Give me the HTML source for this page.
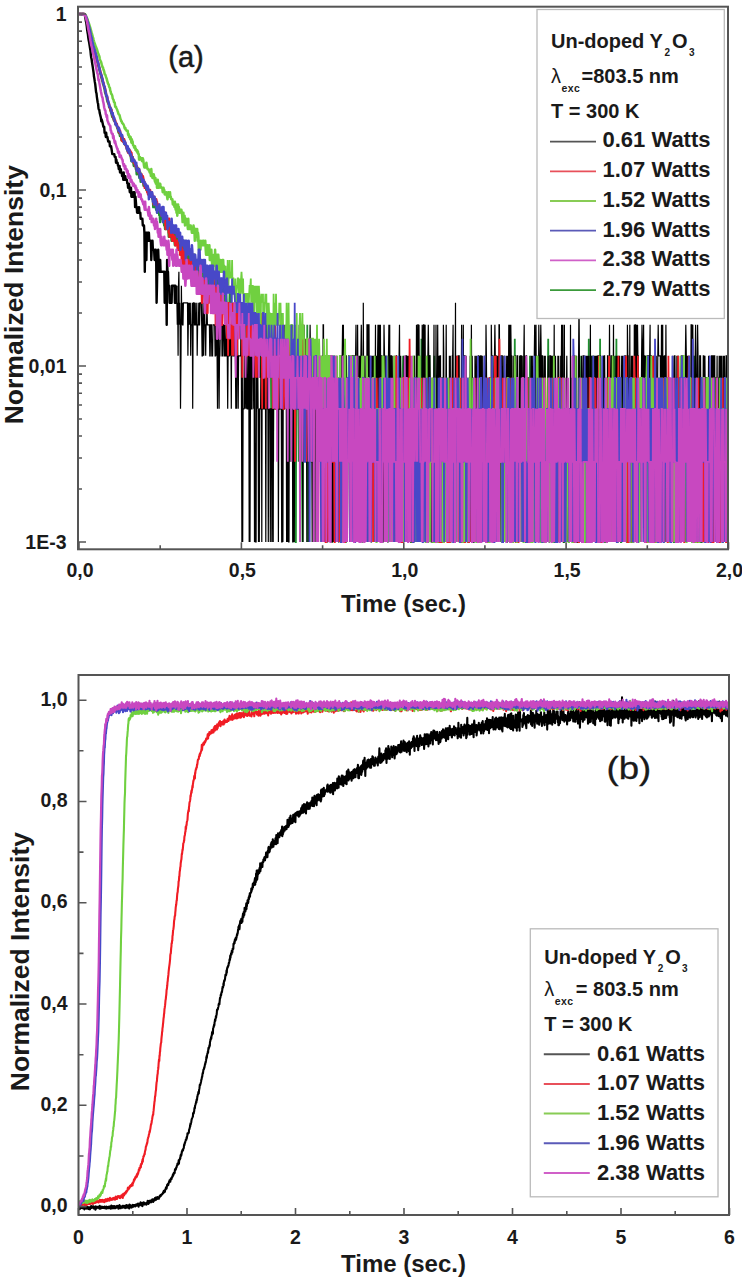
<!DOCTYPE html>
<html><head><meta charset="utf-8"><title>Figure</title>
<style>html,body{margin:0;padding:0;background:#fff;}body{width:742px;height:1280px;overflow:hidden;font-family:"Liberation Sans",sans-serif;}svg{display:block;}</style>
</head><body>
<svg width="742" height="1280" viewBox="0 0 742 1280">
<defs><clipPath id="ca"><rect x="78.0" y="6.7" width="650.0" height="542.6"/></clipPath>
<clipPath id="cb"><rect x="78.5" y="675.0" width="650.5" height="540.0"/></clipPath></defs>
<g clip-path="url(#ca)" fill="none" stroke-width="1.8" stroke-linejoin="miter">
<path stroke="#209030" stroke-width="2.5" stroke-linejoin="round" d="M79 14.4l0.4 -0.4 0.4 0.2 0.4 -0.2 0.4 0 0.4 0.2 0.4 0.2 0.4 -0.4 0.4 0 0.5 0.4 0.4 -0.4 0.4 0 0.4 0.2 0.4 -0.2 0.4 0.7 0.4 0.4 0.4 0.4 0.4 1.4 0.4 0.7 0.4 0.9 0.4 1.4 0.4 1.9 0.4 1.2 0.4 2.3 0.4 1.5 0.5 1.6 0.4 2.4 0.4 1.4 0.4 1.4 0.4 1.7 0.4 2.3 0.4 1.8 0.4 2.5 0.4 1.9 0.4 1.6 0.4 1 0.4 1.4 0.4 2 0.4 1.8 0.4 1.1 0.4 1.4 0.5 1.5 0.4 1.2 0.4 1.9 0.4 1.6 0.4 2 0.4 0.8 0.4 1.3 0.4 2.1 0.4 1.4 0.4 1.3 0.4 1.8 0.4 1.4 0.4 1.4 0.4 1.5 0.4 2.5 0.4 0.5 0.5 2.5 0.4 0.6 0.4 2.6 0.4 0.6 0.4 1.1 0.4 2.3 0.4 1.1 0.4 3 0.4 1.2 0.4 0 0.4 3.2 0.4 0 0.4 3.2 0.4 1.4 0.4 1.4 0.4 0.7 0.5 0.7 0.4 2.9 0.4 0.7 0.4 -0.7 0.4 3 0.4 1.5 0.4 0.8 0.4 1.6 0.4 1.6 0.4 1.7 0.4 -0.9 0.4 1.7 0.4 0.9 0.4 1.7 0.4 -0.9 0.4 1.8 0.5 0.9 0.4 1.8 0.4 0 0.4 0.9 0.4 1 0.4 1.9 0.4 0.9 0.4 1 0.4 2 0.4 1.1 0.4 -1.1 0.4 2.1 0.4 2.1 0.4 -1 0.4 0 0.4 2.1 0.5 3.4 0.4 -2.3 0.4 0 0.4 2.3 0.4 1.1 0.4 -2.3 0.4 1.2 0.4 3.5 0.4 -1.2 0.4 2.4 0.4 0 0.4 0 0.4 1.2 0.4 2.5 0.4 1.3 0.4 1.3 0.4 0 0.5 -1.3 0.4 2.6 0.4 0 0.4 1.4 0.4 1.4 0.4 0 0.4 2.8 0.4 2.9 0.4 -1.5 0.4 1.5 0.4 -4.3 0.4 4.3 0.4 1.5 0.4 3.2 0.4 -3.2 0.4 3.2 0.5 -3.2 0.4 1.6 0.4 4.8 0.4 -1.6 0.4 6.8 0.4 -3.5 0.4 -3.3 0.4 1.6 0.4 1.7 0.4 1.7 0.4 3.6 0.4 1.8 0.4 -3.6 0.4 -1.8 0.4 9.2 0.4 -5.6 0.5 1.8 0.4 0 0.4 3.8 0.4 0 0.4 0 0.4 4.1 0.4 0 0.4 0 0.4 0 0.4 0 0.4 0 0.4 2 0.4 2.2 0.4 0 0.4 -2.2 0.4 2.2 0.5 2.2 0.4 -2.2 0.4 0 0.4 0 0.4 4.5 0.4 0 0.4 0 0.4 2.3 0.4 -2.3 0.4 2.3 0.4 0 0.4 2.5 0.4 -2.5 0.4 10.3 0.4 -5.3 0.4 0 0.5 5.3 0.4 -7.8 0.4 7.8 0.4 0 0.4 2.7 0.4 -5.4 0.4 2.7 0.4 5.6 0.4 -2.9 0.4 0 0.4 -2.7 0.4 5.6 0.4 3 0.4 0 0.4 6.4 0.4 -3.3 0.5 -6.1 0.4 3 0.4 3.1 0.4 0 0.4 -3.1 0.4 3.1 0.4 0 0.4 3.3 0.4 3.4 0.4 -6.7 0.4 10.2 0.4 0 0.4 0 0.4 0 0.4 0 0.4 0 0.4 -3.5 0.5 3.5 0.4 0 0.4 7.7 0.4 0 0.4 -7.7 0.4 7.7 0.4 -7.7 0.4 7.7 0.4 -3.9 0.4 8 0.4 -4.1 0.4 4.1 0.4 -4.1 0.4 -3.9 0.4 8 0.4 -11.8 0.5 11.8 0.4 4.4 0.4 -4.4 0.4 4.4 0.4 -12.4 0.4 8 0.4 -4.1 0.4 4.1 0.4 -8 0.4 8 0.4 4.4 0.4 4.6 0.4 0 0.4 -4.6 0.4 0 0.4 0 0.5 9.6 0.4 -9.6 0.4 4.6 0.4 5 0.4 -5 0.4 15.9 0.4 -15.9 0.4 -9 0.4 19.2 0.4 -5.2 0.4 10.9 0.4 -5.7 0.4 -10.2 0.4 10.2 0.4 -5.2 0.4 5.2 0.5 0 0.4 -5.2 0.4 0 0.4 -5 0.4 5 0.4 10.9 0.4 -15.9 0.4 5 0.4 17 0.4 -11.8 0.4 -5.2 0.4 0 0.4 5.2 0.4 11.8 0.4 -6.1 0.4 12.8 0.5 -12.8 0.4 -10.9 0.4 5.2 0.4 0 0.4 11.8 0.4 0 0.4 6.7 0.4 -12.8 0.4 6.1 0.4 0 0.4 -11.8 0.4 25.8 0.4 -7.3 0.4 -6.7 0.4 0 0.4 0 0.5 14 0.4 -14 0.4 0 0.4 0 0.4 14 0.4 -14 0.4 0 0.4 6.7 0.4 0 0.4 0 0.4 -12.8 0.4 37.1 0.4 -17 0.4 8 0.4 -15.3 0.4 7.3 0.5 0 0.4 -14 0.4 22 0.4 -8 0.4 0 0.4 8 0.4 -15.3 0.4 0 0.4 7.3 0.4 17 0.4 -31 0.4 6.7 0.4 7.3 0.4 0 0.4 0 0.4 -7.3 0.4 7.3 0.5 8 0.4 -8 0.4 0 0.4 8 0.4 9 0.4 -24.3 0.4 7.3 0.4 -7.3 0.4 15.3 0.4 9 0.4 -17 0.4 -7.3 0.4 7.3 0.4 8 0.4 -15.3 0.4 24.3 0.5 10.2 0.4 -10.2 0.4 0 0.4 -9 0.4 -8 0.4 8 0.4 -8 0.4 17 0.4 -17 0.4 27.2 0.4 -27.2 0.4 27.2 0.4 -19.2"/>
<path stroke="#209030" d="M225.2 293.8l0.4 9 0.4 -9 0.4 0 0.5 9 0.4 0 0.4 0 0.4 22 0.4 -11.8 0.4 11.8 0.4 -22 0.4 -17 0.4 17 0.4 10.2 0.4 0 0.4 -19.2 0.4 19.2 0.4 11.8 0.4 0 0.4 0 0.5 0 0.4 -22 0.4 10.2 0.4 25.7 0.4 -13.9 0.4 0 0.4 0 0.4 13.9 0.4 -44.9 0.4 19.2 0.4 0 0.4 -10.2 0.4 22 0.4 -11.8 0.4 0 0.4 0 0.5 -19.2 0.4 19.2 0.4 11.8 0.4 -11.8 0.4 -10.2 0.4 10.2 0.4 11.8 0.4 13.9 0.4 0 0.4 0 0.4 -25.7 0.4 0 0.4 42.8 0.4 -31 0.4 13.9 0.4 -25.7 0.5 0 0.4 25.7 0.4 0 0.4 0 0.4 -13.9 0.4 31 0.4 0 0.4 -17.1 0.4 -25.7 0.4 -10.2 0.4 22 0.4 31 0.4 -31 0.4 31 0.4 -31 0.4 31 0.4 -17.1 0.5 0 0.4 -13.9 0.4 13.9 0.4 -25.7 0.4 25.7 0.4 39.1 0.4 -53 0.4 13.9 0.4 17.1 0.4 -42.8 0.4 42.8 0.4 -17.1 0.4 17.1 0.4 -31 0.4 31 0.4 -17.1 0.5 39.1 0.4 -53 0.4 53 0.4 -53 0.4 0 0.4 0 0.4 -11.8 0.4 64.8 0.4 -39.1 0.4 0 0.4 0 0.4 -13.9 0.4 31 0.4 22 0.4 -22 0.4 -31 0.5 53 0.4 -22 0.4 22 0.4 -39.1 0.4 70.1 0.4 -53 0.4 0 0.4 0 0.4 -42.8 0.4 11.8 0.4 53 0.4 -53 0.4 84 0.4 0 0.4 0 0.4 -53 0.5 0 0.4 106 0.4 -106 0.4 22 0.4 -22 0.4 22 0.4 -22 0.4 0 0.4 53 0.4 -70.1 0.4 17.1 0.4 0 0.4 -17.1 0.4 70.1 0.4 -31 0.4 31 0.5 0 0.4 -53 0.4 0 0.4 -17.1 0.4 0 0.4 39.1 0.4 31 0.4 -95.8 0.4 25.7 0.4 39.1 0.4 31 0.4 -31 0.4 0 0.4 -22 0.4 0 0.4 22 0.5 0 0.4 0 0.4 31 0.4 -31 0.4 0 0.4 0 0.4 84 0.4 -53 0.4 0 0.4 53 0.4 -53 0.4 53 0.4 -53 0.4 0 0.4 0 0.4 0 0.5 -53 0.4 22 0.4 0 0.4 0 0.4 31 0.4 0 0.4 -31 0.4 31 0.4 133.2 0.4 0 0.4 -164.2 0.4 31 0.4 0 0.4 0 0.4 0 0.4 0 0.4 53 0.5 -53 0.4 -31 0.4 0 0.4 164.2 0.4 -80.2 0.4 0 0.4 -53 0.4 -31 0.4 0 0.4 164.2 0.4 -133.2 0.4 -31 0.4 31 0.4 -53 0.4 106 0.4 -84 0.5 -39.1 0.4 123.1 0.4 -53 0.4 -31 0.4 -53 0.4 217.2 0.4 -164.2 0.4 31 0.4 0 0.4 53 0.4 0 0.4 -53 0.4 53 0.4 -106 0.4 106 0.4 -53 0.5 53 0.4 0 0.4 -53 0.4 53 0.4 -53 0.4 -53 0.4 22 0.4 31 0.4 -31 0.4 84 0.4 -53 0.4 133.2 0.4 -80.2 0.4 0 0.4 -84 0.4 31 0.5 0 0.4 0 0.4 0 0.4 0 0.4 -31 0.4 31 0.4 53 0.4 0 0.4 -84 0.4 0 0.4 31 0.4 133.2 0.4 -164.2 0.4 31 0.4 0 0.4 0 0.5 53 0.4 -106 0.4 0 0.4 106 0.4 0 0.4 -53 0.4 -31 0.4 164.2 0.4 -164.2 0.4 -22 0.4 106 0.4 -53 0.4 -31 0.4 31 0.4 133.2 0.4 0 0.5 0 0.4 0 0.4 -133.2 0.4 53 0.4 -53 0.4 0 0.4 -53 0.4 53 0.4 133.2 0.4 -164.2 0.4 84 0.4 -84 0.4 84 0.4 -53 0.4 53 0.4 -53 0.5 -31 0.4 84 0.4 -53 0.4 0 0.4 53 0.4 80.2 0.4 -133.2 0.4 133.2 0.4 0 0.4 -80.2 0.4 -53 0.4 0 0.4 0 0.4 0 0.4 53 0.4 -84 0.4 84 0.5 -84 0.4 164.2 0.4 0 0.4 -80.2 0.4 0 0.4 80.2 0.4 -133.2 0.4 -31 0.4 31 0.4 53 0.4 -84 0.4 84 0.4 -53 0.4 53 0.4 0 0.4 0 0.5 0 0.4 -84 0.4 0 0.4 0 0.4 31 0.4 0 0.4 0 0.4 -31 0.4 84 0.4 0 0.4 0 0.4 80.2 0.4 -80.2 0.4 0 0.4 80.2 0.4 -80.2 0.5 -53 0.4 53 0.4 -53 0.4 -31 0.4 84 0.4 80.2 0.4 -80.2 0.4 -53 0.4 133.2 0.4 -133.2 0.4 53 0.4 0 0.4 80.2 0.4 -80.2 0.4 -53 0.4 0 0.5 0 0.4 53 0.4 -84 0.4 0 0.4 84 0.4 80.2 0.4 -80.2 0.4 -106 0.4 106 0.4 80.2 0.4 -164.2 0.4 84 0.4 -53 0.4 0 0.4 133.2 0.4 -133.2 0.5 -31 0.4 84 0.4 -53 0.4 53 0.4 -84 0.4 0 0.4 164.2 0.4 -80.2 0.4 -53 0.4 53 0.4 80.2 0.4 -80.2 0.4 0 0.4 0 0.4 -53 0.4 0 0.5 0 0.4 0 0.4 -31 0.4 164.2 0.4 -80.2 0.4 -53 0.4 0 0.4 133.2 0.4 -164.2 0.4 164.2 0.4 -133.2 0.4 0 0.4 -31 0.4 84 0.4 0 0.4 -53 0.4 0 0.5 0 0.4 53 0.4 0 0.4 80.2 0.4 -164.2 0.4 164.2 0.4 -133.2 0.4 0 0.4 0 0.4 0 0.4 -31 0.4 84 0.4 -53 0.4 133.2 0.4 -80.2 0.4 80.2 0.5 -80.2 0.4 -84 0.4 84 0.4 -84 0.4 84 0.4 -53 0.4 53 0.4 80.2 0.4 -80.2 0.4 0 0.4 -53 0.4 53 0.4 0 0.4 -53 0.4 0 0.4 53 0.5 -53 0.4 133.2 0.4 -80.2 0.4 0 0.4 -84 0.4 84 0.4 80.2 0.4 -133.2 0.4 -31 0.4 84 0.4 0 0.4 0 0.4 0 0.4 -84 0.4 -22 0.4 53 0.5 53 0.4 -84 0.4 84 0.4 0 0.4 0 0.4 0 0.4 -53 0.4 53 0.4 -53 0.4 53 0.4 -53 0.4 53 0.4 0 0.4 -53 0.4 53 0.4 0 0.5 -84 0.4 164.2 0.4 0 0.4 -133.2 0.4 53 0.4 -84 0.4 84 0.4 80.2 0.4 -186.2 0.4 53 0.4 53 0.4 0 0.4 -53 0.4 53 0.4 -53 0.4 -31 0.5 164.2 0.4 -80.2 0.4 -53 0.4 -31 0.4 31 0.4 53 0.4 -84 0.4 84 0.4 0 0.4 -53 0.4 133.2 0.4 -203.3 0.4 39.1 0.4 31 0.4 53 0.4 80.2 0.5 -133.2 0.4 0 0.4 53 0.4 0 0.4 -53 0.4 53 0.4 80.2 0.4 -133.2 0.4 0 0.4 0 0.4 53 0.4 80.2 0.4 0 0.4 -133.2 0.4 -53 0.4 0 0.4 53 0.5 133.2 0.4 -80.2 0.4 -53 0.4 0 0.4 53 0.4 -84 0.4 164.2 0.4 0 0.4 0 0.4 0 0.4 -186.2 0.4 106 0.4 80.2 0.4 -133.2 0.4 0 0.4 53 0.5 -53 0.4 0 0.4 0 0.4 53 0.4 -53 0.4 0 0.4 0 0.4 0 0.4 0 0.4 53 0.4 0 0.4 -53 0.4 53 0.4 -84 0.4 0 0.4 164.2 0.5 -80.2 0.4 80.2 0.4 -80.2 0.4 0 0.4 0 0.4 -53 0.4 0 0.4 0 0.4 133.2 0.4 -80.2 0.4 -84 0.4 164.2 0.4 -164.2 0.4 84 0.4 -84 0.4 164.2 0.5 -80.2 0.4 -53 0.4 53 0.4 -53 0.4 133.2 0.4 -80.2 0.4 0 0.4 -53 0.4 0 0.4 53 0.4 0 0.4 0 0.4 0 0.4 80.2 0.4 -80.2 0.4 0 0.5 0 0.4 0 0.4 -84 0.4 84 0.4 -53 0.4 -31 0.4 31 0.4 53 0.4 -53 0.4 133.2 0.4 0 0.4 -80.2 0.4 0 0.4 0 0.4 -84 0.4 0 0.5 84 0.4 -53 0.4 133.2 0.4 -133.2 0.4 133.2 0.4 -164.2 0.4 84 0.4 -53 0.4 133.2 0.4 -164.2 0.4 31 0.4 -31 0.4 84 0.4 80.2 0.4 0 0.4 0 0.4 -164.2 0.5 84 0.4 80.2 0.4 -133.2 0.4 0 0.4 0 0.4 53 0.4 80.2 0.4 0 0.4 0 0.4 -164.2 0.4 31 0.4 53 0.4 -53 0.4 0 0.4 0 0.4 0 0.5 0 0.4 53 0.4 80.2 0.4 0 0.4 -164.2 0.4 31 0.4 133.2 0.4 -133.2 0.4 133.2 0.4 -80.2 0.4 80.2 0.4 -133.2 0.4 53 0.4 -53 0.4 -31 0.4 0 0.5 0 0.4 31 0.4 0 0.4 53 0.4 -53 0.4 53 0.4 80.2 0.4 -164.2 0.4 31 0.4 133.2 0.4 0 0.4 -80.2 0.4 80.2 0.4 -164.2 0.4 31 0.4 0 0.5 0 0.4 -31 0.4 84 0.4 -53 0.4 0 0.4 0 0.4 0 0.4 -31 0.4 31 0.4 53 0.4 0 0.4 80.2 0.4 -133.2 0.4 -31 0.4 84 0.4 80.2 0.5 -80.2 0.4 0 0.4 0 0.4 0 0.4 0 0.4 80.2 0.4 -164.2 0.4 84 0.4 -53 0.4 0 0.4 53 0.4 -53 0.4 53 0.4 0 0.4 0 0.4 -53 0.5 133.2 0.4 0 0.4 0 0.4 -80.2 0.4 -84 0.4 84 0.4 0 0.4 0 0.4 -84 0.4 164.2 0.4 -133.2 0.4 133.2 0.4 0 0.4 -164.2 0.4 0 0.4 31 0.5 53 0.4 -53 0.4 53 0.4 -84 0.4 0 0.4 31 0.4 133.2 0.4 -133.2 0.4 53 0.4 0 0.4 0 0.4 0 0.4 -53 0.4 0 0.4 0 0.4 -70.1 0.4 123.1 0.5 -84 0.4 84 0.4 0 0.4 80.2 0.4 -164.2 0.4 31 0.4 0 0.4 53 0.4 -53 0.4 53 0.4 -53 0.4 -53 0.4 106 0.4 0 0.4 80.2 0.4 -133.2 0.5 53 0.4 0 0.4 80.2 0.4 -80.2 0.4 80.2 0.4 -186.2 0.4 106 0.4 0 0.4 0 0.4 80.2 0.4 0 0.4 -80.2 0.4 0 0.4 80.2 0.4 -164.2 0.4 31 0.5 -31 0.4 0 0.4 84 0.4 -106 0.4 53 0.4 133.2 0.4 0 0.4 -80.2 0.4 -53 0.4 53 0.4 -84 0.4 84 0.4 -53 0.4 0 0.4 133.2 0.4 -133.2 0.5 0 0.4 -31 0.4 0 0.4 31 0.4 53 0.4 -53 0.4 -31 0.4 84 0.4 -53 0.4 0 0.4 -31 0.4 84 0.4 -53 0.4 0 0.4 53 0.4 0 0.5 0 0.4 80.2 0.4 -80.2 0.4 -53 0.4 0 0.4 0 0.4 53 0.4 -84 0.4 84 0.4 -53 0.4 0 0.4 53 0.4 0 0.4 -53 0.4 53 0.4 -53 0.5 -70.1 0.4 70.1 0.4 0 0.4 0 0.4 53 0.4 0 0.4 -53 0.4 133.2 0.4 -80.2 0.4 0 0.4 -53 0.4 133.2 0.4 -164.2 0.4 84 0.4 -53 0.4 133.2 0.5 0 0.4 -80.2 0.4 0 0.4 -53 0.4 133.2 0.4 0 0.4 -133.2 0.4 0 0.4 0 0.4 53 0.4 -53 0.4 53 0.4 -84 0.4 0 0.4 0 0.4 164.2 0.4 -133.2 0.5 53 0.4 -53 0.4 0 0.4 -31 0.4 84 0.4 0 0.4 80.2 0.4 0 0.4 -133.2 0.4 133.2 0.4 -133.2 0.4 53 0.4 0 0.4 -53 0.4 0 0.4 133.2 0.5 -80.2 0.4 0 0.4 -53 0.4 53 0.4 0 0.4 0 0.4 -53 0.4 0 0.4 53 0.4 -84 0.4 31 0.4 133.2 0.4 0 0.4 -80.2 0.4 80.2 0.4 -133.2 0.5 0 0.4 -31 0.4 31 0.4 133.2 0.4 -80.2 0.4 -53 0.4 133.2 0.4 0 0.4 -133.2 0.4 53 0.4 80.2 0.4 -80.2 0.4 0 0.4 -106 0.4 106 0.4 80.2 0.5 -133.2 0.4 0 0.4 0 0.4 -31 0.4 84 0.4 80.2 0.4 -80.2 0.4 0 0.4 -53 0.4 0 0.4 53 0.4 -53 0.4 0 0.4 53 0.4 -53 0.4 0 0.5 0 0.4 53 0.4 -53 0.4 -70.1 0.4 70.1 0.4 133.2 0.4 -80.2 0.4 0 0.4 -53 0.4 53 0.4 -106 0.4 53 0.4 -31 0.4 84 0.4 0 0.4 -106 0.5 186.2 0.4 -133.2 0.4 133.2 0.4 -164.2 0.4 164.2 0.4 -80.2 0.4 0 0.4 80.2 0.4 -186.2 0.4 106 0.4 -84 0.4 84 0.4 80.2 0.4 -133.2 0.4 0 0.4 -70.1 0.4 203.3 0.5 0 0.4 -80.2 0.4 -53 0.4 0 0.4 53 0.4 0 0.4 -53 0.4 -31 0.4 84 0.4 0 0.4 80.2 0.4 0 0.4 -133.2 0.4 53 0.4 0 0.4 -84 0.5 84 0.4 80.2 0.4 -133.2 0.4 0 0.4 133.2 0.4 -133.2 0.4 -31 0.4 84 0.4 80.2 0.4 -80.2 0.4 -84 0.4 84 0.4 0 0.4 0 0.4 -53 0.4 0 0.5 53 0.4 -84 0.4 -22 0.4 106 0.4 -53 0.4 0 0.4 -70.1 0.4 203.3 0.4 -80.2 0.4 0 0.4 80.2 0.4 -80.2 0.4 -53 0.4 133.2 0.4 -80.2 0.4 -84 0.5 84 0.4 80.2 0.4 0 0.4 -80.2 0.4 80.2 0.4 -133.2 0.4 -31 0.4 31 0.4 133.2 0.4 -133.2 0.4 53 0.4 80.2 0.4 -80.2 0.4 -53 0.4 53 0.4 -53 0.5 -53 0.4 53 0.4 0 0.4 53 0.4 -84 0.4 31 0.4 0 0.4 133.2 0.4 -133.2 0.4 133.2 0.4 -80.2 0.4 80.2 0.4 0 0.4 -164.2 0.4 164.2 0.4 -80.2 0.5 0 0.4 -53 0.4 0 0.4 133.2 0.4 -80.2 0.4 0 0.4 -53 0.4 0 0.4 53 0.4 0 0.4 80.2 0.4 -133.2 0.4 -31 0.4 31 0.4 53 0.4 80.2 0.5 -80.2 0.4 80.2 0.4 -164.2 0.4 84 0.4 0 0.4 -106 0.4 53 0.4 -31 0.4 31 0.4 -31 0.4 84 0.4 0 0.4 -53 0.4 0 0.4 -31 0.4 31 0.4 53 0.5 0 0.4 -53 0.4 53 0.4 0 0.4 -53 0.4 0 0.4 0 0.4 133.2 0.4 0 0.4 -133.2 0.4 53 0.4 0 0.4 -53 0.4 0 0.4 53 0.4 -53 0.5 133.2 0.4 -80.2 0.4 80.2 0.4 0 0.4 -133.2 0.4 133.2 0.4 -80.2 0.4 -53 0.4 0 0.4 133.2 0.4 -133.2 0.4 133.2 0.4 0 0.4 -164.2 0.4 84 0.4 -84 0.5 164.2 0.4 0 0.4 0 0.4 -164.2 0.4 31 0.4 0 0.4 53 0.4 0 0.4 0 0.4 -106 0.4 106 0.4 -84 0.4 84 0.4 -84 0.4 164.2 0.4 -80.2 0.5 -53 0.4 53 0.4 0 0.4 0 0.4 0 0.4 -84 0.4 0 0.4 164.2 0.4 -164.2 0.4 84 0.4 0 0.4 0 0.4 -53 0.4 0 0.4 53 0.4 0 0.5 80.2 0.4 -164.2 0.4 164.2 0.4 0 0.4 -80.2 0.4 0 0.4 -53 0.4 53 0.4 0 0.4 0 0.4 -84 0.4 31 0.4 133.2 0.4 -164.2 0.4 31 0.4 -31 0.5 84 0.4 0 0.4 0 0.4 80.2 0.4 -80.2 0.4 -84 0.4 31 0.4 133.2 0.4 -164.2 0.4 31 0.4 0 0.4 53 0.4 -53 0.4 53 0.4 0 0.4 80.2 0.4 -133.2 0.5 0 0.4 0 0.4 0 0.4 53 0.4 0 0.4 80.2 0.4 -133.2 0.4 0 0.4 53 0.4 80.2 0.4 -164.2 0.4 84 0.4 0 0.4 0 0.4 0 0.4 0 0.5 80.2 0.4 -80.2 0.4 -106 0.4 22 0.4 -22 0.4 106 0.4 80.2 0.4 0 0.4 0 0.4 -164.2 0.4 0 0.4 84 0.4 -53 0.4 0 0.4 53 0.4 -53 0.5 133.2 0.4 -80.2 0.4 0 0.4 80.2 0.4 0 0.4 -133.2 0.4 0 0.4 133.2 0.4 -133.2 0.4 0 0.4 0 0.4 53 0.4 -53 0.4 133.2 0.4 -80.2 0.4 80.2 0.5 -80.2 0.4 -84 0.4 0 0.4 84 0.4 0 0.4 -53 0.4 0 0.4 -31 0.4 31 0.4 133.2 0.4 -80.2 0.4 0 0.4 80.2 0.4 -80.2 0.4 0 0.4 0 0.5 -84 0.4 31 0.4 0 0.4 0 0.4 -31 0.4 164.2 0.4 -164.2 0.4 84 0.4 -84 0.4 0 0.4 31 0.4 53 0.4 -53 0.4 0 0.4 133.2 0.4 -80.2 0.5 0 0.4 -84 0.4 0 0.4 84 0.4 0 0.4 80.2 0.4 -133.2 0.4 0 0.4 -31 0.4 164.2 0.4 -133.2 0.4 53 0.4 0 0.4 0 0.4 0 0.4 -53 0.5 53 0.4 -84 0.4 84 0.4 80.2 0.4 0 0.4 -133.2 0.4 133.2 0.4 -80.2 0.4 -53"/>
<path stroke="#000000" stroke-width="2.4" stroke-linejoin="round" d="M79 14.4l0.4 -0.4 0.4 0 0.4 0 0.4 0 0.4 0 0.4 0 0.4 0 0.4 0 0.5 0 0.4 0 0.4 0.4 0.4 -0.4 0.4 0.4 0.4 0.9 0.4 0.9 0.4 2.3 0.4 2.8 0.4 1.5 0.4 3 0.4 3.6 0.4 2.8 0.4 2.2 0.4 3.5 0.4 2.4 0.5 2.5 0.4 2.6 0.4 2.7 0.4 2.1 0.4 4.3 0.4 3 0.4 1.6 0.4 3.2 0.4 2.5 0.4 2.6 0.4 2.7 0.4 2.8 0.4 3.9 0.4 2 0.4 3.1 0.4 2.1 0.5 4.5 0.4 3.6 0.4 1.2 0.4 3.8 0.4 2.6 0.4 2.8 0.4 1.4 0.4 4.3 0.4 1.6 0.4 0 0.4 3.1 0.4 1.6 0.4 1.6 0.4 1.7 0.4 3.5 0.4 -1.8 0.5 1.8 0.4 1.8 0.4 1.8 0.4 1.9 0.4 0 0.4 0 0.4 6 0.4 0 0.4 0 0.4 4.2 0.4 -4.2 0.4 4.2 0.4 0 0.4 0 0.4 2.2 0.4 2.3 0.5 0 0.4 0 0.4 0 0.4 4.8 0.4 0 0.4 0 0.4 0 0.4 2.5 0.4 2.6 0.4 2.7 0.4 0 0.4 0 0.4 0 0.4 0 0.4 0 0.4 2.8 0.5 0 0.4 0 0.4 5.8 0.4 -3 0.4 3 0.4 0 0.4 0 0.4 3.2 0.4 0 0.4 3.2 0.4 -3.2 0.4 0 0.4 6.6 0.4 0 0.4 -3.4 0.4 3.4 0.5 0 0.4 3.6 0.4 0 0.4 0 0.4 3.7 0.4 -7.3 0.4 7.3 0.4 -3.7 0.4 3.7 0.4 -3.7 0.4 3.7 0.4 0 0.4 0 0.4 0 0.4 3.9 0.4 0 0.4 4.1 0.5 -4.1 0.4 0 0.4 4.1 0.4 4.4 0.4 -4.4 0.4 4.4 0.4 -4.4 0.4 9 0.4 -4.6 0.4 4.6 0.4 0 0.4 0 0.4 -4.6 0.4 4.6 0.4 0 0.4 -4.6 0.5 14.9 0.4 -10.3 0.4 5 0.4 5.3 0.4 0 0.4 5.6 0.4 0 0.4 0 0.4 0 0.4 -5.6 0.4 0 0.4 5.6 0.4 0 0.4 0 0.4 6.1 0.4 0 0.5 0 0.4 0 0.4 0 0.4 6.7 0.4 0 0.4 0 0.4 0 0.4 7.3 0.4 39 0.4 -39 0.4 0 0.4 0 0.4 27.2 0.4 -27.2 0.4 0 0.4 8 0.5 -8 0.4 8 0.4 -8 0.4 8 0.4 0 0.4 0 0.4 0 0.4 0 0.4 19.2 0.4 -10.2 0.4 0 0.4 -9 0.4 9 0.4 0 0.4 0 0.4 0 0.5 10.2 0.4 0 0.4 -10.2 0.4 0 0.4 10.2 0.4 42.8 0.4 -17 0.4 -25.8 0.4 11.8 0.4 -22 0.4 10.2 0.4 0 0.4 11.8 0.4 0 0.4 -11.8 0.4 11.8 0.5 0 0.4 0 0.4 0 0.4 0 0.4 0 0.4 0 0.4 0 0.4 0 0.4 0 0.4 31 0.4 -17 0.4 0 0.4 -14 0.4 14 0.4 39 0.4 -64.8 0.4 11.8 0.5 0 0.4 14 0.4 0 0.4 0 0.4 17 0.4 0 0.4 0 0.4 0 0.4 0 0.4 0 0.4 -17 0.4 0 0.4 0 0.4 0 0.4 0 0.4 0 0.5 0 0.4 17 0.4 -17 0.4 17 0.4 0 0.4 -17"/>
<path stroke="#000000" stroke-width="1.2" d="M176.5 285.8l0.4 17 0.4 22 0.4 -22 0.4 53 0.4 -70 0.4 -14 0.4 53 0.4 -22 0.4 22 0.4 84 0.5 -53 0.4 -70 0.4 39 0.4 -22 0.4 22 0.4 0 0.4 -22 0.4 0 0.4 0 0.4 0 0.4 0 0.4 0 0.4 0 0.4 0 0.4 0 0.4 0 0.5 0 0.4 53 0.4 -31 0.4 -22 0.4 22 0.4 -22 0.4 22 0.4 -22 0.4 53 0.4 -31 0.4 0 0.4 0 0.4 -22 0.4 106 0.4 -84 0.4 -22 0.5 0 0.4 22 0.4 0 0.4 -22 0.4 22 0.4 0 0.4 0 0.4 -22 0.4 53 0.4 -31 0.4 0 0.4 0 0.4 -22 0.4 22 0.4 0 0.4 -22 0.5 0 0.4 0 0.4 0 0.4 22 0.4 31 0.4 0 0.4 -53 0.4 22 0.4 31 0.4 -31 0.4 -22 0.4 22 0.4 0 0.4 31 0.4 -31 0.4 0 0.5 -22 0.4 22 0.4 0 0.4 0 0.4 0 0.4 0 0.4 0 0.4 31 0.4 0 0.4 -31 0.4 0 0.4 0 0.4 31 0.4 0 0.4 0 0.4 -31 0.4 0 0.5 0 0.4 0 0.4 0 0.4 31 0.4 0 0.4 -31 0.4 31 0.4 -31 0.4 31 0.4 53 0.4 -53 0.4 -31 0.4 0 0.4 84 0.4 -53 0.4 0 0.5 -31 0.4 0 0.4 -22 0.4 0 0.4 53 0.4 0 0.4 -31 0.4 0 0.4 0 0.4 31 0.4 0 0.4 -31 0.4 31 0.4 0 0.4 0 0.4 -31 0.5 31 0.4 0 0.4 53 0.4 -53 0.4 -31 0.4 31 0.4 0 0.4 -31 0.4 31 0.4 -31 0.4 0 0.4 84 0.4 -84 0.4 -22 0.4 22 0.4 31 0.5 0 0.4 0 0.4 0 0.4 -31 0.4 31 0.4 0 0.4 53 0.4 -53 0.4 53 0.4 -84 0.4 0 0.4 31 0.4 53 0.4 -53 0.4 0 0.4 0 0.5 0 0.4 0 0.4 0 0.4 -53 0.4 106 0.4 133.2 0.4 -186.2 0.4 186.2 0.4 -133.2 0.4 0 0.4 0 0.4 -53 0.4 0 0.4 53 0.4 -53 0.4 0 0.5 53 0.4 -53 0.4 53 0.4 0 0.4 0 0.4 -84 0.4 31 0.4 186.2 0.4 -186.2 0.4 186.2 0.4 -133.2 0.4 -53 0.4 0 0.4 53 0.4 0 0.4 -84 0.4 31 0.5 0 0.4 53 0.4 -53 0.4 186.2 0.4 -186.2 0.4 186.2 0.4 0 0.4 0 0.4 -186.2 0.4 0 0.4 53 0.4 -53 0.4 53 0.4 133.2 0.4 -133.2 0.4 133.2 0.5 -133.2 0.4 0 0.4 0 0.4 -53 0.4 0 0.4 186.2 0.4 -186.2 0.4 53 0.4 0 0.4 -84 0.4 84 0.4 0 0.4 0 0.4 -53 0.4 0 0.4 186.2 0.5 -186.2 0.4 -31 0.4 0 0.4 84 0.4 0 0.4 133.2 0.4 -133.2 0.4 0 0.4 0 0.4 0 0.4 133.2 0.4 -133.2 0.4 0 0.4 0 0.4 133.2 0.4 -133.2 0.5 0 0.4 133.2 0.4 -186.2 0.4 53 0.4 0 0.4 -53 0.4 53 0.4 0 0.4 -53 0.4 0 0.4 0 0.4 53 0.4 -53 0.4 0 0.4 186.2 0.4 -133.2 0.5 0 0.4 0 0.4 -84 0.4 31 0.4 53 0.4 0 0.4 133.2 0.4 0 0.4 -186.2 0.4 186.2 0.4 -186.2 0.4 53 0.4 0 0.4 0 0.4 -84 0.4 84 0.5 -53 0.4 0 0.4 186.2 0.4 -217.2 0.4 217.2 0.4 -133.2 0.4 -53 0.4 186.2 0.4 0 0.4 -186.2 0.4 53 0.4 -53 0.4 0 0.4 53 0.4 -84 0.4 84 0.5 -84 0.4 217.2 0.4 0 0.4 -133.2 0.4 0 0.4 133.2 0.4 -133.2 0.4 -53 0.4 53 0.4 -53 0.4 0 0.4 53 0.4 0 0.4 0 0.4 0 0.4 0 0.4 0 0.5 -84 0.4 31 0.4 53 0.4 0 0.4 0 0.4 -84 0.4 84 0.4 -84 0.4 84 0.4 133.2 0.4 -217.2 0.4 84 0.4 -84 0.4 31 0.4 53 0.4 -53 0.5 53 0.4 -53 0.4 53 0.4 133.2 0.4 -186.2 0.4 53 0.4 0 0.4 -53 0.4 186.2 0.4 -186.2 0.4 0 0.4 -31 0.4 31 0.4 0 0.4 53 0.4 0 0.5 133.2 0.4 -186.2 0.4 53 0.4 0 0.4 0 0.4 -53 0.4 53 0.4 133.2 0.4 -186.2 0.4 53 0.4 0 0.4 0 0.4 133.2 0.4 -133.2 0.4 0 0.4 133.2 0.5 -133.2 0.4 -53 0.4 0 0.4 53 0.4 0 0.4 0 0.4 0 0.4 133.2 0.4 -186.2 0.4 53 0.4 133.2 0.4 -217.2 0.4 0 0.4 217.2 0.4 -133.2 0.4 133.2 0.5 -186.2 0.4 186.2 0.4 -186.2 0.4 0 0.4 0 0.4 186.2 0.4 0 0.4 -133.2 0.4 -53 0.4 53 0.4 -53 0.4 0 0.4 186.2 0.4 -133.2 0.4 0 0.4 0 0.5 133.2 0.4 -186.2 0.4 53 0.4 133.2 0.4 -186.2 0.4 53 0.4 133.2 0.4 -186.2 0.4 53 0.4 0 0.4 0 0.4 0 0.4 133.2 0.4 -186.2 0.4 53 0.4 0 0.5 0 0.4 133.2 0.4 0 0.4 -133.2 0.4 -53 0.4 53 0.4 0 0.4 0 0.4 0 0.4 -53 0.4 0 0.4 -31 0.4 84 0.4 -84 0.4 84 0.4 0 0.4 133.2 0.5 -133.2 0.4 0 0.4 -53 0.4 0 0.4 53 0.4 133.2 0.4 -133.2 0.4 0 0.4 0 0.4 -53 0.4 0 0.4 53 0.4 0 0.4 133.2 0.4 -133.2 0.4 -53 0.5 186.2 0.4 -186.2 0.4 0 0.4 0 0.4 0 0.4 53 0.4 -53 0.4 0 0.4 0 0.4 53 0.4 -53 0.4 -31 0.4 84 0.4 -53 0.4 53 0.4 -84 0.5 84 0.4 0 0.4 133.2 0.4 -186.2 0.4 186.2 0.4 -186.2 0.4 53 0.4 -53 0.4 -31 0.4 31 0.4 186.2 0.4 0 0.4 0 0.4 -239.2 0.4 106 0.4 0 0.5 0 0.4 -53 0.4 53 0.4 0 0.4 0 0.4 133.2 0.4 -217.2 0.4 0 0.4 84 0.4 0 0.4 -84 0.4 0 0.4 84 0.4 -53 0.4 53 0.4 -53 0.5 186.2 0.4 0 0.4 -186.2 0.4 53 0.4 -53 0.4 53 0.4 -53 0.4 53 0.4 0 0.4 -53 0.4 53 0.4 -84 0.4 217.2 0.4 -133.2 0.4 -53 0.4 53 0.5 -53 0.4 -31 0.4 31 0.4 53 0.4 -84 0.4 31 0.4 186.2 0.4 -217.2 0.4 84 0.4 -53 0.4 0 0.4 53 0.4 -53 0.4 186.2 0.4 0 0.4 -133.2 0.4 -84 0.5 31 0.4 0 0.4 53 0.4 -53 0.4 186.2 0.4 -133.2 0.4 -53 0.4 53 0.4 133.2 0.4 0 0.4 -186.2 0.4 -31 0.4 84 0.4 -84 0.4 217.2 0.4 -186.2 0.5 0 0.4 0 0.4 186.2 0.4 -186.2 0.4 53 0.4 0 0.4 0 0.4 0 0.4 -53 0.4 53 0.4 133.2 0.4 -133.2 0.4 0 0.4 -53 0.4 0 0.4 186.2 0.5 -133.2 0.4 0 0.4 0 0.4 133.2 0.4 -186.2 0.4 -31 0.4 84 0.4 0 0.4 -53 0.4 53 0.4 0 0.4 0 0.4 0 0.4 0 0.4 0 0.4 133.2 0.5 -186.2 0.4 53 0.4 0 0.4 -53 0.4 53 0.4 -53 0.4 0 0.4 53 0.4 133.2 0.4 -186.2 0.4 53 0.4 -53 0.4 186.2 0.4 -133.2 0.4 0 0.4 -53 0.5 53 0.4 0 0.4 133.2 0.4 -133.2 0.4 0 0.4 133.2 0.4 -133.2 0.4 0 0.4 133.2 0.4 0 0.4 -186.2 0.4 186.2 0.4 -133.2 0.4 133.2 0.4 -133.2 0.4 -84 0.5 31 0.4 53 0.4 -84 0.4 0 0.4 31 0.4 -31 0.4 84 0.4 -53 0.4 53 0.4 0 0.4 0 0.4 0 0.4 0 0.4 -84 0.4 31 0.4 53 0.5 -84 0.4 0 0.4 217.2 0.4 -133.2 0.4 -84 0.4 84 0.4 0 0.4 0 0.4 133.2 0.4 -186.2 0.4 186.2 0.4 -186.2 0.4 -31 0.4 31 0.4 53 0.4 -53 0.4 0 0.5 53 0.4 0 0.4 133.2 0.4 0 0.4 -133.2 0.4 133.2 0.4 -133.2 0.4 0 0.4 0 0.4 -84 0.4 217.2 0.4 -133.2 0.4 0 0.4 133.2 0.4 -217.2 0.4 84 0.5 0 0.4 0 0.4 -84 0.4 84 0.4 0 0.4 -53 0.4 53 0.4 133.2 0.4 -186.2 0.4 0 0.4 186.2 0.4 0 0.4 -133.2 0.4 133.2 0.4 0 0.4 0 0.5 -217.2 0.4 31 0.4 186.2 0.4 -133.2 0.4 0 0.4 0 0.4 0 0.4 -84 0.4 84 0.4 133.2 0.4 -133.2 0.4 0 0.4 0 0.4 0 0.4 133.2 0.4 -186.2 0.5 53 0.4 -53 0.4 186.2 0.4 0 0.4 -133.2 0.4 0 0.4 -53 0.4 0 0.4 -31 0.4 217.2 0.4 0 0.4 -133.2 0.4 0 0.4 0 0.4 -106 0.4 239.2 0.5 -186.2 0.4 53 0.4 0 0.4 -53 0.4 53 0.4 -53 0.4 0 0.4 0 0.4 186.2 0.4 -133.2 0.4 133.2 0.4 0 0.4 -133.2 0.4 -84 0.4 84 0.4 0 0.5 0 0.4 -84 0.4 84 0.4 -53 0.4 0 0.4 0 0.4 186.2 0.4 0 0.4 -186.2 0.4 186.2 0.4 -133.2 0.4 133.2 0.4 -133.2 0.4 0 0.4 133.2 0.4 -133.2 0.4 133.2 0.5 -133.2 0.4 -53 0.4 53 0.4 0 0.4 -84 0.4 84 0.4 -53 0.4 53 0.4 0 0.4 0 0.4 133.2 0.4 0 0.4 0 0.4 -186.2 0.4 53 0.4 133.2 0.5 -186.2 0.4 53 0.4 0 0.4 133.2 0.4 0 0.4 -186.2 0.4 0 0.4 53 0.4 -53 0.4 53 0.4 0 0.4 -53 0.4 0 0.4 53 0.4 133.2 0.4 -186.2 0.5 186.2 0.4 -133.2 0.4 133.2 0.4 -133.2 0.4 -53 0.4 53 0.4 0 0.4 0 0.4 -84 0.4 31 0.4 53 0.4 0 0.4 0 0.4 0 0.4 0 0.4 0 0.5 133.2 0.4 0 0.4 0 0.4 -133.2 0.4 133.2 0.4 -217.2 0.4 31 0.4 0 0.4 0 0.4 186.2 0.4 0 0.4 -133.2 0.4 -53 0.4 0 0.4 -31 0.4 31 0.5 0 0.4 0 0.4 53 0.4 -53 0.4 53 0.4 0 0.4 -53 0.4 186.2 0.4 -217.2 0.4 0 0.4 84 0.4 -53 0.4 53 0.4 133.2 0.4 -186.2 0.4 0 0.5 0 0.4 53 0.4 0 0.4 0 0.4 -53 0.4 53 0.4 -53 0.4 53 0.4 0 0.4 133.2 0.4 -133.2 0.4 -53 0.4 53 0.4 0 0.4 -53 0.4 53 0.5 -84 0.4 84 0.4 0 0.4 -84 0.4 217.2 0.4 -217.2 0.4 31 0.4 0 0.4 186.2 0.4 -133.2 0.4 133.2 0.4 -186.2 0.4 53 0.4 0 0.4 0 0.4 0 0.4 -53 0.5 0 0.4 53 0.4 133.2 0.4 0 0.4 -186.2 0.4 0 0.4 186.2 0.4 0 0.4 -133.2 0.4 0 0.4 -53 0.4 53 0.4 -53 0.4 0 0.4 0 0.4 53 0.5 -53 0.4 53 0.4 133.2 0.4 -133.2 0.4 -53 0.4 -31 0.4 84 0.4 133.2 0.4 -186.2 0.4 53 0.4 -53 0.4 0 0.4 53 0.4 0 0.4 0 0.4 0 0.5 133.2 0.4 -133.2 0.4 0 0.4 0 0.4 0 0.4 0 0.4 -53 0.4 53 0.4 0 0.4 -53 0.4 53 0.4 133.2 0.4 -133.2 0.4 0 0.4 -53 0.4 -31 0.5 84 0.4 0 0.4 -84 0.4 84 0.4 0 0.4 -53 0.4 53 0.4 0 0.4 0 0.4 -84 0.4 31 0.4 53 0.4 0 0.4 -53 0.4 -31 0.4 31 0.5 53 0.4 -53 0.4 0 0.4 53 0.4 0 0.4 0 0.4 -53 0.4 186.2 0.4 0 0.4 -186.2 0.4 186.2 0.4 0 0.4 -133.2 0.4 0 0.4 0 0.4 0 0.5 -53 0.4 53 0.4 133.2 0.4 0 0.4 -186.2 0.4 0 0.4 0 0.4 53 0.4 133.2 0.4 -186.2 0.4 53 0.4 133.2 0.4 -186.2 0.4 186.2 0.4 -133.2 0.4 -84 0.5 217.2 0.4 -133.2 0.4 -53 0.4 53 0.4 133.2 0.4 -133.2 0.4 0 0.4 133.2 0.4 -186.2 0.4 53 0.4 -53 0.4 53 0.4 0 0.4 0 0.4 133.2 0.4 -186.2 0.4 53 0.5 -84 0.4 217.2 0.4 -133.2 0.4 -84 0.4 217.2 0.4 0 0.4 -133.2 0.4 -84 0.4 217.2 0.4 -133.2 0.4 0 0.4 0 0.4 0 0.4 -53 0.4 53 0.4 133.2 0.5 -133.2 0.4 0 0.4 133.2 0.4 0 0.4 -133.2 0.4 133.2 0.4 -217.2 0.4 217.2 0.4 -133.2 0.4 0 0.4 0 0.4 -53 0.4 53 0.4 133.2 0.4 -186.2 0.4 0 0.5 186.2 0.4 0 0.4 -186.2 0.4 53 0.4 133.2 0.4 -186.2 0.4 186.2 0.4 0 0.4 0 0.4 0 0.4 -186.2 0.4 -53 0.4 53 0.4 53 0.4 0 0.4 0 0.5 0 0.4 -53 0.4 53 0.4 0 0.4 0 0.4 -53 0.4 0 0.4 0 0.4 53 0.4 0 0.4 -53 0.4 53 0.4 0 0.4 -53 0.4 53 0.4 -53 0.5 186.2 0.4 -186.2 0.4 53 0.4 -53 0.4 186.2 0.4 -133.2 0.4 0 0.4 -84 0.4 217.2 0.4 -186.2 0.4 186.2 0.4 0 0.4 -133.2 0.4 -53 0.4 53 0.4 -53 0.5 53 0.4 0 0.4 -53 0.4 53 0.4 -53 0.4 186.2 0.4 -133.2 0.4 -53 0.4 53 0.4 133.2 0.4 -186.2 0.4 0 0.4 53 0.4 0 0.4 0 0.4 -53 0.4 0 0.5 53 0.4 0 0.4 0 0.4 0 0.4 0 0.4 -53 0.4 186.2 0.4 -133.2 0.4 -53 0.4 0 0.4 53 0.4 0 0.4 0 0.4 133.2 0.4 0 0.4 0 0.5 -186.2 0.4 0 0.4 53 0.4 0 0.4 0 0.4 -84 0.4 84 0.4 0 0.4 0 0.4 -53 0.4 0 0.4 53 0.4 0 0.4 -53 0.4 53 0.4 -84 0.5 217.2 0.4 -133.2 0.4 0 0.4 133.2 0.4 -133.2 0.4 -53 0.4 53 0.4 -53 0.4 53 0.4 133.2 0.4 -186.2 0.4 53 0.4 0 0.4 0 0.4 -53 0.4 53 0.5 0 0.4 133.2 0.4 -133.2 0.4 -53 0.4 186.2 0.4 -186.2 0.4 53 0.4 133.2 0.4 -133.2 0.4 -53 0.4 53 0.4 -53 0.4 0 0.4 53 0.4 -53 0.4 186.2 0.5 0 0.4 -217.2 0.4 31 0.4 0 0.4 186.2 0.4 -133.2 0.4 133.2 0.4 -217.2 0.4 217.2 0.4 0 0.4 -133.2 0.4 -53 0.4 53 0.4 0 0.4 -53 0.4 53 0.5 133.2 0.4 0 0.4 -217.2 0.4 84 0.4 -84 0.4 0 0.4 31 0.4 53 0.4 -84 0.4 84 0.4 -84 0.4 31 0.4 0 0.4 53 0.4 0 0.4 0 0.5 0 0.4 0 0.4 133.2 0.4 -133.2 0.4 -53 0.4 -31 0.4 31 0.4 53 0.4 -53 0.4 -31 0.4 84 0.4 -53 0.4 0 0.4 53 0.4 0 0.4 -53 0.4 53 0.5 133.2 0.4 -186.2 0.4 0 0.4 0 0.4 0 0.4 53 0.4 0 0.4 -53 0.4 -31 0.4 217.2 0.4 -186.2 0.4 0 0.4 53 0.4 0 0.4 0 0.4 133.2 0.5 -186.2 0.4 186.2 0.4 -133.2 0.4 133.2 0.4 -186.2 0.4 0 0.4 186.2 0.4 -186.2 0.4 53 0.4 0 0.4 0 0.4 -53 0.4 -31 0.4 31 0.4 0 0.4 0 0.5 0 0.4 0 0.4 186.2 0.4 -133.2 0.4 -84 0.4 217.2 0.4 -133.2 0.4 -84 0.4 217.2 0.4 -133.2 0.4 -53 0.4 53 0.4 -53 0.4 0 0.4 53 0.4 -84 0.5 84 0.4 0 0.4 0 0.4 0 0.4 133.2 0.4 -133.2 0.4 133.2 0.4 -133.2 0.4 133.2 0.4 -133.2 0.4 0 0.4 0 0.4 0 0.4 0 0.4 133.2 0.4 -133.2 0.5 -53 0.4 53 0.4 0 0.4 0 0.4 -53 0.4 0 0.4 53 0.4 133.2 0.4 -133.2 0.4 133.2 0.4 -186.2 0.4 53 0.4 -53 0.4 53 0.4 -53 0.4 53 0.5 133.2 0.4 -133.2 0.4 0 0.4 0 0.4 -53 0.4 186.2 0.4 -186.2 0.4 0 0.4 0 0.4 186.2 0.4 -133.2 0.4 0 0.4 0 0.4 133.2 0.4 -133.2 0.4 -53 0.4 -31 0.5 31 0.4 186.2 0.4 -186.2 0.4 186.2 0.4 -133.2 0.4 -53 0.4 53 0.4 -53 0.4 53 0.4 133.2 0.4 -133.2 0.4 0 0.4 -84 0.4 0 0.4 0 0.4 217.2 0.5 -217.2 0.4 84 0.4 -53 0.4 53 0.4 0 0.4 0 0.4 -53 0.4 -31 0.4 31 0.4 53 0.4 0 0.4 0 0.4 -84 0.4 31 0.4 53 0.4 133.2 0.5 0 0.4 -186.2 0.4 0 0.4 0 0.4 53 0.4 0 0.4 133.2 0.4 0 0.4 0 0.4 -133.2 0.4 -53 0.4 0 0.4 186.2 0.4 0 0.4 -186.2 0.4 53 0.5 133.2 0.4 -133.2 0.4 0 0.4 0 0.4 0 0.4 0 0.4 0 0.4 -53 0.4 53 0.4 -53 0.4 186.2 0.4 -133.2 0.4 0 0.4 0 0.4 -53 0.4 0 0.5 186.2 0.4 -186.2 0.4 0 0.4 0 0.4 53 0.4 -53 0.4 0 0.4 186.2 0.4 -133.2 0.4 0 0.4 0 0.4 0 0.4 -53 0.4 186.2 0.4 0 0.4 0 0.5 -133.2 0.4 -53 0.4 186.2 0.4 -186.2 0.4 53 0.4 -53 0.4 186.2 0.4 -133.2 0.4 -53 0.4 53 0.4 133.2 0.4 0 0.4 -186.2 0.4 53 0.4 -53 0.4 53 0.5 0 0.4 0 0.4 -53 0.4 0 0.4 186.2 0.4 0 0.4 0 0.4 -186.2 0.4 -31"/>
<path stroke="#f01c24" stroke-width="2.5" stroke-linejoin="round" d="M79 14l0.4 0 0.4 0 0.4 0 0.4 0 0.4 0 0.4 0.2 0.4 -0.2 0.4 0 0.5 0.2 0.4 0 0.4 -0.2 0.4 0.4 0.4 -0.4 0.4 0.4 0.4 0.7 0.4 0.4 0.4 1.2 0.4 0.9 0.4 0.7 0.4 1.8 0.4 1.7 0.4 0.7 0.4 2 0.4 1.5 0.5 1.1 0.4 2.3 0.4 1.4 0.4 2.5 0.4 1.7 0.4 1.7 0.4 1.2 0.4 2.4 0.4 2.2 0.4 0.7 0.4 1.9 0.4 1.3 0.4 1 0.4 1.1 0.4 2.4 0.4 0.7 0.5 2.5 0.4 1.2 0.4 1.5 0.4 2.7 0.4 0.8 0.4 1.6 0.4 0.8 0.4 2.1 0.4 1.3 0.4 1.8 0.4 0.8 0.4 1.9 0.4 1.8 0.4 1.4 0.4 1 0.4 2.5 0.5 1 0.4 1.5 0.4 1.6 0.4 1 0.4 2.2 0.4 2.2 0.4 0 0.4 1.7 0.4 1.8 0.4 1.8 0.4 3.1 0.4 0.6 0.4 0.7 0.4 1.3 0.4 2.6 0.4 1.4 0.5 2.1 0.4 0 0.4 3.6 0.4 0 0.4 0 0.4 3 0.4 -0.7 0.4 0 0.4 2.3 0.4 2.4 0.4 0.8 0.4 1.7 0.4 0 0.4 2.5 0.4 0 0.4 1.8 0.5 -0.9 0.4 3.6 0.4 -0.9 0.4 1.8 0.4 -0.9 0.4 2.8 0.4 1 0.4 -1 0.4 2.9 0.4 2 0.4 -1 0.4 2.1 0.4 -2.1 0.4 3.1 0.4 0 0.4 2.1 0.5 4.5 0.4 -4.5 0.4 2.2 0.4 3.4 0.4 -1.1 0.4 0 0.4 -1.2 0.4 2.3 0.4 1.2 0.4 0 0.4 2.4 0.4 1.2 0.4 0 0.4 2.5 0.4 -1.3 0.4 0 0.4 5.2 0.5 -2.6 0.4 1.3 0.4 0 0.4 -1.3 0.4 5.4 0.4 -4.1 0.4 2.7 0.4 -1.4 0.4 4.2 0.4 0 0.4 1.4 0.4 0 0.4 2.9 0.4 1.5 0.4 0 0.4 -1.5 0.5 4.7 0.4 0 0.4 0 0.4 0 0.4 0 0.4 4.9 0.4 0 0.4 0 0.4 1.7 0.4 -3.4 0.4 0 0.4 3.4 0.4 0 0.4 5.4 0.4 0 0.4 -1.8 0.5 -1.8 0.4 5.5 0.4 -1.9 0.4 -1.8 0.4 1.8 0.4 5.8 0.4 -2 0.4 0 0.4 6.1 0.4 -2 0.4 0 0.4 2 0.4 -2 0.4 2 0.4 4.4 0.4 0 0.5 2.3 0.4 0 0.4 -4.5 0.4 2.2 0.4 0 0.4 -2.2 0.4 6.8 0.4 0 0.4 -2.3 0.4 -2.3 0.4 2.3 0.4 2.3 0.4 0 0.4 5 0.4 2.6 0.4 -7.6 0.5 5 0.4 -2.5 0.4 5.1 0.4 0 0.4 -5.1 0.4 2.5 0.4 0 0.4 5.3 0.4 -2.7 0.4 0 0.4 0 0.4 2.7 0.4 0 0.4 2.7 0.4 0 0.4 0 0.5 0 0.4 5.9 0.4 -3 0.4 3 0.4 -3 0.4 3 0.4 0 0.4 0 0.4 3.1 0.4 3.3 0.4 -9.4 0.4 12.8 0.4 3.5 0.4 -10.2 0.4 0 0.4 3.3 0.4 3.4 0.5 3.5 0.4 -10.2 0.4 14 0.4 -14 0.4 17.9 0.4 -3.9 0.4 0 0.4 0 0.4 -3.8 0.4 7.7 0.4 0 0.4 4.1 0.4 -11.8 0.4 7.7 0.4 4.1 0.4 -4.1 0.5 0 0.4 0 0.4 8.5 0.4 -4.4 0.4 0 0.4 0 0.4 4.4 0.4 -4.4 0.4 9 0.4 -4.6 0.4 4.6 0.4 0 0.4 0 0.4 -4.6 0.4 9.6 0.4 -9.6 0.5 9.6 0.4 -9.6 0.4 14.8 0.4 11.8 0.4 -11.8 0.4 -10.2 0.4 5 0.4 0 0.4 5.2 0.4 -5.2 0.4 10.9 0.4 -15.9 0.4 0 0.4 10.2 0.4 5.7 0.4 0 0.5 -5.7 0.4 0 0.4 11.8 0.4 -11.8 0.4 0 0.4 0 0.4 5.7 0.4 0 0.4 0 0.4 6.1 0.4 0 0.4 -11.8 0.4 18.5 0.4 -6.7 0.4 -6.1 0.4 -10.9 0.5 17 0.4 -6.1 0.4 0 0.4 0 0.4 -5.7 0.4 25.8 0.4 -20.1 0.4 12.8 0.4 -6.7 0.4 6.7 0.4 7.3 0.4 8 0.4 -15.3 0.4 0 0.4 15.3 0.4 -15.3 0.5 7.3 0.4 0 0.4 -7.3 0.4 0 0.4 24.3 0.4 -17 0.4 -7.3 0.4 15.3 0.4 -8 0.4 0 0.4 -7.3 0.4 15.3 0.4 9 0.4 -9 0.4 0 0.4 -8 0.5 0 0.4 27.2 0.4 -27.2 0.4 17 0.4 -17 0.4 0 0.4 0 0.4 8 0.4 -8 0.4 17 0.4 0 0.4 -24.3 0.4 0 0.4 7.3 0.4 0 0.4 27.2 0.4 -34.5 0.5 24.3 0.4 -9 0.4 0 0.4 9 0.4 -17 0.4 39 0.4 -39 0.4 8 0.4 19.2 0.4 -19.2 0.4 0 0.4 0 0.4 0 0.4 9 0.4 -9 0.4 0 0.5 0 0.4 9 0.4 22 0.4 -22 0.4 22 0.4 -11.8 0.4 0 0.4 -10.2 0.4 10.2 0.4 -10.2 0.4 0 0.4 10.2 0.4 0"/>
<path stroke="#f01c24" d="M225.2 313l0.4 -10.2 0.4 0 0.4 22 0.5 13.9 0.4 -35.9 0.4 10.2 0.4 42.8 0.4 -53 0.4 0 0.4 35.9 0.4 0 0.4 -13.9 0.4 13.9 0.4 -13.9 0.4 0 0.4 -22 0.4 53 0.4 -42.8 0.4 -10.2 0.5 53 0.4 -42.8 0.4 11.8 0.4 0 0.4 -11.8 0.4 -10.2 0.4 10.2 0.4 -10.2 0.4 35.9 0.4 17.1 0.4 -17.1 0.4 -13.9 0.4 -11.8 0.4 0 0.4 25.7 0.4 -25.7 0.5 11.8 0.4 0 0.4 0 0.4 0 0.4 0 0.4 0 0.4 53 0.4 -39.1 0.4 -13.9 0.4 -11.8 0.4 0 0.4 0 0.4 0 0.4 11.8 0.4 -11.8 0.4 0 0.5 11.8 0.4 31 0.4 0 0.4 -31 0.4 31 0.4 -17.1 0.4 -13.9 0.4 31 0.4 -31 0.4 13.9 0.4 17.1 0.4 -31 0.4 0 0.4 13.9 0.4 -13.9 0.4 31 0.4 -17.1 0.5 0 0.4 17.1 0.4 -17.1 0.4 -25.7 0.4 42.8 0.4 0 0.4 22 0.4 -22 0.4 0 0.4 22 0.4 -39.1 0.4 0 0.4 17.1 0.4 -17.1 0.4 -13.9 0.4 13.9 0.5 0 0.4 0 0.4 17.1 0.4 -31 0.4 -11.8 0.4 42.8 0.4 53 0.4 -53 0.4 22 0.4 -39.1 0.4 -13.9 0.4 13.9 0.4 -13.9 0.4 13.9 0.4 17.1 0.4 53 0.5 -70.1 0.4 17.1 0.4 0 0.4 0 0.4 -31 0.4 13.9 0.4 17.1 0.4 22 0.4 -22 0.4 0 0.4 -17.1 0.4 0 0.4 0 0.4 39.1 0.4 -39.1 0.4 -25.7 0.5 95.8 0.4 -31 0.4 -22 0.4 -17.1 0.4 17.1 0.4 0 0.4 -31 0.4 53 0.4 31 0.4 0 0.4 -70.1 0.4 0 0.4 39.1 0.4 31 0.4 -31 0.4 -22 0.5 -17.1 0.4 39.1 0.4 0 0.4 0 0.4 0 0.4 -22 0.4 0 0.4 0 0.4 0 0.4 0 0.4 53 0.4 0 0.4 -53 0.4 0 0.4 -17.1 0.4 39.1 0.5 31 0.4 -31 0.4 0 0.4 -22 0.4 22 0.4 -22 0.4 0 0.4 0 0.4 0 0.4 53 0.4 -70.1 0.4 0 0.4 17.1 0.4 -17.1 0.4 17.1 0.4 22 0.5 -22 0.4 22 0.4 0 0.4 -39.1 0.4 70.1 0.4 -53 0.4 22 0.4 84 0.4 -106 0.4 22 0.4 0 0.4 0 0.4 -22 0.4 0 0.4 22 0.4 0 0.4 -22 0.5 22 0.4 -22 0.4 106 0.4 -84 0.4 0 0.4 -22 0.4 53 0.4 -31 0.4 -22 0.4 -31 0.4 53 0.4 -22 0.4 53 0.4 -70.1 0.4 39.1 0.4 0 0.5 0 0.4 84 0.4 -53 0.4 0 0.4 0 0.4 -53 0.4 53 0.4 -70.1 0.4 39.1 0.4 31 0.4 -31 0.4 0 0.4 0 0.4 0 0.4 31 0.4 0 0.5 0 0.4 -53 0.4 53 0.4 0 0.4 53 0.4 -53 0.4 -31 0.4 31 0.4 -53 0.4 22 0.4 31 0.4 0 0.4 -31 0.4 0 0.4 31 0.4 133.2 0.5 -186.2 0.4 53 0.4 0 0.4 0 0.4 -53 0.4 53 0.4 0 0.4 133.2 0.4 -133.2 0.4 0 0.4 -31 0.4 0 0.4 31 0.4 -31 0.4 31 0.4 0 0.5 0 0.4 133.2 0.4 0 0.4 -186.2 0.4 186.2 0.4 -80.2 0.4 -84 0.4 84 0.4 -84 0.4 164.2 0.4 -133.2 0.4 -31 0.4 -22 0.4 0 0.4 106 0.4 -84 0.5 31 0.4 53 0.4 0 0.4 -84 0.4 31 0.4 53 0.4 0 0.4 80.2 0.4 0 0.4 -133.2 0.4 0 0.4 -31 0.4 164.2 0.4 -80.2 0.4 -53 0.4 0 0.5 0 0.4 133.2 0.4 -80.2 0.4 80.2 0.4 -164.2 0.4 31 0.4 53 0.4 -84 0.4 84 0.4 -53 0.4 0 0.4 53 0.4 -84 0.4 164.2 0.4 -80.2 0.4 0 0.4 80.2 0.5 0 0.4 -133.2 0.4 0 0.4 133.2 0.4 -133.2 0.4 0 0.4 0 0.4 53 0.4 0 0.4 -53 0.4 53 0.4 0 0.4 80.2 0.4 -133.2 0.4 -31 0.4 164.2 0.5 -80.2 0.4 -53 0.4 -31 0.4 31 0.4 53 0.4 -53 0.4 -53 0.4 53 0.4 0 0.4 -31 0.4 164.2 0.4 -133.2 0.4 -31 0.4 0 0.4 31 0.4 53 0.5 0 0.4 80.2 0.4 -80.2 0.4 80.2 0.4 -133.2 0.4 53 0.4 0 0.4 0 0.4 -53 0.4 133.2 0.4 -133.2 0.4 0 0.4 0 0.4 53 0.4 0 0.4 -53 0.5 0 0.4 53 0.4 0 0.4 0 0.4 0 0.4 0 0.4 0 0.4 0 0.4 -84 0.4 84 0.4 0 0.4 0 0.4 -53 0.4 -31 0.4 84 0.4 -53 0.5 53 0.4 -53 0.4 53 0.4 0 0.4 0 0.4 80.2 0.4 -164.2 0.4 0 0.4 84 0.4 -53 0.4 0 0.4 -31 0.4 84 0.4 -53 0.4 -31 0.4 31 0.5 0 0.4 0 0.4 53 0.4 -53 0.4 53 0.4 -84 0.4 31 0.4 53 0.4 80.2 0.4 -164.2 0.4 0 0.4 31 0.4 -31 0.4 0 0.4 31 0.4 53 0.4 -53 0.5 -31 0.4 84 0.4 80.2 0.4 -133.2 0.4 0 0.4 0 0.4 0 0.4 133.2 0.4 -80.2 0.4 0 0.4 -53 0.4 0 0.4 0 0.4 0 0.4 53 0.4 0 0.5 0 0.4 80.2 0.4 -80.2 0.4 -53 0.4 0 0.4 53 0.4 -84 0.4 164.2 0.4 -133.2 0.4 0 0.4 53 0.4 -53 0.4 53 0.4 -106 0.4 106 0.4 0 0.5 -53 0.4 133.2 0.4 -80.2 0.4 80.2 0.4 -164.2 0.4 84 0.4 0 0.4 80.2 0.4 -164.2 0.4 164.2 0.4 0 0.4 -80.2 0.4 80.2 0.4 0 0.4 -80.2 0.4 -84 0.5 0 0.4 164.2 0.4 -80.2 0.4 -53 0.4 -31 0.4 84 0.4 0 0.4 0 0.4 -53 0.4 53 0.4 -84 0.4 84 0.4 -84 0.4 31 0.4 -70.1 0.4 39.1 0.5 164.2 0.4 -133.2 0.4 133.2 0.4 -164.2 0.4 84 0.4 80.2 0.4 0 0.4 -80.2 0.4 -84 0.4 31 0.4 0 0.4 53 0.4 0 0.4 80.2 0.4 -80.2 0.4 0 0.5 0 0.4 0 0.4 0 0.4 0 0.4 -53 0.4 53 0.4 0 0.4 80.2 0.4 -80.2 0.4 0 0.4 80.2 0.4 -164.2 0.4 31 0.4 0 0.4 0 0.4 133.2 0.5 -80.2 0.4 0 0.4 -53 0.4 0 0.4 0 0.4 133.2 0.4 -80.2 0.4 -53 0.4 53 0.4 -53 0.4 133.2 0.4 -80.2 0.4 0 0.4 80.2 0.4 -133.2 0.4 -31 0.4 31 0.5 53 0.4 0 0.4 0 0.4 -53 0.4 0 0.4 -31 0.4 84 0.4 -53 0.4 53 0.4 0 0.4 0 0.4 80.2 0.4 0 0.4 -133.2 0.4 0 0.4 133.2 0.5 0 0.4 -80.2 0.4 80.2 0.4 -133.2 0.4 53 0.4 80.2 0.4 0 0.4 -133.2 0.4 -31 0.4 31 0.4 133.2 0.4 0 0.4 -80.2 0.4 0 0.4 0 0.4 -84 0.5 164.2 0.4 0 0.4 -80.2 0.4 0 0.4 0 0.4 -53 0.4 53 0.4 -53 0.4 53 0.4 -53 0.4 133.2 0.4 0 0.4 -80.2 0.4 -53 0.4 53 0.4 80.2 0.5 0 0.4 -164.2 0.4 164.2 0.4 -133.2 0.4 53 0.4 -84 0.4 31 0.4 53 0.4 -53 0.4 -31 0.4 84 0.4 80.2 0.4 0 0.4 -80.2 0.4 80.2 0.4 -80.2 0.5 -53 0.4 0 0.4 -53 0.4 106 0.4 80.2 0.4 -80.2 0.4 -53 0.4 133.2 0.4 -133.2 0.4 -31 0.4 31 0.4 -31 0.4 164.2 0.4 -133.2 0.4 133.2 0.4 0 0.5 0 0.4 -133.2 0.4 0 0.4 -31 0.4 164.2 0.4 0 0.4 -133.2 0.4 53 0.4 80.2 0.4 -133.2 0.4 0 0.4 133.2 0.4 -80.2 0.4 -53 0.4 133.2 0.4 0 0.4 -133.2 0.5 -31 0.4 164.2 0.4 -133.2 0.4 0 0.4 0 0.4 53 0.4 80.2 0.4 -133.2 0.4 53 0.4 80.2 0.4 -133.2 0.4 133.2 0.4 -80.2 0.4 -84 0.4 31 0.4 133.2 0.5 -80.2 0.4 80.2 0.4 -133.2 0.4 133.2 0.4 -133.2 0.4 53 0.4 0 0.4 -53 0.4 -31 0.4 164.2 0.4 -80.2 0.4 0 0.4 0 0.4 0 0.4 -53 0.4 53 0.5 0 0.4 80.2 0.4 -133.2 0.4 -31 0.4 0 0.4 31 0.4 -31 0.4 164.2 0.4 -133.2 0.4 0 0.4 53 0.4 -84 0.4 84 0.4 0 0.4 80.2 0.4 0 0.5 -80.2 0.4 -84 0.4 0 0.4 84 0.4 -53 0.4 -31 0.4 164.2 0.4 -80.2 0.4 80.2 0.4 -164.2 0.4 84 0.4 0 0.4 0 0.4 80.2 0.4 -186.2 0.4 22 0.5 -22 0.4 186.2 0.4 -133.2 0.4 53 0.4 80.2 0.4 -133.2 0.4 -31 0.4 0 0.4 84 0.4 -123.1 0.4 39.1 0.4 84 0.4 0 0.4 0 0.4 0 0.4 0 0.5 0 0.4 -84 0.4 84 0.4 -53 0.4 53 0.4 0 0.4 -84 0.4 31 0.4 0 0.4 53 0.4 -84 0.4 31 0.4 -31 0.4 164.2 0.4 -164.2 0.4 31 0.5 53 0.4 0 0.4 80.2 0.4 -80.2 0.4 -53 0.4 53 0.4 -84 0.4 164.2 0.4 -80.2 0.4 80.2 0.4 -80.2 0.4 -53 0.4 53 0.4 -84 0.4 84 0.4 0 0.4 0 0.5 80.2 0.4 0 0.4 -80.2 0.4 -53 0.4 133.2 0.4 0 0.4 0 0.4 0 0.4 -80.2 0.4 0 0.4 -53 0.4 53 0.4 -53 0.4 133.2 0.4 -80.2 0.4 -53 0.5 53 0.4 -53 0.4 53 0.4 0 0.4 -53 0.4 53 0.4 0 0.4 -53 0.4 133.2 0.4 -133.2 0.4 -31 0.4 0 0.4 84 0.4 -84 0.4 164.2 0.4 0 0.5 -80.2 0.4 80.2 0.4 0 0.4 0 0.4 -80.2 0.4 0 0.4 80.2 0.4 -80.2 0.4 0 0.4 0 0.4 -53 0.4 0 0.4 53 0.4 0 0.4 0 0.4 80.2 0.5 -133.2 0.4 53 0.4 -53 0.4 0 0.4 53 0.4 -53 0.4 53 0.4 0 0.4 -53 0.4 0 0.4 133.2 0.4 -133.2 0.4 0 0.4 53 0.4 0 0.4 -53 0.5 133.2 0.4 -164.2 0.4 164.2 0.4 0 0.4 0 0.4 -133.2 0.4 53 0.4 -53 0.4 133.2 0.4 -164.2 0.4 31 0.4 133.2 0.4 -80.2 0.4 80.2 0.4 -80.2 0.4 -53 0.5 53 0.4 80.2 0.4 -80.2 0.4 -53 0.4 53 0.4 -53 0.4 133.2 0.4 -133.2 0.4 53 0.4 80.2 0.4 -164.2 0.4 84 0.4 -53 0.4 53 0.4 -53 0.4 0 0.5 53 0.4 0 0.4 -53 0.4 53 0.4 80.2 0.4 -133.2 0.4 53 0.4 -53 0.4 133.2 0.4 -164.2 0.4 31 0.4 -31 0.4 0 0.4 31 0.4 53 0.4 80.2 0.4 -164.2 0.5 31 0.4 0 0.4 -31 0.4 84 0.4 80.2 0.4 -133.2 0.4 53 0.4 80.2 0.4 -133.2 0.4 53 0.4 -53 0.4 133.2 0.4 -80.2 0.4 0 0.4 0 0.4 0 0.5 -53 0.4 133.2 0.4 -133.2 0.4 0 0.4 53 0.4 0 0.4 80.2 0.4 -133.2 0.4 0 0.4 53 0.4 -53 0.4 0 0.4 0 0.4 133.2 0.4 0 0.4 -80.2 0.5 -106 0.4 53 0.4 53 0.4 0 0.4 0 0.4 -53 0.4 53 0.4 0 0.4 80.2 0.4 -80.2 0.4 80.2 0.4 0 0.4 -80.2 0.4 -84 0.4 31 0.4 0 0.5 53 0.4 -53 0.4 53 0.4 0 0.4 0 0.4 80.2 0.4 -80.2 0.4 80.2 0.4 -133.2 0.4 53 0.4 80.2 0.4 0 0.4 0 0.4 -164.2 0.4 164.2 0.4 -80.2 0.5 0 0.4 0 0.4 0 0.4 -53 0.4 53 0.4 -84 0.4 0 0.4 84 0.4 -84 0.4 84 0.4 0 0.4 80.2 0.4 -80.2 0.4 -53 0.4 0 0.4 -31 0.5 0 0.4 31 0.4 53 0.4 -84 0.4 84 0.4 80.2 0.4 -80.2 0.4 -53 0.4 0 0.4 0 0.4 0 0.4 133.2 0.4 -186.2 0.4 53 0.4 53 0.4 80.2 0.4 -133.2 0.5 133.2 0.4 0 0.4 -133.2 0.4 0 0.4 53 0.4 80.2 0.4 -133.2 0.4 53 0.4 -53 0.4 0 0.4 133.2 0.4 -133.2 0.4 133.2 0.4 -133.2 0.4 53 0.4 0 0.5 -84 0.4 84 0.4 0 0.4 -53 0.4 -53 0.4 186.2 0.4 -133.2 0.4 53 0.4 -53 0.4 53 0.4 0 0.4 -53 0.4 53 0.4 80.2 0.4 -80.2 0.4 -84 0.5 31 0.4 133.2 0.4 -80.2 0.4 80.2 0.4 -133.2 0.4 133.2 0.4 -80.2 0.4 -53 0.4 0 0.4 53 0.4 -53 0.4 -53 0.4 106 0.4 0 0.4 80.2 0.4 -80.2 0.5 -53 0.4 53 0.4 -53 0.4 133.2 0.4 -80.2 0.4 0 0.4 80.2 0.4 -133.2 0.4 53 0.4 0 0.4 -53 0.4 0 0.4 133.2 0.4 -133.2 0.4 -53 0.4 53 0.5 0 0.4 133.2 0.4 0 0.4 0 0.4 -133.2 0.4 0 0.4 133.2 0.4 -133.2 0.4 133.2 0.4 0 0.4 -80.2 0.4 0 0.4 0 0.4 -53 0.4 -31 0.4 84 0.5 0 0.4 0 0.4 -106 0.4 22 0.4 0 0.4 31 0.4 0 0.4 -31 0.4 84 0.4 80.2 0.4 0 0.4 -186.2 0.4 186.2 0.4 -80.2 0.4 0 0.4 -53 0.5 133.2 0.4 -80.2 0.4 -53 0.4 133.2 0.4 -80.2 0.4 -84 0.4 31 0.4 53 0.4 -53 0.4 53 0.4 0 0.4 0 0.4 -53 0.4 133.2 0.4 0 0.4 -133.2 0.4 -31 0.5 84 0.4 80.2 0.4 0 0.4 -133.2 0.4 53 0.4 -53 0.4 0 0.4 133.2 0.4 0 0.4 -80.2 0.4 0 0.4 80.2 0.4 0 0.4 -80.2 0.4 -84 0.4 -22 0.5 106 0.4 0 0.4 -53 0.4 53 0.4 80.2 0.4 0 0.4 -80.2 0.4 0 0.4 0 0.4 80.2 0.4 -80.2 0.4 0 0.4 80.2 0.4 0 0.4 -133.2 0.4 0 0.5 133.2 0.4 -133.2 0.4 -31 0.4 31 0.4 0 0.4 53 0.4 -53 0.4 53 0.4 -84 0.4 84 0.4 80.2 0.4 -133.2 0.4 0 0.4 0 0.4 133.2 0.4 -133.2 0.5 133.2 0.4 -164.2 0.4 31 0.4 133.2 0.4 0 0.4 -186.2 0.4 53 0.4 133.2 0.4 -133.2 0.4 53 0.4 0 0.4 -53 0.4 0 0.4 133.2 0.4 -133.2 0.4 53 0.5 80.2 0.4 -133.2 0.4 0 0.4 133.2 0.4 -164.2 0.4 31 0.4 -31 0.4 164.2 0.4 -80.2 0.4 0 0.4 0 0.4 0 0.4 80.2 0.4 -186.2 0.4 53 0.4 -31 0.5 0 0.4 84 0.4 -84 0.4 164.2 0.4 -80.2 0.4 0 0.4 0 0.4 80.2 0.4 -133.2 0.4 -31 0.4 31 0.4 0 0.4 133.2 0.4 0 0.4 -133.2 0.4 53 0.4 -53 0.5 53 0.4 -53 0.4 133.2 0.4 -133.2 0.4 -31 0.4 31 0.4 -53 0.4 106 0.4 -53 0.4 133.2 0.4 -133.2 0.4 0 0.4 53 0.4 -84 0.4 164.2 0.4 -80.2 0.5 -53 0.4 133.2 0.4 0 0.4 -133.2 0.4 53 0.4 80.2 0.4 -80.2 0.4 0 0.4 80.2 0.4 -133.2 0.4 133.2 0.4 0 0.4 -80.2 0.4 0 0.4 -84 0.4 164.2 0.5 -80.2 0.4 -53 0.4 0 0.4 53 0.4 80.2 0.4 -133.2 0.4 53 0.4 80.2 0.4 -80.2 0.4 0 0.4 -53 0.4 133.2 0.4 -80.2 0.4 -84 0.4 164.2 0.4 -80.2 0.5 -53 0.4 133.2 0.4 -80.2 0.4 80.2 0.4 -80.2 0.4 80.2 0.4 0 0.4 -80.2 0.4 0 0.4 -53 0.4 53 0.4 0 0.4 0 0.4 -53 0.4 -31 0.4 164.2 0.5 0 0.4 -164.2 0.4 164.2 0.4 0 0.4 -80.2 0.4 -84 0.4 31 0.4 53 0.4 -53 0.4 53 0.4 -53 0.4 53 0.4 -84 0.4 31 0.4 53 0.4 80.2 0.5 -133.2 0.4 0 0.4 133.2 0.4 0 0.4 -80.2 0.4 0 0.4 0 0.4 0 0.4 0 0.4 0 0.4 -84 0.4 84 0.4 80.2 0.4 -133.2 0.4 133.2 0.4 -133.2 0.5 53 0.4 -53 0.4 133.2 0.4 0 0.4 -133.2 0.4 53 0.4 -84 0.4 31 0.4 53"/>
<path stroke="#70d040" stroke-width="2.5" stroke-linejoin="round" d="M79 14l0.4 0.2 0.4 0 0.4 -0.2 0.4 0 0.4 0.4 0.4 -0.4 0.4 0 0.4 0 0.5 0.4 0.4 -0.4 0.4 0.2 0.4 0 0.4 -0.2 0.4 0.2 0.4 0.2 0.4 0.5 0.4 0.6 0.4 1.2 0.4 0.9 0.4 0.7 0.4 0.9 0.4 1.4 0.4 1 0.4 1.4 0.5 1.3 0.4 1.2 0.4 1.3 0.4 1.3 0.4 1.6 0.4 1.4 0.4 1.9 0.4 0.8 0.4 1.5 0.4 2 0.4 0.6 0.4 1.8 0.4 1.6 0.4 1.2 0.4 1 0.4 1.3 0.5 1.6 0.4 0.7 0.4 1 0.4 1 0.4 1.4 0.4 1.5 0.4 1.4 0.4 0.7 0.4 1.2 0.4 0.7 0.4 2.3 0.4 1.6 0.4 0.8 0.4 0.8 0.4 1.2 0.4 1.7 0.5 1.7 0.4 1.3 0.4 0 0.4 2.2 0.4 0.5 0.4 1.4 0.4 2.3 0.4 1 0.4 0 0.4 1.5 0.4 1.5 0.4 0.5 0.4 2 0.4 1.1 0.4 1.6 0.4 1 0.5 0.6 0.4 2.2 0.4 0.6 0.4 0.6 0.4 2.9 0.4 0.6 0.4 2.4 0.4 0 0.4 0.7 0.4 1.2 0.4 2.6 0.4 0.7 0.4 0.6 0.4 2.1 0.4 0.7 0.4 0 0.5 4.3 0.4 0 0.4 0 0.4 1.4 0.4 0.8 0.4 0.8 0.4 1.5 0.4 0.8 0.4 1.6 0.4 0.8 0.4 0 0.4 0.8 0.4 1.7 0.4 1.7 0.4 0.8 0.4 1.8 0.5 0 0.4 1.8 0.4 0 0.4 0.9 0.4 0 0.4 0.9 0.4 1 0.4 1.9 0.4 0.9 0.4 -0.9 0.4 1.9 0.4 0 0.4 1 0.4 0 0.4 0 0.4 0 0.4 4.2 0.5 -1.1 0.4 3.2 0.4 -1.1 0.4 1.1 0.4 2.2 0.4 -2.2 0.4 2.2 0.4 3.5 0.4 -3.5 0.4 2.3 0.4 0 0.4 3.6 0.4 0 0.4 1.2 0.4 1.2 0.4 -1.2 0.5 0 0.4 3.8 0.4 -1.3 0.4 1.3 0.4 1.3 0.4 -1.3 0.4 2.6 0.4 -1.3 0.4 2.7 0.4 0 0.4 5.6 0.4 -2.8 0.4 0 0.4 1.4 0.4 0 0.4 1.4 0.5 -1.4 0.4 2.9 0.4 0 0.4 -2.9 0.4 1.4 0.4 3 0.4 3.2 0.4 1.6 0.4 -3.2 0.4 0 0.4 1.6 0.4 1.6 0.4 -4.8 0.4 3.2 0.4 1.6 0.4 1.6 0.5 0 0.4 0 0.4 1.7 0.4 0 0.4 1.7 0.4 -1.7 0.4 1.7 0.4 3.6 0.4 -7 0.4 5.2 0.4 1.8 0.4 1.8 0.4 -1.8 0.4 1.8 0.4 -3.6 0.4 1.8 0.5 3.7 0.4 1.9 0.4 -3.8 0.4 5.8 0.4 -3.9 0.4 0 0.4 8 0.4 -6.1 0.4 -1.9 0.4 6 0.4 2 0.4 0 0.4 -4.1 0.4 0 0.4 0 0.4 2.1 0.5 2 0.4 0 0.4 0 0.4 0 0.4 4.4 0.4 -4.4 0.4 0 0.4 2.2 0.4 0 0.4 4.5 0.4 -2.3 0.4 2.3 0.4 0 0.4 -2.3 0.4 2.3 0.4 2.3 0.4 2.5 0.5 -4.8 0.4 -2.3 0.4 4.6 0.4 0 0.4 -2.3 0.4 -2.3 0.4 4.6 0.4 0 0.4 2.5 0.4 0 0.4 0 0.4 0 0.4 5.1 0.4 -2.6 0.4 0 0.4 2.6 0.5 2.7 0.4 -5.3 0.4 5.3 0.4 2.7 0.4 -5.4 0.4 8.3 0.4 -8.3 0.4 11.3 0.4 -5.9 0.4 -5.4 0.4 5.4 0.4 -2.7 0.4 5.6 0.4 0 0.4 0 0.4 -2.9 0.5 0 0.4 0 0.4 2.9 0.4 3 0.4 6.4 0.4 -3.3 0.4 -6.1 0.4 9.4 0.4 -6.4 0.4 0 0.4 9.8 0.4 -6.7 0.4 3.3 0.4 -3.3 0.4 3.3 0.4 0 0.5 3.4 0.4 3.5 0.4 -10.2 0.4 10.2 0.4 -3.5 0.4 0 0.4 0 0.4 3.5 0.4 -3.5 0.4 3.5 0.4 0 0.4 3.8 0.4 -3.8 0.4 3.8 0.4 -3.8 0.4 -3.5 0.5 3.5 0.4 0 0.4 11.8 0.4 -11.8 0.4 3.8 0.4 -3.8 0.4 7.7 0.4 0 0.4 -7.7 0.4 11.8 0.4 -8 0.4 3.9 0.4 13.1 0.4 -9 0.4 0 0.4 4.4 0.5 4.6 0.4 -9 0.4 4.4 0.4 0 0.4 0 0.4 0 0.4 -4.4 0.4 0 0.4 0 0.4 4.4 0.4 0 0.4 0 0.4 -4.4 0.4 9 0.4 5 0.4 -9.6 0.5 0 0.4 9.6 0.4 -9.6 0.4 9.6 0.4 -5 0.4 0 0.4 -4.6 0.4 14.8 0.4 -10.2 0.4 0 0.4 5 0.4 -5 0.4 10.2 0.4 5.7 0.4 0 0.4 -5.7 0.4 5.7 0.5 -10.9 0.4 5.2 0.4 5.7 0.4 -15.9 0.4 10.2 0.4 11.8 0.4 0 0.4 -11.8 0.4 -5.2 0.4 10.9 0.4 -5.7 0.4 -5.2 0.4 5.2 0.4 5.7 0.4 6.1 0.4 0 0.5 -11.8 0.4 5.7 0.4 6.1 0.4 0 0.4 0 0.4 -11.8 0.4 11.8 0.4 -11.8 0.4 11.8 0.4 -6.1 0.4 12.8 0.4 -6.7 0.4 0"/>
<path stroke="#70d040" d="M225.2 271.8l0.4 -6.1 0.4 12.8 0.4 -6.7 0.5 14 0.4 0 0.4 -25.8 0.4 18.5 0.4 7.3 0.4 -14 0.4 6.7 0.4 -18.5 0.4 18.5 0.4 -6.7 0.4 6.7 0.4 -6.7 0.4 6.7 0.4 -18.5 0.4 25.8 0.4 -7.3 0.5 0 0.4 15.3 0.4 -8 0.4 8 0.4 9 0.4 -24.3 0.4 34.5 0.4 -19.2 0.4 0 0.4 -8 0.4 0 0.4 -7.3 0.4 0 0.4 7.3 0.4 8 0.4 -15.3 0.5 15.3 0.4 0 0.4 -8 0.4 -7.3 0.4 -6.7 0.4 6.7 0.4 15.3 0.4 -8 0.4 -7.3 0.4 24.3 0.4 -9 0.4 0 0.4 0 0.4 0 0.4 0 0.4 9 0.5 -9 0.4 9 0.4 -9 0.4 0 0.4 9 0.4 10.2 0.4 -10.2 0.4 -9 0.4 -8 0.4 0 0.4 0 0.4 -7.3 0.4 24.3 0.4 -17 0.4 17 0.4 -17 0.4 0 0.5 27.2 0.4 -19.2 0.4 -8 0.4 27.2 0.4 -19.2 0.4 0 0.4 -8 0.4 17 0.4 -17 0.4 27.2 0.4 0 0.4 -27.2 0.4 8 0.4 19.2 0.4 -27.2 0.4 8 0.5 9 0.4 0 0.4 35.9 0.4 -35.9 0.4 -9 0.4 9 0.4 -9 0.4 9 0.4 -9 0.4 62 0.4 -53 0.4 10.2 0.4 -10.2 0.4 0 0.4 -9 0.4 9 0.5 -9 0.4 31 0.4 -11.8 0.4 25.7 0.4 -35.9 0.4 35.9 0.4 -35.9 0.4 10.2 0.4 0 0.4 11.8 0.4 -11.8 0.4 11.8 0.4 13.9 0.4 -25.7 0.4 11.8 0.4 -11.8 0.5 11.8 0.4 13.9 0.4 -44.9 0.4 19.2 0.4 -10.2 0.4 22 0.4 0 0.4 0 0.4 -31 0.4 19.2 0.4 11.8 0.4 0 0.4 0 0.4 -11.8 0.4 11.8 0.4 0 0.5 -22 0.4 10.2 0.4 0 0.4 -10.2 0.4 22 0.4 13.9 0.4 17.1 0.4 -31 0.4 0 0.4 -11.8 0.4 42.8 0.4 0 0.4 -17.1 0.4 0 0.4 17.1 0.4 -17.1 0.5 -13.9 0.4 13.9 0.4 -35.9 0.4 22 0.4 13.9 0.4 0 0.4 17.1 0.4 -53 0.4 35.9 0.4 0 0.4 -13.9 0.4 13.9 0.4 17.1 0.4 -17.1 0.4 -13.9 0.4 0 0.5 31 0.4 22 0.4 -39.1 0.4 0 0.4 17.1 0.4 -31 0.4 13.9 0.4 17.1 0.4 -31 0.4 31 0.4 0 0.4 -42.8 0.4 42.8 0.4 -17.1 0.4 17.1 0.4 0 0.4 22 0.5 0 0.4 -53 0.4 -11.8 0.4 25.7 0.4 0 0.4 17.1 0.4 0 0.4 -31 0.4 -11.8 0.4 25.7 0.4 0 0.4 -13.9 0.4 13.9 0.4 39.1 0.4 0 0.4 -22 0.5 0 0.4 53 0.4 0 0.4 -70.1 0.4 0 0.4 0 0.4 17.1 0.4 22 0.4 -22 0.4 0 0.4 22 0.4 -39.1 0.4 39.1 0.4 84 0.4 -123.1 0.4 0 0.5 17.1 0.4 -17.1 0.4 0 0.4 123.1 0.4 -106 0.4 53 0.4 -70.1 0.4 17.1 0.4 -17.1 0.4 39.1 0.4 0 0.4 -22 0.4 -31 0.4 31 0.4 53 0.4 -53 0.5 22 0.4 -39.1 0.4 17.1 0.4 22 0.4 -22 0.4 22 0.4 -22 0.4 53 0.4 -31 0.4 -22 0.4 53 0.4 0 0.4 -31 0.4 -39.1 0.4 17.1 0.4 22 0.5 -22 0.4 0 0.4 22 0.4 31 0.4 -70.1 0.4 39.1 0.4 -22 0.4 53 0.4 -31 0.4 31 0.4 -53 0.4 0 0.4 0 0.4 0 0.4 22 0.4 -22 0.5 0 0.4 53 0.4 -53 0.4 22 0.4 -22 0.4 22 0.4 0 0.4 -22 0.4 22 0.4 -22 0.4 106 0.4 -106 0.4 53 0.4 -53 0.4 106 0.4 -53 0.5 -31 0.4 0 0.4 31 0.4 0 0.4 -53 0.4 0 0.4 53 0.4 53 0.4 -53 0.4 -31 0.4 84 0.4 -53 0.4 -31 0.4 31 0.4 0 0.4 -53 0.4 0 0.5 -17.1 0.4 39.1 0.4 31 0.4 0 0.4 53 0.4 80.2 0.4 -133.2 0.4 0 0.4 -31 0.4 -22 0.4 106 0.4 0 0.4 -84 0.4 -22 0.4 0 0.4 53 0.5 -31 0.4 -22 0.4 53 0.4 53 0.4 -106 0.4 53 0.4 53 0.4 -106 0.4 53 0.4 0 0.4 -31 0.4 -22 0.4 22 0.4 0 0.4 0 0.4 0 0.5 0 0.4 164.2 0.4 -164.2 0.4 84 0.4 -53 0.4 0 0.4 0 0.4 -31 0.4 31 0.4 -31 0.4 -22 0.4 106 0.4 -84 0.4 -22 0.4 53 0.4 0 0.5 0 0.4 -31 0.4 84 0.4 -53 0.4 0 0.4 0 0.4 -53 0.4 53 0.4 -31 0.4 0 0.4 31 0.4 0 0.4 53 0.4 0 0.4 -84 0.4 31 0.5 0 0.4 -31 0.4 31 0.4 0 0.4 0 0.4 -31 0.4 0 0.4 31 0.4 53 0.4 -106 0.4 106 0.4 -53 0.4 53 0.4 80.2 0.4 0 0.4 -133.2 0.5 0 0.4 0 0.4 53 0.4 80.2 0.4 -133.2 0.4 0 0.4 133.2 0.4 -80.2 0.4 0 0.4 0 0.4 -84 0.4 164.2 0.4 -186.2 0.4 22 0.4 84 0.4 -106 0.4 22 0.5 0 0.4 31 0.4 53 0.4 80.2 0.4 -133.2 0.4 0 0.4 53 0.4 -106 0.4 53 0.4 133.2 0.4 -133.2 0.4 0 0.4 133.2 0.4 -133.2 0.4 53 0.4 80.2 0.5 -133.2 0.4 0 0.4 133.2 0.4 -133.2 0.4 53 0.4 0 0.4 80.2 0.4 -80.2 0.4 -106 0.4 53 0.4 53 0.4 -53 0.4 53 0.4 -53 0.4 53 0.4 -53 0.5 133.2 0.4 -133.2 0.4 0 0.4 53 0.4 -53 0.4 0 0.4 53 0.4 80.2 0.4 -164.2 0.4 31 0.4 53 0.4 -84 0.4 84 0.4 0 0.4 0 0.4 80.2 0.5 -80.2 0.4 0 0.4 -84 0.4 84 0.4 -84 0.4 84 0.4 0 0.4 -53 0.4 53 0.4 -53 0.4 53 0.4 0 0.4 -53 0.4 53 0.4 -53 0.4 -31 0.5 31 0.4 -31 0.4 84 0.4 -84 0.4 84 0.4 80.2 0.4 -80.2 0.4 -106 0.4 186.2 0.4 -164.2 0.4 164.2 0.4 -164.2 0.4 31 0.4 53 0.4 80.2 0.4 -133.2 0.5 0 0.4 0 0.4 -31 0.4 84 0.4 -106 0.4 53 0.4 53 0.4 -106 0.4 53 0.4 0 0.4 0 0.4 53 0.4 80.2 0.4 -80.2 0.4 80.2 0.4 -80.2 0.5 -84 0.4 164.2 0.4 -133.2 0.4 53 0.4 -53 0.4 133.2 0.4 0 0.4 -80.2 0.4 -106 0.4 186.2 0.4 0 0.4 0 0.4 -133.2 0.4 0 0.4 53 0.4 -53 0.4 133.2 0.5 -133.2 0.4 53 0.4 0 0.4 -53 0.4 -31 0.4 84 0.4 -53 0.4 133.2 0.4 0 0.4 -164.2 0.4 164.2 0.4 0 0.4 -164.2 0.4 164.2 0.4 -80.2 0.4 -53 0.5 53 0.4 80.2 0.4 0 0.4 -133.2 0.4 133.2 0.4 -133.2 0.4 53 0.4 0 0.4 -84 0.4 84 0.4 80.2 0.4 -80.2 0.4 -53 0.4 53 0.4 80.2 0.4 -133.2 0.5 133.2 0.4 0 0.4 -133.2 0.4 -31 0.4 84 0.4 80.2 0.4 -164.2 0.4 164.2 0.4 -80.2 0.4 0 0.4 -53 0.4 0 0.4 133.2 0.4 -164.2 0.4 31 0.4 53 0.5 0 0.4 0 0.4 80.2 0.4 -80.2 0.4 0 0.4 -53 0.4 53 0.4 0 0.4 -53 0.4 0 0.4 0 0.4 53 0.4 0 0.4 -84 0.4 84 0.4 80.2 0.5 -133.2 0.4 133.2 0.4 -80.2 0.4 -53 0.4 53 0.4 0 0.4 -53 0.4 -31 0.4 164.2 0.4 0 0.4 -80.2 0.4 80.2 0.4 -133.2 0.4 0 0.4 53 0.4 80.2 0.5 0 0.4 -80.2 0.4 80.2 0.4 -133.2 0.4 133.2 0.4 -80.2 0.4 0 0.4 -53 0.4 0 0.4 0 0.4 0 0.4 0 0.4 133.2 0.4 -133.2 0.4 53 0.4 -84 0.4 31 0.5 -31 0.4 84 0.4 -123.1 0.4 70.1 0.4 0 0.4 53 0.4 -53 0.4 133.2 0.4 -164.2 0.4 31 0.4 53 0.4 -84 0.4 31 0.4 0 0.4 53 0.4 -53 0.5 133.2 0.4 0 0.4 -133.2 0.4 53 0.4 80.2 0.4 -80.2 0.4 80.2 0.4 -164.2 0.4 164.2 0.4 0 0.4 -164.2 0.4 164.2 0.4 0 0.4 -80.2 0.4 0 0.4 -53 0.5 53 0.4 80.2 0.4 -80.2 0.4 0 0.4 -84 0.4 31 0.4 133.2 0.4 -80.2 0.4 0 0.4 0 0.4 -53 0.4 0 0.4 133.2 0.4 -133.2 0.4 0 0.4 133.2 0.5 0 0.4 -133.2 0.4 0 0.4 0 0.4 -31 0.4 84 0.4 80.2 0.4 -133.2 0.4 53 0.4 -53 0.4 0 0.4 53 0.4 -53 0.4 53 0.4 -53 0.4 133.2 0.5 -164.2 0.4 84 0.4 0 0.4 0 0.4 0 0.4 0 0.4 80.2 0.4 -164.2 0.4 31 0.4 53 0.4 0 0.4 -53 0.4 0 0.4 0 0.4 0 0.4 133.2 0.5 -133.2 0.4 53 0.4 0 0.4 80.2 0.4 -80.2 0.4 80.2 0.4 -133.2 0.4 133.2 0.4 -133.2 0.4 133.2 0.4 -133.2 0.4 53 0.4 80.2 0.4 -164.2 0.4 0 0.4 164.2 0.5 -80.2 0.4 -84 0.4 84 0.4 0 0.4 80.2 0.4 0 0.4 -133.2 0.4 0 0.4 53 0.4 80.2 0.4 0 0.4 0 0.4 -133.2 0.4 53 0.4 -53 0.4 -53 0.4 22 0.5 84 0.4 0 0.4 80.2 0.4 0 0.4 -164.2 0.4 84 0.4 80.2 0.4 -133.2 0.4 133.2 0.4 -80.2 0.4 0 0.4 80.2 0.4 -80.2 0.4 -53 0.4 53 0.4 -53 0.5 133.2 0.4 -80.2 0.4 -84 0.4 164.2 0.4 0 0.4 -80.2 0.4 0 0.4 0 0.4 -53 0.4 0 0.4 53 0.4 0 0.4 0 0.4 -53 0.4 133.2 0.4 -80.2 0.5 80.2 0.4 -80.2 0.4 0 0.4 0 0.4 80.2 0.4 0 0.4 -133.2 0.4 53 0.4 -53 0.4 133.2 0.4 0 0.4 -133.2 0.4 133.2 0.4 -133.2 0.4 133.2 0.4 -80.2 0.5 0 0.4 0 0.4 0 0.4 80.2 0.4 -186.2 0.4 106 0.4 -106 0.4 53 0.4 53 0.4 80.2 0.4 -164.2 0.4 31 0.4 -31 0.4 164.2 0.4 0 0.4 -80.2 0.5 -53 0.4 0 0.4 -31 0.4 164.2 0.4 0 0.4 -133.2 0.4 133.2 0.4 -80.2 0.4 -84 0.4 84 0.4 -53 0.4 53 0.4 0 0.4 -53 0.4 0 0.4 53 0.5 -84 0.4 31 0.4 133.2 0.4 -164.2 0.4 84 0.4 0 0.4 80.2 0.4 -133.2 0.4 53 0.4 80.2 0.4 0 0.4 -133.2 0.4 53 0.4 0 0.4 -106 0.4 53 0.5 0 0.4 53 0.4 0 0.4 80.2 0.4 -133.2 0.4 0 0.4 133.2 0.4 -80.2 0.4 -84 0.4 31 0.4 53 0.4 0 0.4 0 0.4 -53 0.4 0 0.4 53 0.4 -53 0.5 133.2 0.4 -80.2 0.4 -53 0.4 -31 0.4 84 0.4 -53 0.4 133.2 0.4 -133.2 0.4 -31 0.4 84 0.4 -53 0.4 0 0.4 133.2 0.4 -80.2 0.4 0 0.4 -53 0.5 0 0.4 133.2 0.4 0 0.4 -133.2 0.4 53 0.4 0 0.4 -53 0.4 53 0.4 -53 0.4 53 0.4 0 0.4 80.2 0.4 0 0.4 -80.2 0.4 80.2 0.4 -133.2 0.5 0 0.4 0 0.4 -31 0.4 -22 0.4 186.2 0.4 -80.2 0.4 -53 0.4 53 0.4 0 0.4 -53 0.4 0 0.4 133.2 0.4 -164.2 0.4 164.2 0.4 -133.2 0.4 0 0.5 133.2 0.4 -164.2 0.4 31 0.4 0 0.4 0 0.4 53 0.4 -53 0.4 0 0.4 133.2 0.4 0 0.4 -133.2 0.4 133.2 0.4 -133.2 0.4 53 0.4 -53 0.4 133.2 0.5 -80.2 0.4 0 0.4 -53 0.4 0 0.4 53 0.4 -53 0.4 0 0.4 53 0.4 -84 0.4 84 0.4 0 0.4 -53 0.4 133.2 0.4 -133.2 0.4 53 0.4 0 0.5 0 0.4 -53 0.4 53 0.4 0 0.4 -53 0.4 53 0.4 0 0.4 0 0.4 0 0.4 80.2 0.4 0 0.4 -80.2 0.4 80.2 0.4 0 0.4 -186.2 0.4 106 0.4 -53 0.5 0 0.4 0 0.4 53 0.4 -53 0.4 53 0.4 -53 0.4 133.2 0.4 -133.2 0.4 53 0.4 0 0.4 -53 0.4 53 0.4 0 0.4 -84 0.4 164.2 0.4 0 0.5 -80.2 0.4 80.2 0.4 -80.2 0.4 -84 0.4 0 0.4 164.2 0.4 -133.2 0.4 133.2 0.4 -133.2 0.4 -31 0.4 84 0.4 -84 0.4 31 0.4 -53 0.4 106 0.4 80.2 0.5 -164.2 0.4 31 0.4 0 0.4 133.2 0.4 -80.2 0.4 0 0.4 -84 0.4 31 0.4 53 0.4 80.2 0.4 0 0.4 -80.2 0.4 0 0.4 -53 0.4 -31 0.4 84 0.5 -84 0.4 164.2 0.4 -80.2 0.4 -53 0.4 53 0.4 -53 0.4 0 0.4 53 0.4 -53 0.4 -31 0.4 164.2 0.4 -164.2 0.4 84 0.4 80.2 0.4 -133.2 0.4 0 0.5 53 0.4 -53 0.4 0 0.4 53 0.4 -53 0.4 0 0.4 0 0.4 53 0.4 80.2 0.4 0 0.4 -80.2 0.4 -84 0.4 31 0.4 -31 0.4 31 0.4 0 0.5 53 0.4 -84 0.4 164.2 0.4 -133.2 0.4 53 0.4 0 0.4 -53 0.4 0 0.4 0 0.4 53 0.4 80.2 0.4 0 0.4 0 0.4 0 0.4 -133.2 0.4 -31 0.5 164.2 0.4 -164.2 0.4 0 0.4 0 0.4 0 0.4 84 0.4 0 0.4 -53 0.4 -31 0.4 31 0.4 0 0.4 0 0.4 53 0.4 -53 0.4 133.2 0.4 -164.2 0.4 0 0.5 -22 0.4 186.2 0.4 -80.2 0.4 80.2 0.4 0 0.4 0 0.4 -133.2 0.4 53 0.4 0 0.4 80.2 0.4 -133.2 0.4 -53 0.4 53 0.4 0 0.4 133.2 0.4 -164.2 0.5 84 0.4 -53 0.4 0 0.4 53 0.4 -53 0.4 53 0.4 0 0.4 80.2 0.4 0 0.4 -133.2 0.4 -31 0.4 84 0.4 0 0.4 0 0.4 -53 0.4 -31 0.5 31 0.4 53 0.4 -84 0.4 31 0.4 133.2 0.4 -80.2 0.4 -84 0.4 31 0.4 53 0.4 -53 0.4 133.2 0.4 0 0.4 -80.2 0.4 -53 0.4 -31 0.4 84 0.5 -53 0.4 -31 0.4 84 0.4 0 0.4 -53 0.4 0 0.4 0 0.4 0 0.4 133.2 0.4 0 0.4 -80.2 0.4 80.2 0.4 -164.2 0.4 84 0.4 0 0.4 -53 0.5 0 0.4 0 0.4 53 0.4 80.2 0.4 -80.2 0.4 0 0.4 80.2 0.4 -80.2 0.4 -53 0.4 133.2 0.4 -80.2 0.4 0 0.4 -53 0.4 133.2 0.4 -133.2 0.4 0 0.5 53 0.4 80.2 0.4 -80.2 0.4 -106 0.4 53 0.4 53 0.4 -53 0.4 133.2 0.4 -164.2 0.4 84 0.4 -106 0.4 0 0.4 53 0.4 0 0.4 53 0.4 -53 0.4 0 0.5 133.2 0.4 0 0.4 -133.2 0.4 53 0.4 -53 0.4 0 0.4 0 0.4 53 0.4 -53 0.4 -31 0.4 0 0.4 84 0.4 -53 0.4 53 0.4 80.2 0.4 0 0.5 -80.2 0.4 -53 0.4 0 0.4 53 0.4 -53 0.4 53 0.4 0 0.4 -53 0.4 133.2 0.4 0 0.4 -164.2 0.4 84 0.4 -53 0.4 53 0.4 0 0.4 80.2 0.5 0 0.4 -133.2 0.4 133.2 0.4 -80.2 0.4 -53 0.4 53 0.4 0 0.4 -84 0.4 31 0.4 0 0.4 53 0.4 -84 0.4 0 0.4 84 0.4 -53 0.4 53 0.5 0 0.4 80.2 0.4 -164.2 0.4 31 0.4 133.2 0.4 -164.2 0.4 0 0.4 84 0.4 0 0.4 -53 0.4 0 0.4 53 0.4 -53 0.4 133.2 0.4 -164.2 0.4 164.2 0.5 -80.2 0.4 -53 0.4 0 0.4 53 0.4 0 0.4 -84 0.4 84 0.4 80.2 0.4 -80.2 0.4 -53 0.4 0 0.4 0 0.4 0 0.4 53 0.4 -53 0.4 0 0.5 133.2 0.4 -80.2 0.4 0 0.4 -84 0.4 84 0.4 0 0.4 0 0.4 -53 0.4 0 0.4 133.2 0.4 0 0.4 -133.2 0.4 133.2 0.4 -133.2 0.4 0 0.4 0 0.5 133.2 0.4 -133.2 0.4 0 0.4 0 0.4 -31 0.4 164.2 0.4 -80.2 0.4 0 0.4 0"/>
<path stroke="#4848c8" stroke-width="2.5" stroke-linejoin="round" d="M79 14l0.4 0 0.4 0 0.4 0 0.4 0 0.4 0.2 0.4 -0.2 0.4 0.2 0.4 0 0.5 -0.2 0.4 0 0.4 0 0.4 0 0.4 0.2 0.4 0.5 0.4 0 0.4 0.8 0.4 0.9 0.4 1.2 0.4 0.9 0.4 1.6 0.4 1.5 0.4 0.9 0.4 1.5 0.4 2 0.5 1.1 0.4 2.3 0.4 1.4 0.4 1.9 0.4 2 0.4 1.7 0.4 1.2 0.4 2.1 0.4 2.5 0.4 1 0.4 2.6 0.4 1 0.4 1 0.4 2 0.4 0.4 0.4 2.1 0.5 1.1 0.4 1.9 0.4 1.1 0.4 1.1 0.4 2.8 0.4 1.2 0.4 1.2 0.4 1.3 0.4 1.7 0.4 2.2 0.4 1.7 0.4 1.9 0.4 1.4 0.4 0.9 0.4 1.5 0.4 0.5 0.5 2.5 0.4 1 0.4 3.1 0.4 0.6 0.4 1.6 0.4 1.7 0.4 0.5 0.4 2.3 0.4 1.8 0.4 1.8 0.4 2.5 0.4 1.3 0.4 -0.7 0.4 2.6 0.4 2 0.4 0.7 0.5 2.1 0.4 1.4 0.4 2.2 0.4 0 0.4 1.4 0.4 0 0.4 0.8 0.4 3.9 0.4 -0.8 0.4 2.4 0.4 -1.6 0.4 3.2 0.4 0 0.4 2.6 0.4 -0.9 0.4 3.5 0.5 0.9 0.4 2.7 0.4 -1.8 0.4 1.8 0.4 0 0.4 1.9 0.4 0 0.4 1 0.4 2.9 0.4 -2.9 0.4 0.9 0.4 3 0.4 0 0.4 1.1 0.4 1 0.4 2.1 0.5 0 0.4 -1 0.4 3.2 0.4 1.1 0.4 1.2 0.4 0 0.4 3.5 0.4 -2.4 0.4 0 0.4 1.2 0.4 1.2 0.4 1.2 0.4 1.2 0.4 2.5 0.4 1.3 0.4 -3.8 0.4 2.5 0.5 3.9 0.4 -3.9 0.4 3.9 0.4 -1.3 0.4 2.7 0.4 1.4 0.4 -1.4 0.4 2.8 0.4 4.3 0.4 -4.3 0.4 1.4 0.4 1.4 0.4 1.5 0.4 -1.5 0.4 0 0.4 1.5 0.5 1.5 0.4 1.6 0.4 1.6 0.4 -3.2 0.4 8.1 0.4 -1.7 0.4 0 0.4 0 0.4 1.7 0.4 1.7 0.4 -3.4 0.4 1.7 0.4 7.1 0.4 -1.8 0.4 1.8 0.4 -3.6 0.5 3.6 0.4 3.8 0.4 -1.9 0.4 1.9 0.4 -1.9 0.4 0 0.4 3.9 0.4 -2 0.4 2 0.4 2.1 0.4 -2.1 0.4 4.1 0.4 -2 0.4 2 0.4 2.2 0.4 -4.2 0.5 2 0.4 2.2 0.4 9.3 0.4 -9.3 0.4 4.5 0.4 -2.3 0.4 2.3 0.4 0 0.4 2.3 0.4 -4.6 0.4 0 0.4 2.3 0.4 7.3 0.4 -2.5 0.4 0 0.4 5.1 0.5 -7.6 0.4 7.6 0.4 -5.1 0.4 5.1 0.4 -2.6 0.4 5.3 0.4 5.6 0.4 -5.6 0.4 2.7 0.4 0 0.4 -2.7 0.4 0 0.4 -2.7 0.4 5.4 0.4 2.9 0.4 -2.9 0.5 2.9 0.4 3 0.4 -3 0.4 -5.6 0.4 5.6 0.4 9.4 0.4 -15 0.4 11.7 0.4 -3.1 0.4 3.1 0.4 -6.1 0.4 3 0.4 -3 0.4 6.1 0.4 0 0.4 -3.1 0.4 13.3 0.5 -3.5 0.4 0 0.4 -3.4 0.4 3.4 0.4 0 0.4 -3.4 0.4 0 0.4 3.4 0.4 7.3 0.4 -14 0.4 6.7 0.4 3.5 0.4 0 0.4 -3.5 0.4 7.3 0.4 -7.3 0.5 3.5 0.4 3.8 0.4 -7.3 0.4 7.3 0.4 -7.3 0.4 7.3 0.4 3.9 0.4 -7.7 0.4 7.7 0.4 -3.9 0.4 -3.8 0.4 7.7 0.4 4.1 0.4 -8 0.4 0 0.4 17 0.5 -13.1 0.4 0 0.4 8.5 0.4 -8.5 0.4 8.5 0.4 0 0.4 0 0.4 -4.4 0.4 4.4 0.4 4.6 0.4 -4.6 0.4 -4.4 0.4 19.2 0.4 -19.2 0.4 0 0.4 14 0.5 -5 0.4 -4.6 0.4 4.6 0.4 -9 0.4 9 0.4 5 0.4 0 0.4 -5 0.4 10.2 0.4 -5.2 0.4 0 0.4 -9.6 0.4 4.6 0.4 10.2 0.4 -5.2 0.4 17 0.5 -17 0.4 0 0.4 0 0.4 0 0.4 5.2 0.4 5.7 0.4 -5.7 0.4 0 0.4 11.8 0.4 -11.8 0.4 5.7 0.4 -5.7 0.4 -10.2 0.4 0 0.4 0 0.4 15.9 0.5 0 0.4 -5.7 0.4 11.8 0.4 -11.8 0.4 11.8 0.4 -6.1 0.4 6.1 0.4 -11.8 0.4 0 0.4 5.7 0.4 12.8 0.4 -18.5 0.4 11.8 0.4 6.7 0.4 -12.8 0.4 0 0.5 20.1 0.4 -20.1 0.4 6.1 0.4 0 0.4 0 0.4 6.7 0.4 0 0.4 -12.8 0.4 28.1 0.4 -28.1 0.4 20.1 0.4 -20.1 0.4 20.1 0.4 -20.1 0.4 28.1 0.4 -28.1 0.4 12.8 0.5 0 0.4 0 0.4 -6.7 0.4 6.7 0.4 -6.7 0.4 6.7 0.4 7.3 0.4 -20.1 0.4 12.8 0.4 0 0.4 0 0.4 0 0.4 -6.7 0.4 6.7 0.4 7.3 0.4 0 0.5 0 0.4 8 0.4 -15.3 0.4 15.3 0.4 -15.3 0.4 7.3 0.4 -7.3 0.4 7.3 0.4 0 0.4 -14 0.4 22 0.4 0 0.4 -8"/>
<path stroke="#4848c8" d="M225.2 285.8l0.4 -7.3 0.4 24.3 0.4 -9 0.5 -15.3 0.4 0 0.4 7.3 0.4 8 0.4 -8 0.4 8 0.4 -8 0.4 8 0.4 -8 0.4 8 0.4 -8 0.4 8 0.4 9 0.4 -24.3 0.4 15.3 0.4 0 0.5 0 0.4 -8 0.4 8 0.4 0 0.4 9 0.4 0 0.4 0 0.4 0 0.4 10.2 0.4 -10.2 0.4 10.2 0.4 -19.2 0.4 0 0.4 19.2 0.4 -19.2 0.4 19.2 0.5 -10.2 0.4 -9 0.4 31 0.4 13.9 0.4 -35.9 0.4 0 0.4 0 0.4 10.2 0.4 0 0.4 25.7 0.4 -44.9 0.4 44.9 0.4 -35.9 0.4 10.2 0.4 -10.2 0.4 22 0.5 0 0.4 -22 0.4 22 0.4 -11.8 0.4 11.8 0.4 -11.8 0.4 -10.2 0.4 10.2 0.4 -10.2 0.4 22 0.4 0 0.4 0 0.4 -22 0.4 22 0.4 -11.8 0.4 -10.2 0.4 10.2 0.5 0 0.4 25.7 0.4 -25.7 0.4 11.8 0.4 -11.8 0.4 0 0.4 42.8 0.4 -42.8 0.4 11.8 0.4 -11.8 0.4 11.8 0.4 0 0.4 31 0.4 -17.1 0.4 -25.7 0.4 25.7 0.5 -13.9 0.4 0 0.4 31 0.4 -17.1 0.4 0 0.4 -13.9 0.4 13.9 0.4 0 0.4 -25.7 0.4 0 0.4 11.8 0.4 31 0.4 -31 0.4 13.9 0.4 -25.7 0.4 25.7 0.5 0 0.4 0 0.4 17.1 0.4 -17.1 0.4 17.1 0.4 -17.1 0.4 -13.9 0.4 13.9 0.4 17.1 0.4 -17.1 0.4 17.1 0.4 22 0.4 -39.1 0.4 -13.9 0.4 13.9 0.4 17.1 0.5 0 0.4 -17.1 0.4 0 0.4 0 0.4 -13.9 0.4 13.9 0.4 0 0.4 17.1 0.4 -17.1 0.4 17.1 0.4 -17.1 0.4 0 0.4 -25.7 0.4 64.8 0.4 -39.1 0.4 17.1 0.5 -17.1 0.4 17.1 0.4 -31 0.4 31 0.4 22 0.4 -22 0.4 0 0.4 53 0.4 -84 0.4 53 0.4 -53 0.4 13.9 0.4 0 0.4 17.1 0.4 22 0.4 0 0.5 -39.1 0.4 39.1 0.4 -22 0.4 22 0.4 0 0.4 -39.1 0.4 39.1 0.4 0 0.4 0 0.4 -22 0.4 22 0.4 31 0.4 -31 0.4 0 0.4 -53 0.4 31 0.5 22 0.4 -22 0.4 22 0.4 -39.1 0.4 39.1 0.4 31 0.4 -106 0.4 106 0.4 -31 0.4 31 0.4 -53 0.4 53 0.4 0 0.4 -53 0.4 -17.1 0.4 39.1 0.4 31 0.5 -53 0.4 53 0.4 -31 0.4 0 0.4 31 0.4 -53 0.4 22 0.4 0 0.4 31 0.4 -53 0.4 53 0.4 -31 0.4 31 0.4 53 0.4 0 0.4 0 0.5 -53 0.4 -53 0.4 0 0.4 53 0.4 0 0.4 -53 0.4 22 0.4 0 0.4 31 0.4 0 0.4 133.2 0.4 -133.2 0.4 -70.1 0.4 17.1 0.4 53 0.4 -31 0.5 0 0.4 31 0.4 53 0.4 -53 0.4 0 0.4 -53 0.4 22 0.4 31 0.4 0 0.4 -53 0.4 0 0.4 53 0.4 0 0.4 -31 0.4 0 0.4 0 0.5 0 0.4 84 0.4 -53 0.4 0 0.4 -31 0.4 84 0.4 80.2 0.4 -133.2 0.4 0 0.4 0 0.4 0 0.4 53 0.4 -53 0.4 53 0.4 0 0.4 -84 0.5 31 0.4 -31 0.4 31 0.4 53 0.4 0 0.4 0 0.4 -53 0.4 0 0.4 0 0.4 0 0.4 53 0.4 -84 0.4 31 0.4 -31 0.4 84 0.4 -53 0.5 53 0.4 -84 0.4 31 0.4 -53 0.4 53 0.4 53 0.4 -84 0.4 -22 0.4 53 0.4 53 0.4 -53 0.4 133.2 0.4 -80.2 0.4 80.2 0.4 -80.2 0.4 80.2 0.5 -133.2 0.4 0 0.4 -31 0.4 31 0.4 53 0.4 -84 0.4 84 0.4 80.2 0.4 0 0.4 -80.2 0.4 -53 0.4 -31 0.4 84 0.4 -84 0.4 31 0.4 0 0.4 53 0.5 0 0.4 80.2 0.4 -133.2 0.4 53 0.4 -53 0.4 -31 0.4 84 0.4 -84 0.4 0 0.4 84 0.4 -106 0.4 106 0.4 80.2 0.4 -133.2 0.4 -31 0.4 31 0.5 133.2 0.4 -80.2 0.4 -84 0.4 84 0.4 0 0.4 80.2 0.4 -186.2 0.4 22 0.4 164.2 0.4 0 0.4 -133.2 0.4 0 0.4 0 0.4 0 0.4 53 0.4 -53 0.5 0 0.4 -31 0.4 31 0.4 53 0.4 0 0.4 0 0.4 -53 0.4 53 0.4 0 0.4 0 0.4 0 0.4 0 0.4 -84 0.4 0 0.4 84 0.4 -53 0.5 53 0.4 0 0.4 -53 0.4 133.2 0.4 -133.2 0.4 53 0.4 80.2 0.4 -133.2 0.4 0 0.4 0 0.4 0 0.4 133.2 0.4 -133.2 0.4 -31 0.4 164.2 0.4 -186.2 0.5 186.2 0.4 -133.2 0.4 53 0.4 -53 0.4 53 0.4 0 0.4 -53 0.4 53 0.4 -53 0.4 -31 0.4 84 0.4 80.2 0.4 -80.2 0.4 0 0.4 80.2 0.4 -133.2 0.5 53 0.4 80.2 0.4 -80.2 0.4 80.2 0.4 -80.2 0.4 -84 0.4 164.2 0.4 -164.2 0.4 84 0.4 0 0.4 0 0.4 80.2 0.4 -133.2 0.4 53 0.4 0 0.4 0 0.4 -84 0.5 84 0.4 0 0.4 -84 0.4 164.2 0.4 -133.2 0.4 -53 0.4 106 0.4 80.2 0.4 -133.2 0.4 53 0.4 -84 0.4 31 0.4 0 0.4 133.2 0.4 -164.2 0.4 31 0.5 0 0.4 0 0.4 0 0.4 0 0.4 53 0.4 80.2 0.4 -80.2 0.4 0 0.4 -53 0.4 0 0.4 133.2 0.4 -80.2 0.4 0 0.4 -53 0.4 0 0.4 0 0.5 53 0.4 0 0.4 -106 0.4 186.2 0.4 -164.2 0.4 31 0.4 0 0.4 53 0.4 0 0.4 -53 0.4 53 0.4 0 0.4 0 0.4 -53 0.4 53 0.4 0 0.5 -53 0.4 0 0.4 133.2 0.4 -80.2 0.4 -84 0.4 31 0.4 -31 0.4 164.2 0.4 -133.2 0.4 133.2 0.4 -133.2 0.4 53 0.4 0 0.4 -53 0.4 133.2 0.4 -80.2 0.5 0 0.4 -53 0.4 -31 0.4 84 0.4 80.2 0.4 -80.2 0.4 80.2 0.4 0 0.4 -133.2 0.4 53 0.4 -84 0.4 164.2 0.4 -164.2 0.4 0 0.4 84 0.4 -53 0.5 133.2 0.4 -133.2 0.4 53 0.4 80.2 0.4 -164.2 0.4 164.2 0.4 -133.2 0.4 53 0.4 -53 0.4 133.2 0.4 -133.2 0.4 53 0.4 0 0.4 -53 0.4 133.2 0.4 0 0.5 -133.2 0.4 0 0.4 53 0.4 0 0.4 80.2 0.4 -80.2 0.4 -53 0.4 53 0.4 -84 0.4 84 0.4 -53 0.4 53 0.4 0 0.4 -53 0.4 0 0.4 -31 0.4 0 0.5 84 0.4 -53 0.4 0 0.4 0 0.4 0 0.4 0 0.4 0 0.4 0 0.4 133.2 0.4 -133.2 0.4 -31 0.4 164.2 0.4 -133.2 0.4 53 0.4 0 0.4 -53 0.5 133.2 0.4 -133.2 0.4 53 0.4 80.2 0.4 -164.2 0.4 84 0.4 80.2 0.4 -80.2 0.4 -84 0.4 164.2 0.4 -164.2 0.4 84 0.4 -53 0.4 53 0.4 -84 0.4 84 0.5 -84 0.4 84 0.4 80.2 0.4 -133.2 0.4 0 0.4 0 0.4 0 0.4 53 0.4 -84 0.4 31 0.4 133.2 0.4 -80.2 0.4 0 0.4 0 0.4 -53 0.4 53 0.5 0 0.4 -53 0.4 0 0.4 -31 0.4 164.2 0.4 -80.2 0.4 0 0.4 0 0.4 80.2 0.4 0 0.4 -133.2 0.4 -31 0.4 164.2 0.4 -133.2 0.4 133.2 0.4 -133.2 0.5 -31 0.4 31 0.4 53 0.4 0 0.4 0 0.4 -84 0.4 31 0.4 0 0.4 0 0.4 133.2 0.4 0 0.4 -80.2 0.4 0 0.4 -53 0.4 53 0.4 -123.1 0.5 123.1 0.4 0 0.4 -84 0.4 84 0.4 -106 0.4 22 0.4 31 0.4 0 0.4 133.2 0.4 -164.2 0.4 31 0.4 0 0.4 -31 0.4 31 0.4 133.2 0.4 -80.2 0.4 80.2 0.5 -133.2 0.4 53 0.4 -53 0.4 53 0.4 0 0.4 80.2 0.4 -133.2 0.4 133.2 0.4 -133.2 0.4 53 0.4 -53 0.4 -31 0.4 31 0.4 0 0.4 0 0.4 53 0.5 0 0.4 -53 0.4 133.2 0.4 -80.2 0.4 -106 0.4 53 0.4 0 0.4 0 0.4 53 0.4 0 0.4 0 0.4 -84 0.4 0 0.4 84 0.4 0 0.4 -53 0.5 133.2 0.4 -133.2 0.4 -31 0.4 0 0.4 -22 0.4 106 0.4 -53 0.4 0 0.4 0 0.4 -31 0.4 31 0.4 133.2 0.4 -80.2 0.4 80.2 0.4 -133.2 0.4 -31 0.5 31 0.4 53 0.4 80.2 0.4 -80.2 0.4 0 0.4 0 0.4 0 0.4 -106 0.4 106 0.4 0 0.4 80.2 0.4 -133.2 0.4 133.2 0.4 0 0.4 -80.2 0.4 -53 0.5 133.2 0.4 -80.2 0.4 80.2 0.4 -164.2 0.4 164.2 0.4 -80.2 0.4 80.2 0.4 -80.2 0.4 -53 0.4 53 0.4 0 0.4 -84 0.4 -22 0.4 53 0.4 53 0.4 -53 0.5 133.2 0.4 0 0.4 0 0.4 -133.2 0.4 53 0.4 0 0.4 -106 0.4 106 0.4 -53 0.4 0 0.4 53 0.4 -53 0.4 133.2 0.4 -133.2 0.4 0 0.4 -31 0.5 84 0.4 -84 0.4 31 0.4 53 0.4 80.2 0.4 -133.2 0.4 53 0.4 -84 0.4 31 0.4 133.2 0.4 -80.2 0.4 -53 0.4 -31 0.4 164.2 0.4 -133.2 0.4 133.2 0.4 -80.2 0.5 80.2 0.4 -133.2 0.4 0 0.4 -31 0.4 0 0.4 84 0.4 80.2 0.4 -80.2 0.4 0 0.4 -53 0.4 53 0.4 0 0.4 -53 0.4 0 0.4 53 0.4 -53 0.5 133.2 0.4 -80.2 0.4 -53 0.4 53 0.4 80.2 0.4 -133.2 0.4 53 0.4 -84 0.4 84 0.4 0 0.4 80.2 0.4 0 0.4 0 0.4 -80.2 0.4 80.2 0.4 -133.2 0.5 0 0.4 0 0.4 53 0.4 80.2 0.4 -133.2 0.4 53 0.4 0 0.4 0 0.4 -84 0.4 164.2 0.4 -164.2 0.4 31 0.4 -31 0.4 31 0.4 -53 0.4 53 0.5 133.2 0.4 0 0.4 -80.2 0.4 -53 0.4 0 0.4 0 0.4 -31 0.4 164.2 0.4 -80.2 0.4 0 0.4 -53 0.4 133.2 0.4 -164.2 0.4 84 0.4 -84 0.4 84 0.5 0 0.4 80.2 0.4 0 0.4 -80.2 0.4 0 0.4 -53 0.4 0 0.4 53 0.4 0 0.4 80.2 0.4 -80.2 0.4 0 0.4 0 0.4 -53 0.4 0 0.4 133.2 0.5 -80.2 0.4 0 0.4 0 0.4 -84 0.4 84 0.4 0 0.4 -53 0.4 0 0.4 -31 0.4 164.2 0.4 -80.2 0.4 0 0.4 0 0.4 80.2 0.4 -133.2 0.4 -31 0.5 31 0.4 53 0.4 80.2 0.4 0 0.4 -80.2 0.4 80.2 0.4 0 0.4 0 0.4 -133.2 0.4 0 0.4 53 0.4 -53 0.4 53 0.4 -84 0.4 84 0.4 0 0.4 80.2 0.5 -80.2 0.4 0 0.4 0 0.4 -84 0.4 31 0.4 0 0.4 0 0.4 133.2 0.4 -80.2 0.4 -53 0.4 133.2 0.4 -80.2 0.4 0 0.4 -53 0.4 53 0.4 -53 0.5 0 0.4 53 0.4 0 0.4 80.2 0.4 -80.2 0.4 -53 0.4 0 0.4 0 0.4 53 0.4 -53 0.4 0 0.4 53 0.4 80.2 0.4 -203.3 0.4 17.1 0.4 186.2 0.5 -164.2 0.4 84 0.4 -84 0.4 164.2 0.4 -80.2 0.4 0 0.4 -53 0.4 0 0.4 53 0.4 80.2 0.4 -80.2 0.4 80.2 0.4 -164.2 0.4 84 0.4 80.2 0.4 -80.2 0.5 80.2 0.4 -133.2 0.4 133.2 0.4 -133.2 0.4 133.2 0.4 -164.2 0.4 84 0.4 -53 0.4 53 0.4 -106 0.4 106 0.4 -53 0.4 53 0.4 -84 0.4 164.2 0.4 0 0.5 -133.2 0.4 133.2 0.4 0 0.4 -133.2 0.4 53 0.4 80.2 0.4 -80.2 0.4 0 0.4 80.2 0.4 -133.2 0.4 0 0.4 -31 0.4 84 0.4 80.2 0.4 -186.2 0.4 53 0.5 0 0.4 133.2 0.4 -80.2 0.4 -53 0.4 133.2 0.4 0 0.4 -133.2 0.4 133.2 0.4 -133.2 0.4 53 0.4 80.2 0.4 -80.2 0.4 0 0.4 0 0.4 -53 0.4 133.2 0.4 -80.2 0.5 -53 0.4 53 0.4 0 0.4 -106 0.4 106 0.4 0 0.4 -53 0.4 53 0.4 -53 0.4 53 0.4 -84 0.4 164.2 0.4 -80.2 0.4 -53 0.4 53 0.4 -53 0.5 0 0.4 0 0.4 133.2 0.4 -133.2 0.4 53 0.4 -53 0.4 133.2 0.4 -133.2 0.4 0 0.4 0 0.4 0 0.4 0 0.4 53 0.4 -53 0.4 53 0.4 0 0.5 -53 0.4 0 0.4 -31 0.4 0 0.4 84 0.4 80.2 0.4 -133.2 0.4 133.2 0.4 0 0.4 0 0.4 -164.2 0.4 0 0.4 164.2 0.4 -80.2 0.4 -53 0.4 -31 0.5 0 0.4 164.2 0.4 -133.2 0.4 133.2 0.4 -80.2 0.4 0 0.4 0 0.4 80.2 0.4 -80.2 0.4 -106 0.4 106 0.4 0 0.4 -53 0.4 0 0.4 53 0.4 -84 0.5 0 0.4 31 0.4 0 0.4 53 0.4 -53 0.4 0 0.4 -31 0.4 164.2 0.4 -133.2 0.4 53 0.4 -84 0.4 0 0.4 84 0.4 0 0.4 0 0.4 80.2 0.5 -80.2 0.4 -53 0.4 53 0.4 80.2 0.4 -80.2 0.4 80.2 0.4 -80.2 0.4 -53 0.4 0 0.4 -31 0.4 164.2 0.4 0 0.4 -80.2 0.4 0 0.4 -53 0.4 0 0.5 53 0.4 0 0.4 -53 0.4 53 0.4 80.2 0.4 -133.2 0.4 53 0.4 0 0.4 -84 0.4 84 0.4 80.2 0.4 -133.2 0.4 -31 0.4 164.2 0.4 -133.2 0.4 133.2 0.4 -133.2 0.5 53 0.4 0 0.4 -53 0.4 -53 0.4 186.2 0.4 -80.2 0.4 80.2 0.4 -164.2 0.4 84 0.4 80.2 0.4 -133.2 0.4 0 0.4 53 0.4 -53 0.4 0 0.4 0 0.5 133.2 0.4 -133.2 0.4 0 0.4 133.2 0.4 -203.3 0.4 39.1 0.4 31 0.4 53 0.4 0 0.4 0 0.4 -53 0.4 133.2 0.4 0 0.4 -164.2 0.4 164.2 0.4 -164.2 0.5 84 0.4 80.2 0.4 0 0.4 -164.2 0.4 31 0.4 133.2 0.4 -164.2 0.4 31 0.4 53 0.4 80.2 0.4 0 0.4 -80.2 0.4 -53 0.4 -31 0.4 0 0.4 31 0.5 133.2 0.4 -80.2 0.4 -53 0.4 53 0.4 0 0.4 0 0.4 0 0.4 -53 0.4 0 0.4 133.2 0.4 -80.2 0.4 80.2 0.4 0 0.4 -133.2 0.4 53 0.4 -106 0.5 53 0.4 0 0.4 53 0.4 0 0.4 -53 0.4 53 0.4 -84 0.4 31 0.4 0 0.4 0 0.4 133.2 0.4 -164.2 0.4 84 0.4 0 0.4 -53 0.4 53 0.5 0 0.4 80.2 0.4 -164.2 0.4 0 0.4 164.2 0.4 -164.2 0.4 -22 0.4 22 0.4 0 0.4 84 0.4 80.2 0.4 -80.2 0.4 -53 0.4 -31 0.4 0 0.4 84 0.4 -53 0.5 53 0.4 80.2 0.4 -80.2 0.4 -84 0.4 31 0.4 0 0.4 0 0.4 -53 0.4 53 0.4 53 0.4 80.2 0.4 -80.2 0.4 -53 0.4 53 0.4 -53 0.4 53 0.5 -123.1 0.4 123.1 0.4 -84 0.4 84 0.4 -53 0.4 0 0.4 0 0.4 133.2 0.4 -164.2 0.4 31 0.4 133.2 0.4 -80.2 0.4 -53 0.4 53 0.4 -53 0.4 133.2 0.5 -133.2 0.4 0 0.4 53 0.4 -53 0.4 0 0.4 -31 0.4 0 0.4 31 0.4 0 0.4 53 0.4 0 0.4 0 0.4 0 0.4 -53 0.4 53 0.4 80.2 0.5 0 0.4 -80.2 0.4 -53 0.4 53 0.4 80.2 0.4 -80.2 0.4 -53 0.4 133.2 0.4 -80.2 0.4 80.2 0.4 -186.2 0.4 186.2 0.4 0 0.4 -133.2 0.4 53 0.4 -53 0.5 133.2 0.4 -80.2 0.4 0 0.4 -53 0.4 -31 0.4 84 0.4 80.2 0.4 -133.2 0.4 133.2 0.4 -133.2 0.4 0 0.4 53 0.4 80.2 0.4 0 0.4 -80.2 0.4 0 0.5 80.2 0.4 -80.2 0.4 0 0.4 0 0.4 -53 0.4 0 0.4 -31 0.4 164.2 0.4 -133.2 0.4 133.2 0.4 0 0.4 -133.2 0.4 53 0.4 0 0.4 80.2 0.4 -164.2 0.5 0 0.4 84 0.4 -53 0.4 53 0.4 80.2 0.4 -133.2 0.4 53 0.4 80.2 0.4 -133.2"/>
<path stroke="#c848c0" stroke-width="2.5" stroke-linejoin="round" d="M79 14l0.4 0.2 0.4 -0.2 0.4 0 0.4 0 0.4 0 0.4 0 0.4 0 0.4 0.2 0.5 -0.2 0.4 0 0.4 0.7 0.4 -0.7 0.4 0.4 0.4 0.3 0.4 0.4 0.4 1.3 0.4 1.4 0.4 1.2 0.4 1.6 0.4 1.9 0.4 2 0.4 2.1 0.4 2.6 0.4 1.9 0.5 2.2 0.4 2 0.4 2.3 0.4 2.7 0.4 2.2 0.4 2.6 0.4 1.3 0.4 1.4 0.4 2 0.4 2.2 0.4 1.8 0.4 1.8 0.4 2.3 0.4 1.6 0.4 2 0.4 1.2 0.5 2.6 0.4 2.1 0.4 2.2 0.4 1.4 0.4 2.4 0.4 0.4 0.4 3 0.4 3.5 0.4 -0.5 0.4 2.6 0.4 2.2 0.4 2.2 0.4 2.3 0.4 2.4 0.4 1.8 0.4 1.9 0.5 1.9 0.4 0.7 0.4 3.3 0.4 1.4 0.4 2.1 0.4 2.9 0.4 1.5 0.4 1.5 0.4 0 0.4 4 0.4 0 0.4 2.5 0.4 -1.7 0.4 5.1 0.4 0.9 0.4 0.9 0.5 1.8 0.4 0 0.4 0.9 0.4 1 0.4 0 0.4 4.8 0.4 0 0.4 2.1 0.4 1 0.4 0 0.4 0 0.4 4.3 0.4 -2.2 0.4 3.3 0.4 1.2 0.4 2.3 0.5 -1.2 0.4 2.4 0.4 1.2 0.4 1.2 0.4 1.2 0.4 1.3 0.4 0 0.4 3.9 0.4 -1.3 0.4 0 0.4 1.3 0.4 4.2 0.4 -1.4 0.4 0 0.4 0 0.4 1.4 0.5 1.4 0.4 1.4 0.4 0 0.4 3 0.4 1.6 0.4 1.6 0.4 -1.6 0.4 1.6 0.4 3.2 0.4 -3.2 0.4 3.2 0.4 0 0.4 0 0.4 3.4 0.4 0 0.4 -1.7 0.4 5.3 0.5 1.8 0.4 -3.6 0.4 1.8 0.4 1.8 0.4 -1.8 0.4 5.6 0.4 -1.9 0.4 0 0.4 1.9 0.4 0 0.4 2 0.4 2.1 0.4 0 0.4 -2.1 0.4 2.1 0.4 0 0.5 2 0.4 -2 0.4 4.2 0.4 -2.2 0.4 2.2 0.4 2.2 0.4 -2.2 0.4 2.2 0.4 0 0.4 4.6 0.4 -4.6 0.4 4.6 0.4 0 0.4 0 0.4 -2.3 0.4 4.8 0.5 0 0.4 0 0.4 2.5 0.4 0 0.4 2.6 0.4 0 0.4 -2.6 0.4 5.3 0.4 2.7 0.4 -8 0.4 8 0.4 0 0.4 0 0.4 0 0.4 0 0.4 0 0.5 2.9 0.4 3 0.4 -8.6 0.4 5.6 0.4 0 0.4 6.1 0.4 0 0.4 0 0.4 -3.1 0.4 6.4 0.4 -3.3 0.4 3.3 0.4 0 0.4 -3.3 0.4 3.3 0.4 3.4 0.5 -3.4 0.4 6.9 0.4 -6.9 0.4 3.4 0.4 -6.7 0.4 6.7 0.4 -3.4 0.4 3.4 0.4 7.3 0.4 -3.8 0.4 7.7 0.4 0 0.4 -3.9 0.4 -3.8 0.4 0 0.4 11.8 0.5 4.4 0.4 -8.5 0.4 8.5 0.4 -4.4 0.4 0 0.4 4.4 0.4 0 0.4 -4.4 0.4 -4.1 0.4 8.5 0.4 -4.4 0.4 0 0.4 0 0.4 4.4 0.4 4.6 0.4 -4.6 0.4 9.6 0.5 -5 0.4 -9 0.4 4.4 0.4 20.5 0.4 -15.9 0.4 0 0.4 5 0.4 -5 0.4 0 0.4 5 0.4 0 0.4 5.2 0.4 -10.2 0.4 15.9 0.4 -10.9 0.4 5.2 0.5 -5.2 0.4 5.2 0.4 0 0.4 5.7 0.4 0 0.4 -15.9 0.4 15.9 0.4 -10.9 0.4 5.2 0.4 0 0.4 0 0.4 5.7 0.4 -5.7 0.4 5.7 0.4 0 0.4 -5.7 0.5 5.7 0.4 0 0.4 6.1 0.4 -6.1 0.4 0 0.4 0 0.4 12.8 0.4 -6.7 0.4 6.7 0.4 -12.8 0.4 12.8 0.4 7.3 0.4 -7.3 0.4 0 0.4 -18.5 0.4 18.5 0.5 -6.7 0.4 6.7 0.4 -6.7 0.4 -6.1 0.4 6.1 0.4 -6.1 0.4 6.1 0.4 6.7 0.4 -6.7 0.4 6.7 0.4 7.3 0.4 -20.1 0.4 20.1 0.4 0 0.4 0 0.4 -14 0.5 14 0.4 -7.3 0.4 7.3 0.4 -14 0.4 6.7 0.4 7.3 0.4 -14 0.4 22 0.4 -22 0.4 6.7 0.4 15.3 0.4 -8 0.4 -7.3 0.4 15.3 0.4 0 0.4 -15.3 0.5 -12.8 0.4 6.1 0.4 14 0.4 0 0.4 8 0.4 -15.3 0.4 15.3 0.4 -8 0.4 0 0.4 0 0.4 0 0.4 27.2 0.4 -19.2 0.4 -8 0.4 -7.3 0.4 7.3 0.5 0 0.4 17 0.4 -9 0.4 0 0.4 -8 0.4 8 0.4 0 0.4 -8 0.4 8 0.4 -8 0.4 27.2 0.4 -19.2 0.4 0 0.4 -8 0.4 8 0.4 19.2 0.4 0 0.5 -27.2 0.4 8 0.4 9 0.4 10.2 0.4 -19.2 0.4 9 0.4 0 0.4 10.2 0.4 25.7 0.4 -35.9 0.4 -17 0.4 17 0.4 10.2 0.4 -19.2 0.4 19.2 0.4 25.7 0.5 -25.7 0.4 -10.2 0.4 10.2 0.4 0 0.4 0 0.4 0 0.4 -19.2 0.4 19.2 0.4 -10.2 0.4 0 0.4 10.2 0.4 -10.2 0.4 22"/>
<path stroke="#c848c0" d="M225.2 324.8l0.4 -11.8 0.4 0 0.4 -10.2 0.5 0 0.4 22 0.4 0 0.4 13.9 0.4 -13.9 0.4 0 0.4 0 0.4 13.9 0.4 -35.9 0.4 10.2 0.4 -10.2 0.4 10.2 0.4 0 0.4 11.8 0.4 -11.8 0.4 0 0.5 11.8 0.4 0 0.4 -22 0.4 0 0.4 22 0.4 31 0.4 22 0.4 -53 0.4 0 0.4 0 0.4 0 0.4 0 0.4 13.9 0.4 0 0.4 -25.7 0.4 -10.2 0.5 22 0.4 0 0.4 0 0.4 0 0.4 13.9 0.4 0 0.4 -25.7 0.4 25.7 0.4 -13.9 0.4 31 0.4 -31 0.4 0 0.4 13.9 0.4 0 0.4 39.1 0.4 -22 0.5 -17.1 0.4 0 0.4 0 0.4 17.1 0.4 -17.1 0.4 0 0.4 -25.7 0.4 25.7 0.4 0 0.4 0 0.4 17.1 0.4 0 0.4 -17.1 0.4 17.1 0.4 0 0.4 -17.1 0.4 -13.9 0.5 53 0.4 -22 0.4 -17.1 0.4 0 0.4 -13.9 0.4 0 0.4 31 0.4 -17.1 0.4 -13.9 0.4 0 0.4 31 0.4 0 0.4 0 0.4 -17.1 0.4 39.1 0.4 -39.1 0.5 17.1 0.4 -17.1 0.4 0 0.4 0 0.4 0 0.4 17.1 0.4 0 0.4 -17.1 0.4 17.1 0.4 22 0.4 0 0.4 -53 0.4 53 0.4 -39.1 0.4 17.1 0.4 0 0.5 0 0.4 0 0.4 -17.1 0.4 17.1 0.4 22 0.4 -22 0.4 53 0.4 -53 0.4 -17.1 0.4 17.1 0.4 -17.1 0.4 0 0.4 39.1 0.4 -39.1 0.4 39.1 0.4 -22 0.5 22 0.4 -22 0.4 53 0.4 -31 0.4 31 0.4 -70.1 0.4 39.1 0.4 0 0.4 31 0.4 -31 0.4 -22 0.4 106 0.4 -106 0.4 22 0.4 -39.1 0.4 17.1 0.5 0 0.4 0 0.4 0 0.4 53 0.4 -70.1 0.4 17.1 0.4 53 0.4 -53 0.4 22 0.4 -39.1 0.4 39.1 0.4 0 0.4 -22 0.4 22 0.4 -39.1 0.4 17.1 0.5 53 0.4 -31 0.4 0 0.4 -39.1 0.4 70.1 0.4 53 0.4 -123.1 0.4 39.1 0.4 -22 0.4 22 0.4 0 0.4 -22 0.4 22 0.4 31 0.4 53 0.4 -84 0.5 -22 0.4 0 0.4 53 0.4 -53 0.4 53 0.4 0 0.4 -31 0.4 0 0.4 31 0.4 -31 0.4 0 0.4 0 0.4 0 0.4 -22 0.4 22 0.4 31 0.4 -31 0.5 0 0.4 31 0.4 133.2 0.4 -164.2 0.4 0 0.4 -22 0.4 53 0.4 -31 0.4 84 0.4 -84 0.4 0 0.4 31 0.4 -31 0.4 -22 0.4 0 0.4 53 0.5 -31 0.4 -22 0.4 53 0.4 0 0.4 0 0.4 -31 0.4 31 0.4 53 0.4 -84 0.4 -39.1 0.4 39.1 0.4 -22 0.4 22 0.4 31 0.4 53 0.4 -84 0.5 31 0.4 -31 0.4 0 0.4 0 0.4 164.2 0.4 -164.2 0.4 0 0.4 0 0.4 -22 0.4 53 0.4 -31 0.4 164.2 0.4 -164.2 0.4 0 0.4 84 0.4 80.2 0.5 -80.2 0.4 -53 0.4 -53 0.4 106 0.4 -84 0.4 0 0.4 0 0.4 84 0.4 -84 0.4 84 0.4 80.2 0.4 -133.2 0.4 53 0.4 80.2 0.4 -164.2 0.4 0 0.5 0 0.4 84 0.4 0 0.4 80.2 0.4 -133.2 0.4 0 0.4 0 0.4 -31 0.4 84 0.4 -53 0.4 133.2 0.4 -164.2 0.4 0 0.4 164.2 0.4 0 0.4 -186.2 0.5 0 0.4 22 0.4 0 0.4 84 0.4 -53 0.4 -31 0.4 31 0.4 53 0.4 -53 0.4 53 0.4 -106 0.4 106 0.4 0 0.4 80.2 0.4 -164.2 0.4 31 0.5 0 0.4 0 0.4 0 0.4 0 0.4 53 0.4 -53 0.4 53 0.4 -53 0.4 0 0.4 0 0.4 53 0.4 -106 0.4 53 0.4 133.2 0.4 0 0.4 -133.2 0.4 0 0.5 0 0.4 133.2 0.4 -133.2 0.4 0 0.4 -31 0.4 164.2 0.4 -80.2 0.4 0 0.4 0 0.4 0 0.4 -53 0.4 53 0.4 -53 0.4 133.2 0.4 -80.2 0.4 -106 0.5 186.2 0.4 -164.2 0.4 0 0.4 84 0.4 -53 0.4 0 0.4 133.2 0.4 0 0.4 -80.2 0.4 80.2 0.4 -133.2 0.4 133.2 0.4 -164.2 0.4 -22 0.4 106 0.4 80.2 0.5 -133.2 0.4 53 0.4 0 0.4 80.2 0.4 0 0.4 -133.2 0.4 133.2 0.4 0 0.4 -133.2 0.4 0 0.4 53 0.4 80.2 0.4 -164.2 0.4 84 0.4 -53 0.4 133.2 0.5 0 0.4 -80.2 0.4 -84 0.4 164.2 0.4 -80.2 0.4 0 0.4 -84 0.4 84 0.4 -53 0.4 0 0.4 0 0.4 -31 0.4 164.2 0.4 -133.2 0.4 0 0.4 133.2 0.5 -80.2 0.4 -53 0.4 53 0.4 0 0.4 -84 0.4 31 0.4 53 0.4 -53 0.4 53 0.4 0 0.4 -53 0.4 133.2 0.4 -80.2 0.4 0 0.4 0 0.4 0 0.5 0 0.4 0 0.4 80.2 0.4 -80.2 0.4 80.2 0.4 -133.2 0.4 0 0.4 133.2 0.4 0 0.4 0 0.4 0 0.4 0 0.4 -133.2 0.4 53 0.4 -53 0.4 0 0.4 0 0.5 133.2 0.4 -164.2 0.4 84 0.4 80.2 0.4 -80.2 0.4 0 0.4 -53 0.4 133.2 0.4 -80.2 0.4 0 0.4 -53 0.4 53 0.4 -53 0.4 0 0.4 133.2 0.4 -133.2 0.5 53 0.4 -84 0.4 31 0.4 133.2 0.4 -164.2 0.4 84 0.4 0 0.4 0 0.4 -53 0.4 53 0.4 0 0.4 0 0.4 0 0.4 80.2 0.4 -80.2 0.4 80.2 0.5 -164.2 0.4 31 0.4 0 0.4 133.2 0.4 0 0.4 0 0.4 0 0.4 -133.2 0.4 53 0.4 0 0.4 80.2 0.4 -164.2 0.4 164.2 0.4 -80.2 0.4 0 0.4 0 0.5 0 0.4 -53 0.4 -53 0.4 53 0.4 0 0.4 133.2 0.4 -164.2 0.4 0 0.4 84 0.4 -53 0.4 133.2 0.4 0 0.4 -133.2 0.4 133.2 0.4 -133.2 0.4 0 0.5 133.2 0.4 -80.2 0.4 -84 0.4 -22 0.4 106 0.4 -84 0.4 164.2 0.4 -80.2 0.4 -53 0.4 0 0.4 53 0.4 -53 0.4 0 0.4 -31 0.4 31 0.4 53 0.5 -53 0.4 53 0.4 -53 0.4 -31 0.4 31 0.4 -31 0.4 31 0.4 0 0.4 53 0.4 0 0.4 0 0.4 0 0.4 80.2 0.4 -133.2 0.4 133.2 0.4 -80.2 0.5 0 0.4 -84 0.4 31 0.4 -31 0.4 84 0.4 -53 0.4 0 0.4 53 0.4 -53 0.4 133.2 0.4 0 0.4 -80.2 0.4 80.2 0.4 -133.2 0.4 53 0.4 0 0.4 -53 0.5 0 0.4 0 0.4 0 0.4 0 0.4 0 0.4 133.2 0.4 -80.2 0.4 0 0.4 0 0.4 0 0.4 -53 0.4 53 0.4 0 0.4 -53 0.4 133.2 0.4 0 0.5 -133.2 0.4 133.2 0.4 -133.2 0.4 133.2 0.4 -133.2 0.4 0 0.4 0 0.4 0 0.4 0 0.4 133.2 0.4 -164.2 0.4 84 0.4 -53 0.4 53 0.4 -53 0.4 0 0.5 53 0.4 -53 0.4 53 0.4 0 0.4 -84 0.4 31 0.4 53 0.4 0 0.4 -53 0.4 133.2 0.4 -80.2 0.4 80.2 0.4 -80.2 0.4 0 0.4 -53 0.4 53 0.5 -53 0.4 133.2 0.4 -164.2 0.4 31 0.4 0 0.4 133.2 0.4 -133.2 0.4 53 0.4 0 0.4 0 0.4 -53 0.4 0 0.4 133.2 0.4 0 0.4 -164.2 0.4 31 0.5 0 0.4 0 0.4 0 0.4 133.2 0.4 -80.2 0.4 -53 0.4 53 0.4 -53 0.4 0 0.4 53 0.4 0 0.4 0 0.4 -53 0.4 133.2 0.4 -133.2 0.4 133.2 0.5 -164.2 0.4 84 0.4 -53 0.4 53 0.4 -53 0.4 53 0.4 -84 0.4 -22 0.4 106 0.4 0 0.4 -53 0.4 53 0.4 0 0.4 -53 0.4 0 0.4 133.2 0.4 -133.2 0.5 0 0.4 53 0.4 -53 0.4 53 0.4 0 0.4 80.2 0.4 0 0.4 -80.2 0.4 -53 0.4 133.2 0.4 -80.2 0.4 -84 0.4 31 0.4 133.2 0.4 -133.2 0.4 53 0.5 -53 0.4 53 0.4 80.2 0.4 -164.2 0.4 164.2 0.4 0 0.4 -133.2 0.4 53 0.4 -53 0.4 133.2 0.4 -133.2 0.4 133.2 0.4 0 0.4 0 0.4 -133.2 0.4 53 0.5 -53 0.4 0 0.4 53 0.4 80.2 0.4 -80.2 0.4 -53 0.4 133.2 0.4 -80.2 0.4 80.2 0.4 0 0.4 -80.2 0.4 -53 0.4 53 0.4 0 0.4 0 0.4 -53 0.5 0 0.4 0 0.4 133.2 0.4 -133.2 0.4 53 0.4 80.2 0.4 -133.2 0.4 133.2 0.4 0 0.4 -133.2 0.4 0 0.4 133.2 0.4 -133.2 0.4 53 0.4 0 0.4 80.2 0.5 -80.2 0.4 -53 0.4 -31 0.4 31 0.4 133.2 0.4 -133.2 0.4 -31 0.4 84 0.4 80.2 0.4 -133.2 0.4 53 0.4 0 0.4 0 0.4 0 0.4 0 0.4 -53 0.5 0 0.4 53 0.4 -53 0.4 53 0.4 0 0.4 -84 0.4 31 0.4 0 0.4 0 0.4 53 0.4 80.2 0.4 0 0.4 -80.2 0.4 -53 0.4 0 0.4 0 0.5 53 0.4 80.2 0.4 -80.2 0.4 80.2 0.4 0 0.4 -133.2 0.4 133.2 0.4 0 0.4 -133.2 0.4 0 0.4 53 0.4 80.2 0.4 -133.2 0.4 53 0.4 -53 0.4 0 0.4 53 0.5 -53 0.4 0 0.4 53 0.4 80.2 0.4 -164.2 0.4 0 0.4 84 0.4 0 0.4 -53 0.4 0 0.4 133.2 0.4 -133.2 0.4 53 0.4 0 0.4 0 0.4 -84 0.5 84 0.4 -84 0.4 0 0.4 84 0.4 -53 0.4 0 0.4 53 0.4 80.2 0.4 -80.2 0.4 -53 0.4 -53 0.4 22 0.4 31 0.4 0 0.4 0 0.4 53 0.5 0 0.4 80.2 0.4 0 0.4 -80.2 0.4 -84 0.4 164.2 0.4 -133.2 0.4 53 0.4 80.2 0.4 -80.2 0.4 80.2 0.4 -133.2 0.4 0 0.4 53 0.4 0 0.4 0 0.5 0 0.4 -53 0.4 133.2 0.4 -80.2 0.4 80.2 0.4 -133.2 0.4 53 0.4 -53 0.4 133.2 0.4 0 0.4 -133.2 0.4 0 0.4 0 0.4 53 0.4 -53 0.4 0 0.5 53 0.4 80.2 0.4 -133.2 0.4 53 0.4 0 0.4 80.2 0.4 -164.2 0.4 84 0.4 0 0.4 80.2 0.4 0 0.4 -80.2 0.4 80.2 0.4 -133.2 0.4 53 0.4 -53 0.5 53 0.4 80.2 0.4 -164.2 0.4 84 0.4 0 0.4 -53 0.4 0 0.4 53 0.4 80.2 0.4 0 0.4 -133.2 0.4 53 0.4 -53 0.4 133.2 0.4 -80.2 0.4 80.2 0.5 -80.2 0.4 -84 0.4 84 0.4 0 0.4 0 0.4 0 0.4 -84 0.4 84 0.4 -53 0.4 53 0.4 -53 0.4 0 0.4 133.2 0.4 0 0.4 -80.2 0.4 -53 0.4 53 0.5 0 0.4 -53 0.4 53 0.4 80.2 0.4 -164.2 0.4 84 0.4 0 0.4 0 0.4 -53 0.4 53 0.4 -84 0.4 31 0.4 0 0.4 53 0.4 0 0.4 0 0.5 -84 0.4 84 0.4 0 0.4 0 0.4 80.2 0.4 -133.2 0.4 133.2 0.4 -133.2 0.4 133.2 0.4 -80.2 0.4 0 0.4 -106 0.4 106 0.4 -53 0.4 0 0.4 133.2 0.5 -133.2 0.4 53 0.4 80.2 0.4 0 0.4 -80.2 0.4 0 0.4 80.2 0.4 -80.2 0.4 0 0.4 -53 0.4 133.2 0.4 -80.2 0.4 0 0.4 -53 0.4 0 0.4 -31 0.5 164.2 0.4 -80.2 0.4 80.2 0.4 0 0.4 0 0.4 0 0.4 -80.2 0.4 0 0.4 0 0.4 0 0.4 0 0.4 0 0.4 0 0.4 0 0.4 0 0.4 80.2 0.5 0 0.4 -80.2 0.4 80.2 0.4 -133.2 0.4 133.2 0.4 0 0.4 -80.2 0.4 0 0.4 -84 0.4 164.2 0.4 0 0.4 -80.2 0.4 -53 0.4 53 0.4 80.2 0.4 -80.2 0.5 0 0.4 0 0.4 80.2 0.4 -133.2 0.4 53 0.4 -53 0.4 53 0.4 0 0.4 0 0.4 -84 0.4 164.2 0.4 0 0.4 0 0.4 0 0.4 0 0.4 -164.2 0.4 31 0.5 0 0.4 53 0.4 80.2 0.4 -80.2 0.4 80.2 0.4 0 0.4 -133.2 0.4 53 0.4 -53 0.4 133.2 0.4 -80.2 0.4 80.2 0.4 -164.2 0.4 84 0.4 80.2 0.4 0 0.5 -133.2 0.4 133.2 0.4 -80.2 0.4 0 0.4 80.2 0.4 -133.2 0.4 -31 0.4 164.2 0.4 -80.2 0.4 -53 0.4 0 0.4 0 0.4 133.2 0.4 -80.2 0.4 80.2 0.4 -80.2 0.5 -53 0.4 0 0.4 133.2 0.4 -80.2 0.4 80.2 0.4 -133.2 0.4 53 0.4 0 0.4 -53 0.4 53 0.4 80.2 0.4 -80.2 0.4 0 0.4 80.2 0.4 -80.2 0.4 0 0.5 80.2 0.4 -133.2 0.4 0 0.4 0 0.4 53 0.4 0 0.4 -53 0.4 0 0.4 0 0.4 133.2 0.4 -133.2 0.4 0 0.4 133.2 0.4 -80.2 0.4 0 0.4 0 0.5 -53 0.4 53 0.4 -53 0.4 53 0.4 -53 0.4 53 0.4 80.2 0.4 -133.2 0.4 53 0.4 -53 0.4 53 0.4 0 0.4 -53 0.4 53 0.4 0 0.4 -53 0.5 53 0.4 0 0.4 -53 0.4 133.2 0.4 -133.2 0.4 53 0.4 0 0.4 0 0.4 80.2 0.4 0 0.4 -80.2 0.4 0 0.4 -84 0.4 31 0.4 53 0.4 0 0.5 -53 0.4 53 0.4 0 0.4 0 0.4 80.2 0.4 -133.2 0.4 0 0.4 53 0.4 0 0.4 -84 0.4 31 0.4 0 0.4 133.2 0.4 0 0.4 0 0.4 -133.2 0.4 53 0.5 -53 0.4 53 0.4 -53 0.4 53 0.4 -53 0.4 53 0.4 0 0.4 80.2 0.4 0 0.4 0 0.4 -80.2 0.4 0 0.4 80.2 0.4 0 0.4 0 0.4 -133.2 0.5 133.2 0.4 0 0.4 -133.2 0.4 53 0.4 -53 0.4 0 0.4 53 0.4 80.2 0.4 -80.2 0.4 -84 0.4 164.2 0.4 -133.2 0.4 53 0.4 80.2 0.4 -133.2 0.4 53 0.5 80.2 0.4 0 0.4 0 0.4 -80.2 0.4 -53 0.4 0 0.4 53 0.4 -53 0.4 53 0.4 80.2 0.4 -80.2 0.4 0 0.4 -53 0.4 53 0.4 -53 0.4 53 0.5 0 0.4 0 0.4 80.2 0.4 -133.2 0.4 53 0.4 80.2 0.4 -80.2 0.4 -84 0.4 0 0.4 31 0.4 53 0.4 -84 0.4 84 0.4 80.2 0.4 -80.2 0.4 80.2 0.5 -80.2 0.4 -84 0.4 31 0.4 53 0.4 -53 0.4 53 0.4 0 0.4 80.2 0.4 0 0.4 -80.2 0.4 80.2 0.4 0 0.4 -80.2 0.4 80.2 0.4 0 0.4 -133.2 0.5 0 0.4 0 0.4 53 0.4 80.2 0.4 0 0.4 -164.2 0.4 164.2 0.4 -80.2 0.4 0 0.4 80.2 0.4 -133.2 0.4 133.2 0.4 -80.2 0.4 -84 0.4 31 0.4 53 0.4 0 0.5 -53 0.4 -31 0.4 31 0.4 133.2 0.4 -80.2 0.4 -53 0.4 133.2 0.4 -80.2 0.4 80.2 0.4 -80.2 0.4 -53 0.4 0 0.4 133.2 0.4 -133.2 0.4 133.2 0.4 -133.2 0.5 0 0.4 133.2 0.4 0 0.4 -133.2 0.4 0 0.4 53 0.4 80.2 0.4 -133.2 0.4 133.2 0.4 -133.2 0.4 -31 0.4 84 0.4 -53 0.4 133.2 0.4 -80.2 0.4 0 0.5 -53 0.4 53 0.4 80.2 0.4 -133.2 0.4 133.2 0.4 -133.2 0.4 133.2 0.4 -133.2 0.4 0 0.4 53 0.4 -53 0.4 53 0.4 -84 0.4 31 0.4 0 0.4 133.2 0.5 -133.2 0.4 53 0.4 0 0.4 80.2 0.4 0 0.4 -80.2 0.4 0 0.4 0 0.4 0 0.4 0 0.4 -53 0.4 53 0.4 80.2 0.4 -133.2 0.4 0 0.4 133.2 0.5 -133.2 0.4 0 0.4 -31 0.4 31 0.4 0 0.4 53 0.4 80.2 0.4 -80.2 0.4 0 0.4 0 0.4 -53 0.4 133.2 0.4 -164.2 0.4 164.2 0.4 0 0.4 -133.2 0.5 53 0.4 80.2 0.4 -133.2 0.4 53 0.4 0 0.4 0 0.4 0 0.4 80.2 0.4 -133.2 0.4 53 0.4 0 0.4 80.2 0.4 -133.2 0.4 53 0.4 0 0.4 0 0.5 0 0.4 80.2 0.4 -133.2 0.4 53 0.4 0 0.4 0 0.4 80.2 0.4 -133.2 0.4 133.2"/>
</g>
<path d="M78.0 14.0h8M78.0 190.0h8M78.0 366.0h8M78.0 542.0h8M78.0 137.0h4M78.0 106.0h4M78.0 84.0h4M78.0 67.0h4M78.0 53.0h4M78.0 41.3h4M78.0 31.1h4M78.0 22.1h4M78.0 313.0h4M78.0 282.0h4M78.0 260.0h4M78.0 243.0h4M78.0 229.0h4M78.0 217.3h4M78.0 207.1h4M78.0 198.1h4M78.0 489.0h4M78.0 458.0h4M78.0 436.0h4M78.0 419.0h4M78.0 405.0h4M78.0 393.3h4M78.0 383.1h4M78.0 374.1h4M79.0 549.3v-7M160.2 549.3v-4M241.4 549.3v-7M322.6 549.3v-4M403.8 549.3v-7M484.9 549.3v-4M566.1 549.3v-7M647.3 549.3v-4M728.5 549.3v-7" stroke="#555" stroke-width="1.6" fill="none"/>
<rect x="78.0" y="6.7" width="650.0" height="542.6" fill="none" stroke="#555" stroke-width="2"/>
<g font-family='"Liberation Sans", sans-serif' fill="#1a1a1a">
<text x="66.5" y="21.0" font-size="19.5" font-weight="bold" text-anchor="end">1</text>
<text x="66.5" y="197.0" font-size="19.5" font-weight="bold" text-anchor="end">0,1</text>
<text x="66.5" y="373.0" font-size="19.5" font-weight="bold" text-anchor="end">0,01</text>
<text x="66.5" y="549.0" font-size="19.5" font-weight="bold" text-anchor="end">1E-3</text>
<text x="80.0" y="577.0" font-size="19.5" font-weight="bold" text-anchor="middle">0,0</text>
<text x="242.4" y="577.0" font-size="19.5" font-weight="bold" text-anchor="middle">0,5</text>
<text x="404.8" y="577.0" font-size="19.5" font-weight="bold" text-anchor="middle">1,0</text>
<text x="567.1" y="577.0" font-size="19.5" font-weight="bold" text-anchor="middle">1,5</text>
<text x="729.5" y="577.0" font-size="19.5" font-weight="bold" text-anchor="middle">2,0</text>
<text x="403.5" y="612.3" font-size="24.0" font-weight="bold" text-anchor="middle">Time (sec.)</text>
<text transform="translate(23.4,294.7) rotate(-90)" font-size="26.5" font-weight="bold" text-anchor="middle">Normalized Intensity</text>
<text x="186" y="66.6" font-size="29" text-anchor="middle" stroke="#1a1a1a" stroke-width="0.5">(a)</text>
</g>
<rect x="537.0" y="9.5" width="187.3" height="309.0" fill="#fff" stroke="#bbb" stroke-width="1.3"/>
<g font-family='"Liberation Sans", sans-serif' fill="#1a1a1a" font-weight="bold">
<text x="551" y="47.7" font-size="20">Un-doped Y<tspan font-size="10" dx="1.7" dy="8">2</tspan><tspan dx="2" dy="-8">O</tspan><tspan font-size="10" dx="1.2" dy="8">3</tspan></text>
<text x="551" y="82.7" font-size="20"><tspan font-weight="normal">&#955;</tspan><tspan font-size="10.5" dx="0.5" dy="9" letter-spacing="0.4">exc</tspan><tspan dx="1.3" dy="-9">=803.5 nm</tspan></text>
<text x="551" y="118.3" font-size="20">T = 300 K</text>
<path d="M550 141.6h46" stroke="#555" stroke-width="1.8"/>
<text x="602.5" y="147.4" font-size="22">0.61 Watts</text>
<path d="M550 171.3h46" stroke="#e8505a" stroke-width="1.8"/>
<text x="602.5" y="177.1" font-size="22">1.07 Watts</text>
<path d="M550 201.0h46" stroke="#88cc55" stroke-width="1.8"/>
<text x="602.5" y="206.8" font-size="22">1.52 Watts</text>
<path d="M550 230.7h46" stroke="#5a5ab8" stroke-width="1.8"/>
<text x="602.5" y="236.5" font-size="22">1.96 Watts</text>
<path d="M550 260.4h46" stroke="#d060c8" stroke-width="1.8"/>
<text x="602.5" y="266.2" font-size="22">2.38 Watts</text>
<path d="M550 290.1h46" stroke="#3a9a3a" stroke-width="1.8"/>
<text x="602.5" y="295.9" font-size="22">2.79 Watts</text>
</g>
<g clip-path="url(#cb)" fill="none" stroke-width="2.1" stroke-linejoin="round">
<path stroke="#000000" d="M78.5 1207.4l0.2 0.9 0.2 0.5 0.3 0 0.2 -1.5 0.2 1.8 0.2 -0.1 0.2 -0.8 0.2 -0.9 0.3 1 0.2 -1.4 0.2 1 0.2 0 0.2 -1.3 0.2 0.8 0.3 0.6 0.2 0.1 0.2 -1 0.2 -0.4 0.2 1.2 0.2 -0.1 0.3 -0.9 0.2 1.3 0.2 -0.8 0.2 0.1 0.2 0.3 0.2 0.6 0.3 1 0.2 -1.6 0.2 0.8 0.2 -1.1 0.2 0.6 0.2 -0.1 0.3 -1.3 0.2 0.5 0.2 1.2 0.2 -1.3 0.2 0.9 0.2 0.6 0.3 -1 0.2 0.1 0.2 -0.7 0.2 0 0.2 -0.1 0.3 1.3 0.2 -0.5 0.2 1.3 0.2 -1.5 0.2 0.3 0.2 1.4 0.3 -2 0.2 0.2 0.2 1.4 0.2 0.5 0.2 -1.4 0.2 -0.4 0.3 0.3 0.2 -1.1 0.2 -0.7 0.2 1.6 0.2 0.2 0.2 0.2 0.3 -1.8 0.2 1.4 0.2 -0.4 0.2 -0.2 0.2 -0.1 0.2 0.4 0.3 -1 0.2 0.9 0.2 0.3 0.2 0.9 0.2 -0.5 0.2 -0.2 0.3 -0.9 0.2 1.2 0.2 -0.6 0.2 0.3 0.2 1.9 0.2 -2.2 0.3 -1 0.2 2.3 0.2 -1.9 0.2 1.7 0.2 -0.6 0.3 -0.2 0.2 -0.8 0.2 0.7 0.2 -0.1 0.2 -0.6 0.2 -0.1 0.3 0.8 0.2 -0.4 0.2 -0.7 0.2 0.7 0.2 1.1 0.2 -0.8 0.3 1.1 0.2 -2.7 0.2 1.5 0.2 1.3 0.2 -0.9 0.2 -0.6 0.3 -0.2 0.2 0.6 0.2 0.2 0.2 0.4 0.2 -1.4 0.2 -0.2 0.3 0.6 0.2 0.1 0.2 0.1 0.2 0.5 0.2 -0.2 0.2 -0.7 0.3 0.3 0.2 -0.2 0.2 0.9 0.2 -1.1 0.2 1.3 0.2 -1.7 0.3 1.1 0.2 -0.4 0.2 0.7 0.2 -0.4 0.2 0.5 0.3 -0.7 0.2 1.4 0.2 -2.1 0.2 0.7 0.2 -0.4 0.2 0.6 0.3 -0.5 0.2 0.9 0.2 0.1 0.2 -0.3 0.2 0.8 0.2 -1.7 0.3 0.8 0.2 -0.1 0.2 0.5 0.2 -1.1 0.2 -0.4 0.2 1.1 0.3 -1.1 0.2 0.6 0.2 0.1 0.2 1.4 0.2 -0.6 0.2 -1.6 0.3 0.1 0.2 -0.9 0.2 2.1 0.2 -1 0.2 1.7 0.2 -0.5 0.3 0.1 0.2 -0.2 0.2 -0.8 0.2 -0.9 0.2 0.9 0.2 1.1 0.3 -1.9 0.2 0.7 0.2 1.4 0.2 -2.2 0.2 1 0.3 -0.6 0.2 1.1 0.2 -0.1 0.2 -0.7 0.2 1.5 0.2 -1.3 0.3 -0.6 0.2 0.3 0.2 0.4 0.2 0.3 0.2 0 0.2 -1.5 0.3 0.9 0.2 0.1 0.2 0.8 0.2 -1 0.2 -0.3 0.2 2.3 0.3 -3 0.2 0.7 0.2 0.7 0.2 1.2 0.2 -3.2 0.2 1.3 0.3 0.9 0.2 0.7 0.2 -1.9 0.2 2.2 0.2 -1.4 0.2 0.3 0.3 0.6 0.2 -0.3 0.2 -0.1 0.2 -1.2 0.2 0.4 0.2 -0.6 0.3 1.6 0.2 -1.7 0.2 0.7 0.2 -0.7 0.2 1.2 0.3 -0.6 0.2 1 0.2 -1.6 0.2 0.8 0.2 0.5 0.2 -0.3 0.3 -0.2 0.2 1.5 0.2 -1.5 0.2 0.9 0.2 -0.7 0.2 -0.3 0.3 -1.6 0.2 1.4 0.2 1.4 0.2 -1.5 0.2 1.3 0.2 -0.1 0.3 -0.2 0.2 -1.3 0.2 -0.6 0.2 0.8 0.2 1.5 0.2 -1.2 0.3 -0.5 0.2 2.5 0.2 -1.6 0.2 -2.3 0.2 3 0.2 -0.3 0.3 0.1 0.2 -2 0.2 0.3 0.2 0.1 0.2 -0.4 0.2 1.3 0.3 0.9 0.2 -1.9 0.2 1.6 0.2 -1.8 0.2 0.1 0.3 0.2 0.2 -0.9 0.2 0.6 0.2 1.2 0.2 -0.4 0.2 -1.2 0.3 1 0.2 -1.1 0.2 0.7 0.2 -0.5 0.2 0.9 0.2 -0.7 0.3 1.1 0.2 -0.8 0.2 -1 0.2 0.9 0.2 0.2 0.2 -1.4 0.3 0 0.2 1.4 0.2 -1.1 0.2 -0.2 0.2 1 0.2 -0.2 0.3 -0.4 0.2 -1.4 0.2 1.2 0.2 -0.1 0.2 2 0.2 -2.3 0.3 -0.5 0.2 1.5 0.2 -1.5 0.2 0.3 0.2 -0.4 0.2 0.6 0.3 -0.1 0.2 -1.9 0.2 0.5 0.2 2 0.2 0.5 0.3 -1.5 0.2 -0.1 0.2 0.2 0.2 0.1 0.2 -1.2 0.2 3.3 0.3 -1.6 0.2 -1.2 0.2 0 0.2 0 0.2 0.9 0.2 -1.9 0.3 0.5 0.2 0 0.2 0.3 0.2 1.4 0.2 -0.7 0.2 0.5 0.3 -1 0.2 1 0.2 -1.1 0.2 0.4 0.2 -0.5 0.2 1.6 0.3 -0.9 0.2 -1 0.2 -0.5 0.2 1.5 0.2 -1.6 0.2 -1.5 0.3 2 0.2 0.4 0.2 0.8 0.2 -0.3 0.2 -0.9 0.2 -0.3 0.3 -0.7 0.2 -1 0.2 1.9 0.2 -1 0.2 -1 0.3 0.6 0.2 0.2 0.2 -0.1 0.2 1 0.2 0 0.2 -1.8 0.3 -0.5 0.2 0.1 0.2 -0.1 0.2 -0.6 0.2 0 0.2 1.3 0.3 -0.6 0.2 1.8 0.2 -2.6 0.2 0.6 0.2 -0.1 0.2 -0.8 0.3 1.6 0.2 -1.2 0.2 0.7 0.2 -2 0.2 2 0.2 -0.6 0.3 -0.9 0.2 -1.1 0.2 1.2 0.2 0.9 0.2 -0.6 0.2 -0.9 0.3 -0.3 0.2 1.2 0.2 -1.9 0.2 1.4 0.2 -0.1 0.2 -0.7 0.3 0.6 0.2 -0.1 0.2 -0.9 0.2 1.5 0.2 -1.7 0.3 0.5 0.2 -1.3 0.2 0.8 0.2 -1.6 0.2 0.2 0.2 -0.3 0.3 0.1 0.2 0.6 0.2 -1.1 0.2 -0.4 0.2 0.2 0.2 -0.4 0.3 -0.2 0.2 0.2 0.2 0 0.2 -0.7 0.2 -0.2 0.2 -0.6 0.3 -0.7 0.2 0.8 0.2 -0.2 0.2 -2.1 0.2 1.1 0.2 -0.4 0.3 0.3 0.2 -1.3 0.2 1.5 0.2 -1.5 0.2 -0.8 0.2 -0.1 0.3 -1.1 0.2 -1.1 0.2 0.2 0.2 0.1 0.2 1.1 0.2 -1.6 0.3 -1.9 0.2 -0.6 0.2 0.3 0.2 -0.6 0.2 -0.4 0.3 1.3 0.2 -1.1 0.2 -0.3 0.2 -1.3 0.2 -0.7 0.2 0.4 0.3 -1.8 0.2 1.1 0.2 -0.1 0.2 -0.3 0.2 0.7 0.2 -2.5 0.3 0.6 0.2 -1.3 0.2 -0.3 0.2 -0.5 0.2 1.2 0.2 -1.3 0.3 -0.5 0.2 -0.9 0.2 0.6 0.2 -0.4 0.2 -2.1 0.2 1.4 0.3 -1.7 0.2 0.6 0.2 -1.9 0.2 0.5 0.2 -0.6 0.2 0 0.3 0.3 0.2 -3.3 0.2 0.8 0.2 -1.6 0.2 0.1 0.2 0.7 0.3 -0.8 0.2 -1.4 0.2 -0.1 0.2 0 0.2 -1.3 0.3 -0.9 0.2 -0.8 0.2 -0.9 0.2 0.6 0.2 -0.2 0.2 -0.6 0.3 1.1 0.2 -3.5 0.2 -0.9 0.2 3.5 0.2 -3.5 0.2 -0.1 0.3 -0.8 0.2 0.5 0.2 -1.8 0.2 0.8 0.2 -2.6 0.2 -0.9 0.3 -0.8 0.2 1.6 0.2 -1 0.2 -1.1 0.2 -2.1 0.2 0.5 0.3 -2 0.2 0.4 0.2 -1 0.2 0.9 0.2 -0.5 0.2 -1.3 0.3 -0.3 0.2 -0.5 0.2 -2.2 0.2 -1.4 0.2 1.1 0.2 -1.2 0.3 -1.7 0.2 0.3 0.2 -1.2 0.2 -0.6 0.2 -1 0.3 -0.6 0.2 -0.1 0.2 0.4 0.2 -2.3 0.2 1 0.2 -1.6 0.3 -1 0.2 -2.6 0.2 1 0.2 -0.5 0.2 -0.1 0.2 -0.9 0.3 0.3 0.2 -0.2 0.2 -2.4 0.2 -1 0.2 -0.2 0.2 -1 0.3 -0.7 0.2 -2.4 0.2 1.1 0.2 -2.8 0.2 1.2 0.2 -1.2 0.3 -0.9 0.2 -1.3 0.2 -1.5 0.2 -0.5 0.2 -0.9 0.2 -0.3 0.3 -0.6 0.2 -0.7 0.2 -0.1 0.2 -3.5 0.2 0.9 0.2 -0.4 0.3 -0.5 0.2 -1.6 0.2 -0.3 0.2 -2.5 0.2 -1.1 0.3 0.6 0.2 -2.5 0.2 -0.6 0.2 -0.5 0.2 -0.9 0.2 -0.5 0.3 -1.9 0.2 1.2 0.2 -2.9 0.2 -0.3 0.2 0.8 0.2 -2.4 0.3 -1.4 0.2 -1.3 0.2 -0.5 0.2 -0.1 0.2 -1.8 0.2 -0.9 0.3 1.8 0.2 -2.6 0.2 -1.5 0.2 -0.7 0.2 -1.6 0.2 -2.4 0.3 0.7 0.2 -0.5 0.2 -1.3 0.2 -0.2 0.2 -1.2 0.2 -0.8 0.3 -2 0.2 0 0.2 -1.5 0.2 -1.1 0.2 0.2 0.2 -2.2 0.3 -1.8 0.2 0.6 0.2 -1.4 0.2 -1.6 0.2 -1.1 0.3 -0.1 0.2 -0.5 0.2 -1.5 0.2 0.4 0.2 -1.2 0.2 -1.1 0.3 -1.8 0.2 0.4 0.2 -2.1 0.2 0.7 0.2 -1.5 0.2 -1 0.3 -2.2 0.2 -2 0.2 2 0.2 -2.5 0.2 -0.6 0.2 -1.4 0.3 -0.1 0.2 -2.2 0.2 1.6 0.2 -3.5 0.2 -1.4 0.2 1.1 0.3 -1.8 0.2 0.2 0.2 -1.7 0.2 -0.9 0.2 1.2 0.2 -4.1 0.3 -0.8 0.2 -1.9 0.2 0.7 0.2 -1.1 0.2 -1.8 0.2 1.7 0.3 -3 0.2 -0.1 0.2 -3 0.2 0.9 0.2 -2 0.3 0.4 0.2 1.7 0.2 -5.2 0.2 -0.6 0.2 -0.9 0.2 0.3 0.3 -2.4 0.2 1.1 0.2 -1.1 0.2 -2.6 0.2 -0.7 0.2 -2 0.3 1.5 0.2 -2.1 0.2 -1 0.2 -1.5 0.2 1.2 0.2 -2.1 0.3 -0.5 0.2 -1.8 0.2 -3.4 0.2 1.2 0.2 -1.8 0.2 0 0.3 0 0.2 -1.6 0.2 -0.6 0.2 -0.8 0.2 -2 0.2 -0.7 0.3 0.5 0.2 0.4 0.2 -2.6 0.2 -1.9 0.2 -2 0.2 0.3 0.3 -1.3 0.2 -1.5 0.2 -1.1 0.2 1.1 0.2 -1.5 0.3 -1.9 0.2 0.4 0.2 -0.6 0.2 -1.6 0.2 -1.2 0.2 -2.1 0.3 0.8 0.2 -0.6 0.2 -1.4 0.2 -2.3 0.2 2 0.2 -3.3 0.3 -1.7 0.2 0.7 0.2 -0.7 0.2 -0.2 0.2 -1.2 0.2 -1.8 0.3 -2.5 0.2 -0.1 0.2 0.2 0.2 0.4 0.2 -1.2 0.2 -3.5 0.3 2.1 0.2 -3.8 0.2 0.2 0.2 -1.9 0.2 -0.1 0.2 0.3 0.3 -1.5 0.2 -0.3 0.2 0.2 0.2 -2.1 0.2 -1 0.2 0.5 0.3 -1.9 0.2 -2 0.2 0.1 0.2 0.6 0.2 -4.1 0.3 2 0.2 -3.1 0.2 0.2 0.2 -1.7 0.2 0.3 0.2 1 0.3 -3.8 0.2 1.7 0.2 0.2 0.2 -0.7 0.2 -3.2 0.2 0.5 0.3 -0.8 0.2 0.6 0.2 -5.3 0.2 0.8 0.2 -1.2 0.2 0.4 0.3 -2.1 0.2 1.6 0.2 -3.3 0.2 1.2 0.2 -0.2 0.2 -2.4 0.3 -0.3 0.2 -0.6 0.2 2 0.2 -1.6 0.2 -0.2 0.2 -1.4 0.3 -2 0.2 0.9 0.2 -2.1 0.2 0.8 0.2 -1.7 0.2 -2 0.3 -1.6 0.2 -1.8 0.2 1.8 0.2 -0.9 0.2 -2.4 0.3 3.9 0.2 -1.5 0.2 -3.7 0.2 -0.8 0.2 -2 0.2 -0.5 0.3 -0.5 0.2 0.5 0.2 0.5 0.2 -2.4 0.2 4 0.2 -3.2 0.3 1.4 0.2 -2.7 0.2 3.4 0.2 -5.7 0.2 0.1 0.2 -2.5 0.3 3.6 0.2 -2.6 0.2 -2.6 0.2 3.5 0.2 -3.1 0.2 2.5 0.3 -7.2 0.2 4 0.2 -2.3 0.2 -1.1 0.2 2.9 0.2 -2.7 0.3 1.1 0.2 -4.2 0.2 -2.2 0.2 5.6 0.2 -4.4 0.2 1.7 0.3 -3.7 0.2 -1 0.2 -1.3 0.2 -0.2 0.2 3.3 0.3 -1.2 0.2 -2.8 0.2 -1.9 0.2 1.9 0.2 -1.3 0.2 -2.2 0.3 -0.1 0.2 -2.3 0.2 3.2 0.2 -3.5 0.2 0.1 0.2 -0.6 0.3 -0.2 0.2 0.1 0.2 -4 0.2 2.9 0.2 -2.5 0.2 -0.1 0.3 0.8 0.2 -2.3 0.2 -0.7 0.2 -2.9 0.2 3.8 0.2 -3.2 0.3 -0.4 0.2 -1.4 0.2 2.5 0.2 -2.4 0.2 2.3 0.2 -3.5 0.3 -2 0.2 -1.3 0.2 6.5 0.2 -4 0.2 -2 0.2 3.6 0.3 -8.7 0.2 3.6 0.2 3.3 0.2 -9.8 0.2 4.6 0.3 4.1 0.2 -2.5 0.2 -0.9 0.2 -1.8 0.2 -3.9 0.2 4 0.3 -0.8 0.2 -1.6 0.2 -1.6 0.2 0 0.2 2.7 0.2 -4.9 0.3 3 0.2 -0.6 0.2 -7.1 0.2 8 0.2 -3.9 0.2 1.5 0.3 -4.1 0.2 0.1 0.2 2.3 0.2 -1.5 0.2 -0.3 0.2 -2.7 0.3 4.2 0.2 -4.8 0.2 -0.3 0.2 0.1 0.2 0.4 0.2 -2.8 0.3 -0.2 0.2 0.2 0.2 -0.1 0.2 -1.8 0.2 -0.4 0.2 3.3 0.3 -0.2 0.2 -2.1 0.2 0.2 0.2 -0.7 0.2 -1.3 0.3 -3.8 0.2 2.3 0.2 -0.6 0.2 -1.8 0.2 2.7 0.2 -1.1 0.3 3 0.2 -2.6 0.2 -3.6 0.2 1.8 0.2 -0.5 0.2 -4.6 0.3 -0.7 0.2 3 0.2 1.9 0.2 0.5 0.2 -3.1 0.2 2.1 0.3 -2.7 0.2 0.7 0.2 -1.2 0.2 0.2 0.2 -3.9 0.2 2.7 0.3 -4.4 0.2 4.3 0.2 -4.9 0.2 5.4 0.2 -3.1 0.2 1 0.3 1.3 0.2 -7.4 0.2 4 0.2 2.2 0.2 1.1 0.2 -5.2 0.3 -0.5 0.2 0.9 0.2 1.5 0.2 -0.7 0.2 1.5 0.3 -1.9 0.2 -0.7 0.2 -2.7 0.2 -0.6 0.2 4.1 0.2 1.8 0.3 -9.1 0.2 3.7 0.2 1.7 0.2 -2.6 0.2 2.2 0.2 -1.1 0.3 4.4 0.2 -5 0.2 -5 0.2 1.6 0.2 2.2 0.2 -1.1 0.3 -1.7 0.2 -1.1 0.2 4.1 0.2 -1.6 0.2 -1.3 0.2 -1.9 0.3 2.6 0.2 -2.2 0.2 -1.1 0.2 1.5 0.2 -1.4 0.2 -1.9 0.3 5.5 0.2 -3.6 0.2 -0.6 0.2 -4.7 0.2 9.5 0.2 -3 0.3 1.4 0.2 -1.3 0.2 -3.5 0.2 2.9 0.2 -2.4 0.3 -0.5 0.2 0.3 0.2 -2.9 0.2 0.9 0.2 2.6 0.2 -1.2 0.3 -2 0.2 1.8 0.2 -2.8 0.2 1 0.2 0.9 0.2 -0.7 0.3 1.6 0.2 -3.6 0.2 1.9 0.2 0.1 0.2 -1.3 0.2 -6.4 0.3 2.3 0.2 4.2 0.2 0.7 0.2 -4.5 0.2 4 0.2 -5.7 0.3 4.4 0.2 -4.7 0.2 -2.7 0.2 5.7 0.2 -2.7 0.2 -0.5 0.3 -4.3 0.2 -0.5 0.2 8 0.2 -5.6 0.2 0.3 0.2 1.7 0.3 -0.8 0.2 3.8 0.2 -0.7 0.2 -2.3 0.2 2.9 0.3 -4.5 0.2 0.2 0.2 -3.7 0.2 6.5 0.2 -6.5 0.2 2.2 0.3 0 0.2 0.5 0.2 -0.3 0.2 1.6 0.2 0.4 0.2 -5.8 0.3 8.8 0.2 -8.6 0.2 1.3 0.2 0.2 0.2 -2.4 0.2 2.5 0.3 -0.9 0.2 -1.2 0.2 1.8 0.2 -3.1 0.2 0 0.2 2.4 0.3 -1.6 0.2 3.3 0.2 -3.3 0.2 0.2 0.2 3.9 0.2 -3.9 0.3 -1.6 0.2 3.7 0.2 0.7 0.2 -3.5 0.2 1.2 0.2 0.9 0.3 -2.9 0.2 2.4 0.2 -3 0.2 -2.7 0.2 1.8 0.3 0.2 0.2 2.9 0.2 -6.3 0.2 3.9 0.2 -5.4 0.2 5.8 0.3 -1.7 0.2 3.3 0.2 -4.4 0.2 4.3 0.2 -4 0.2 -4.5 0.3 2.4 0.2 5.2 0.2 -6.1 0.2 5.5 0.2 -2.6 0.2 0.5 0.3 -0.6 0.2 -1.1 0.2 6.2 0.2 -9.4 0.2 2.9 0.2 2.4 0.3 -3.8 0.2 -3.3 0.2 6.5 0.2 -4.7 0.2 1.8 0.2 -0.6 0.3 1.5 0.2 -1.8 0.2 -1.7 0.2 5.7 0.2 -2.2 0.2 -0.9 0.3 0 0.2 2.9 0.2 -3.2 0.2 1.5 0.2 -4.4 0.3 0.9 0.2 -0.7 0.2 -0.7 0.2 2.2 0.2 1.2 0.2 -4.8 0.3 2.9 0.2 0.4 0.2 -6.4 0.2 8.3 0.2 -6.5 0.2 -1.6 0.3 4.5 0.2 0.6 0.2 -2.9 0.2 3.1 0.2 3.1 0.2 -8.8 0.3 -1.5 0.2 7.9 0.2 -5.8 0.2 1.2 0.2 0.5 0.2 -2.3 0.3 3 0.2 -0.5 0.2 -1.4 0.2 -0.7 0.2 7.5 0.2 -10.3 0.3 1.5 0.2 -1.6 0.2 3.4 0.2 2.2 0.2 -4.6 0.2 -0.1 0.3 -1.5 0.2 0.7 0.2 4.2 0.2 0.5 0.2 -2.7 0.3 -1.9 0.2 1.2 0.2 1.1 0.2 -2.1 0.2 5.5 0.2 -5.1 0.3 5.8 0.2 -11.2 0.2 9.8 0.2 -10.6 0.2 2.5 0.2 -0.7 0.3 0.5 0.2 3.3 0.2 -1.5 0.2 -4.6 0.2 7.5 0.2 -2.6 0.3 -3.5 0.2 4.5 0.2 -7.1 0.2 8.2 0.2 -1.4 0.2 -2.6 0.3 2.3 0.2 -1.6 0.2 -0.9 0.2 0.3 0.2 -1.6 0.2 -0.3 0.3 -0.1 0.2 0.2 0.2 0.2 0.2 -0.9 0.2 -0.3 0.2 -1.4 0.3 -2.7 0.2 6.5 0.2 -7.2 0.2 2.5 0.2 -0.6 0.3 4.3 0.2 -2.5 0.2 -0.4 0.2 1.6 0.2 -3 0.2 5.4 0.3 -1.1 0.2 -5.1 0.2 1.1 0.2 5.9 0.2 -6.2 0.2 0.7 0.3 -2.2 0.2 2.6 0.2 -0.3 0.2 2.9 0.2 -2.8 0.2 0.8 0.3 -2.9 0.2 7.4 0.2 -6 0.2 -3.5 0.2 11.2 0.2 -10.2 0.3 0.6 0.2 0.7 0.2 -0.8 0.2 3 0.2 -4.8 0.2 1.7 0.3 6 0.2 -7.5 0.2 5.3 0.2 -0.6 0.2 -4.2 0.2 2.2 0.3 -1.9 0.2 -0.4 0.2 1 0.2 -1.7 0.2 5.7 0.3 -9.9 0.2 2.4 0.2 4.4 0.2 -1.5 0.2 -5.2 0.2 7 0.3 2.1 0.2 -11.4 0.2 2.1 0.2 2.7 0.2 -4.1 0.2 3.5 0.3 -0.9 0.2 0.2 0.2 -0.6 0.2 5 0.2 -3.2 0.2 -1.1 0.3 4.2 0.2 0.5 0.2 -3.8 0.2 -5.2 0.2 5.1 0.2 -3.8 0.3 -0.7 0.2 -0.4 0.2 2 0.2 7.1 0.2 1.1 0.2 -3.3 0.3 -2.7 0.2 -0.6 0.2 1 0.2 -0.6 0.2 -3 0.2 5.4 0.3 -5.7 0.2 0 0.2 7 0.2 -6 0.2 0.4 0.3 -1.8 0.2 0 0.2 8.1 0.2 -12.8 0.2 5.4 0.2 -2.8 0.3 0.1 0.2 5.7 0.2 -3 0.2 0.3 0.2 -7.5 0.2 10.8 0.3 -9.1 0.2 1.9 0.2 2.9 0.2 2.8 0.2 -2.8 0.2 -2.8 0.3 4.9 0.2 -3.7 0.2 -1.4 0.2 -0.4 0.2 3.1 0.2 -3.2 0.3 -0.4 0.2 8.5 0.2 -2.8 0.2 0.6 0.2 -2.2 0.2 -4.8 0.3 0.6 0.2 0.3 0.2 2.7 0.2 -4.9 0.2 8 0.2 -0.7 0.3 -6.7 0.2 2.9 0.2 -4.3 0.2 0.5 0.2 -0.5 0.3 5.4 0.2 -0.8 0.2 3.3 0.2 -5.4 0.2 0 0.2 1.6 0.3 -1.1 0.2 -1.6 0.2 -2.4 0.2 4.6 0.2 0 0.2 -1.7 0.3 -2.3 0.2 -4.3 0.2 2.8 0.2 10.6 0.2 -2.3 0.2 -3.1 0.3 5.6 0.2 -10.6 0.2 5.1 0.2 1.1 0.2 -3.6 0.2 -1.8 0.3 2.1 0.2 -1.2 0.2 -3.2 0.2 6.2 0.2 -3.4 0.2 5.9 0.3 -2.3 0.2 -7.3 0.2 5.6 0.2 0.7 0.2 -6 0.2 4 0.3 -4.6 0.2 -3.4 0.2 -1.1 0.2 7.8 0.2 -2 0.3 2.9 0.2 -7.6 0.2 3.6 0.2 -7.4 0.2 10.5 0.2 -1.5 0.3 9.1 0.2 -7.1 0.2 -0.4 0.2 -3.7 0.2 -1.8 0.2 5.7 0.3 -2.3 0.2 -2.5 0.2 2.1 0.2 -2.6 0.2 -3.1 0.2 7.1 0.3 -3.2 0.2 -2.9 0.2 3.4 0.2 -5 0.2 6 0.2 -4.8 0.3 2.7 0.2 -1.3 0.2 4 0.2 -5.8 0.2 7.2 0.2 -7.4 0.3 3.3 0.2 -1 0.2 -3.5 0.2 8.7 0.2 -7.2 0.2 1.2 0.3 2.7 0.2 -4.5 0.2 2.7 0.2 -6.4 0.2 7.7 0.3 -7 0.2 0.5 0.2 3.3 0.2 3.3 0.2 -2.3 0.2 4.1 0.3 -2.1 0.2 -0.4 0.2 -3.3 0.2 5.7 0.2 -6.2 0.2 2.8 0.3 -4.7 0.2 1 0.2 3.9 0.2 -2.9 0.2 -0.1 0.2 2.4 0.3 -1 0.2 -0.5 0.2 2.8 0.2 0.6 0.2 -4.9 0.2 6.5 0.3 -7.6 0.2 -1.2 0.2 4 0.2 -3 0.2 3.9 0.2 -4.8 0.3 -8.3 0.2 8.6 0.2 1.7 0.2 -0.2 0.2 4.5 0.2 -2.4 0.3 -1.5 0.2 1 0.2 -2.5 0.2 -4 0.2 8.8 0.3 -2.6 0.2 -2.7 0.2 4.3 0.2 -1 0.2 -4.8 0.2 -0.4 0.3 0.8 0.2 4.3 0.2 -5.2 0.2 -1.1 0.2 4.2 0.2 -1.8 0.3 1 0.2 -0.2 0.2 0.8 0.2 -3.2 0.2 3.9 0.2 -8.5 0.3 3.5 0.2 2.9 0.2 -8.4 0.2 6.8 0.2 8 0.2 -11.4 0.3 1.2 0.2 2.4 0.2 -0.5 0.2 2.2 0.2 1.8 0.2 -0.4 0.3 -12.2 0.2 10.5 0.2 -2.7 0.2 -5.7 0.2 8.3 0.2 -2.2 0.3 1.2 0.2 3.4 0.2 -6.9 0.2 -0.4 0.2 2.7 0.3 -0.1 0.2 -3 0.2 -0.3 0.2 -4.4 0.2 4.1 0.2 -0.4 0.3 4.8 0.2 2.3 0.2 -9 0.2 7 0.2 -5.2 0.2 1.9 0.3 2.9 0.2 -3.7 0.2 -5.1 0.2 1.1 0.2 6.1 0.2 -0.7 0.3 5.9 0.2 -2.9 0.2 -2.3 0.2 -2 0.2 -1.6 0.2 2.9 0.3 -5.8 0.2 7.1 0.2 -5.5 0.2 5.7 0.2 -2.3 0.2 -2 0.3 -2.1 0.2 5 0.2 -1.2 0.2 -0.6 0.2 -1.8 0.2 -4.1 0.3 2.4 0.2 3.4 0.2 -0.2 0.2 -5.4 0.2 -0.4 0.3 1 0.2 3.4 0.2 3 0.2 -0.6 0.2 -3.1 0.2 3.9 0.3 -3.1 0.2 -8 0.2 6 0.2 -1.7 0.2 6.1 0.2 -8.2 0.3 5.9 0.2 -1.6 0.2 -0.5 0.2 0.3 0.2 2 0.2 -4 0.3 -5.1 0.2 8.1 0.2 -4.1 0.2 6.5 0.2 -4.9 0.2 3.1 0.3 -7.1 0.2 6.3 0.2 -3.8 0.2 1.8 0.2 4.3 0.2 -4.3 0.3 0.1 0.2 -2.9 0.2 3.3 0.2 5.4 0.2 -2.7 0.2 -1.8 0.3 -4.2 0.2 3.6 0.2 -4.5 0.2 4 0.2 -2.3 0.2 -2.2 0.3 2.8 0.2 6.2 0.2 -9.8 0.2 4.6 0.2 -3.6 0.3 12.3 0.2 -9.6 0.2 0.1 0.2 1.3 0.2 -1.2 0.2 3 0.3 -0.4 0.2 -4.9 0.2 2.4 0.2 -3.4 0.2 1.1 0.2 3.7 0.3 -2.6 0.2 1.1 0.2 -3 0.2 -4 0.2 5.5 0.2 1.8 0.3 -9.3 0.2 8.4 0.2 1.5 0.2 -1.3 0.2 6.1 0.2 -12.9 0.3 1.4 0.2 0 0.2 1.8 0.2 2.5 0.2 1.1 0.2 0.8 0.3 -5.4 0.2 -0.7 0.2 0.4 0.2 6.3 0.2 -10.4 0.2 9.3 0.3 -2.8 0.2 0.1 0.2 1.5 0.2 6.1 0.2 -3.6 0.3 -2.4 0.2 -5.6 0.2 4.9 0.2 -2.7 0.2 5.4 0.2 -3 0.3 -5.6 0.2 -2.3 0.2 5.1 0.2 -0.8 0.2 1.4 0.2 0.9 0.3 -0.9 0.2 -3.2 0.2 5.8 0.2 1.5 0.2 -6.1 0.2 4.1 0.3 -3.5 0.2 5 0.2 -4.6 0.2 2.3 0.2 0.3 0.2 -4.4 0.3 4.6 0.2 6.2 0.2 -4.2 0.2 -3.6 0.2 -6.7 0.2 7.1 0.3 2.8 0.2 -2.3 0.2 -5.8 0.2 2.4 0.2 -0.6 0.2 -0.3 0.3 -3.5 0.2 9.9 0.2 -9.4 0.2 2.5 0.2 5.4 0.3 -6 0.2 -2.4 0.2 5.6 0.2 -4.5 0.2 11.1 0.2 -2.3 0.3 -7.2 0.2 1.4 0.2 -2.1 0.2 0.5 0.2 -1.4 0.2 8.2 0.3 -0.1 0.2 -9.3 0.2 2.7 0.2 1 0.2 0.7 0.2 -6.5 0.3 8.2 0.2 -4 0.2 -3.8 0.2 7.1 0.2 0 0.2 -1 0.3 5.9 0.2 -11.2 0.2 0.4 0.2 -3.1 0.2 6.5 0.2 -1.7 0.3 -1 0.2 -3.6 0.2 4.6 0.2 -0.6 0.2 4.1 0.2 -3.7 0.3 1.2 0.2 -3.9 0.2 1.1 0.2 6.6 0.2 -0.2 0.3 -5.2 0.2 2.7 0.2 -2.6 0.2 -3 0.2 8.5 0.2 -6 0.3 4.9 0.2 -3.4 0.2 0.3 0.2 3.4 0.2 4.4 0.2 -6.9 0.3 2.9 0.2 -5 0.2 0.3 0.2 -3.1 0.2 1.4 0.2 8.8 0.3 -0.7 0.2 -3.1 0.2 -2.8 0.2 -1.3 0.2 3.2 0.2 -3.7 0.3 4.5 0.2 -7.3 0.2 5.4 0.2 0.2 0.2 -0.2 0.2 -1.8 0.3 -5.3 0.2 4.5 0.2 -2.8 0.2 6 0.2 -5.1 0.2 -0.4 0.3 -1 0.2 7 0.2 -0.3 0.2 -3.4 0.2 -2 0.3 5.1 0.2 -3.8 0.2 -5 0.2 12.7 0.2 -2.6 0.2 -3.8 0.3 -2.5 0.2 1.7 0.2 -2 0.2 -3.3 0.2 6.7 0.2 1.3 0.3 -8.1 0.2 11 0.2 -9.2 0.2 -1.7 0.2 3.6 0.2 3 0.3 -2.6 0.2 2.5 0.2 -9.2 0.2 4.9 0.2 1.9 0.2 -1.3 0.3 -0.4 0.2 -2 0.2 2.6 0.2 3.9 0.2 -1.8 0.2 2.8 0.3 1.1 0.2 -6 0.2 2.9 0.2 -1.4 0.2 -3 0.2 -1.1 0.3 2.9 0.2 2.3 0.2 -4.4 0.2 5.3 0.2 -8.5 0.3 7.1 0.2 -5.8 0.2 7.8 0.2 -6.7 0.2 1.3 0.2 2.1 0.3 -4.4 0.2 1.8 0.2 1.5 0.2 0.7 0.2 -2.2 0.2 1.2 0.3 3.4 0.2 -0.4 0.2 -2 0.2 3.7 0.2 2.8 0.2 -10.2 0.3 5.1 0.2 -10.4 0.2 7.5 0.2 -2.2 0.2 0 0.2 2.6 0.3 1.5 0.2 4.4 0.2 -1.8 0.2 0.9 0.2 0.3 0.2 0.3 0.3 -6.4 0.2 7.9 0.2 -13 0.2 8.8 0.2 -4.6 0.2 0.4 0.3 -0.5 0.2 1.8 0.2 0.4 0.2 -1.2 0.2 -2.8 0.3 0.6 0.2 1.8 0.2 6 0.2 -2.2 0.2 -3.5 0.2 -4.1 0.3 -1.1 0.2 7.5 0.2 -3.4 0.2 3.2 0.2 1.4 0.2 -3.8 0.3 -1.9 0.2 1.2 0.2 9.4 0.2 -12.8 0.2 11.9 0.2 -11.6 0.3 -1.4 0.2 -6.4 0.2 16.9 0.2 -3.5 0.2 -2.4 0.2 -1.3 0.3 3.3 0.2 -5.9 0.2 5.7 0.2 -1.7 0.2 0.1 0.2 -2.9 0.3 0.9 0.2 7.6 0.2 -8.9 0.2 6.7 0.2 -0.3 0.2 -0.8 0.3 -1.9 0.2 -3.2 0.2 0 0.2 7.7 0.2 -5.3 0.3 -4.3 0.2 0.5 0.2 2.7 0.2 3.3 0.2 -4.9 0.2 3.1 0.3 4.1 0.2 4.1 0.2 -11.1 0.2 -2.7 0.2 -2.9 0.2 2.3 0.3 3.2 0.2 2.1 0.2 -1.2 0.2 -1.8 0.2 6.8 0.2 -4.9 0.3 1.9 0.2 -4 0.2 0.2 0.2 10.3 0.2 -2.1 0.2 -5.8 0.3 -2.1 0.2 5.1 0.2 -3.6 0.2 0.4 0.2 1.9 0.2 0.3 0.3 -3.6 0.2 -3.1 0.2 6.5 0.2 -4.3 0.2 1.2 0.2 2.8 0.3 0 0.2 1.4 0.2 -4.1 0.2 -1.7 0.2 3.3 0.3 5.5 0.2 -6.9 0.2 0.7 0.2 1 0.2 -5.7 0.2 7.2 0.3 -1.9 0.2 -1.8 0.2 -5 0.2 9.5 0.2 -4.8 0.2 7.6 0.3 -4.4 0.2 -1.5 0.2 3.8 0.2 -7 0.2 1.1 0.2 3.8 0.3 -3.4 0.2 3.1 0.2 -1.7 0.2 -0.2 0.2 -6 0.2 8.4 0.3 -5.5 0.2 -2.2 0.2 3.9 0.2 -2.1 0.2 -5.3 0.2 11.6 0.3 0.1 0.2 -6.5 0.2 2 0.2 -5.6 0.2 7.7 0.2 -2.4 0.3 -2.2 0.2 10.3 0.2 -13.3 0.2 5 0.2 3.6 0.3 -1.1 0.2 -0.5 0.2 -6.9 0.2 8.2 0.2 -8.2 0.2 7.1 0.3 -3.9 0.2 3 0.2 -1.3 0.2 -3.8 0.2 3.9 0.2 1.9 0.3 -6 0.2 -3.9 0.2 8.3 0.2 0.2 0.2 1 0.2 3 0.3 -2.3 0.2 -4.2 0.2 3.7 0.2 -3.5 0.2 0.4 0.2 -1.7 0.3 -3.3 0.2 5.9 0.2 4.9 0.2 -6.1 0.2 -1.3 0.2 -4.5 0.3 6.4 0.2 2.7 0.2 0.9 0.2 -5.7 0.2 3.1 0.2 -4.7 0.3 -1.3 0.2 4.9 0.2 -2.1 0.2 1.9 0.2 -2.1 0.3 7.4 0.2 -1.9 0.2 -9.4 0.2 11.7 0.2 -1.8 0.2 -6 0.3 5.7 0.2 -2 0.2 1.7 0.2 -9 0.2 6 0.2 -6.6 0.3 5.2 0.2 6.9 0.2 -6.6 0.2 7.4 0.2 -10.6 0.2 11.9 0.3 -12.3 0.2 1.9 0.2 -3.6 0.2 3.9 0.2 0.6 0.2 2.4 0.3 0.9 0.2 0.4 0.2 -1.6 0.2 -0.4 0.2 -9.8 0.2 7.3 0.3 5 0.2 -8.6 0.2 4.7 0.2 3 0.2 -3.1 0.2 3 0.3 -4.6 0.2 3.2 0.2 -5.3 0.2 8.7 0.2 -5.6 0.3 5.8 0.2 -12 0.2 11.4 0.2 -12 0.2 8.5 0.2 -5 0.3 7.1 0.2 -2 0.2 -6.6 0.2 10.4 0.2 -7.3 0.2 8.3 0.3 -14.2 0.2 3.9 0.2 11.1 0.2 -5.7 0.2 -5.5 0.2 -4.6 0.3 8.9 0.2 6.9 0.2 -12 0.2 7.8 0.2 -3 0.2 1.8 0.3 3.6 0.2 3.3 0.2 -14.7 0.2 5.5 0.2 0.4 0.2 2.4 0.3 -3.7 0.2 5.6 0.2 0.3 0.2 0.9 0.2 0.2 0.2 -6.7 0.3 7 0.2 -13.2 0.2 7.7 0.2 1.4 0.2 -0.9 0.3 -7 0.2 15 0.2 -9.1 0.2 -6.8 0.2 2.6 0.2 2.9 0.3 2.8 0.2 -10.7 0.2 10.8 0.2 -9.2 0.2 11.1 0.2 2.4 0.3 -6.2 0.2 1.8 0.2 7.7 0.2 -9.3 0.2 -9.8 0.2 10.2 0.3 -2.4 0.2 1.8 0.2 0 0.2 -1.1 0.2 0.3 0.2 0.6 0.3 -1.4 0.2 -0.3 0.2 1 0.2 6.5 0.2 -2.5 0.2 1.2 0.3 -3.6 0.2 -7 0.2 4.8 0.2 2.8 0.2 -9.6 0.2 4.6 0.3 5.8 0.2 -4.5 0.2 -2.2 0.2 0.2 0.2 6.1 0.3 -3.3 0.2 3.4 0.2 2.7 0.2 -7.3 0.2 9.7 0.2 -7.1 0.3 -4.7 0.2 1.6 0.2 2.5 0.2 -1.7 0.2 0.8 0.2 -4.6 0.3 3.1 0.2 -0.9 0.2 5.5 0.2 -2.1 0.2 1.4 0.2 -6.1 0.3 0.6 0.2 2.8 0.2 -2.9 0.2 2.9 0.2 1 0.2 -2.9 0.3 1 0.2 -7.9 0.2 13.9 0.2 -8.8 0.2 7.3 0.2 -6.7 0.3 6.9 0.2 2.8 0.2 -12.8 0.2 6.8 0.2 -7.1 0.2 9.2 0.3 0.3 0.2 -8 0.2 7.2 0.2 -2.6 0.2 3.6 0.3 -2.5 0.2 7.6 0.2 -7 0.2 -1 0.2 -4.2 0.2 -0.2 0.3 4.2 0.2 -0.8 0.2 0.5 0.2 -8.5 0.2 11 0.2 -6 0.3 2.7 0.2 5.4 0.2 -7.2 0.2 -2.4 0.2 3.3 0.2 5.7 0.3 -6.8 0.2 -0.2 0.2 4.1 0.2 -5.2 0.2 9.8 0.2 -1.5 0.3 -3.4 0.2 -1.4 0.2 -3.5 0.2 -0.3 0.2 6.7 0.2 -7 0.3 -2.1 0.2 2.8 0.2 3.7 0.2 0.5 0.2 2.2 0.2 4.4 0.3 -4.6 0.2 2.6 0.2 -6.4 0.2 0.3 0.2 -1 0.3 0.2 0.2 -0.7 0.2 3.9 0.2 -0.6 0.2 -3.1 0.2 -4 0.3 12.6 0.2 -2.6 0.2 -3.3 0.2 3 0.2 -1.8 0.2 -2.2 0.3 3.1 0.2 -6.2 0.2 0.4 0.2 -0.2 0.2 1 0.2 -1.2 0.3 14.5 0.2 -14.7 0.2 6.8 0.2 -12.1 0.2 11.1 0.2 -4.1 0.3 7.1 0.2 -1.3 0.2 -5.4 0.2 -0.7 0.2 -4.5 0.2 2.6 0.3 -1.6 0.2 -2.8 0.2 13.6 0.2 -11.7 0.2 8.8 0.2 -4.4 0.3 1.6 0.2 -3.9 0.2 0.2 0.2 1 0.2 4 0.3 5.5 0.2 -7.6 0.2 0.4 0.2 -0.3 0.2 -2.1 0.2 -5.4 0.3 3.2 0.2 2.6 0.2 3.8 0.2 2.8 0.2 -10.8 0.2 3.2 0.3 2.5 0.2 6.2 0.2 -4.7 0.2 -3.9 0.2 0.8 0.2 3.4 0.3 -2.5 0.2 1.7 0.2 0.6 0.2 -7 0.2 2.5 0.2 1.6 0.3 3 0.2 -7.1 0.2 10.6 0.2 -6.3 0.2 5.3 0.2 4 0.3 -6.4 0.2 6.3 0.2 -6.9 0.2 4.4 0.2 -5.5 0.2 2 0.3 4.1 0.2 -4.3 0.2 1.3 0.2 -8.9 0.2 0.3 0.3 2.4 0.2 -0.4 0.2 -6.1 0.2 8.4 0.2 0.3 0.2 -5.6 0.3 3.8 0.2 5.9 0.2 -9.8 0.2 5.4 0.2 -4.9 0.2 -0.5 0.3 7.6 0.2 -1.7 0.2 -2.1 0.2 7.3 0.2 -1.2 0.2 -4.4 0.3 0.6 0.2 3.6 0.2 -3.3 0.2 -1.9 0.2 4.3 0.2 0.4 0.3 -2.5 0.2 3.6 0.2 -0.8 0.2 -1.8 0.2 6.2 0.2 -5.4 0.3 -3.2 0.2 4.9 0.2 -8.6 0.2 3.2 0.2 -4 0.2 5.5 0.3 -2.8 0.2 2.8 0.2 3.9 0.2 -6.6 0.2 5.2 0.3 -5.1 0.2 6.1 0.2 -4 0.2 1.2 0.2 -6.1 0.2 6.1 0.3 -5.6 0.2 2.3 0.2 -4 0.2 7.6 0.2 -5.4 0.2 0.1 0.3 0.9 0.2 1.6 0.2 -4.6 0.2 11 0.2 -8.4 0.2 5.2 0.3 -4.3 0.2 -1.4 0.2 2 0.2 2.5 0.2 2.6 0.2 2.1 0.3 -3 0.2 -4.6 0.2 7.7 0.2 -16.1 0.2 10.5 0.2 2.8 0.3 -7.2 0.2 -0.3 0.2 2.7 0.2 4.6 0.2 -3.3 0.2 -4.3 0.3 1.5 0.2 10.9 0.2 -11 0.2 -3.7 0.2 9.6 0.3 4.7 0.2 -4.4 0.2 -3.5 0.2 1.2 0.2 0 0.2 11.3 0.3 -9.3 0.2 0.1 0.2 -2.5 0.2 -4.8 0.2 7.6 0.2 -7.5 0.3 -1 0.2 1.4 0.2 6.1 0.2 -7.4 0.2 6.9 0.2 -0.7 0.3 5.1 0.2 -2.2 0.2 -0.3 0.2 -9 0.2 4 0.2 0.2 0.3 2.6 0.2 0.2 0.2 2.3 0.2 -2.5 0.2 -6.9 0.2 6.3 0.3 -9 0.2 5.8 0.2 3.7 0.2 -6.6 0.2 5.2 0.2 -4.1 0.3 6 0.2 -7.8 0.2 4.1 0.2 0.7 0.2 -2.9 0.3 5.8 0.2 6.3 0.2 -5 0.2 -7 0.2 -2.5 0.2 11.5 0.3 -7.5 0.2 -0.2 0.2 7.7 0.2 1.5 0.2 -13.9 0.2 5.3 0.3 3 0.2 -3.5 0.2 8.7 0.2 -8 0.2 1.9 0.2 0.9 0.3 -5.7 0.2 4.4 0.2 -0.1 0.2 2 0.2 1.3 0.2 -2.7 0.3 -6.3 0.2 13.8 0.2 -3.6 0.2 -1.8 0.2 -5 0.2 5.3 0.3 -5.1 0.2 10.9 0.2 -4.3 0.2 -7 0.2 12.4 0.2 -10.7 0.3 -4.2 0.2 2.5 0.2 -0.3 0.2 6.5 0.2 -1.1 0.3 -6.5 0.2 2.8 0.2 -5.8 0.2 5.3 0.2 1 0.2 0.6 0.3 -5.9 0.2 1.8 0.2 6 0.2 -4.3 0.2 5.8 0.2 -7.2 0.3 4.6 0.2 -6.8 0.2 -0.3 0.2 2.7 0.2 9.6 0.2 -4.1 0.3 -3.5 0.2 0.1 0.2 -0.4 0.2 -2.7 0.2 6.9 0.2 2.2 0.3 0.6 0.2 -10 0.2 0.9 0.2 5.5 0.2 -1.7 0.2 -5.5 0.3 6.6 0.2 -4.2 0.2 -0.4 0.2 2.2 0.2 -2.3 0.2 -1.3 0.3 6.2 0.2 5.2 0.2 -6.2 0.2 5.5 0.2 0.9 0.3 -9.8 0.2 6.9 0.2 -2.2 0.2 -2.5 0.2 4.3 0.2 -6.2 0.3 -5.3 0.2 11.2 0.2 -3.3 0.2 10.4 0.2 -6.9 0.2 -10.6 0.3 7.3 0.2 1.5 0.2 -3.8 0.2 3.1 0.2 -7.2 0.2 6.5 0.3 2.1 0.2 -1.5 0.2 9.5 0.2 -12.5 0.2 -0.4 0.2 9.8 0.3 3.5 0.2 -8.6 0.2 -3.3 0.2 -5.4 0.2 9.8 0.2 -0.3 0.3 -3.1 0.2 -5.5 0.2 9.1 0.2 -2.2 0.2 1.4 0.2 -6.8 0.3 -2.4 0.2 -2.5 0.2 1.8 0.2 3 0.2 6 0.3 -4.4 0.2 -3.2 0.2 1.8 0.2 6.9 0.2 -2.5 0.2 0.6 0.3 -5.7 0.2 2.8 0.2 2.8 0.2 -4.5 0.2 1.1 0.2 4.3 0.3 -7.1 0.2 4.1 0.2 0.9 0.2 3.4 0.2 -4.5 0.2 -1.6 0.3 11.3 0.2 -6.2 0.2 -1.6 0.2 -3.4 0.2 7.3 0.2 -13.3 0.3 9.2 0.2 2.6 0.2 -3 0.2 -4.2 0.2 3.6 0.2 2.9 0.3 -4 0.2 -0.3 0.2 0.7 0.2 4.5 0.2 -5.3 0.2 -15.2 0.3 17.3 0.2 -1.7 0.2 9.5 0.2 -8.7 0.2 -1.2 0.3 3.1 0.2 -1.1 0.2 3.5 0.2 -7.5 0.2 3.2 0.2 5 0.3 -3.5 0.2 -2.6 0.2 0.3 0.2 -9.4 0.2 10.7 0.2 -0.9 0.3 4 0.2 -5.9 0.2 5.8 0.2 -5.5 0.2 4.8 0.2 0.7 0.3 -0.2 0.2 -11.6 0.2 13 0.2 -9 0.2 3.9 0.2 5.4 0.3 -4 0.2 1.9 0.2 -4.6 0.2 -3.3 0.2 -3.5 0.2 10.4 0.3 0.1 0.2 0.4 0.2 -2.8 0.2 3.2 0.2 -10.5 0.2 7.6 0.3 0.6 0.2 11.5 0.2 -13.2 0.2 4.9 0.2 -14 0.3 7.2 0.2 4.1 0.2 -3.7 0.2 -5.8 0.2 6.4 0.2 -1.7 0.3 10.8 0.2 -4.4 0.2 2 0.2 -6.9 0.2 7.9 0.2 1 0.3 -5.3 0.2 -1 0.2 -3.1 0.2 -4.3 0.2 1.4 0.2 4.6 0.3 -0.3 0.2 8.6 0.2 -12.6 0.2 8.3 0.2 -1.7 0.2 -1.5 0.3 3.9 0.2 -3 0.2 -5 0.2 -1.8 0.2 -2.3 0.2 4.3 0.3 5.8 0.2 -4.1 0.2 6.2 0.2 5.8 0.2 -12.1 0.2 4.1 0.3 0 0.2 2.5 0.2 -12.3 0.2 7.5 0.2 -5 0.3 4.8 0.2 -0.6 0.2 0.2 0.2 -5.4 0.2 14.1 0.2 -6.7 0.3 1.6 0.2 -4.5 0.2 4.1 0.2 -2.4 0.2 2.6 0.2 1.3 0.3 -5.5 0.2 -2.5 0.2 3 0.2 7 0.2 -2.4 0.2 -6.5 0.3 4.8 0.2 -5 0.2 3.1 0.2 -5.9 0.2 10.2 0.2 -5 0.3 -2.7 0.2 1.5 0.2 7.5 0.2 -2 0.2 -1.6 0.2 3 0.3 -2.8 0.2 0.2 0.2 -0.6 0.2 0 0.2 1.7 0.2 -6.6 0.3 -1 0.2 4.8 0.2 -6 0.2 0.2 0.2 6.6 0.3 -8.9 0.2 1.1 0.2 2.4 0.2 5.2 0.2 -3 0.2 3.6 0.3 -5.4 0.2 4.4 0.2 3.6 0.2 0 0.2 -2.4 0.2 1.6 0.3 -6 0.2 -1.1 0.2 2.5 0.2 2.2 0.2 -0.5 0.2 1.2 0.3 1.3 0.2 -5.5 0.2 4.4 0.2 -4.7 0.2 6.5 0.2 0.9 0.3 -6.4 0.2 -10.1 0.2 11.2 0.2 3.6 0.2 -9.5 0.2 5.9 0.3 1.6 0.2 3.5 0.2 -8 0.2 5 0.2 1.6 0.2 -2.2 0.3 -5.9 0.2 1.2 0.2 8.1 0.2 3.6 0.2 -14.8 0.3 6.1 0.2 -8.2 0.2 6.9 0.2 -0.5 0.2 2.2 0.2 -0.2 0.3 -0.9 0.2 0.8 0.2 -6.5 0.2 7.5 0.2 0.6 0.2 -6.3 0.3 8.7 0.2 -2.6 0.2 -1.4 0.2 6.5 0.2 -8 0.2 2.2 0.3 -3.9 0.2 2.4 0.2 6.3 0.2 0.8 0.2 -2.6 0.2 -2.2 0.3 -0.4 0.2 0.3 0.2 -3.4 0.2 7.5 0.2 -2.7 0.2 -8.7 0.3 6.4 0.2 -0.3 0.2 -3.1 0.2 8.3 0.2 -6.8 0.2 1.9 0.3 2.6 0.2 -4 0.2 -5.2 0.2 4.8 0.2 1.9 0.3 -7.3 0.2 4.2 0.2 -5.9 0.2 2.8 0.2 4.7 0.2 3.2 0.3 -1.3 0.2 -5.9 0.2 9.9 0.2 -15.3 0.2 20.5 0.2 -12.3 0.3 -2.7 0.2 8.3 0.2 5.6 0.2 -6.8 0.2 -0.4 0.2 -5.5 0.3 3.9 0.2 -1.1 0.2 1.5 0.2 -6.8 0.2 8.1 0.2 -1.2 0.3 -1.8 0.2 -10.8 0.2 25 0.2 -3.8 0.2 -6.7 0.2 1.4 0.3 -3.6 0.2 -3.6 0.2 0.4 0.2 3.7 0.2 2 0.2 -2.2 0.3 2.3 0.2 -11.6 0.2 3.2 0.2 5.6 0.2 -3.5 0.3 5 0.2 -2 0.2 -0.8 0.2 5.5 0.2 -5 0.2 2.8 0.3 -4.8 0.2 6.5 0.2 -1.9 0.2 -4.9 0.2 -4 0.2 4 0.3 0.9 0.2 7.4 0.2 -3.6 0.2 -3.1 0.2 0.9 0.2 -0.6 0.3 -4.5 0.2 -1 0.2 8 0.2 1.2 0.2 3.4 0.2 -7.2 0.3 -2.3 0.2 -2.8 0.2 8.4 0.2 -1.1 0.2 1.6 0.2 -12.9 0.3 2.2 0.2 8.9 0.2 -2.9 0.2 4.3 0.2 -1.6 0.2 -10.9 0.3 10.4 0.2 -0.3 0.2 -0.9 0.2 5.8 0.2 1 0.3 1.9 0.2 -13 0.2 7.6 0.2 -0.7 0.2 -6.4 0.2 8.5 0.3 -2.7 0.2 1.4 0.2 -5 0.2 2.7 0.2 6.3 0.2 -11.6 0.3 -1.3 0.2 4.2 0.2 2.6 0.2 -0.8 0.2 4.5 0.2 -3.5 0.3 -5.9 0.2 3.3 0.2 7 0.2 0 0.2 -4.6 0.2 -6.5 0.3 3.4 0.2 1.9 0.2 -3.7 0.2 6.8 0.2 -4.7 0.2 2.9 0.3 3.5 0.2 -7.2 0.2 7.8 0.2 -5.3 0.2 -4.5 0.2 9.7 0.3 -10.8 0.2 -0.5 0.2 2.5 0.2 4.4 0.2 0 0.3 -0.1 0.2 -1.1 0.2 4 0.2 -5.3 0.2 -4.9 0.2 12.1 0.3 -12.8 0.2 11.5 0.2 -0.9 0.2 -1.8 0.2 -1.6 0.2 -1.1 0.3 -6.1 0.2 4.5 0.2 -2.8 0.2 7.1 0.2 -4 0.2 9.5 0.3 -2.5 0.2 -15 0.2 10.5 0.2 -3.1 0.2 -1 0.2 0.8 0.3 8.7 0.2 -6.5 0.2 -8.9 0.2 5.2 0.2 6.1 0.2 -1.8 0.3 2.2 0.2 -2.9 0.2 0.4 0.2 0.4 0.2 3.1 0.2 4.4 0.3 -9.5 0.2 1.1 0.2 -1.4 0.2 -2.5 0.2 5.7 0.3 -6.1 0.2 5.7 0.2 -4.9 0.2 1.4 0.2 6.1 0.2 -7.6 0.3 2.1 0.2 1.6 0.2 0.9 0.2 -0.7 0.2 3.4 0.2 2.1 0.3 -5.1 0.2 -3.6 0.2 4.1 0.2 -3.8 0.2 9.5 0.2 -13.4 0.3 6 0.2 2.1 0.2 -1.3 0.2 -1.3 0.2 1.2 0.2 -1.3 0.3 7 0.2 -7.9 0.2 3.2 0.2 4 0.2 -8.2 0.2 3.4 0.3 -6.5 0.2 9.1 0.2 -8.2 0.2 3.2 0.2 5.6 0.2 -7 0.3 1.5 0.2 -1.8 0.2 6.4 0.2 7.9 0.2 -8.4 0.3 -2.3 0.2 -3.4 0.2 -1.1 0.2 -0.4 0.2 2.8 0.2 1.8 0.3 2.5 0.2 -3.9 0.2 3.9 0.2 -2.9 0.2 2.5 0.2 -4.5 0.3 4.6 0.2 1.1 0.2 -0.4 0.2 -4.6 0.2 4.5 0.2 -7.4 0.3 9.5 0.2 -5.4 0.2 2.5 0.2 3.6 0.2 -4.6 0.2 -2.1 0.3 -0.8 0.2 3.8 0.2 3.3 0.2 -1.5 0.2 -0.7 0.2 -10 0.3 12.9 0.2 -4.7 0.2 -9.8 0.2 14 0.2 -11.6 0.2 0.9 0.3 2.5 0.2 1.3 0.2 9.4 0.2 -6.8 0.2 0.5 0.3 -6.1 0.2 0.3 0.2 9.8 0.2 5.3 0.2 -6.9 0.2 -11.5 0.3 7.7 0.2 0.3 0.2 -2.8 0.2 4.1 0.2 -2.6 0.2 4.9 0.3 -0.2 0.2 -5.5 0.2 1.3 0.2 -2.1 0.2 2.7 0.2 -3.8 0.3 2.3 0.2 0.3 0.2 -3.1 0.2 4.1 0.2 5.3 0.2 -1.3 0.3 -2.6 0.2 -5.4 0.2 6.8 0.2 -1.2 0.2 -6.5 0.2 -0.9 0.3 12 0.2 -1 0.2 -4.1 0.2 -1.2 0.2 2.8 0.2 3.8 0.3 -15.2 0.2 7.5 0.2 -4.6"/>
<path stroke="#f01c24" d="M78.5 1203.9l0.2 0.1 0.2 1.8 0.3 -1.6 0.2 0.1 0.2 0 0.2 0.6 0.2 0.4 0.2 -1 0.3 -0.5 0.2 -0.3 0.2 0.6 0.2 1.5 0.2 -1.1 0.2 0 0.3 0.2 0.2 0.3 0.2 -1.4 0.2 1 0.2 -0.6 0.2 -0.4 0.3 1 0.2 -0.4 0.2 0.2 0.2 -1.4 0.2 1.4 0.2 0.6 0.3 -1.9 0.2 2.6 0.2 -3.1 0.2 0.7 0.2 0 0.2 0 0.3 0.2 0.2 -0.3 0.2 2.3 0.2 -1.7 0.2 0.6 0.2 0.6 0.3 -0.6 0.2 -0.7 0.2 -0.5 0.2 0.8 0.2 0.1 0.3 -1.9 0.2 0.6 0.2 1.1 0.2 0 0.2 -0.8 0.2 -0.6 0.3 1.1 0.2 -0.4 0.2 -0.8 0.2 1.8 0.2 -1.3 0.2 0.3 0.3 0.5 0.2 -0.9 0.2 -0.5 0.2 0.8 0.2 0.1 0.2 -1.4 0.3 0.8 0.2 0.8 0.2 -1 0.2 -0.3 0.2 0.6 0.2 1.3 0.3 -1 0.2 0.3 0.2 -2.1 0.2 1.8 0.2 -2 0.2 1.3 0.3 -0.1 0.2 -0.2 0.2 -1.1 0.2 2.1 0.2 -0.6 0.2 -0.1 0.3 -0.5 0.2 0.6 0.2 -0.5 0.2 -0.7 0.2 1 0.3 -1.4 0.2 1 0.2 0.1 0.2 -0.7 0.2 0.7 0.2 -0.6 0.3 0.8 0.2 0.4 0.2 -1.2 0.2 -0.4 0.2 0.6 0.2 -0.8 0.3 1 0.2 -2 0.2 1.8 0.2 -0.7 0.2 0.4 0.2 0.1 0.3 0.5 0.2 -1.8 0.2 1.2 0.2 0.3 0.2 -1.4 0.2 0 0.3 1.3 0.2 -1.1 0.2 -0.4 0.2 0.7 0.2 1.1 0.2 -1 0.3 0.5 0.2 0.3 0.2 -1.1 0.2 -0.4 0.2 2.2 0.2 -1.4 0.3 0.3 0.2 -1 0.2 0.7 0.2 0.6 0.2 -2.2 0.3 1.2 0.2 -1.2 0.2 0.8 0.2 0.8 0.2 0.4 0.2 0 0.3 -0.9 0.2 -0.4 0.2 -1 0.2 1.9 0.2 -1 0.2 -0.5 0.3 -0.5 0.2 0.2 0.2 0.3 0.2 -0.1 0.2 1.4 0.2 -1.1 0.3 1 0.2 -2.6 0.2 0.8 0.2 0.8 0.2 0.1 0.2 -0.1 0.3 -0.7 0.2 0.7 0.2 -0.2 0.2 0.5 0.2 -1.1 0.2 -0.2 0.3 1.3 0.2 -1.3 0.2 0.5 0.2 -0.8 0.2 -0.2 0.2 1.1 0.3 -0.9 0.2 -0.4 0.2 1.7 0.2 -1 0.2 0.8 0.3 -1.3 0.2 1.6 0.2 -2 0.2 0.9 0.2 -0.8 0.2 -1.1 0.3 1.5 0.2 0.6 0.2 0.1 0.2 -1.5 0.2 1.5 0.2 0.1 0.3 -1.5 0.2 -0.8 0.2 0.7 0.2 -1.3 0.2 0.4 0.2 0.3 0.3 0.2 0.2 0 0.2 -0.2 0.2 -0.5 0.2 0.6 0.2 1.2 0.3 0.1 0.2 -0.6 0.2 -0.9 0.2 1.1 0.2 -1.1 0.2 -0.5 0.3 -0.7 0.2 1.5 0.2 -0.1 0.2 0.1 0.2 -0.1 0.2 -0.8 0.3 -1.6 0.2 3.5 0.2 -2.7 0.2 -0.3 0.2 -1.1 0.3 -0.1 0.2 0.5 0.2 1.3 0.2 -0.9 0.2 -0.5 0.2 0 0.3 -1.4 0.2 0.7 0.2 0.3 0.2 -1.1 0.2 -1 0.2 0.8 0.3 0.1 0.2 -0.4 0.2 -1 0.2 -0.4 0.2 0.4 0.2 -0.2 0.3 -1.4 0.2 -1.4 0.2 -0.6 0.2 0 0.2 2 0.2 -0.9 0.3 -0.1 0.2 0 0.2 -0.2 0.2 -0.7 0.2 -0.7 0.2 -0.9 0.3 -0.3 0.2 0.9 0.2 -0.3 0.2 -1.2 0.2 -0.1 0.2 0.5 0.3 -0.7 0.2 1.1 0.2 -1.9 0.2 0.8 0.2 -1.5 0.3 2.1 0.2 -2.5 0.2 0.6 0.2 -0.9 0.2 -0.8 0.2 0.2 0.3 -2.1 0.2 0.1 0.2 0.7 0.2 -2 0.2 1 0.2 -0.6 0.3 -1.6 0.2 -0.5 0.2 1 0.2 -1 0.2 0.3 0.2 -1.3 0.3 0.5 0.2 -1.5 0.2 1.6 0.2 -2 0.2 -1.1 0.2 0.3 0.3 0.9 0.2 -1.9 0.2 0.5 0.2 -1 0.2 -1 0.2 -1.8 0.3 0.9 0.2 0.2 0.2 -2.8 0.2 1 0.2 -0.3 0.2 -0.9 0.3 -0.6 0.2 -1.8 0.2 2.1 0.2 -1.6 0.2 -1.9 0.3 -0.1 0.2 -0.4 0.2 0.7 0.2 -2.8 0.2 0.4 0.2 -2.1 0.3 2.1 0.2 -2.8 0.2 -0.9 0.2 -1.5 0.2 0.4 0.2 -0.2 0.3 -1.5 0.2 -0.3 0.2 -1.2 0.2 0.8 0.2 -2.4 0.2 -0.9 0.3 -0.9 0.2 -0.7 0.2 -2.3 0.2 -1 0.2 -0.2 0.2 -0.1 0.3 -1.9 0.2 0 0.2 -0.5 0.2 -0.9 0.2 -1.3 0.2 -2.2 0.3 -0.8 0.2 -0.9 0.2 -0.4 0.2 -0.3 0.2 -1.7 0.2 -0.8 0.3 -0.5 0.2 -2.3 0.2 0.9 0.2 -1.1 0.2 -1.2 0.3 -1.4 0.2 -1.4 0.2 -1.6 0.2 -1.1 0.2 0 0.2 -0.9 0.3 -1.6 0.2 -1.8 0.2 -0.7 0.2 -1.4 0.2 -1.4 0.2 -0.9 0.3 -1.2 0.2 0.1 0.2 -2.8 0.2 -1.2 0.2 -2.2 0.2 -2.2 0.3 -2.7 0.2 -2.1 0.2 -0.5 0.2 -3 0.2 -1.9 0.2 0 0.3 -3.6 0.2 -1.7 0.2 -0.6 0.2 -3.4 0.2 -2.4 0.2 -2.1 0.3 -1 0.2 -3 0.2 -2.2 0.2 -1.7 0.2 -0.5 0.2 -3.7 0.3 -1 0.2 -2 0.2 -3.4 0.2 -2.2 0.2 -2.1 0.3 1.4 0.2 -5.4 0.2 0.7 0.2 -4 0.2 -0.6 0.2 -3.2 0.3 -2.6 0.2 -1.9 0.2 -1 0.2 -0.2 0.2 -3.6 0.2 -2 0.3 -2.5 0.2 -2.7 0.2 -0.6 0.2 -3.3 0.2 -0.7 0.2 -2.2 0.3 -2.8 0.2 -2.3 0.2 -2.1 0.2 -0.9 0.2 -2.9 0.2 -0.7 0.3 -4.5 0.2 -0.9 0.2 -1.5 0.2 -1.3 0.2 -2.2 0.2 -2.6 0.3 -1.3 0.2 -2.6 0.2 -1.2 0.2 -2.2 0.2 -3.4 0.2 -0.4 0.3 -2.5 0.2 -1.6 0.2 -3.2 0.2 -0.7 0.2 -2.6 0.3 -2.3 0.2 -1.7 0.2 -2.7 0.2 -1.8 0.2 -1.9 0.2 -1.4 0.3 -2.3 0.2 -1.5 0.2 -2 0.2 -1.8 0.2 -4 0.2 -1.5 0.3 -0.4 0.2 -2.8 0.2 -2.7 0.2 -1.1 0.2 -3.5 0.2 0.4 0.3 -3.1 0.2 0 0.2 -4.8 0.2 -0.3 0.2 -2.7 0.2 -2.6 0.3 -1 0.2 -1.7 0.2 -1.7 0.2 -3.7 0.2 -2.1 0.2 -0.1 0.3 -3.6 0.2 -0.2 0.2 -0.4 0.2 -3.4 0.2 -1.7 0.2 -2.9 0.3 -2 0.2 -0.9 0.2 -1.9 0.2 -2.4 0.2 0.1 0.3 -4.6 0.2 -2.3 0.2 -1.1 0.2 -0.6 0.2 -3.1 0.2 -1.3 0.3 -2.1 0.2 -4.1 0.2 -0.2 0.2 -1.6 0.2 -3.2 0.2 0 0.3 -4.9 0.2 -0.6 0.2 -1.8 0.2 -2 0.2 -0.1 0.2 -3.8 0.3 -1.7 0.2 -1.3 0.2 -0.9 0.2 -2.4 0.2 -3.1 0.2 0.5 0.3 -2.7 0.2 -2 0.2 0.6 0.2 -2.3 0.2 -2.2 0.2 -2.5 0.3 -0.5 0.2 -0.4 0.2 -2 0.2 0.3 0.2 -3.7 0.2 -0.8 0.3 -1.2 0.2 -1.7 0.2 -1.5 0.2 -0.2 0.2 -4.6 0.3 1.9 0.2 -2.7 0.2 -1.3 0.2 0.3 0.2 -2.9 0.2 -0.7 0.3 -1 0.2 -1 0.2 -3.4 0.2 -2.6 0.2 -1.2 0.2 -0.6 0.3 -2 0.2 1.4 0.2 -4.2 0.2 -0.5 0.2 -2.8 0.2 -1.5 0.3 -0.6 0.2 -1.1 0.2 -1.3 0.2 -3.6 0.2 1.1 0.2 -2.1 0.3 -1.9 0.2 -1.8 0.2 2 0.2 -2.9 0.2 0.3 0.2 -2.1 0.3 -2.4 0.2 1.7 0.2 -3.4 0.2 -0.7 0.2 -2.3 0.2 -0.1 0.3 -1.3 0.2 -0.5 0.2 -2.7 0.2 -0.6 0.2 -0.5 0.3 3.2 0.2 -5.6 0.2 0.5 0.2 -2.5 0.2 -0.6 0.2 -1.3 0.3 0.2 0.2 -1.6 0.2 -0.5 0.2 0.7 0.2 -3.3 0.2 0.5 0.3 -1.9 0.2 -2 0.2 -1.3 0.2 0.1 0.2 -0.6 0.2 -0.5 0.3 0.2 0.2 -2.4 0.2 -0.6 0.2 0.4 0.2 -2 0.2 1.4 0.3 -2.6 0.2 0.6 0.2 -0.4 0.2 -0.7 0.2 -1.1 0.2 0 0.3 -2 0.2 -0.7 0.2 -4.2 0.2 5.3 0.2 -2.2 0.2 -2.1 0.3 -1.5 0.2 1.3 0.2 -1.7 0.2 1.1 0.2 -2 0.3 1.2 0.2 0.5 0.2 -2.4 0.2 0.1 0.2 -0.8 0.2 0.2 0.3 0.9 0.2 -1.8 0.2 -0.2 0.2 0.5 0.2 -0.9 0.2 -1.3 0.3 -0.5 0.2 0.9 0.2 -0.1 0.2 -0.8 0.2 -0.2 0.2 -1 0.3 -2.8 0.2 2.3 0.2 1.8 0.2 -4.8 0.2 1.8 0.2 0.2 0.3 -1.5 0.2 1 0.2 -3.1 0.2 2 0.2 -0.2 0.2 0.2 0.3 -1.3 0.2 0.6 0.2 0 0.2 -0.6 0.2 0.7 0.2 -2.4 0.3 -0.9 0.2 2.8 0.2 -1 0.2 -1.4 0.2 2.1 0.3 -0.9 0.2 -1.9 0.2 0.4 0.2 -0.5 0.2 2.7 0.2 -4.2 0.3 1.1 0.2 0.1 0.2 -2.8 0.2 1 0.2 3.1 0.2 -4.8 0.3 3.2 0.2 -0.8 0.2 1.2 0.2 -3.9 0.2 1.9 0.2 -1 0.3 -0.8 0.2 1.1 0.2 2.6 0.2 -5.1 0.2 2.4 0.2 1.4 0.3 -1.7 0.2 -0.2 0.2 -0.1 0.2 -0.6 0.2 -0.9 0.2 -2.1 0.3 1.1 0.2 0.9 0.2 -3.1 0.2 2.8 0.2 -3.3 0.2 3 0.3 2.2 0.2 -4.4 0.2 2 0.2 0 0.2 -0.4 0.3 -0.4 0.2 -0.9 0.2 0.8 0.2 1.6 0.2 -2.5 0.2 -0.3 0.3 1 0.2 -1.1 0.2 -0.5 0.2 3.2 0.2 0.2 0.2 -1.8 0.3 -2.5 0.2 3.3 0.2 -3.9 0.2 2.3 0.2 -1.6 0.2 1.3 0.3 0 0.2 -0.5 0.2 0.6 0.2 0.2 0.2 -0.5 0.2 -0.6 0.3 -0.1 0.2 1.3 0.2 -1.4 0.2 -0.4 0.2 -1.4 0.2 0 0.3 0.5 0.2 -0.2 0.2 1.9 0.2 -1.1 0.2 -1.9 0.2 0.5 0.3 -1.7 0.2 -1 0.2 0.3 0.2 3.4 0.2 -0.1 0.3 -0.5 0.2 -2.4 0.2 1.3 0.2 0.8 0.2 1.1 0.2 -1.6 0.3 0.2 0.2 -2.3 0.2 -1.8 0.2 5.4 0.2 0.2 0.2 -3.5 0.3 0.1 0.2 1.8 0.2 -1.4 0.2 -0.2 0.2 2 0.2 -2.6 0.3 1.7 0.2 -1.2 0.2 -1.6 0.2 3.2 0.2 -2.7 0.2 0 0.3 -1.2 0.2 3.4 0.2 -1.8 0.2 2.6 0.2 -2.2 0.2 -2 0.3 -0.9 0.2 1.7 0.2 2.4 0.2 0.8 0.2 -3 0.2 1.5 0.3 -1.6 0.2 0.5 0.2 -0.1 0.2 -2.3 0.2 4.3 0.3 -1.8 0.2 -1.5 0.2 -1.2 0.2 3.8 0.2 0.2 0.2 -1.1 0.3 1.8 0.2 -0.9 0.2 -3.8 0.2 3.2 0.2 0.7 0.2 -1.4 0.3 -0.9 0.2 1.4 0.2 -1.3 0.2 -1.3 0.2 0.2 0.2 1.4 0.3 -2.2 0.2 -0.6 0.2 1.4 0.2 3.6 0.2 -4.2 0.2 1.8 0.3 -1.9 0.2 2.2 0.2 0.1 0.2 -0.1 0.2 -0.3 0.2 -3.2 0.3 3.2 0.2 -0.1 0.2 -1 0.2 1.9 0.2 -0.9 0.2 0.6 0.3 -2.8 0.2 3.4 0.2 -2 0.2 -0.5 0.2 -1.5 0.3 0.6 0.2 0.7 0.2 1.8 0.2 -4.9 0.2 1.4 0.2 1.3 0.3 2.8 0.2 -1.4 0.2 0.9 0.2 0.1 0.2 -0.5 0.2 1 0.3 -0.3 0.2 -1.1 0.2 -0.3 0.2 2.4 0.2 -2.5 0.2 -2.7 0.3 2.6 0.2 0.5 0.2 0 0.2 -4.1 0.2 2 0.2 -0.1 0.3 0.4 0.2 0.7 0.2 -2.8 0.2 3.1 0.2 2.8 0.2 -3.9 0.3 -0.6 0.2 0.9 0.2 -0.5 0.2 0.1 0.2 0.2 0.2 -2.6 0.3 0.8 0.2 1.3 0.2 0.6 0.2 0.8 0.2 1.1 0.3 0.1 0.2 -0.1 0.2 -1.4 0.2 0.1 0.2 -1.4 0.2 0.7 0.3 3.1 0.2 -0.4 0.2 -1.5 0.2 -4.7 0.2 4.3 0.2 -1.5 0.3 0.4 0.2 1.1 0.2 -1.8 0.2 4.1 0.2 -1.5 0.2 0.8 0.3 -2.9 0.2 -2.5 0.2 3.7 0.2 1 0.2 0 0.2 -1.7 0.3 0.3 0.2 -0.8 0.2 1.4 0.2 0.1 0.2 -2.7 0.2 -0.2 0.3 0.8 0.2 2.3 0.2 -3.2 0.2 -2.8 0.2 6 0.2 -2.6 0.3 1.4 0.2 -0.9 0.2 0.2 0.2 -0.5 0.2 1.8 0.3 -1.2 0.2 1.1 0.2 -1.3 0.2 0.3 0.2 1.2 0.2 -0.9 0.3 0.6 0.2 -1.2 0.2 0.1 0.2 -0.1 0.2 3.7 0.2 -3 0.3 0.7 0.2 -0.2 0.2 -2.2 0.2 0.3 0.2 0.9 0.2 -2 0.3 0.2 0.2 1.4 0.2 -1 0.2 -1.2 0.2 4.1 0.2 0.3 0.3 -0.4 0.2 -0.9 0.2 -0.5 0.2 -1.9 0.2 2.8 0.2 -3.1 0.3 0.1 0.2 0 0.2 1.9 0.2 1.2 0.2 -3 0.2 1.1 0.3 1 0.2 -1.6 0.2 0.7 0.2 1.6 0.2 -1.8 0.3 0.5 0.2 0.5 0.2 -0.9 0.2 1.8 0.2 -1.3 0.2 0.9 0.3 -1.9 0.2 0.9 0.2 0.5 0.2 -1.6 0.2 2.1 0.2 0.3 0.3 -2.7 0.2 2.9 0.2 -3.4 0.2 0.6 0.2 1.9 0.2 0.4 0.3 -3.9 0.2 2.8 0.2 0.6 0.2 0.3 0.2 0.6 0.2 -4.6 0.3 2.2 0.2 0.7 0.2 0.9 0.2 -0.2 0.2 -1.9 0.2 4.5 0.3 -2.2 0.2 0.2 0.2 0.9 0.2 -3.3 0.2 2 0.2 -2.6 0.3 0 0.2 3.1 0.2 -3 0.2 1.1 0.2 0.7 0.3 -2.1 0.2 1.4 0.2 0.1 0.2 2.3 0.2 -3.4 0.2 1.7 0.3 -2.2 0.2 2.1 0.2 -1.7 0.2 1.2 0.2 -0.8 0.2 4 0.3 -3 0.2 0.3 0.2 0 0.2 1.3 0.2 1.1 0.2 -3.6 0.3 1 0.2 -0.3 0.2 -1.2 0.2 2.3 0.2 -2.9 0.2 1 0.3 0.6 0.2 0.2 0.2 -2.5 0.2 1.9 0.2 -0.3 0.2 2.4 0.3 -2 0.2 2.1 0.2 -0.5 0.2 -1.6 0.2 1 0.2 2.3 0.3 -1.2 0.2 -0.6 0.2 -1.7 0.2 1.6 0.2 -2.3 0.3 1.3 0.2 1.6 0.2 -3.8 0.2 2.5 0.2 0.5 0.2 0.3 0.3 -0.9 0.2 0.5 0.2 -1 0.2 -0.7 0.2 0.9 0.2 1.2 0.3 -2.5 0.2 1.8 0.2 -1 0.2 3.8 0.2 -4.8 0.2 2.5 0.3 -2.1 0.2 2.9 0.2 -1.4 0.2 -2.3 0.2 0.2 0.2 1.3 0.3 -0.6 0.2 4 0.2 -2 0.2 -0.7 0.2 2.6 0.2 -2.1 0.3 -1.1 0.2 -1 0.2 1.6 0.2 -2.1 0.2 -2 0.2 3.9 0.3 -1.1 0.2 0 0.2 -1.1 0.2 5.1 0.2 -3.6 0.3 1.3 0.2 1.1 0.2 -0.1 0.2 -1.2 0.2 -1.2 0.2 1.5 0.3 1.3 0.2 -1.8 0.2 -2.3 0.2 3.3 0.2 -2.3 0.2 -0.9 0.3 1.9 0.2 0.9 0.2 0.3 0.2 -3.2 0.2 0.9 0.2 1 0.3 -0.4 0.2 1.3 0.2 -0.7 0.2 -2.6 0.2 1.4 0.2 0.1 0.3 -0.2 0.2 1.7 0.2 -1.2 0.2 2.1 0.2 1.8 0.2 -3.3 0.3 0.6 0.2 0.2 0.2 1.1 0.2 -1.5 0.2 -0.1 0.2 0.9 0.3 -0.2 0.2 0.7 0.2 -0.9 0.2 -1.9 0.2 2.5 0.3 -2.6 0.2 3 0.2 -0.9 0.2 -5.2 0.2 6.3 0.2 -3.5 0.3 2.6 0.2 -1.7 0.2 -0.3 0.2 -0.6 0.2 1.4 0.2 0.8 0.3 -4.4 0.2 2.5 0.2 0 0.2 2.1 0.2 0.4 0.2 -2.4 0.3 -1.3 0.2 2.9 0.2 0.8 0.2 -2.9 0.2 2.1 0.2 -1.5 0.3 2.2 0.2 -1.5 0.2 1.1 0.2 -0.6 0.2 0.6 0.2 -1.6 0.3 0.9 0.2 -0.9 0.2 1.1 0.2 -2.3 0.2 2.6 0.2 -0.6 0.3 -2 0.2 1.4 0.2 1.2 0.2 -0.3 0.2 0.4 0.3 -2.7 0.2 1.5 0.2 0 0.2 2.2 0.2 -3.5 0.2 0 0.3 -0.5 0.2 3.3 0.2 -3.3 0.2 2.6 0.2 -1.4 0.2 0.3 0.3 -1 0.2 3.2 0.2 -2.1 0.2 -1 0.2 -1.6 0.2 2.9 0.3 -0.9 0.2 -1.4 0.2 2.5 0.2 -0.1 0.2 -0.4 0.2 -2 0.3 2.4 0.2 -0.8 0.2 0.9 0.2 -0.8 0.2 -2.3 0.2 1.5 0.3 0.2 0.2 1.3 0.2 0.4 0.2 -2.3 0.2 -0.4 0.2 2.8 0.3 -0.7 0.2 0.2 0.2 -0.1 0.2 -1.7 0.2 2.8 0.3 -3.2 0.2 -0.6 0.2 4.1 0.2 -2.1 0.2 0.5 0.2 1.1 0.3 -4.2 0.2 0.6 0.2 2.9 0.2 -0.1 0.2 -1 0.2 -1.6 0.3 0.3 0.2 1.2 0.2 1.9 0.2 0.8 0.2 -2.3 0.2 -1 0.3 -0.4 0.2 -0.9 0.2 2.2 0.2 0.1 0.2 -1.8 0.2 1.8 0.3 -1.4 0.2 4.6 0.2 -5.2 0.2 1.4 0.2 -0.1 0.2 -0.8 0.3 1.2 0.2 2.2 0.2 -1.5 0.2 -3.1 0.2 2.7 0.2 -0.2 0.3 0.7 0.2 -0.5 0.2 0.6 0.2 0.7 0.2 -1.5 0.3 0.9 0.2 0.7 0.2 -3.3 0.2 1.9 0.2 -0.8 0.2 -1.8 0.3 -0.2 0.2 3.2 0.2 -1.3 0.2 0.6 0.2 1 0.2 -1.4 0.3 1.1 0.2 0.3 0.2 -1.1 0.2 -0.4 0.2 -0.5 0.2 1.1 0.3 -1.6 0.2 2 0.2 0 0.2 -1.7 0.2 2.3 0.2 -2 0.3 -0.3 0.2 1.8 0.2 0.1 0.2 -1 0.2 -0.6 0.2 1.4 0.3 -0.1 0.2 1.6 0.2 -2.6 0.2 -0.7 0.2 -0.2 0.2 1.4 0.3 -0.9 0.2 -1.4 0.2 1 0.2 0.9 0.2 0.1 0.3 -0.6 0.2 0.2 0.2 0.8 0.2 -1.7 0.2 1.4 0.2 -1.1 0.3 1.6 0.2 -2.3 0.2 1.4 0.2 1 0.2 0.2 0.2 -3.4 0.3 1.7 0.2 -0.7 0.2 2 0.2 -0.3 0.2 0.3 0.2 -1.2 0.3 0.9 0.2 -0.8 0.2 1.9 0.2 -4.5 0.2 4.6 0.2 -7.8 0.3 5.7 0.2 -1.4 0.2 1.9 0.2 -1.6 0.2 1 0.2 2.1 0.3 -0.2 0.2 0.3 0.2 -2.9 0.2 1.5 0.2 -0.2 0.2 -0.3 0.3 0.4 0.2 -0.1 0.2 1 0.2 0.4 0.2 -2.1 0.3 0.2 0.2 0.4 0.2 -0.9 0.2 0.2 0.2 0.1 0.2 -1.3 0.3 4.8 0.2 -3.5 0.2 3.7 0.2 -4.3 0.2 0.1 0.2 1.2 0.3 -0.1 0.2 -1.1 0.2 1.6 0.2 -0.4 0.2 -1.3 0.2 4.4 0.3 -3.8 0.2 -0.1 0.2 -0.5 0.2 0.4 0.2 2.9 0.2 -4 0.3 3.2 0.2 2.2 0.2 -3.9 0.2 0.2 0.2 -0.4 0.2 -0.4 0.3 -1.3 0.2 0.8 0.2 3.3 0.2 -2.6 0.2 0 0.2 0.8 0.3 -0.3 0.2 0.3 0.2 -1.3 0.2 2.3 0.2 2.1 0.3 -3.1 0.2 1 0.2 -0.8 0.2 -1.4 0.2 2.6 0.2 -1.7 0.3 1.7 0.2 -0.2 0.2 -0.5 0.2 0.3 0.2 -1.9 0.2 2.2 0.3 -1.4 0.2 0.1 0.2 0.2 0.2 -1.5 0.2 -0.6 0.2 0.7 0.3 -0.9 0.2 1.7 0.2 -1.6 0.2 0.4 0.2 1.1 0.2 -1.6 0.3 2.9 0.2 0.2 0.2 0.3 0.2 -2.2 0.2 2.3 0.2 -3 0.3 3 0.2 -1.3 0.2 -0.5 0.2 -0.7 0.2 1.7 0.2 -1.9 0.3 -0.3 0.2 1.2 0.2 2.5 0.2 -4 0.2 2 0.3 0.4 0.2 -1.2 0.2 3.1 0.2 -4.1 0.2 2.9 0.2 -2.3 0.3 0.5 0.2 1.2 0.2 -1.6 0.2 0 0.2 0.7 0.2 -0.4 0.3 -0.2 0.2 1.3 0.2 0.4 0.2 -1.2 0.2 2.2 0.2 -0.8 0.3 -2.4 0.2 -0.1 0.2 1.2 0.2 -1.1 0.2 1.1 0.2 0.8 0.3 -1.9 0.2 0.8 0.2 0 0.2 0.2 0.2 -3.4 0.2 2.4 0.3 -0.5 0.2 1.5 0.2 -1 0.2 1.7 0.2 -0.5 0.2 -0.2 0.3 -0.2 0.2 -2.5 0.2 3.4 0.2 -2.3 0.2 0.9 0.3 0.2 0.2 -2.7 0.2 3.1 0.2 2.1 0.2 -3.9 0.2 0.6 0.3 3.1 0.2 -3 0.2 2.2 0.2 -1.2 0.2 -2 0.2 3.2 0.3 -1.1 0.2 -2.1 0.2 1.9 0.2 0.5 0.2 -1.8 0.2 -0.2 0.3 -0.1 0.2 -1.8 0.2 5.6 0.2 -0.1 0.2 -1.5 0.2 1.5 0.3 -1 0.2 0.6 0.2 -2.8 0.2 -0.5 0.2 2.3 0.2 -4 0.3 0.7 0.2 3.5 0.2 -0.6 0.2 -0.2 0.2 -1.1 0.2 -0.1 0.3 0.8 0.2 -0.3 0.2 0.1 0.2 -0.6 0.2 1.8 0.3 -1.1 0.2 1.4 0.2 -1.3 0.2 0.5 0.2 -0.6 0.2 2.7 0.3 -0.6 0.2 -4.4 0.2 2 0.2 1.5 0.2 -1.8 0.2 -2.3 0.3 1.3 0.2 3.1 0.2 -0.4 0.2 1.6 0.2 -1.2 0.2 -2.8 0.3 -0.8 0.2 2 0.2 2.2 0.2 1.3 0.2 -3.6 0.2 0.3 0.3 0.1 0.2 -0.1 0.2 -2.8 0.2 3.1 0.2 -0.8 0.2 -0.5 0.3 -1.3 0.2 2.4 0.2 0.1 0.2 -1.2 0.2 0.9 0.2 1.5 0.3 -1.4 0.2 0.1 0.2 1 0.2 0.9 0.2 -0.9 0.3 -0.4 0.2 -1.9 0.2 -0.5 0.2 5.4 0.2 -4 0.2 0.4 0.3 -0.3 0.2 -0.8 0.2 2.1 0.2 2.6 0.2 -4.3 0.2 0.7 0.3 -1.1 0.2 0.3 0.2 1 0.2 -1.3 0.2 1.3 0.2 -1 0.3 1.7 0.2 -1.5 0.2 0 0.2 1.3 0.2 -1 0.2 -2.3 0.3 3 0.2 1.1 0.2 -3.8 0.2 -0.8 0.2 2.5 0.2 -0.3 0.3 -0.4 0.2 1.5 0.2 -1.7 0.2 1.6 0.2 2.9 0.2 -2.7 0.3 -1 0.2 -2.2 0.2 2.8 0.2 0.8 0.2 -1 0.2 0.2 0.3 0.7 0.2 -2.6 0.2 1.1 0.2 1.8 0.2 -1.3 0.3 -1.1 0.2 3.3 0.2 0.2 0.2 -1.9 0.2 0.4 0.2 0.7 0.3 -0.7 0.2 1.2 0.2 -4.6 0.2 2.3 0.2 -0.5 0.2 1.7 0.3 -1.6 0.2 4.5 0.2 -2.7 0.2 -1.6 0.2 1.5 0.2 -0.9 0.3 3 0.2 -2.6 0.2 -0.9 0.2 -0.4 0.2 1 0.2 0.8 0.3 -2.8 0.2 3.2 0.2 -0.5 0.2 -0.6 0.2 -0.5 0.2 -0.5 0.3 1.9 0.2 -2 0.2 0.1 0.2 2.6 0.2 -2.6 0.2 2 0.3 -3.2 0.2 -0.5 0.2 4.3 0.2 1.1 0.2 -1.7 0.3 -0.8 0.2 -0.3 0.2 0.4 0.2 -2.5 0.2 1.5 0.2 -0.4 0.3 3.5 0.2 -3.3 0.2 1.2 0.2 -0.7 0.2 0.2 0.2 -1.8 0.3 3.6 0.2 -2.7 0.2 3.6 0.2 -3.4 0.2 0.6 0.2 -2.1 0.3 2.2 0.2 -0.7 0.2 1.7 0.2 -1.4 0.2 0.2 0.2 0.3 0.3 0.2 0.2 -0.7 0.2 1.7 0.2 -1.4 0.2 -1.6 0.2 0.4 0.3 0.5 0.2 3.1 0.2 -0.7 0.2 0.4 0.2 -1.3 0.2 -0.5 0.3 -1.2 0.2 1.6 0.2 0.1 0.2 -2.2 0.2 1.9 0.3 2 0.2 -2.9 0.2 1.8 0.2 -1.5 0.2 -1.4 0.2 0.7 0.3 1.7 0.2 -0.6 0.2 0.9 0.2 -2.8 0.2 0.5 0.2 0.9 0.3 -0.8 0.2 -0.6 0.2 2.2 0.2 -1.5 0.2 -1.3 0.2 2.5 0.3 -2.1 0.2 1 0.2 2.1 0.2 -1.2 0.2 1.7 0.2 -2.8 0.3 2.2 0.2 -1.1 0.2 0.1 0.2 -2.9 0.2 1.7 0.2 0.7 0.3 -2.2 0.2 3.4 0.2 -2.1 0.2 0.5 0.2 0.2 0.2 -0.9 0.3 2.3 0.2 -3.4 0.2 1.6 0.2 -0.1 0.2 0.2 0.3 0.3 0.2 -3.8 0.2 4.1 0.2 1.2 0.2 -0.6 0.2 3.4 0.3 -4.7 0.2 1.4 0.2 -0.5 0.2 0.8 0.2 -1.9 0.2 -2 0.3 4.1 0.2 -2.6 0.2 0.4 0.2 0 0.2 0.7 0.2 -1 0.3 -0.5 0.2 2.3 0.2 3.1 0.2 -4.3 0.2 1.4 0.2 -2.7 0.3 2.7 0.2 -1.1 0.2 3.8 0.2 -3.9 0.2 0.2 0.2 -1.7 0.3 1.4 0.2 -0.2 0.2 0.2 0.2 3.2 0.2 -4 0.2 1 0.3 0 0.2 -0.4 0.2 1.4 0.2 -0.4 0.2 -0.4 0.3 -0.5 0.2 -1.2 0.2 1.4 0.2 -0.4 0.2 1.9 0.2 -3.8 0.3 0.8 0.2 0.7 0.2 2.9 0.2 -2.6 0.2 2.6 0.2 -1.2 0.3 0.4 0.2 0.7 0.2 -2 0.2 -2.1 0.2 3.4 0.2 -2.3 0.3 1.4 0.2 0.4 0.2 -0.8 0.2 -0.3 0.2 1.7 0.2 0.8 0.3 -0.9 0.2 3.3 0.2 0.2 0.2 -3.2 0.2 -1.4 0.2 0.7 0.3 0.3 0.2 0.4 0.2 0.1 0.2 -1 0.2 -0.1 0.2 0.3 0.3 -0.6 0.2 -0.9 0.2 2.9 0.2 0.5 0.2 -4.2 0.3 3.5 0.2 -0.6 0.2 -1.6 0.2 1 0.2 -2 0.2 1.6 0.3 -1.1 0.2 0.7 0.2 -0.4 0.2 1.4 0.2 0.2 0.2 -1.2 0.3 1.8 0.2 -3.3 0.2 1.9 0.2 0.4 0.2 -2.8 0.2 3.1 0.3 0.2 0.2 -1.8 0.2 1.1 0.2 -0.3 0.2 -0.3 0.2 -0.7 0.3 1.5 0.2 -2.3 0.2 2.8 0.2 -1.3 0.2 0.8 0.2 -2.5 0.3 3.1 0.2 -4.7 0.2 4.7 0.2 -1.8 0.2 0.2 0.2 -0.5 0.3 0.2 0.2 2.6 0.2 0.1 0.2 -1.8 0.2 -0.4 0.3 1.6 0.2 -1.8 0.2 -1.6 0.2 1.8 0.2 -0.7 0.2 1.9 0.3 -4.3 0.2 3.3 0.2 -0.2 0.2 -0.1 0.2 0.7 0.2 -0.5 0.3 -0.3 0.2 1.9 0.2 -2.6 0.2 0.3 0.2 1.3 0.2 1.2 0.3 -1.2 0.2 0.9 0.2 -4.1 0.2 0.9 0.2 1.5 0.2 0.6 0.3 -1.8 0.2 0.5 0.2 -1.7 0.2 5.3 0.2 -3.5 0.2 2.8 0.3 -4.9 0.2 5.7 0.2 -1.2 0.2 -0.2 0.2 -0.8 0.2 -0.1 0.3 -1.9 0.2 1.7 0.2 -0.4 0.2 -0.3 0.2 2.6 0.3 -3.9 0.2 3.5 0.2 -2.6 0.2 -0.1 0.2 2.5 0.2 -3.1 0.3 0.7 0.2 0.2 0.2 0.3 0.2 -0.1 0.2 -0.5 0.2 -0.7 0.3 4.6 0.2 -5.7 0.2 2.3 0.2 -0.3 0.2 1.4 0.2 -0.1 0.3 -1.4 0.2 2 0.2 0.6 0.2 -2.8 0.2 0.6 0.2 1 0.3 -3.2 0.2 2.2 0.2 -0.3 0.2 0.7 0.2 -0.2 0.2 1.2 0.3 -3.1 0.2 4.2 0.2 -1.3 0.2 1.8 0.2 -2.2 0.2 -0.7 0.3 0.2 0.2 -0.9 0.2 1.8 0.2 -1.5 0.2 1.7 0.3 0.2 0.2 -1.1 0.2 -1.4 0.2 4.1 0.2 -1.6 0.2 0 0.3 -1.8 0.2 1.2 0.2 -1 0.2 -1.4 0.2 1.3 0.2 0.4 0.3 1.2 0.2 0.9 0.2 -1.5 0.2 -2.8 0.2 3.8 0.2 -1.4 0.3 1.3 0.2 -2 0.2 -0.9 0.2 3.3 0.2 -1.8 0.2 0.3 0.3 0.4 0.2 0.8 0.2 -2 0.2 0 0.2 -1.7 0.2 3.2 0.3 -1.1 0.2 1.2 0.2 -0.3 0.2 -3.7 0.2 1.2 0.2 2.1 0.3 -0.1 0.2 -0.5 0.2 -2 0.2 0.6 0.2 1.6 0.3 1.7 0.2 -1.2 0.2 -2.9 0.2 3.6 0.2 -0.8 0.2 2.3 0.3 -3.4 0.2 0.5 0.2 -2.3 0.2 5.3 0.2 -1.3 0.2 0 0.3 -2.6 0.2 1.1 0.2 1.9 0.2 -2.7 0.2 5.1 0.2 -6.1 0.3 0.5 0.2 3.6 0.2 -1 0.2 1 0.2 -2.5 0.2 -0.4 0.3 1.9 0.2 -3.5 0.2 2.7 0.2 -1.4 0.2 0.2 0.2 0.2 0.3 -0.1 0.2 0.9 0.2 0.8 0.2 0.5 0.2 -1.1 0.2 -1.5 0.3 -1.4 0.2 2 0.2 0.7 0.2 0 0.2 -0.3 0.3 1.8 0.2 -0.3 0.2 -2 0.2 -0.9 0.2 -0.6 0.2 1.1 0.3 1.7 0.2 -2.5 0.2 1.1 0.2 0.9 0.2 -3 0.2 2.7 0.3 -1.9 0.2 2.2 0.2 -0.4 0.2 -0.1 0.2 0 0.2 0.1 0.3 -0.4 0.2 -1.5 0.2 1.7 0.2 1.3 0.2 1.9 0.2 -4.1 0.3 -1.4 0.2 4.1 0.2 -2.1 0.2 -2.2 0.2 3.5 0.2 -0.2 0.3 -2 0.2 2.3 0.2 0.8 0.2 -1.4 0.2 4.3 0.2 -3 0.3 -2.6 0.2 1.6 0.2 0 0.2 -0.4 0.2 0.5 0.3 0.5 0.2 -0.7 0.2 1.6 0.2 -2.4 0.2 0.6 0.2 -1 0.3 1.5 0.2 -3.1 0.2 2.5 0.2 0.6 0.2 -2.2 0.2 2.9 0.3 -3.5 0.2 -1 0.2 4.7 0.2 0.4 0.2 -2.5 0.2 -0.6 0.3 0.1 0.2 2.5 0.2 0.4 0.2 1.2 0.2 -3.6 0.2 1.7 0.3 2 0.2 -3.6 0.2 -0.6 0.2 0.6 0.2 1.3 0.2 -1.9 0.3 4.6 0.2 -3.8 0.2 -0.6 0.2 1.2 0.2 0.9 0.2 -0.4 0.3 -2.9 0.2 3.2 0.2 2.2 0.2 -3.5 0.2 2.4 0.3 -1.9 0.2 0.7 0.2 -0.9 0.2 1.7 0.2 -2.7 0.2 0 0.3 0.5 0.2 -0.1 0.2 0 0.2 1.1 0.2 -0.5 0.2 -1 0.3 1.4 0.2 1.2 0.2 1.9 0.2 -4.2 0.2 -1.3 0.2 1.6 0.3 0.4 0.2 1 0.2 -0.8 0.2 -1.5 0.2 -1.7 0.2 1.9 0.3 0.6 0.2 -1.8 0.2 0.1 0.2 5.4 0.2 -2.5 0.2 1.9 0.3 0.6 0.2 -3.6 0.2 0.5 0.2 0.1 0.2 -1.4 0.2 1 0.3 -0.4 0.2 -0.2 0.2 1.8 0.2 -4.4 0.2 1.8 0.3 1.5 0.2 -0.8 0.2 1.6 0.2 -1.4 0.2 -0.1 0.2 1.6 0.3 0.2 0.2 -5.4 0.2 5.3 0.2 -3.1 0.2 3 0.2 -0.3 0.3 -1.8 0.2 3 0.2 -4.7 0.2 1.6 0.2 1.1 0.2 -2.8 0.3 3.7 0.2 -3 0.2 1.9 0.2 -0.8 0.2 1.2 0.2 0.7 0.3 -0.4 0.2 -2 0.2 1.5 0.2 0.5 0.2 0.4 0.2 1.9 0.3 -4.7 0.2 1.6 0.2 2.3 0.2 -1.6 0.2 -0.7 0.2 1.2 0.3 -0.6 0.2 -0.1 0.2 -0.8 0.2 0.6 0.2 -1.2 0.3 -0.2 0.2 1 0.2 0 0.2 0.7 0.2 -1.7 0.2 -1.2 0.3 1.9 0.2 -0.3 0.2 -0.8 0.2 2.7 0.2 -0.9 0.2 -1.5 0.3 1 0.2 -1.4 0.2 1.6 0.2 -2.5 0.2 1.5 0.2 1.7 0.3 1.1 0.2 -3.3 0.2 2.2 0.2 0 0.2 0.7 0.2 0.9 0.3 -3.6 0.2 2.2 0.2 -0.7 0.2 1.3 0.2 0 0.2 -1.3 0.3 0.4 0.2 -2 0.2 0.5 0.2 0.3 0.2 -1.7 0.2 2 0.3 1.5 0.2 -2.4 0.2 -1.2 0.2 2.9 0.2 -2.5 0.3 1.2 0.2 1 0.2 2.2 0.2 -1.4 0.2 0.2 0.2 -2.5 0.3 2.6 0.2 -2.5 0.2 -0.3 0.2 1.9 0.2 0.3 0.2 0.6 0.3 -1.3 0.2 0.5 0.2 -0.2 0.2 0.4 0.2 -0.5 0.2 -2.5 0.3 2.5 0.2 0.9 0.2 0.2 0.2 -1.8 0.2 1.2 0.2 -0.8 0.3 0.2 0.2 1 0.2 1.8 0.2 -2.6 0.2 2.9 0.2 -4.2 0.3 3 0.2 -1 0.2 -0.5 0.2 1.1 0.2 -2.8 0.2 2.5 0.3 -1.2 0.2 -0.4 0.2 -1.6 0.2 0.8 0.2 -0.8 0.3 0.9 0.2 3.9 0.2 -3.4 0.2 1.2 0.2 -0.8 0.2 0.1 0.3 -1.5 0.2 4.2 0.2 -3.1 0.2 0.9 0.2 1.6 0.2 -1.5 0.3 -0.8 0.2 0.5 0.2 -0.1 0.2 0.9 0.2 -1.3 0.2 0.6 0.3 1.4 0.2 -4.1 0.2 4.5 0.2 -3.7 0.2 2.7 0.2 0.2 0.3 -2 0.2 2.1 0.2 0.6 0.2 -0.8 0.2 -2.5 0.2 3.6 0.3 -4.6 0.2 1 0.2 0 0.2 0.7 0.2 1.9 0.2 -0.6 0.3 -1.3 0.2 -0.5 0.2 0.1 0.2 1.1 0.2 0.6 0.3 -4.3 0.2 5.3 0.2 -1.7 0.2 1.7 0.2 -3.4 0.2 2.4 0.3 -1.6 0.2 -1.3 0.2 6 0.2 -2.2 0.2 1.6 0.2 -1 0.3 0 0.2 -0.7 0.2 -3.2 0.2 2 0.2 -0.8 0.2 -1.6 0.3 2 0.2 0.5 0.2 -2 0.2 1.3 0.2 1.9 0.2 1.7 0.3 -2.1 0.2 -1.1 0.2 1.2 0.2 -2 0.2 -1.7 0.2 1.2 0.3 5 0.2 -3.1 0.2 0.9 0.2 -2.8 0.2 0.5 0.2 0.8 0.3 0.1 0.2 0.5 0.2 1.1 0.2 -1.7 0.2 1.3 0.3 -0.8 0.2 -2.2 0.2 2 0.2 -1.5 0.2 0.7 0.2 1.6 0.3 -2.2 0.2 1.5 0.2 -1.2 0.2 0.8 0.2 -1.8 0.2 0.8 0.3 1 0.2 0.9 0.2 -4.1 0.2 3.3 0.2 -0.5 0.2 0.1 0.3 0.6 0.2 1.4 0.2 -1.2 0.2 0.7 0.2 -2.8 0.2 -1.8 0.3 4.2 0.2 -1.1 0.2 -1 0.2 2.5 0.2 -0.4 0.2 0.1 0.3 -3.2 0.2 1.3 0.2 2.1 0.2 -1.3 0.2 0 0.2 0 0.3 2.8 0.2 -2.6 0.2 -0.4 0.2 -0.5 0.2 0.6 0.3 1 0.2 -0.3 0.2 -1.7 0.2 -3 0.2 5.3 0.2 -2.7 0.3 -0.1 0.2 1.9 0.2 4.3 0.2 -5.3 0.2 1.5 0.2 0.2 0.3 -1.6 0.2 2 0.2 0.2 0.2 -2.9 0.2 -0.1 0.2 -0.1 0.3 0.8 0.2 0.6 0.2 -0.8 0.2 -0.8 0.2 -0.7 0.2 1.4 0.3 -0.4 0.2 1.8 0.2 -2.2 0.2 -1.1 0.2 0.1 0.2 2.5 0.3 2.8 0.2 -1.4 0.2 -1.7 0.2 2.1 0.2 -0.6 0.2 -3.7 0.3 4.8 0.2 0 0.2 -2.1 0.2 0.1 0.2 -3.3 0.3 2.6 0.2 -0.2 0.2 0.3 0.2 2.6 0.2 0.6 0.2 -0.5 0.3 -1.9 0.2 2.2 0.2 -3.6 0.2 1.2 0.2 -0.8 0.2 -0.1 0.3 0.8 0.2 2.6 0.2 -1.2 0.2 -1.5 0.2 2.5 0.2 -1.8 0.3 1.4 0.2 -2.6 0.2 0.2 0.2 0.5 0.2 -0.6 0.2 -0.7 0.3 1.4 0.2 -0.4 0.2 -0.9 0.2 0.9 0.2 0.3 0.2 0.3 0.3 0.4 0.2 0.4 0.2 -1.8 0.2 0.5 0.2 0.9 0.2 -2.1 0.3 -0.3 0.2 1.6 0.2 1.4 0.2 -1.8 0.2 0.5 0.3 -0.8 0.2 0.8 0.2 -1.4 0.2 3 0.2 -1.5 0.2 0.4 0.3 -1 0.2 1.5 0.2 0.1 0.2 0.9 0.2 -2 0.2 -2.5 0.3 0.1 0.2 3.1 0.2 -0.6 0.2 -0.6 0.2 2.9 0.2 -3.3 0.3 -1 0.2 2.2 0.2 2.4 0.2 -0.5 0.2 -2.9 0.2 1.3 0.3 -0.4 0.2 -1 0.2 0.8 0.2 0.6 0.2 0 0.2 2.1 0.3 -4.4 0.2 -0.1 0.2 2.5 0.2 -1.2 0.2 1.8 0.2 -2.2 0.3 1 0.2 0.6 0.2 0.2 0.2 -2.4 0.2 1.5 0.3 -0.7 0.2 1.9 0.2 -5 0.2 3.3 0.2 2.3 0.2 -3.7 0.3 3.5 0.2 -3.3 0.2 0.2 0.2 -1.2 0.2 3.1 0.2 1.8 0.3 -3 0.2 -0.4 0.2 0.7 0.2 0.3 0.2 -2.3 0.2 0.9 0.3 2.8 0.2 -1.8 0.2 2.3 0.2 -1.4 0.2 2.2 0.2 -1.2 0.3 0.3 0.2 1 0.2 -2.5 0.2 -0.4 0.2 1.1 0.2 1.4 0.3 -4.4 0.2 2.4 0.2 0.5 0.2 0.1 0.2 -2.2 0.2 3 0.3 -1.6 0.2 2 0.2 -3.4 0.2 2.7 0.2 0.2 0.3 -2.2 0.2 0.2 0.2 -0.7 0.2 0.4 0.2 -1.9 0.2 4 0.3 -1.9 0.2 -0.4 0.2 0.5 0.2 -1.5 0.2 0.6 0.2 0.8 0.3 -1.2 0.2 2.6 0.2 -1.1 0.2 1.2 0.2 -2.7 0.2 2.9 0.3 0.1 0.2 -1.7 0.2 0.4 0.2 1.8 0.2 -1.7 0.2 -1.7 0.3 1.7 0.2 1.9 0.2 -1.5 0.2 1.3 0.2 -0.3 0.2 -2.5 0.3 0.5 0.2 -1.2 0.2 3.1 0.2 -0.9 0.2 1.3 0.2 -2.9 0.3 2.6 0.2 0.1 0.2 0.3 0.2 -2.5 0.2 0.3 0.3 0.3 0.2 -1.6 0.2 1.6 0.2 1.2 0.2 -4.1 0.2 3.9 0.3 -0.1 0.2 -2.6 0.2 1.7 0.2 -0.3 0.2 2.6 0.2 -1.2 0.3 0.3 0.2 -1.9 0.2 1 0.2 -1.1 0.2 1.8 0.2 -0.7 0.3 -0.9 0.2 2.2 0.2 -0.3 0.2 -3 0.2 2.4 0.2 -4 0.3 2.1 0.2 0.1 0.2 1.2 0.2 -0.8 0.2 0.4 0.2 2.2 0.3 -1.3 0.2 -0.2 0.2 -1.7 0.2 1.5 0.2 3.3 0.2 -3.9 0.3 0.7 0.2 -1.2 0.2 0.5 0.2 2.2 0.2 0.3 0.3 -1.2 0.2 0.4 0.2 -1.2 0.2 0.7 0.2 -0.6 0.2 -1 0.3 1.2 0.2 0.3 0.2 -1.5 0.2 -0.6 0.2 0.5 0.2 3.1 0.3 -2.5 0.2 0.6 0.2 -1.8 0.2 5 0.2 -3.5 0.2 -0.1 0.3 -0.6 0.2 1.2 0.2 0 0.2 -0.7 0.2 2.3 0.2 -2.3 0.3 2.4 0.2 -1 0.2 -2.5 0.2 0.7 0.2 -0.1 0.2 -1 0.3 1 0.2 0.1 0.2 1.6 0.2 -0.1 0.2 -3 0.2 3.1 0.3 -2.5 0.2 0.8 0.2 -1.7 0.2 3.3 0.2 -2.6 0.3 2.4 0.2 -0.3 0.2 -3.1 0.2 0.2 0.2 2.1 0.2 -1.8 0.3 1.3 0.2 0.9 0.2 -1.6 0.2 3.2 0.2 0 0.2 2.2 0.3 -4.3 0.2 1.5 0.2 -0.5 0.2 -0.7 0.2 0.1 0.2 -0.9 0.3 0.9 0.2 -1.8 0.2 4.3 0.2 -3.9 0.2 -0.1 0.2 2 0.3 -2.7 0.2 2.5 0.2 -3.6 0.2 1.2 0.2 1.4 0.2 0.5 0.3 -0.7 0.2 0.4 0.2 0.4 0.2 -0.5 0.2 -1.4 0.2 2.2 0.3 0.9 0.2 -4.2 0.2 2.7 0.2 -0.6 0.2 1.1 0.3 0.7 0.2 -2.3 0.2 -0.4 0.2 2.4 0.2 0.4 0.2 -1.2 0.3 -0.3 0.2 1.1 0.2 -2 0.2 1 0.2 1.7 0.2 -1.1 0.3 -0.3 0.2 -0.1 0.2 0.9 0.2 -1.7 0.2 2.4 0.2 -2.1 0.3 0.9 0.2 1.2 0.2 -0.3 0.2 1.2 0.2 0 0.2 0 0.3 -2.6 0.2 0.6 0.2 1.5 0.2 -0.7 0.2 0.6 0.2 -2.8 0.3 2.5 0.2 -1.4 0.2 -0.4 0.2 -0.3 0.2 -0.7 0.2 1.9 0.3 2 0.2 -3.1 0.2 -0.1 0.2 3.4 0.2 -2.4 0.3 -0.6 0.2 1 0.2 -0.5 0.2 1.9 0.2 -0.6 0.2 0.3 0.3 -3.9 0.2 2.2 0.2 0.6 0.2 0.7 0.2 -1.4 0.2 -0.1 0.3 0.6 0.2 1.3 0.2 -0.3 0.2 0.7 0.2 0.4 0.2 -3 0.3 1.4 0.2 -1.6 0.2 0.9 0.2 0.2 0.2 0.1 0.2 -0.5 0.3 -2.7 0.2 1.9 0.2 1.8 0.2 -2.7 0.2 2.3 0.2 1.3 0.3 0.9 0.2 -0.2 0.2 -3.5 0.2 -0.1 0.2 2.5 0.2 -1.2 0.3 1.7 0.2 -1.8 0.2 -1.5 0.2 0.8 0.2 1.1 0.3 0.7 0.2 -1.5 0.2 -0.4 0.2 1.2 0.2 -0.4 0.2 -1.4 0.3 1 0.2 2 0.2 -3.5 0.2 1.9 0.2 2.5 0.2 -4.3 0.3 -0.5 0.2 1.6 0.2 1.3 0.2 0.8 0.2 -0.9 0.2 2.2 0.3 -3.7 0.2 0 0.2 2.3 0.2 -4 0.2 1.2 0.2 -0.9 0.3 1.4 0.2 -1.1 0.2 1.3 0.2 2.1 0.2 -1.7 0.2 2 0.3 -0.5 0.2 -1.2 0.2 1.5 0.2 0.4 0.2 -2.9 0.2 1.2 0.3 -0.1 0.2 -0.5 0.2 2.3 0.2 -2.2 0.2 1.5 0.3 -1.9 0.2 0.2 0.2 0.3 0.2 -2.1 0.2 2 0.2 -0.5 0.3 0.5 0.2 -0.3 0.2 -1.3 0.2 -1.2 0.2 2.6 0.2 0.7 0.3 0 0.2 -0.1 0.2 -2.1 0.2 2.7 0.2 1.1 0.2 1.9 0.3 -3.4 0.2 -0.4 0.2 0.5 0.2 -0.2 0.2 -0.3 0.2 1.1 0.3 -1 0.2 1.4 0.2 -1 0.2 -3.8 0.2 2.6 0.2 0.5 0.3 0.4 0.2 -0.2 0.2 -1.9 0.2 3.1 0.2 -1.2 0.2 0.4 0.3 -2 0.2 0.8 0.2 1.8 0.2 1.7 0.2 -3.7 0.3 -0.8 0.2 2.7 0.2 -2.9 0.2 4.1 0.2 -0.1 0.2 0.6 0.3 -3.4 0.2 1.5 0.2 -1.6 0.2 5 0.2 -4.9 0.2 0.8 0.3 -2.2 0.2 1.5 0.2 2.8 0.2 -4.4 0.2 2.2 0.2 -1.6 0.3 3.1 0.2 -1.9 0.2 -0.8 0.2 -0.2 0.2 0.4 0.2 2.9 0.3 -1.3 0.2 1 0.2 -1.9 0.2 3 0.2 -4.9 0.2 3.5 0.3 -2.2 0.2 2.5 0.2 -4.7 0.2 0.6 0.2 5.1 0.2 0 0.3 -3 0.2 2.9 0.2 -2.1 0.2 -1.7 0.2 2.9 0.3 -0.7 0.2 -0.1 0.2 -0.8 0.2 -1.2 0.2 0.4 0.2 2.9 0.3 -0.3 0.2 -2 0.2 -1.5 0.2 2.6 0.2 0.5 0.2 -0.8 0.3 -0.1 0.2 -0.6 0.2 0.5 0.2 -0.6 0.2 1.3 0.2 -2.3 0.3 0.2 0.2 0.6 0.2 0.4 0.2 1 0.2 0.8 0.2 -2.1 0.3 0.7 0.2 0.1 0.2 -2.5 0.2 2.5 0.2 -2.4 0.2 -0.9 0.3 1.1 0.2 2.1 0.2 -1 0.2 1 0.2 -0.7 0.2 -0.1 0.3 2.3 0.2 -1.7 0.2 -0.6 0.2 -0.5 0.2 0.5 0.3 0.3 0.2 0.5 0.2 -2.1 0.2 2.5 0.2 0 0.2 -0.8 0.3 0.3 0.2 1.6 0.2 -2.9 0.2 -0.6 0.2 1.3 0.2 0.3 0.3 -0.3 0.2 -1 0.2 2.7 0.2 -1.6 0.2 -1.5 0.2 2.9 0.3 -2.2 0.2 3.8 0.2 -4.2 0.2 -1.1 0.2 1.3 0.2 0.4 0.3 2.1 0.2 0 0.2 0.1 0.2 -2.2 0.2 1 0.2 -1.8 0.3 1.9 0.2 -1.4 0.2 0.5 0.2 0.6 0.2 0.7 0.2 -1.8 0.3 4.5 0.2 -6.9 0.2 4.2 0.2 -1.4 0.2 -2.2 0.3 4.8 0.2 -0.6 0.2 -2.8 0.2 3.3 0.2 -1.6 0.2 0.1 0.3 -0.7 0.2 0.7 0.2 -1.3 0.2 2.1 0.2 -1 0.2 1.9 0.3 -2.8 0.2 3.4 0.2 -3.2 0.2 1.5 0.2 -3 0.2 1.7 0.3 -0.2 0.2 1.5 0.2 -1.4 0.2 -0.8 0.2 0.5 0.2 -1.8 0.3 2.6 0.2 -2.9 0.2 4.9 0.2 -1.3 0.2 -0.5 0.2 0.1 0.3 -1.1 0.2 1.3 0.2 1.3 0.2 -1.2 0.2 1.2 0.2 -1.7 0.3 -0.4 0.2 5.6 0.2 -6.5 0.2 2.5 0.2 -1 0.3 -0.5 0.2 0.4 0.2 -1.5 0.2 -0.5 0.2 5.9 0.2 -7.5 0.3 3.9 0.2 -0.7 0.2 0.6 0.2 1 0.2 -1 0.2 -0.3 0.3 -0.2 0.2 -1.2 0.2 0.6 0.2 1.8 0.2 -3 0.2 1 0.3 1.9 0.2 -1.7 0.2 -0.5 0.2 1.5 0.2 -0.2 0.2 3.5 0.3 -0.8 0.2 -2.1 0.2 -0.3 0.2 -1.5 0.2 3.2 0.2 -0.8 0.3 -1 0.2 1.4 0.2 0.1 0.2 -3.2 0.2 1.5 0.2 -2 0.3 3.6 0.2 -2.8 0.2 0"/>
<path stroke="#70d040" d="M78.5 1200.6l0.2 1.3 0.2 -0.8 0.3 0.2 0.2 0.7 0.2 1 0.2 -0.4 0.2 0 0.2 -0.3 0.3 -0.8 0.2 -0.2 0.2 1.5 0.2 -1.1 0.2 -0.1 0.2 -0.2 0.3 1.4 0.2 0.1 0.2 -1.5 0.2 0.7 0.2 -0.1 0.2 -1.2 0.3 1.6 0.2 0.6 0.2 -0.6 0.2 -1.7 0.2 1.3 0.2 -0.7 0.3 0 0.2 -1.1 0.2 2 0.2 -0.8 0.2 0 0.2 0.4 0.3 -0.4 0.2 1.4 0.2 -1.6 0.2 1.3 0.2 -1.8 0.2 0.8 0.3 1.2 0.2 -0.9 0.2 -1 0.2 1.2 0.2 0.9 0.3 -1.4 0.2 -0.2 0.2 0 0.2 -0.3 0.2 -0.8 0.2 0.2 0.3 -0.2 0.2 1 0.2 -1.5 0.2 2.4 0.2 -0.1 0.2 -0.3 0.3 -0.7 0.2 -0.3 0.2 0.8 0.2 -0.8 0.2 -0.7 0.2 0.3 0.3 0 0.2 -0.6 0.2 -0.3 0.2 1.6 0.2 -0.6 0.2 1 0.3 -0.6 0.2 -0.1 0.2 -0.3 0.2 0.8 0.2 -1.2 0.2 -0.2 0.3 0.8 0.2 -0.6 0.2 -1 0.2 -0.1 0.2 1.1 0.2 -0.4 0.3 -0.3 0.2 -0.7 0.2 -0.4 0.2 0.9 0.2 -0.2 0.3 -0.6 0.2 0.5 0.2 -0.9 0.2 1.2 0.2 -0.7 0.2 -2 0.3 1 0.2 0.7 0.2 -1.8 0.2 0.5 0.2 -0.1 0.2 -0.4 0.3 -1.7 0.2 1.6 0.2 0.1 0.2 -1.4 0.2 -0.4 0.2 0.8 0.3 -0.7 0.2 -1.9 0.2 0.2 0.2 -0.9 0.2 0.9 0.2 -0.7 0.3 0.4 0.2 0.3 0.2 -2.8 0.2 1 0.2 -1.3 0.2 0 0.3 -1.1 0.2 -0.2 0.2 -2.4 0.2 0.7 0.2 -0.2 0.2 -1.1 0.3 1.1 0.2 -3.2 0.2 0.1 0.2 -2.5 0.2 0.6 0.3 -3 0.2 1.7 0.2 -2.5 0.2 -2.6 0.2 -0.9 0.2 -0.4 0.3 -2.3 0.2 0.1 0.2 -2.7 0.2 -1.8 0.2 -1.5 0.2 0.6 0.3 -3.3 0.2 -1.4 0.2 -0.7 0.2 -1.5 0.2 -1.7 0.2 -0.9 0.3 -1.6 0.2 -2.3 0.2 -1.8 0.2 -0.9 0.2 -0.3 0.2 -3.3 0.3 0.3 0.2 -4 0.2 -1.1 0.2 -0.3 0.2 -2.9 0.2 -1.5 0.3 -0.6 0.2 -0.8 0.2 -3.6 0.2 -1 0.2 -1.2 0.2 -2.8 0.3 -0.7 0.2 -3.3 0.2 -2.5 0.2 -0.4 0.2 -2.4 0.3 -3.5 0.2 -2.2 0.2 -1.3 0.2 -5.3 0.2 -1.9 0.2 -4.5 0.3 -1.5 0.2 -4.8 0.2 -3.9 0.2 -4.3 0.2 -3.3 0.2 -4.1 0.3 -6.5 0.2 -5.2 0.2 -4.1 0.2 -5.1 0.2 -4.1 0.2 -5 0.3 -7.6 0.2 -6.8 0.2 -7.8 0.2 -7.6 0.2 -8.6 0.2 -8.7 0.3 -12.7 0.2 -10.7 0.2 -9.2 0.2 -9.3 0.2 -7.8 0.2 -11.2 0.3 -9.5 0.2 -10.2 0.2 -8 0.2 -9.2 0.2 -5.7 0.2 -8.9 0.3 -8.7 0.2 -10.6 0.2 -7.6 0.2 -7.4 0.2 -8.3 0.3 -9.7 0.2 -5.6 0.2 -10 0.2 -7.5 0.2 -9.1 0.2 -4.9 0.3 -5 0.2 -11.1 0.2 -5.8 0.2 -6.6 0.2 -5.8 0.2 -7.1 0.3 -3.9 0.2 -4.7 0.2 -3.3 0.2 -5.5 0.2 -2.5 0.2 -0.2 0.3 -4.6 0.2 -1.8 0.2 -3.5 0.2 -2.6 0.2 -0.8 0.2 -3.8 0.3 -1.4 0.2 2.1 0.2 -2.2 0.2 1.1 0.2 0.3 0.2 -0.6 0.3 -0.7 0.2 -0.5 0.2 -2.5 0.2 -0.1 0.2 1.2 0.2 0.2 0.3 -2 0.2 -0.7 0.2 -1.4 0.2 1.4 0.2 -0.5 0.3 2.7 0.2 -1.9 0.2 -1.3 0.2 1.5 0.2 0 0.2 -4.5 0.3 1.7 0.2 1.3 0.2 -1.5 0.2 0.9 0.2 1.3 0.2 -0.8 0.3 0 0.2 -1.7 0.2 1.6 0.2 -0.3 0.2 1.6 0.2 -0.1 0.3 -1.5 0.2 -0.1 0.2 -1.1 0.2 0 0.2 0.4 0.2 1.7 0.3 -2.2 0.2 2.8 0.2 -2.5 0.2 -0.6 0.2 -1.3 0.2 2.7 0.3 -0.9 0.2 0.1 0.2 2.2 0.2 -3.5 0.2 1.9 0.2 -1.7 0.3 2.7 0.2 -2.5 0.2 -0.3 0.2 0.9 0.2 -3.1 0.3 2.7 0.2 -0.9 0.2 4.1 0.2 -4.1 0.2 3.5 0.2 -0.7 0.3 -0.4 0.2 -0.6 0.2 -3.2 0.2 2.9 0.2 -0.5 0.2 1 0.3 -0.7 0.2 2.4 0.2 -3 0.2 0 0.2 2.6 0.2 0.8 0.3 -1.9 0.2 -1.2 0.2 1.6 0.2 1.1 0.2 -3.2 0.2 3 0.3 -3.5 0.2 -0.6 0.2 4.5 0.2 -3.7 0.2 -0.1 0.2 0 0.3 -1.2 0.2 -0.4 0.2 1.9 0.2 0 0.2 0.4 0.2 0.3 0.3 -2.1 0.2 0.4 0.2 1 0.2 -2.2 0.2 0.2 0.3 0.3 0.2 1.6 0.2 -0.3 0.2 -2.3 0.2 0.8 0.2 0.9 0.3 1.8 0.2 -0.4 0.2 -0.6 0.2 0.2 0.2 -1.6 0.2 0.4 0.3 3.8 0.2 -3 0.2 -0.5 0.2 2.4 0.2 0.6 0.2 -2 0.3 0.1 0.2 -2.3 0.2 2 0.2 -1.4 0.2 -0.6 0.2 0.2 0.3 2.6 0.2 -0.9 0.2 0.8 0.2 0.7 0.2 -2.8 0.2 3.4 0.3 -0.2 0.2 -0.1 0.2 -1.6 0.2 0.2 0.2 -0.9 0.2 -0.1 0.3 5.4 0.2 -3 0.2 -1.4 0.2 -1 0.2 -0.2 0.3 2.9 0.2 -1.1 0.2 1.7 0.2 -3.4 0.2 1.1 0.2 -0.8 0.3 0.8 0.2 1.2 0.2 1.1 0.2 -4.9 0.2 4.9 0.2 -0.5 0.3 -3.7 0.2 3.3 0.2 -2.3 0.2 -1.3 0.2 0.1 0.2 0.8 0.3 0.6 0.2 -1.3 0.2 1.2 0.2 -0.4 0.2 1.2 0.2 0.2 0.3 1.4 0.2 -4.1 0.2 1.8 0.2 -2.4 0.2 5.1 0.2 -0.1 0.3 -1.7 0.2 0.8 0.2 -1 0.2 0.6 0.2 -0.2 0.2 -0.8 0.3 -2.2 0.2 1.3 0.2 2.2 0.2 -1.2 0.2 0.2 0.3 -2.7 0.2 5.4 0.2 -1.9 0.2 -1.7 0.2 1.5 0.2 -2.5 0.3 2.6 0.2 -1 0.2 -1.4 0.2 -1.3 0.2 0.7 0.2 2.4 0.3 -2.2 0.2 2.9 0.2 -0.8 0.2 -2.1 0.2 3.6 0.2 -3.8 0.3 3.4 0.2 -2.7 0.2 0.9 0.2 -0.6 0.2 0.3 0.2 2.5 0.3 -2 0.2 -1.1 0.2 1.4 0.2 -1.5 0.2 3.1 0.2 -0.9 0.3 -3 0.2 1.7 0.2 0.1 0.2 -0.3 0.2 -1.4 0.2 2.8 0.3 -2.2 0.2 1.2 0.2 0.1 0.2 1.3 0.2 -3.5 0.3 1.5 0.2 1.3 0.2 -0.4 0.2 0.7 0.2 -2.4 0.2 3.4 0.3 -1.2 0.2 -0.6 0.2 -0.4 0.2 1.4 0.2 0.1 0.2 -2.5 0.3 -1.2 0.2 3.6 0.2 -0.7 0.2 0.1 0.2 0.5 0.2 -2.2 0.3 4.5 0.2 -1.3 0.2 -1.5 0.2 -0.9 0.2 -0.2 0.2 -0.4 0.3 0 0.2 1.2 0.2 -0.1 0.2 -0.9 0.2 -1 0.2 0.1 0.3 1.9 0.2 0.2 0.2 -2.6 0.2 0.9 0.2 -1.1 0.2 2.1 0.3 0.4 0.2 -1.2 0.2 3 0.2 -3.4 0.2 1.9 0.3 0.1 0.2 -0.8 0.2 1.7 0.2 -0.9 0.2 -2.9 0.2 3.8 0.3 -1.9 0.2 1.6 0.2 -3.1 0.2 -1 0.2 5.5 0.2 -3.4 0.3 0.1 0.2 -0.8 0.2 -0.3 0.2 0.8 0.2 -0.4 0.2 2 0.3 -3.6 0.2 1.7 0.2 2.4 0.2 -1.1 0.2 -0.2 0.2 1.5 0.3 -0.7 0.2 0.3 0.2 -2.6 0.2 -1.2 0.2 2.1 0.2 -1.7 0.3 3.6 0.2 -1.7 0.2 0.7 0.2 -1.6 0.2 2.1 0.2 -0.8 0.3 0 0.2 0.4 0.2 1 0.2 -2.6 0.2 2.4 0.3 -1.6 0.2 2.2 0.2 0.2 0.2 -0.6 0.2 -0.2 0.2 -2.7 0.3 2.5 0.2 -0.4 0.2 0.1 0.2 -1.4 0.2 -0.8 0.2 2.2 0.3 -0.5 0.2 -2.1 0.2 -0.2 0.2 1.7 0.2 0.3 0.2 3.2 0.3 -2.5 0.2 -2.6 0.2 2.4 0.2 2.1 0.2 -2.4 0.2 0.5 0.3 -1.8 0.2 1 0.2 -0.4 0.2 -2 0.2 2.8 0.2 0.6 0.3 -1.2 0.2 -0.4 0.2 2.1 0.2 -2.5 0.2 3.2 0.2 -1 0.3 -2.1 0.2 -1.2 0.2 2.3 0.2 -1.6 0.2 1.5 0.3 1.1 0.2 -0.8 0.2 -1.5 0.2 0.1 0.2 -1.4 0.2 1.6 0.3 -1.3 0.2 -0.2 0.2 3.6 0.2 0.1 0.2 -1.3 0.2 -1.9 0.3 -0.3 0.2 2.8 0.2 -0.4 0.2 0.9 0.2 -0.6 0.2 -4.3 0.3 3.5 0.2 1.6 0.2 -0.4 0.2 1.2 0.2 -3.7 0.2 1.3 0.3 -3.3 0.2 0.7 0.2 3.9 0.2 0.5 0.2 0 0.2 -3.3 0.3 -2.7 0.2 4.5 0.2 0.3 0.2 -0.4 0.2 0.9 0.2 1.3 0.3 -1.6 0.2 1 0.2 -1.8 0.2 0.4 0.2 0.1 0.3 -1.2 0.2 2.6 0.2 -3.5 0.2 0.4 0.2 -0.2 0.2 2.3 0.3 -1 0.2 -1.7 0.2 1.2 0.2 2.7 0.2 -2.8 0.2 1.2 0.3 -0.2 0.2 -0.2 0.2 1.9 0.2 -1 0.2 0.5 0.2 -0.4 0.3 -1.8 0.2 -0.7 0.2 0.6 0.2 -0.4 0.2 1.2 0.2 0.3 0.3 0.8 0.2 -2.4 0.2 1.2 0.2 -0.6 0.2 0.2 0.2 -2.1 0.3 3.6 0.2 -0.7 0.2 1.1 0.2 -0.7 0.2 -1.8 0.2 1.2 0.3 3 0.2 -1.9 0.2 -1.6 0.2 0.2 0.2 0.7 0.3 -1.5 0.2 1.1 0.2 -0.3 0.2 -1 0.2 0.2 0.2 3.2 0.3 -1.9 0.2 -2.3 0.2 1.5 0.2 -1.3 0.2 2.2 0.2 -1.6 0.3 1.1 0.2 0.2 0.2 -0.6 0.2 -1.2 0.2 2.4 0.2 -0.8 0.3 0.7 0.2 -0.4 0.2 -0.3 0.2 0.2 0.2 -0.4 0.2 -1.6 0.3 2.9 0.2 1.8 0.2 -5.3 0.2 -0.4 0.2 4.4 0.2 -1.1 0.3 -1.9 0.2 1.5 0.2 0.5 0.2 0.6 0.2 1.1 0.2 -4.2 0.3 1.9 0.2 2.3 0.2 -3.2 0.2 -0.6 0.2 1.1 0.3 -0.3 0.2 2.5 0.2 -2.7 0.2 1.1 0.2 0.3 0.2 0.5 0.3 -1.5 0.2 -3.6 0.2 4.2 0.2 -0.4 0.2 0.2 0.2 0 0.3 -2.5 0.2 1.1 0.2 -1.7 0.2 0.5 0.2 4.7 0.2 -3.9 0.3 1.6 0.2 2.1 0.2 -0.3 0.2 -1.6 0.2 -2.1 0.2 0.6 0.3 0.9 0.2 1.5 0.2 -1 0.2 -0.7 0.2 -0.2 0.2 1.3 0.3 2.1 0.2 -1.4 0.2 -2 0.2 0.8 0.2 -1 0.2 0 0.3 2 0.2 -1.6 0.2 -0.9 0.2 2.7 0.2 -0.2 0.3 -2.5 0.2 2 0.2 -0.7 0.2 0.4 0.2 -0.2 0.2 0.1 0.3 -1.8 0.2 1.3 0.2 0.2 0.2 -0.5 0.2 1 0.2 0.8 0.3 0.5 0.2 -4.3 0.2 3.4 0.2 0.5 0.2 -2.4 0.2 -0.1 0.3 0.1 0.2 0 0.2 2.5 0.2 -4.4 0.2 1.1 0.2 2.1 0.3 0.1 0.2 2.9 0.2 -2 0.2 -2.6 0.2 -0.2 0.2 2 0.3 0.7 0.2 -1.2 0.2 0.4 0.2 -0.3 0.2 -1.1 0.2 4.6 0.3 -3.6 0.2 2.3 0.2 -3.1 0.2 2.1 0.2 1.1 0.3 -3.1 0.2 -0.3 0.2 2 0.2 -3.1 0.2 2.8 0.2 0.1 0.3 -0.8 0.2 0.3 0.2 0.7 0.2 -3.2 0.2 2.7 0.2 -1.3 0.3 1.6 0.2 0.2 0.2 -0.1 0.2 0.9 0.2 -3.2 0.2 3.4 0.3 -2 0.2 -0.4 0.2 3.2 0.2 -3.5 0.2 2.2 0.2 -0.6 0.3 0.8 0.2 -2.6 0.2 3.2 0.2 -0.6 0.2 -1.9 0.2 -2.7 0.3 1.5 0.2 -0.2 0.2 3.1 0.2 -3.2 0.2 2.1 0.2 0 0.3 -4.3 0.2 1.7 0.2 1.7 0.2 1.9 0.2 -1.8 0.3 -1.1 0.2 1 0.2 -1.6 0.2 2.6 0.2 -1.5 0.2 -0.7 0.3 1.6 0.2 0.6 0.2 -2.8 0.2 1.8 0.2 -0.4 0.2 1.8 0.3 -1.6 0.2 -0.1 0.2 0 0.2 0.4 0.2 -0.2 0.2 0.6 0.3 -0.6 0.2 0.9 0.2 0.1 0.2 -2.9 0.2 6.1 0.2 -1.4 0.3 -2.3 0.2 0.6 0.2 -4.2 0.2 2.2 0.2 -0.7 0.2 3 0.3 -0.4 0.2 1.5 0.2 -1.2 0.2 -2 0.2 2.3 0.2 -2.4 0.3 0.8 0.2 2.4 0.2 -0.5 0.2 -0.9 0.2 -1.5 0.3 2.1 0.2 0.1 0.2 -0.9 0.2 -0.3 0.2 -0.2 0.2 -0.8 0.3 3.5 0.2 -2.1 0.2 -1.2 0.2 -1.5 0.2 1.3 0.2 1.1 0.3 -0.5 0.2 1.5 0.2 -2.1 0.2 2.6 0.2 -0.2 0.2 -0.4 0.3 -1.2 0.2 -1.3 0.2 1.6 0.2 -2.3 0.2 0.5 0.2 -0.3 0.3 0.8 0.2 0.5 0.2 0.5 0.2 -1.3 0.2 1.1 0.2 1 0.3 -1.8 0.2 -0.4 0.2 1.7 0.2 0.8 0.2 -0.9 0.2 2.5 0.3 -4.1 0.2 1.9 0.2 -1.9 0.2 0.5 0.2 1.3 0.3 -0.4 0.2 3 0.2 -2.8 0.2 1.6 0.2 -2.9 0.2 1.5 0.3 -1 0.2 1.4 0.2 0.7 0.2 -0.1 0.2 -3.2 0.2 1.2 0.3 0.8 0.2 -0.4 0.2 1.4 0.2 -1.3 0.2 0.8 0.2 -3.7 0.3 4.5 0.2 -1.6 0.2 2 0.2 0.1 0.2 0.4 0.2 -4.4 0.3 1.1 0.2 -0.8 0.2 0.5 0.2 1.7 0.2 1.2 0.2 -0.4 0.3 0.8 0.2 -1.5 0.2 0.3 0.2 0 0.2 -3 0.2 4.2 0.3 -2.1 0.2 1.3 0.2 -0.6 0.2 -0.1 0.2 -2.2 0.3 2.6 0.2 -1.1 0.2 -2.5 0.2 0 0.2 1.8 0.2 0 0.3 -1.9 0.2 1.6 0.2 1.4 0.2 0.6 0.2 0.1 0.2 -1.4 0.3 0.5 0.2 -2.3 0.2 2.8 0.2 -2.3 0.2 1.1 0.2 0.2 0.3 -1.1 0.2 1.3 0.2 0.2 0.2 2.3 0.2 -2 0.2 1.4 0.3 -1.9 0.2 0.3 0.2 0.2 0.2 1.2 0.2 -0.6 0.2 -2.7 0.3 0.6 0.2 1.7 0.2 -2.3 0.2 2.2 0.2 2 0.2 -1.9 0.3 -0.2 0.2 1.1 0.2 -0.4 0.2 -1.3 0.2 1.6 0.3 -1.1 0.2 -0.7 0.2 2 0.2 -0.7 0.2 0.8 0.2 -2.2 0.3 -1.4 0.2 1.2 0.2 3.6 0.2 -4 0.2 2.6 0.2 -1.5 0.3 1.9 0.2 -4.4 0.2 2.3 0.2 1.1 0.2 -1 0.2 -1.9 0.3 4.7 0.2 -3.8 0.2 1.3 0.2 2.7 0.2 -3 0.2 -0.5 0.3 1.4 0.2 1.1 0.2 -0.5 0.2 -1.2 0.2 -1.2 0.2 1 0.3 -0.9 0.2 2.7 0.2 0.3 0.2 -3.8 0.2 -0.6 0.2 3.1 0.3 -0.7 0.2 0.1 0.2 -1.1 0.2 0.3 0.2 0.4 0.3 0.5 0.2 2.8 0.2 -5 0.2 4 0.2 -0.5 0.2 1.3 0.3 -1.6 0.2 0.6 0.2 -0.8 0.2 0.7 0.2 -2.1 0.2 0.3 0.3 2.4 0.2 -3.5 0.2 2.7 0.2 -4.3 0.2 2.9 0.2 -0.2 0.3 0.5 0.2 -1 0.2 -3.2 0.2 3.5 0.2 0.2 0.2 0.8 0.3 0.4 0.2 -2.2 0.2 -0.4 0.2 2.8 0.2 -0.8 0.2 0.2 0.3 0.4 0.2 -0.9 0.2 1.1 0.2 0.2 0.2 -5.1 0.2 7.1 0.3 -2.8 0.2 -1.2 0.2 1.8 0.2 0.7 0.2 -2.2 0.3 -0.3 0.2 -0.8 0.2 4.1 0.2 -2.4 0.2 -1.3 0.2 -1.6 0.3 1.4 0.2 2.8 0.2 -1.8 0.2 0.4 0.2 -0.8 0.2 -0.5 0.3 -1.2 0.2 3.3 0.2 -2.2 0.2 1.6 0.2 0.6 0.2 0 0.3 -0.1 0.2 -1.9 0.2 0.3 0.2 4.4 0.2 -3.7 0.2 -1 0.3 0.2 0.2 -0.4 0.2 1.5 0.2 -1.1 0.2 3.5 0.2 -2.5 0.3 1.2 0.2 1.1 0.2 -0.1 0.2 -1.7 0.2 -1.2 0.2 3.5 0.3 -2.5 0.2 -1.2 0.2 1.7 0.2 -2.2 0.2 2 0.3 -1.6 0.2 0.4 0.2 -1.6 0.2 -0.2 0.2 3.9 0.2 -3.5 0.3 -0.7 0.2 5.2 0.2 -5 0.2 1.4 0.2 2.1 0.2 -3.3 0.3 1.3 0.2 1.5 0.2 -0.3 0.2 -0.3 0.2 -0.3 0.2 0.1 0.3 0.3 0.2 0.9 0.2 -1.3 0.2 -0.8 0.2 -0.7 0.2 2.2 0.3 0.4 0.2 0.9 0.2 -4.1 0.2 0.6 0.2 3.4 0.2 1 0.3 -2.8 0.2 1.3 0.2 -2.1 0.2 -2.3 0.2 3.2 0.2 1.6 0.3 -3.1 0.2 -0.1 0.2 0.5 0.2 0.6 0.2 0.6 0.3 -0.9 0.2 3 0.2 -2.7 0.2 0.3 0.2 -0.7 0.2 4 0.3 -3.7 0.2 -0.1 0.2 1.6 0.2 -1.5 0.2 1.6 0.2 -1.4 0.3 2.8 0.2 -1.7 0.2 -1 0.2 0.7 0.2 -1.6 0.2 0.5 0.3 2.8 0.2 -1.4 0.2 -2.1 0.2 0.7 0.2 -1 0.2 2 0.3 -0.8 0.2 -0.6 0.2 2.9 0.2 -2.1 0.2 2.4 0.2 -2.3 0.3 -1.6 0.2 1.1 0.2 0.3 0.2 0.3 0.2 -1.3 0.2 2.4 0.3 -4.3 0.2 2.1 0.2 0 0.2 -0.2 0.2 1.9 0.3 -2.3 0.2 0.6 0.2 1.5 0.2 -0.4 0.2 0.2 0.2 0.9 0.3 1.7 0.2 -2.7 0.2 -0.8 0.2 -1.4 0.2 1.2 0.2 -1.8 0.3 2.6 0.2 -0.2 0.2 -0.1 0.2 0.6 0.2 -2.1 0.2 2.9 0.3 -1.5 0.2 -0.1 0.2 0.5 0.2 -3.9 0.2 2.9 0.2 1.2 0.3 -2.3 0.2 1.7 0.2 -0.6 0.2 1.6 0.2 1.7 0.2 -5.5 0.3 2.3 0.2 1.2 0.2 1 0.2 -0.7 0.2 -0.2 0.2 -0.3 0.3 2.7 0.2 -2.1 0.2 -2.9 0.2 0.9 0.2 -1.3 0.3 1.7 0.2 1.5 0.2 -2.8 0.2 2.6 0.2 -1 0.2 -0.1 0.3 0.2 0.2 2.6 0.2 -4.1 0.2 2.9 0.2 -1.8 0.2 1.6 0.3 -1 0.2 -1.1 0.2 3.7 0.2 -0.3 0.2 -3.5 0.2 2.5 0.3 -0.1 0.2 -2.9 0.2 0.8 0.2 0.7 0.2 -1.2 0.2 2 0.3 -1.7 0.2 0 0.2 0.1 0.2 1.2 0.2 -1.9 0.2 -0.4 0.3 -0.6 0.2 3.2 0.2 0 0.2 -2.1 0.2 1.4 0.2 -2.9 0.3 2.5 0.2 0.4 0.2 1.7 0.2 -2.5 0.2 1.5 0.3 -2.6 0.2 1 0.2 0 0.2 0.6 0.2 1.7 0.2 -1.5 0.3 0.9 0.2 -1.1 0.2 0.9 0.2 -2.4 0.2 0.1 0.2 1.8 0.3 -0.5 0.2 0.6 0.2 -0.9 0.2 -3.3 0.2 4 0.2 3.8 0.3 -5.3 0.2 1.4 0.2 1 0.2 0.4 0.2 -2.3 0.2 2.1 0.3 -2.7 0.2 1.2 0.2 1.8 0.2 -1.5 0.2 -1.1 0.2 2 0.3 1.3 0.2 -2.2 0.2 -3.3 0.2 4.1 0.2 0.1 0.2 0.5 0.3 -3.3 0.2 2.2 0.2 -0.3 0.2 -0.7 0.2 0.2 0.3 2.9 0.2 -3.4 0.2 2.7 0.2 0.6 0.2 -1.6 0.2 -1 0.3 0.7 0.2 0.9 0.2 0 0.2 -1.5 0.2 0.9 0.2 1.3 0.3 0.5 0.2 -1.7 0.2 0 0.2 2.6 0.2 -2.9 0.2 -1.1 0.3 -0.9 0.2 0.6 0.2 2 0.2 0.3 0.2 -1.8 0.2 2.2 0.3 -0.2 0.2 -4.5 0.2 5.7 0.2 -2.5 0.2 2.2 0.2 -2.9 0.3 2.2 0.2 -1.9 0.2 -0.5 0.2 0.2 0.2 -1.3 0.2 -0.6 0.3 4.5 0.2 -0.7 0.2 -3 0.2 1.5 0.2 -0.5 0.3 0.5 0.2 -0.9 0.2 1.6 0.2 -2.3 0.2 1.1 0.2 -2 0.3 4.3 0.2 -0.1 0.2 -1.2 0.2 1.8 0.2 -0.2 0.2 -1 0.3 0.3 0.2 -3.9 0.2 4.1 0.2 -1.6 0.2 1 0.2 0.9 0.3 -2 0.2 -1.1 0.2 -0.4 0.2 2.2 0.2 -2.1 0.2 1 0.3 1.1 0.2 -1.6 0.2 2.1 0.2 -2.9 0.2 3.9 0.2 -0.2 0.3 1.7 0.2 -3.8 0.2 1.7 0.2 -0.3 0.2 -1.6 0.2 -1.4 0.3 2.1 0.2 2.1 0.2 -4.5 0.2 3.9 0.2 -1.9 0.3 -0.5 0.2 -0.8 0.2 1.4 0.2 -1.4 0.2 0.5 0.2 0.5 0.3 0.6 0.2 -0.4 0.2 1.5 0.2 0 0.2 -1.7 0.2 -2.5 0.3 5.4 0.2 -2.5 0.2 -0.9 0.2 2.2 0.2 -0.7 0.2 -1.8 0.3 3.5 0.2 -3.1 0.2 0 0.2 0.7 0.2 -1.3 0.2 0.6 0.3 1 0.2 -0.4 0.2 2.4 0.2 -0.5 0.2 -3.1 0.2 1.1 0.3 -0.8 0.2 -0.6 0.2 2.7 0.2 -5.2 0.2 5.8 0.2 -3.5 0.3 3.9 0.2 -3 0.2 1.1 0.2 1.6 0.2 -1.2 0.3 -0.1 0.2 0.4 0.2 -0.8 0.2 0.7 0.2 -1.2 0.2 -1.3 0.3 2.7 0.2 0.7 0.2 -5.1 0.2 5.1 0.2 0.6 0.2 -4 0.3 3.3 0.2 -2.1 0.2 1 0.2 0.9 0.2 -2.1 0.2 2.6 0.3 -2.9 0.2 4.1 0.2 -3.5 0.2 0.6 0.2 1.2 0.2 2.1 0.3 -2.4 0.2 -0.9 0.2 -0.1 0.2 -1.8 0.2 0.4 0.2 2.8 0.3 -0.3 0.2 0.9 0.2 -1.6 0.2 -0.4 0.2 -0.4 0.2 1.4 0.3 -1.9 0.2 2.2 0.2 -1.4 0.2 -2.1 0.2 3.2 0.3 -0.6 0.2 2.9 0.2 -4.6 0.2 -0.1 0.2 1 0.2 -0.5 0.3 3.2 0.2 -3.6 0.2 0.2 0.2 -1.5 0.2 3.4 0.2 -0.6 0.3 1.8 0.2 0.4 0.2 -3.1 0.2 0.7 0.2 1.3 0.2 -2.1 0.3 -1.1 0.2 2.9 0.2 -1.8 0.2 0.6 0.2 -0.2 0.2 -1.2 0.3 2.2 0.2 -1.4 0.2 3.5 0.2 -3.2 0.2 -2.6 0.2 0.5 0.3 1.3 0.2 2.7 0.2 -2.3 0.2 0.9 0.2 0.6 0.2 -0.9 0.3 -0.1 0.2 -1.3 0.2 1.8 0.2 2.8 0.2 -2.5 0.2 -2.5 0.3 2.1 0.2 -1.2 0.2 0.3 0.2 1 0.2 -1.6 0.3 -0.3 0.2 -0.1 0.2 3.2 0.2 -1.6 0.2 -0.1 0.2 -0.3 0.3 2.5 0.2 -0.9 0.2 -1.9 0.2 -0.8 0.2 1.7 0.2 1.4 0.3 -4 0.2 1.6 0.2 -0.7 0.2 2 0.2 -0.3 0.2 -0.3 0.3 -0.4 0.2 2.5 0.2 -1.5 0.2 3.5 0.2 -4.3 0.2 2.4 0.3 -4.5 0.2 1.3 0.2 -0.3 0.2 -0.1 0.2 0.5 0.2 1.5 0.3 -0.2 0.2 -0.5 0.2 1.3 0.2 0.2 0.2 -2.2 0.2 -2.2 0.3 2.8 0.2 1.9 0.2 1.6 0.2 0 0.2 -1.5 0.3 -2.4 0.2 1.3 0.2 1.4 0.2 -1.7 0.2 0.2 0.2 -1.3 0.3 0.2 0.2 0.8 0.2 1.7 0.2 0.1 0.2 -1.5 0.2 0.6 0.3 -2.7 0.2 0.1 0.2 3.9 0.2 -4.2 0.2 3.7 0.2 -1.7 0.3 -1.1 0.2 2.8 0.2 -1.8 0.2 0.5 0.2 -1.7 0.2 1.8 0.3 0.6 0.2 -2.2 0.2 0.5 0.2 -0.7 0.2 1.6 0.2 1.5 0.3 -3.6 0.2 1.1 0.2 -3.1 0.2 3.7 0.2 2.7 0.2 -2.1 0.3 -1.2 0.2 3.2 0.2 -1 0.2 -1.6 0.2 0.7 0.3 -1.4 0.2 1.6 0.2 -4.2 0.2 4.2 0.2 -1.1 0.2 1.7 0.3 -1.5 0.2 -0.2 0.2 1.3 0.2 0.7 0.2 -4.8 0.2 3.5 0.3 -0.2 0.2 1.6 0.2 -4.8 0.2 4.4 0.2 -1.5 0.2 -0.1 0.3 -1.7 0.2 3.3 0.2 -2.1 0.2 0.1 0.2 1 0.2 1 0.3 0.4 0.2 -1.6 0.2 0.6 0.2 -1.3 0.2 -1.3 0.2 1.2 0.3 -0.5 0.2 2.5 0.2 1.5 0.2 -3 0.2 -1 0.2 1.8 0.3 1.2 0.2 -1.3 0.2 -0.5 0.2 -1.2 0.2 1.8 0.3 -1 0.2 0.9 0.2 3.4 0.2 -5.4 0.2 2.4 0.2 -3.6 0.3 0 0.2 3.2 0.2 -0.3 0.2 -1.3 0.2 0.7 0.2 -2.1 0.3 -0.1 0.2 4.6 0.2 0.9 0.2 -4.5 0.2 -1 0.2 2.7 0.3 0.6 0.2 -1.2 0.2 1.2 0.2 2.8 0.2 -1 0.2 -1.5 0.3 -2.4 0.2 2.2 0.2 -0.7 0.2 2 0.2 -3.5 0.2 4.4 0.3 -3.9 0.2 0.6 0.2 0.2 0.2 0.1 0.2 0 0.2 0.6 0.3 -1.2 0.2 -2.8 0.2 2.8 0.2 3.3 0.2 -1.9 0.3 -1.9 0.2 0.4 0.2 0.1 0.2 0.9 0.2 0.3 0.2 0.5 0.3 1.1 0.2 -3.2 0.2 -0.1 0.2 -2.6 0.2 2.4 0.2 1.4 0.3 -1.8 0.2 0.2 0.2 3.5 0.2 -2.6 0.2 -0.6 0.2 2.5 0.3 -0.7 0.2 -0.1 0.2 -2.1 0.2 2.3 0.2 -1.6 0.2 3.1 0.3 -4 0.2 0.2 0.2 -0.9 0.2 2.2 0.2 0.7 0.2 1.9 0.3 -3.8 0.2 -0.7 0.2 1.9 0.2 0.2 0.2 1.2 0.2 -3.5 0.3 2.9 0.2 -1.8 0.2 4.1 0.2 -3.3 0.2 0 0.3 -1.1 0.2 -0.7 0.2 3.2 0.2 0 0.2 -2 0.2 -0.7 0.3 4.3 0.2 -1.4 0.2 -3.8 0.2 3.3 0.2 -0.4 0.2 0 0.3 -1.2 0.2 0.1 0.2 1.3 0.2 -3.5 0.2 0.7 0.2 1.8 0.3 0.5 0.2 1.2 0.2 -2.1 0.2 2.8 0.2 -1.3 0.2 -0.5 0.3 -0.3 0.2 0.7 0.2 -3 0.2 2.6 0.2 -1.4 0.2 0.5 0.3 1.1 0.2 -1.1 0.2 1 0.2 1 0.2 0.2 0.2 -2 0.3 1.6 0.2 -1.5 0.2 0.3 0.2 -0.6 0.2 0.2 0.3 1 0.2 -1.4 0.2 0.8 0.2 -0.6 0.2 0.6 0.2 0.8 0.3 0 0.2 0.1 0.2 -0.6 0.2 1 0.2 -1.7 0.2 0.4 0.3 0.2 0.2 0.7 0.2 -2.6 0.2 -0.2 0.2 0.5 0.2 1.7 0.3 -0.5 0.2 -1.3 0.2 0.1 0.2 0.3 0.2 -0.2 0.2 -0.7 0.3 1.8 0.2 1.9 0.2 -2.4 0.2 0.3 0.2 -2.3 0.2 2.7 0.3 -0.2 0.2 -0.5 0.2 1.9 0.2 -0.1 0.2 0.7 0.2 -0.1 0.3 -3 0.2 -0.4 0.2 4.6 0.2 -3.2 0.2 -0.3 0.3 -0.1 0.2 -1 0.2 5.4 0.2 -5.8 0.2 3.5 0.2 2.3 0.3 -5.3 0.2 1 0.2 3 0.2 1 0.2 -3.2 0.2 -2.2 0.3 0.4 0.2 2.6 0.2 -0.2 0.2 -2.1 0.2 1.6 0.2 0.6 0.3 -0.9 0.2 1.1 0.2 2 0.2 -3 0.2 1.3 0.2 -2.9 0.3 1.2 0.2 1.4 0.2 1.3 0.2 -1.5 0.2 -0.8 0.2 1 0.3 -2.9 0.2 -0.8 0.2 1.6 0.2 3.1 0.2 -0.6 0.2 2 0.3 -3 0.2 0.3 0.2 -1 0.2 1.4 0.2 1.2 0.3 -3.1 0.2 1.4 0.2 -1.3 0.2 -1.8 0.2 3.2 0.2 -2.9 0.3 2.6 0.2 -0.3 0.2 -1.3 0.2 4.4 0.2 -3.8 0.2 0 0.3 -0.5 0.2 -0.8 0.2 1.3 0.2 0.3 0.2 -1.1 0.2 0.4 0.3 -1.8 0.2 3.2 0.2 -2 0.2 -0.2 0.2 -0.3 0.2 1.8 0.3 0.1 0.2 2.4 0.2 -2.4 0.2 2.6 0.2 -2.1 0.2 0.3 0.3 -0.2 0.2 0 0.2 -1 0.2 -1.4 0.2 0.9 0.2 1.8 0.3 0.1 0.2 -1 0.2 -1 0.2 2.4 0.2 -2.3 0.3 -2.1 0.2 2.8 0.2 1.6 0.2 -3.6 0.2 1 0.2 1.2 0.3 0.1 0.2 -0.9 0.2 -0.3 0.2 2 0.2 -1.7 0.2 3 0.3 -2 0.2 0.9 0.2 -1.5 0.2 -0.8 0.2 -1.3 0.2 1 0.3 3.1 0.2 -2 0.2 -1.9 0.2 3.8 0.2 -1.6 0.2 -2.3 0.3 2.2 0.2 1.5 0.2 -2 0.2 1.3 0.2 -1.5 0.2 1.9 0.3 -1.2 0.2 0.8 0.2 1.1 0.2 -1.4 0.2 -5.2 0.2 3.3 0.3 -3.2 0.2 6 0.2 -1.8 0.2 -0.3 0.2 2 0.3 -0.9 0.2 -1 0.2 -2.3 0.2 3 0.2 2 0.2 -3.3 0.3 -2.2 0.2 3.7 0.2 -0.2 0.2 -0.2 0.2 2 0.2 -0.2 0.3 -1.7 0.2 -1.3 0.2 0.5 0.2 1.6 0.2 -0.7 0.2 -2.1 0.3 1.4 0.2 1.1 0.2 -2.4 0.2 -3 0.2 5.6 0.2 0.9 0.3 -1 0.2 1.7 0.2 -0.7 0.2 -0.9 0.2 0 0.2 0.1 0.3 0 0.2 1.6 0.2 -3.1 0.2 1.2 0.2 0.1 0.2 -1.2 0.3 1.3 0.2 -1.2 0.2 -3.5 0.2 5.5 0.2 0.2 0.3 -0.8 0.2 -1.4 0.2 3.4 0.2 -3.1 0.2 -0.1 0.2 0.1 0.3 1.3 0.2 -1 0.2 -0.2 0.2 0 0.2 1.9 0.2 -2.4 0.3 2.3 0.2 -2.8 0.2 4.3 0.2 -3 0.2 0.8 0.2 -1.5 0.3 1.7 0.2 -4.2 0.2 3.8 0.2 -2.5 0.2 1.5 0.2 0.1 0.3 -2.3 0.2 1.7 0.2 2.2 0.2 -1.5 0.2 1.1 0.2 -1.8 0.3 1 0.2 2.9 0.2 -1.4 0.2 -1.3 0.2 -1.3 0.2 -0.1 0.3 4 0.2 -3.2 0.2 1 0.2 -0.2 0.2 -0.4 0.3 0.6 0.2 0.5 0.2 2.3 0.2 -6.1 0.2 3 0.2 -0.7 0.3 -3.4 0.2 1.5 0.2 0.7 0.2 0.7 0.2 1.8 0.2 -0.6 0.3 -0.7 0.2 -1.8 0.2 0.8 0.2 -0.1 0.2 0.2 0.2 0.5 0.3 -0.4 0.2 4.1 0.2 -0.4 0.2 -0.3 0.2 -2.3 0.2 -1.3 0.3 0.5 0.2 -0.6 0.2 1.1 0.2 -0.8 0.2 2.9 0.2 -3.3 0.3 2.6 0.2 -0.9 0.2 0.1 0.2 -0.8 0.2 2 0.2 0.1 0.3 -4.1 0.2 4.3 0.2 -4 0.2 1.8 0.2 0.6 0.3 -0.5 0.2 -2 0.2 2.2 0.2 -0.3 0.2 -1.3 0.2 2.9 0.3 -1.9 0.2 -0.1 0.2 1.4 0.2 -3.1 0.2 2.9 0.2 -0.7 0.3 -1.1 0.2 1.1 0.2 -0.4 0.2 1.9 0.2 -3.6 0.2 -1.4 0.3 1.6 0.2 1.3 0.2 -1.6 0.2 0.7 0.2 1.9 0.2 -0.4 0.3 -1.2 0.2 0.8 0.2 1.3 0.2 -1.1 0.2 -1.6 0.2 1.7 0.3 0.4 0.2 -0.9 0.2 3.5 0.2 -3.7 0.2 -2 0.2 2.8 0.3 2.6 0.2 -3.1 0.2 0.5 0.2 2.4 0.2 -1.1 0.3 -2.3 0.2 -0.6 0.2 1.4 0.2 0.2 0.2 -1.1 0.2 2.2 0.3 -0.6 0.2 -0.5 0.2 0.1 0.2 0.1 0.2 -0.5 0.2 -0.8 0.3 1.9 0.2 -0.9 0.2 0.2 0.2 -0.1 0.2 -2 0.2 2 0.3 -2.7 0.2 2.4 0.2 2.2 0.2 -2 0.2 0.9 0.2 -2.5 0.3 3.6 0.2 -1.7 0.2 3.4 0.2 -3.5 0.2 2.2 0.2 -3.8 0.3 0.6 0.2 0.9 0.2 -1.1 0.2 2.5 0.2 -1.1 0.2 0.7 0.3 -1.5 0.2 2.8 0.2 -4.4 0.2 2.6 0.2 0.8 0.3 -4.2 0.2 -0.5 0.2 1.9 0.2 5.8 0.2 -4.8 0.2 1.4 0.3 0 0.2 1 0.2 -1.9 0.2 0.9 0.2 -2.1 0.2 2.7 0.3 -2.6 0.2 0.4 0.2 -1.1 0.2 3.8 0.2 -1.5 0.2 -0.2 0.3 -0.8 0.2 0.4 0.2 1 0.2 -0.5 0.2 -1.1 0.2 1.2 0.3 -0.6 0.2 2.4 0.2 -2.2 0.2 -1.8 0.2 0 0.2 2.1 0.3 0.4 0.2 -1.1 0.2 0.7 0.2 1.5 0.2 -2.9 0.2 0.7 0.3 -0.6 0.2 -2.6 0.2 4.1 0.2 -2.3 0.2 0.3 0.3 -1.2 0.2 -0.4 0.2 2.3 0.2 1.7 0.2 -0.5 0.2 -0.1 0.3 -3.9 0.2 5.2 0.2 -2.8 0.2 2.3 0.2 0.6 0.2 -2.4 0.3 1.2 0.2 -1.3 0.2 1.6 0.2 -2.4 0.2 -0.9 0.2 3.2 0.3 -1.5 0.2 1.4 0.2 1.4 0.2 0.4 0.2 -5.7 0.2 3.4 0.3 1.8 0.2 -2.5 0.2 0.3 0.2 0.7 0.2 -0.7 0.2 0.7 0.3 0.4 0.2 -1.6 0.2 -2.3 0.2 1.5 0.2 0.5 0.2 0 0.3 0 0.2 -1.3 0.2 -0.3 0.2 3.8 0.2 0.7 0.3 -1.5 0.2 -2.7 0.2 -0.3 0.2 2 0.2 -0.8 0.2 1.9 0.3 -1.2 0.2 1.7 0.2 -2 0.2 3.2 0.2 0.6 0.2 -0.9 0.3 -1.7 0.2 -0.6 0.2 -1 0.2 1.5 0.2 -1.5 0.2 1.8 0.3 -0.2 0.2 -1.3 0.2 3.1 0.2 -1.2 0.2 -0.5 0.2 0.8 0.3 -0.3 0.2 -0.2 0.2 -0.8 0.2 2.1 0.2 -2.6 0.2 0.9 0.3 -0.9 0.2 0.8 0.2 -0.4 0.2 1.4 0.2 -1 0.2 1.7 0.3 -2.2 0.2 -1.4 0.2 2.7 0.2 -1.2 0.2 2.9 0.3 -1.3 0.2 -1.9 0.2 1.7 0.2 -1.1 0.2 -1 0.2 1.8 0.3 -2.7 0.2 4.3 0.2 -1.6 0.2 -0.4 0.2 -0.6 0.2 3.4 0.3 -5.3 0.2 2 0.2 0.1 0.2 -0.9 0.2 1.2 0.2 -1.4 0.3 1 0.2 0.5 0.2 0.8 0.2 -4 0.2 5.3 0.2 0.2 0.3 -2.6 0.2 0.9 0.2 -4.8 0.2 0.9 0.2 2.4 0.2 1.6 0.3 -2.2 0.2 2 0.2 -3.5 0.2 2.1 0.2 -1.5 0.2 -0.7 0.3 2.5 0.2 -2.3 0.2 3.7 0.2 -2 0.2 0.3 0.3 -0.1 0.2 0.6 0.2 -2.4 0.2 2.7 0.2 -1.2 0.2 1.6 0.3 -3.3 0.2 1.1 0.2 0.8 0.2 0.6 0.2 -0.3 0.2 0.7 0.3 1.5 0.2 0.2 0.2 -4.3 0.2 3.9 0.2 -4 0.2 3.3 0.3 -1.5 0.2 -0.9 0.2 4.5 0.2 -0.7 0.2 -2.7 0.2 -3.4 0.3 6.5 0.2 -3.1 0.2 0.9 0.2 -0.7 0.2 0.1 0.2 0.7 0.3 -1.8 0.2 -0.9 0.2 0.4 0.2 5.5 0.2 -5.5 0.2 2.2 0.3 0.4 0.2 -2.6 0.2 1.1 0.2 -2 0.2 4.6 0.3 -3.8 0.2 2.1 0.2 -1.2 0.2 0.9 0.2 0.1 0.2 1.3 0.3 0.3 0.2 -5 0.2 3.1 0.2 -2.3 0.2 2.9 0.2 -2.6 0.3 1.7 0.2 0.3 0.2 0.7 0.2 -2.2 0.2 3 0.2 -0.3 0.3 -3.7 0.2 2.2 0.2 0.2 0.2 2.6 0.2 -1.4 0.2 -2.8 0.3 2.5 0.2 2 0.2 -4 0.2 3.5 0.2 -3.1 0.2 -2.6 0.3 1.3 0.2 2.2 0.2 0.9 0.2 0.4 0.2 -1.8 0.2 0.4 0.3 -2.2 0.2 2.1 0.2 -1.7 0.2 1 0.2 -2 0.3 6.4 0.2 -4.1 0.2 1.7 0.2 -0.6 0.2 2.3 0.2 -3.3 0.3 2.2 0.2 -3.4 0.2 -1.2 0.2 0.7 0.2 4.4 0.2 -2.1 0.3 -1.8 0.2 3.5 0.2 -3.5 0.2 -0.1 0.2 3.2 0.2 -2.3 0.3 0.4 0.2 0 0.2 -1.3 0.2 1.7 0.2 -1.1 0.2 1.2 0.3 0.6 0.2 0.9 0.2 -2.8 0.2 1.9 0.2 -3.1 0.2 2.3 0.3 1.4 0.2 -0.4 0.2 -1.7 0.2 -0.4 0.2 1.7 0.2 0.9 0.3 -1.6 0.2 0.1 0.2 -1.4 0.2 3.2 0.2 -3.8 0.3 3.6 0.2 -0.5 0.2 -2.4 0.2 -0.4 0.2 2 0.2 -0.1 0.3 -0.5 0.2 1.2 0.2 -0.8 0.2 -2.1 0.2 -0.3 0.2 2.1 0.3 -0.2 0.2 0.1 0.2 -1.9 0.2 4.3 0.2 -2.6 0.2 0.3 0.3 0.4 0.2 -0.1 0.2 1.5 0.2 -1.7 0.2 -0.3 0.2 1 0.3 -1.8 0.2 -0.9 0.2 0.8 0.2 1.2 0.2 0.4 0.2 -0.2 0.3 1.8 0.2 -2 0.2 -1.4 0.2 1.8 0.2 -0.8 0.2 1.5 0.3 -1.2 0.2 -0.4 0.2 0.4 0.2 3.1 0.2 -2.1 0.3 -0.4 0.2 0.2 0.2 -1.3 0.2 1 0.2 2.5 0.2 -2.2 0.3 0.7 0.2 -2.6 0.2 0.5 0.2 0.3 0.2 -1.4 0.2 1.6 0.3 0.5 0.2 1.2 0.2 -2.8 0.2 1.6 0.2 -1.2 0.2 4 0.3 -5.5 0.2 1.8 0.2 -0.4 0.2 1.4 0.2 1.4 0.2 -1.9 0.3 0.7 0.2 0.5 0.2 -0.2 0.2 -1.6 0.2 1 0.2 1.6 0.3 -2.4 0.2 -0.1 0.2 0.1 0.2 1.5 0.2 0.2 0.2 -1 0.3 -2.1 0.2 3.3 0.2 0.2 0.2 -0.9 0.2 1.3 0.3 -4.3 0.2 3.5 0.2 -2.2 0.2 2.1 0.2 -4 0.2 1.5 0.3 0.7 0.2 -0.9 0.2 0.3 0.2 2.9 0.2 -2.3 0.2 0.4 0.3 -1.9 0.2 1.6 0.2 1.7 0.2 -3.8 0.2 2.4 0.2 1.2 0.3 0.6 0.2 -2.4 0.2 2.7 0.2 -1.8 0.2 -0.4 0.2 3.1 0.3 -0.8 0.2 1.2 0.2 -3.4 0.2 0.4 0.2 -0.1 0.2 0.3 0.3 -1.3 0.2 -4.7 0.2 4.5 0.2 0.9 0.2 0.1 0.2 -2.7 0.3 5 0.2 -2.2 0.2 -1.9 0.2 3.2 0.2 -3.1 0.3 3.2 0.2 -1.2 0.2 0.8 0.2 -1 0.2 3.6 0.2 -3.1 0.3 -0.3 0.2 0.4 0.2 -2.1 0.2 0.7 0.2 1.5 0.2 -1.8 0.3 2.4 0.2 -1 0.2 -0.9 0.2 0.5 0.2 -1.6 0.2 1.9 0.3 0.6 0.2 -2.2 0.2 0.9 0.2 -0.5 0.2 -2.8 0.2 2.5 0.3 1.2 0.2 0 0.2 1.5 0.2 -1.6 0.2 1.4 0.2 -2.6 0.3 1.6 0.2 1.7 0.2 -2.4 0.2 -1.2 0.2 0.7 0.2 0.3 0.3 -1.6 0.2 3.2 0.2 -1.3 0.2 0.6 0.2 -1 0.3 2.4 0.2 -3.1 0.2 2.1 0.2 -1.8 0.2 -0.6 0.2 1.4 0.3 -2.7 0.2 4.3 0.2 -0.3 0.2 0.2 0.2 -0.7 0.2 -1.5 0.3 -0.8 0.2 1.7 0.2 0.9 0.2 -0.1 0.2 1.8 0.2 -2.5 0.3 2.4 0.2 -3.8 0.2 3.1 0.2 -4.4 0.2 6.1 0.2 -4.5 0.3 3.7 0.2 -2 0.2 0.3 0.2 -1.5 0.2 -1.5 0.2 0.5 0.3 4 0.2 -4 0.2 4.1 0.2 -1.3 0.2 -3.2 0.2 4 0.3 -0.8 0.2 -1 0.2 1.9 0.2 -2.7 0.2 3.3 0.3 -4.2 0.2 1.3 0.2 0.5 0.2 -1.9 0.2 3.4 0.2 -2.3 0.3 0.1 0.2 0.7 0.2 -0.4 0.2 1 0.2 1.4 0.2 0.7 0.3 -3.8 0.2 -0.3 0.2 1.3 0.2 0.3 0.2 1.7 0.2 -4.4 0.3 2.9 0.2 -1.6 0.2 0 0.2 2.3 0.2 -1.5 0.2 -0.8 0.3 1.4 0.2 -0.6 0.2 -0.6 0.2 4.5 0.2 -4.2 0.2 0.8 0.3 -0.1 0.2 2.1 0.2 -1.2 0.2 -0.5 0.2 0.4 0.2 -1 0.3 1.2 0.2 -0.6 0.2 0 0.2 -3.1 0.2 2.8 0.3 2.4 0.2 -0.4 0.2 -2.9 0.2 -0.3 0.2 1.7 0.2 0.4 0.3 -1.8 0.2 3.4 0.2 -3.4 0.2 0.3 0.2 -0.1 0.2 3.4 0.3 -3.4 0.2 -0.8 0.2 1.7 0.2 0.7 0.2 0.5 0.2 -1.3 0.3 -1.3 0.2 0.7 0.2 -0.3 0.2 -1.2 0.2 2.6 0.2 1.5 0.3 -0.2 0.2 -1.8 0.2 -0.3 0.2 -0.1 0.2 -2.1 0.2 3.5 0.3 -1.1 0.2 2.3 0.2 -0.2 0.2 -0.3 0.2 -1.3 0.2 -3.9 0.3 3.1 0.2 -0.3 0.2 2.5 0.2 -1.3 0.2 0.7 0.3 -2.7 0.2 1.5 0.2 -1.7 0.2 3 0.2 -1.5 0.2 -0.8 0.3 -1.6 0.2 -0.4 0.2 4.2 0.2 -3.3 0.2 2.1 0.2 -0.1 0.3 0.2 0.2 -0.6 0.2 3 0.2 -3.4 0.2 1.4 0.2 -1 0.3 3.1 0.2 -2.7 0.2 0.4 0.2 -0.2 0.2 -0.4 0.2 -1.3 0.3 1.3 0.2 -0.7 0.2 1.6 0.2 0.6 0.2 -0.7 0.2 0.1 0.3 -1.8 0.2 0.1 0.2 -0.3 0.2 0.6 0.2 1.1 0.2 0.9 0.3 -3.1 0.2 0 0.2 3.9 0.2 -5.8 0.2 4.4 0.3 -2.8 0.2 3.3 0.2 -2.1 0.2 0.4 0.2 -1.2 0.2 1.1 0.3 1.4 0.2 -3.3 0.2 4.6 0.2 -1.7 0.2 1.8 0.2 -3.8 0.3 1.1 0.2 0.8 0.2 -2.8 0.2 1.2 0.2 1.5 0.2 -0.4 0.3 -0.3 0.2 0.3 0.2 -1.6 0.2 0.7 0.2 0.5 0.2 -0.5 0.3 1.3 0.2 -1.8 0.2 -0.7 0.2 1.2 0.2 1.2 0.2 -0.5 0.3 0.8 0.2 -2.6 0.2 0.1 0.2 2.3 0.2 -1 0.2 1.2 0.3 -1 0.2 1 0.2 -2.8 0.2 3.1 0.2 -2.8 0.3 2.4 0.2 -1.4 0.2 0.8 0.2 0.7 0.2 0.2 0.2 -1.4 0.3 -0.6 0.2 0.2 0.2 -0.1 0.2 1.2 0.2 -1.9 0.2 1.9 0.3 -0.1 0.2 0 0.2 -0.7 0.2 2.8 0.2 -3.1 0.2 0.4 0.3 -0.5 0.2 -4.1 0.2 4.7 0.2 2 0.2 -0.3 0.2 -2.3 0.3 1.4 0.2 -1.3 0.2 0.2 0.2 1 0.2 2.5 0.2 -1.5 0.3 -0.4 0.2 -1.3 0.2 1.4 0.2 -1.3 0.2 -2.5 0.2 4 0.3 1.5 0.2 0 0.2 -3 0.2 0.8 0.2 -3.8 0.3 5.1 0.2 0.9 0.2 -2.4 0.2 -1.3 0.2 -1.4 0.2 -0.3 0.3 1.1 0.2 1.6 0.2 0.5 0.2 0.5 0.2 -1.8 0.2 0.6 0.3 1.9 0.2 -1.3 0.2 1.1 0.2 -2.1 0.2 -0.1 0.2 -0.3 0.3 2.3 0.2 -0.5 0.2 -0.5 0.2 2 0.2 -1.6 0.2 -0.4 0.3 -0.6 0.2 1.2 0.2 -3.2 0.2 1.2 0.2 1.8 0.2 0.2 0.3 -0.6 0.2 -1.2 0.2 -0.3 0.2 0 0.2 0.4 0.2 0.1 0.3 2.1 0.2 -0.9 0.2 -0.8 0.2 -0.5 0.2 2.4 0.3 -2.9 0.2 -0.5 0.2 4.1 0.2 0.2 0.2 -0.9 0.2 -0.3 0.3 -1.8 0.2 -1.2 0.2 -0.1 0.2 2.2 0.2 0.5 0.2 -3.2 0.3 1.2 0.2 0.4 0.2 1.2 0.2 0.3 0.2 -1.8 0.2 0.9 0.3 0.2 0.2 0.1 0.2 -1.1 0.2 -0.5 0.2 0.5 0.2 0.7 0.3 2.7 0.2 -3.2 0.2 0.7 0.2 2.9 0.2 -2.2 0.2 0.7 0.3 -1.4 0.2 -0.1 0.2 -0.9 0.2 -1.7 0.2 4.9 0.2 -3.7 0.3 3.2 0.2 -3.1 0.2 1.2 0.2 0.2 0.2 4.8 0.3 -5.3 0.2 -0.4 0.2 0.7 0.2 -0.8 0.2 -1.3 0.2 2 0.3 -0.3 0.2 0.6 0.2 1.6 0.2 -3.6 0.2 0.5 0.2 2.2 0.3 -0.1 0.2 -1.7 0.2 0.8 0.2 1.5 0.2 -0.3 0.2 -3.1 0.3 2.9 0.2 -0.4 0.2 -1.1 0.2 -0.3 0.2 -0.2 0.2 1.7 0.3 -0.1 0.2 -0.5 0.2 1.3 0.2 -4.1 0.2 3.2 0.2 -1.9 0.3 2.7 0.2 -0.2 0.2 0 0.2 0 0.2 1.2 0.2 -1.2 0.3 -1.7 0.2 -1.1 0.2 0.4 0.2 -0.1 0.2 -0.9 0.3 2.1 0.2 -1.2 0.2 -0.2 0.2 2.2 0.2 -0.6 0.2 -1.2 0.3 -1 0.2 3.8 0.2 -3.7 0.2 2.8 0.2 1 0.2 -0.3 0.3 1.4 0.2 -2.3 0.2 -0.3 0.2 -2 0.2 1 0.2 -1.1 0.3 -1.4 0.2 0.9 0.2 3.1 0.2 0.4 0.2 -1.1 0.2 0.3 0.3 -1.1 0.2 1.4 0.2 0.4 0.2 -2.5 0.2 0.9 0.2 -1.2 0.3 0 0.2 2.8 0.2 -2.3 0.2 0.5 0.2 -0.1 0.2 0 0.3 1.9 0.2 -0.2 0.2 0.9"/>
<path stroke="#4848c8" d="M78.5 1206.5l0.2 -0.4 0.2 0.5 0.3 -1.9 0.2 0.2 0.2 0.1 0.2 -0.7 0.2 1.6 0.2 -3.1 0.3 2.1 0.2 -1.2 0.2 -0.2 0.2 0.2 0.2 -1.2 0.2 0.3 0.3 -1.2 0.2 -0.4 0.2 0.4 0.2 -1.9 0.2 0.4 0.2 0.6 0.3 -0.3 0.2 -1.4 0.2 2 0.2 -1.5 0.2 -1.4 0.2 -0.8 0.3 -0.2 0.2 -0.5 0.2 0.1 0.2 -0.5 0.2 -2.6 0.2 0.7 0.3 -1.2 0.2 -0.5 0.2 -1.9 0.2 1.6 0.2 -2.3 0.2 -0.5 0.3 -1.4 0.2 -1.5 0.2 -0.2 0.2 -3.1 0.2 -0.3 0.3 -2.9 0.2 -1.4 0.2 -2.4 0.2 -2.9 0.2 -1.9 0.2 -3 0.3 -2.3 0.2 -3 0.2 -1.4 0.2 -2.6 0.2 -3.9 0.2 -2.7 0.3 -3.1 0.2 -3 0.2 -2.4 0.2 -4.9 0.2 -3.5 0.2 -2.7 0.3 -2.4 0.2 -3.4 0.2 -4.8 0.2 -2.4 0.2 -3.3 0.2 -2.5 0.3 -3.9 0.2 -2.4 0.2 -1.9 0.2 -2.4 0.2 -3.6 0.2 -2.5 0.3 -2.9 0.2 -4.6 0.2 -3 0.2 -2.6 0.2 -2.9 0.2 -4.9 0.3 -0.9 0.2 -3.7 0.2 -2.7 0.2 -2.9 0.2 -4.8 0.3 -2.5 0.2 -3.2 0.2 -3.9 0.2 -4.8 0.2 -4.4 0.2 -4.6 0.3 -6.3 0.2 -7.6 0.2 -6.1 0.2 -8.8 0.2 -11 0.2 -7.8 0.3 -9.1 0.2 -10.8 0.2 -11.3 0.2 -13.5 0.2 -16 0.2 -14.5 0.3 -15.4 0.2 -13.2 0.2 -14.1 0.2 -15.7 0.2 -15.5 0.2 -12.7 0.3 -11.4 0.2 -12 0.2 -7.6 0.2 -6.5 0.2 -6.7 0.2 -7.1 0.3 -4.1 0.2 -6.8 0.2 -3.4 0.2 -8.3 0.2 -2.8 0.2 -3.9 0.3 -0.7 0.2 -5.3 0.2 -2.2 0.2 -0.7 0.2 -5.2 0.3 -0.3 0.2 -2.6 0.2 -2.3 0.2 -0.2 0.2 -2.5 0.2 -1.9 0.3 -1.7 0.2 -0.6 0.2 -2.7 0.2 1.1 0.2 0.2 0.2 -2.9 0.3 0.3 0.2 -1.4 0.2 -2.9 0.2 0.7 0.2 -0.6 0.2 1.2 0.3 -0.5 0.2 0.2 0.2 -0.8 0.2 -1.2 0.2 -0.6 0.2 0.7 0.3 1.1 0.2 -2.8 0.2 4 0.2 -2.1 0.2 -1.5 0.2 -2.8 0.3 1.5 0.2 -1.6 0.2 1.8 0.2 2.7 0.2 -1.8 0.2 0.7 0.3 -1.3 0.2 0.7 0.2 -0.2 0.2 -1.8 0.2 -0.1 0.3 -2 0.2 3.3 0.2 -0.5 0.2 -1.1 0.2 0.9 0.2 0.9 0.3 -0.4 0.2 2.2 0.2 -1.3 0.2 -1.7 0.2 0.2 0.2 1.2 0.3 -0.8 0.2 -4.7 0.2 2.2 0.2 1.6 0.2 1.9 0.2 -3.3 0.3 3.1 0.2 2.1 0.2 -4.5 0.2 -2.3 0.2 5.7 0.2 0.4 0.3 -2 0.2 -2.1 0.2 1.4 0.2 0.1 0.2 0.3 0.2 -1.9 0.3 -0.9 0.2 2 0.2 -2.6 0.2 2.6 0.2 -1.2 0.2 0.7 0.3 0.6 0.2 -0.4 0.2 3.3 0.2 -3.8 0.2 -2.9 0.3 0.6 0.2 1 0.2 0.6 0.2 2.7 0.2 -3 0.2 3 0.3 -2.8 0.2 -1.1 0.2 4.5 0.2 -2.1 0.2 -2.2 0.2 1 0.3 0.5 0.2 -2.3 0.2 -0.3 0.2 3.2 0.2 2 0.2 -2 0.3 -1.1 0.2 -3.5 0.2 1.8 0.2 2.8 0.2 -2.9 0.2 2.9 0.3 0.2 0.2 0 0.2 -1.2 0.2 -1.2 0.2 0.4 0.2 2.1 0.3 -1.4 0.2 3.7 0.2 -2.4 0.2 2.3 0.2 -3.1 0.2 -3.7 0.3 1.9 0.2 2.9 0.2 -2.6 0.2 0.1 0.2 1.8 0.3 -0.8 0.2 1.9 0.2 -4.5 0.2 2.5 0.2 1.9 0.2 0.7 0.3 -5.1 0.2 4.9 0.2 -2 0.2 0.8 0.2 -0.4 0.2 -1.3 0.3 -0.8 0.2 1.9 0.2 -0.1 0.2 -1.7 0.2 0.5 0.2 -1.2 0.3 3.9 0.2 -4.1 0.2 -0.2 0.2 3.9 0.2 -1.9 0.2 -0.8 0.3 0.3 0.2 -1.3 0.2 -0.6 0.2 0.2 0.2 3.8 0.2 -4.3 0.3 0.9 0.2 2.9 0.2 0.2 0.2 -2.6 0.2 2 0.2 0 0.3 0.7 0.2 -3.5 0.2 2.5 0.2 -2.5 0.2 3.9 0.3 -0.9 0.2 -1.6 0.2 -1 0.2 -1.9 0.2 3 0.2 0.8 0.3 1.4 0.2 -4.3 0.2 2.1 0.2 -0.3 0.2 0.1 0.2 -0.1 0.3 0.6 0.2 -0.5 0.2 -0.1 0.2 0.1 0.2 -1.1 0.2 0.8 0.3 3 0.2 -0.2 0.2 -0.9 0.2 -1.4 0.2 -0.9 0.2 -0.4 0.3 0.7 0.2 0.8 0.2 1.8 0.2 -2.3 0.2 -0.3 0.2 2.3 0.3 -2.4 0.2 0.2 0.2 1.9 0.2 -1.8 0.2 0 0.2 1.5 0.3 -0.8 0.2 -0.3 0.2 0.6 0.2 2.4 0.2 -3.2 0.3 2.8 0.2 -3.7 0.2 0.7 0.2 -1.2 0.2 1.5 0.2 1 0.3 -0.6 0.2 1.7 0.2 -3.1 0.2 0.5 0.2 0.8 0.2 -2.1 0.3 4.3 0.2 -2.5 0.2 1.9 0.2 1.1 0.2 -2.1 0.2 0.8 0.3 -3.9 0.2 3.3 0.2 1.7 0.2 -5.3 0.2 1.7 0.2 -0.4 0.3 0.7 0.2 -0.1 0.2 -1.3 0.2 0.1 0.2 2.6 0.2 -2.6 0.3 6 0.2 -3.6 0.2 0.1 0.2 -0.2 0.2 -0.9 0.2 0.4 0.3 -2.3 0.2 5.7 0.2 -2 0.2 -2 0.2 0.2 0.3 2.4 0.2 -1.3 0.2 0.3 0.2 -0.7 0.2 0.1 0.2 2 0.3 -0.9 0.2 0.8 0.2 -1.9 0.2 -1.9 0.2 -0.6 0.2 0.8 0.3 1.2 0.2 3.3 0.2 -3.3 0.2 2.9 0.2 -0.8 0.2 -0.5 0.3 -1.4 0.2 0.1 0.2 2.3 0.2 0.9 0.2 -3.6 0.2 0.6 0.3 2.5 0.2 -3.3 0.2 2.6 0.2 -3 0.2 -0.5 0.2 -1.4 0.3 2.6 0.2 2.5 0.2 -5.4 0.2 6 0.2 -2.4 0.2 1 0.3 -1.5 0.2 -1.2 0.2 -0.4 0.2 3.8 0.2 2.3 0.3 -5.6 0.2 -0.4 0.2 1.1 0.2 -1.2 0.2 2.6 0.2 -0.2 0.3 2.2 0.2 -3.5 0.2 2 0.2 -2.2 0.2 2.2 0.2 0.6 0.3 1.7 0.2 -3 0.2 0.4 0.2 -1.4 0.2 2.6 0.2 -2.4 0.3 1.5 0.2 -0.6 0.2 1.1 0.2 -0.8 0.2 -1.3 0.2 -1.6 0.3 3 0.2 -1.1 0.2 -1.5 0.2 2.2 0.2 -3 0.2 3 0.3 -0.7 0.2 -1.1 0.2 0.8 0.2 -1.1 0.2 -0.4 0.2 0.6 0.3 0.9 0.2 2.4 0.2 -1.9 0.2 -0.9 0.2 1.8 0.3 -2.1 0.2 0.7 0.2 0.1 0.2 0.8 0.2 -0.8 0.2 -0.3 0.3 0.9 0.2 -1.1 0.2 2.7 0.2 -2 0.2 -0.8 0.2 3.4 0.3 -2.2 0.2 -0.4 0.2 1.1 0.2 -2.2 0.2 -1.7 0.2 0.6 0.3 1.7 0.2 -0.8 0.2 -1.8 0.2 3.2 0.2 -0.6 0.2 -0.6 0.3 -0.6 0.2 2.4 0.2 -1.7 0.2 4 0.2 -3.9 0.2 1.5 0.3 -0.5 0.2 -4.1 0.2 4.1 0.2 2.5 0.2 -3.2 0.2 -0.6 0.3 1.6 0.2 -0.3 0.2 -1 0.2 0.3 0.2 2.5 0.3 -0.8 0.2 -1.8 0.2 0 0.2 0.5 0.2 -1.9 0.2 0.7 0.3 2 0.2 -1.7 0.2 -0.6 0.2 3.6 0.2 -1.3 0.2 -0.7 0.3 2.8 0.2 -4.8 0.2 -0.1 0.2 6.2 0.2 -2.6 0.2 -3.5 0.3 -1 0.2 2.2 0.2 -2 0.2 1.9 0.2 0.5 0.2 -2.3 0.3 3.7 0.2 -0.2 0.2 -0.7 0.2 0.3 0.2 1.5 0.2 -0.3 0.3 -4.6 0.2 2.9 0.2 1 0.2 1.3 0.2 -0.6 0.2 -1.2 0.3 1.7 0.2 -3.8 0.2 2.5 0.2 -1.7 0.2 2.1 0.3 -1 0.2 2.6 0.2 -1.3 0.2 -0.4 0.2 -2.1 0.2 2.7 0.3 -3.6 0.2 3.4 0.2 -1.4 0.2 -0.5 0.2 0.9 0.2 0.9 0.3 0.1 0.2 -1.7 0.2 1.7 0.2 -4.2 0.2 1.8 0.2 1.5 0.3 1.6 0.2 -3.7 0.2 -1.6 0.2 4.6 0.2 1.3 0.2 -3.9 0.3 -1.8 0.2 2 0.2 2.6 0.2 -0.8 0.2 -2 0.2 2.7 0.3 -2.1 0.2 -0.4 0.2 -0.8 0.2 3.3 0.2 -1.8 0.2 -0.9 0.3 1.3 0.2 -1.4 0.2 1.6 0.2 1.2 0.2 0.6 0.3 -1.6 0.2 -0.4 0.2 -1.7 0.2 1.2 0.2 2 0.2 -2.5 0.3 -2.1 0.2 4.2 0.2 -1.7 0.2 3.4 0.2 -6.7 0.2 2.3 0.3 -0.7 0.2 1.8 0.2 -0.3 0.2 0.8 0.2 0.8 0.2 -4 0.3 1.1 0.2 2.7 0.2 -0.3 0.2 -0.8 0.2 -0.4 0.2 -2.2 0.3 5.4 0.2 -1.5 0.2 2 0.2 -2.1 0.2 -1.1 0.2 -2.7 0.3 1.2 0.2 0.1 0.2 2 0.2 -3.8 0.2 1.2 0.2 2.4 0.3 0.4 0.2 -2 0.2 2.9 0.2 -0.5 0.2 -2.2 0.3 0.8 0.2 0.8 0.2 -0.6 0.2 0.2 0.2 0.1 0.2 -0.8 0.3 3.1 0.2 -4 0.2 1.7 0.2 -0.1 0.2 -0.4 0.2 -0.8 0.3 -3 0.2 5.1 0.2 0.1 0.2 -1 0.2 0.4 0.2 1.9 0.3 -2 0.2 0.2 0.2 -3.2 0.2 1 0.2 4.4 0.2 0.4 0.3 -6.3 0.2 3.3 0.2 2.6 0.2 -2.1 0.2 -3.1 0.2 1.5 0.3 -2.6 0.2 0.7 0.2 3 0.2 -2.1 0.2 3.8 0.2 -3.1 0.3 0.2 0.2 0.2 0.2 -0.3 0.2 -2.7 0.2 4.8 0.3 -0.4 0.2 -1.1 0.2 0.5 0.2 -1.8 0.2 1.2 0.2 2.4 0.3 -2.8 0.2 1.3 0.2 1.4 0.2 -3.5 0.2 2.7 0.2 -0.6 0.3 -1.8 0.2 2.2 0.2 0.2 0.2 -0.4 0.2 -1.2 0.2 0.4 0.3 -1.9 0.2 3.1 0.2 -3.2 0.2 1 0.2 -0.3 0.2 1.2 0.3 2.2 0.2 -1.8 0.2 -1.5 0.2 -0.7 0.2 2.6 0.2 -0.7 0.3 -0.8 0.2 -0.7 0.2 1 0.2 2.2 0.2 -0.2 0.2 -1.9 0.3 1.1 0.2 -4.7 0.2 5.8 0.2 -2.2 0.2 1.3 0.3 -1.8 0.2 -2.2 0.2 6.2 0.2 -2.8 0.2 0.3 0.2 -1.5 0.3 1.7 0.2 -1.2 0.2 1.9 0.2 -3.3 0.2 0 0.2 2.5 0.3 2.7 0.2 -3 0.2 -0.4 0.2 1.5 0.2 -3.9 0.2 4.8 0.3 -5.8 0.2 2.8 0.2 -0.8 0.2 2.8 0.2 0.5 0.2 -2.7 0.3 -2.5 0.2 3.5 0.2 -2.7 0.2 1.7 0.2 1.9 0.2 -2.1 0.3 -0.7 0.2 1.6 0.2 -1.3 0.2 0.5 0.2 -1.6 0.2 2.8 0.3 0 0.2 -1.8 0.2 3.8 0.2 -2.5 0.2 0.7 0.3 -0.1 0.2 -2.2 0.2 1.1 0.2 0.5 0.2 -1.6 0.2 3.6 0.3 -3.3 0.2 2.2 0.2 -1.7 0.2 -1.9 0.2 2.5 0.2 1.5 0.3 1 0.2 -1.3 0.2 0.1 0.2 0.5 0.2 0.1 0.2 -0.7 0.3 0.2 0.2 -0.9 0.2 0.3 0.2 -2.9 0.2 2.9 0.2 -0.1 0.3 -0.9 0.2 0 0.2 1.5 0.2 0.3 0.2 -0.7 0.2 0.3 0.3 -2.7 0.2 3.4 0.2 -1 0.2 -0.8 0.2 -0.6 0.2 -1.6 0.3 2.8 0.2 -0.1 0.2 -2.7 0.2 0.2 0.2 2.3 0.3 1.5 0.2 -2.5 0.2 3 0.2 -4.4 0.2 0.9 0.2 3.2 0.3 -3.4 0.2 2.9 0.2 -0.8 0.2 -2.6 0.2 3.9 0.2 1.2 0.3 -1.2 0.2 -2.4 0.2 0.3 0.2 1.5 0.2 1.9 0.2 -2.5 0.3 1 0.2 -2.8 0.2 4.2 0.2 -4.2 0.2 1.5 0.2 -0.7 0.3 -0.4 0.2 0 0.2 2.5 0.2 -3 0.2 3.2 0.2 -3.2 0.3 1.2 0.2 0.8 0.2 -0.8 0.2 -0.4 0.2 0.1 0.2 -1.2 0.3 1.1 0.2 0.6 0.2 -4.1 0.2 5 0.2 0.5 0.3 -2.6 0.2 -1 0.2 0.1 0.2 -0.1 0.2 -0.4 0.2 3.3 0.3 -2.6 0.2 3.3 0.2 -2.3 0.2 1.9 0.2 -1.9 0.2 -0.3 0.3 0 0.2 1.2 0.2 0.6 0.2 -2.8 0.2 -0.6 0.2 2.9 0.3 2.5 0.2 -3.1 0.2 -1.5 0.2 2 0.2 0.2 0.2 -1.9 0.3 -0.8 0.2 3.4 0.2 0.4 0.2 -1.2 0.2 1.7 0.2 -3 0.3 2.9 0.2 -4.3 0.2 2.8 0.2 -0.1 0.2 -1.9 0.2 0.4 0.3 0.4 0.2 -0.4 0.2 2 0.2 -4.2 0.2 5.3 0.3 -1.3 0.2 0.7 0.2 0 0.2 -3.3 0.2 -0.4 0.2 0.1 0.3 1.5 0.2 3.3 0.2 -0.2 0.2 -0.8 0.2 -0.4 0.2 -1.9 0.3 0 0.2 0.8 0.2 2.4 0.2 -3.6 0.2 1 0.2 2.8 0.3 -3.4 0.2 1.9 0.2 -4.4 0.2 5.3 0.2 -3.2 0.2 1.6 0.3 2.8 0.2 -1 0.2 -0.1 0.2 -1.7 0.2 -2.4 0.2 1.2 0.3 -1.9 0.2 1.3 0.2 -0.8 0.2 1.8 0.2 -0.8 0.2 -0.1 0.3 1.7 0.2 -0.9 0.2 1.4 0.2 -0.7 0.2 1.1 0.3 -1 0.2 0.1 0.2 -2.2 0.2 2.7 0.2 0.2 0.2 -1.7 0.3 1.2 0.2 0 0.2 -1 0.2 -0.3 0.2 0.4 0.2 -1.6 0.3 -1.1 0.2 1 0.2 2.2 0.2 1.6 0.2 -0.2 0.2 -1.9 0.3 2.5 0.2 -2.9 0.2 1.4 0.2 -0.7 0.2 -1 0.2 0.6 0.3 3.5 0.2 -0.6 0.2 -4.9 0.2 2.6 0.2 -2.5 0.2 2.5 0.3 -0.8 0.2 1.5 0.2 -1.8 0.2 -0.6 0.2 1 0.2 -1.1 0.3 1.1 0.2 3.6 0.2 -4.2 0.2 -0.4 0.2 2.6 0.3 -2.8 0.2 3.5 0.2 -1.6 0.2 -1 0.2 4.6 0.2 -4.8 0.3 0.8 0.2 -1.3 0.2 2.2 0.2 -0.7 0.2 -0.1 0.2 -0.1 0.3 1.6 0.2 -3.6 0.2 4.2 0.2 -1.5 0.2 -1.2 0.2 1.8 0.3 -2.8 0.2 2.3 0.2 0.3 0.2 -1.8 0.2 -2.3 0.2 3.3 0.3 -2.1 0.2 2.8 0.2 -0.9 0.2 -0.2 0.2 -1 0.2 0.3 0.3 2.1 0.2 -0.3 0.2 -0.7 0.2 -1.1 0.2 -3.3 0.2 4.1 0.3 -2.9 0.2 -0.5 0.2 4 0.2 0.8 0.2 -3.2 0.3 4.1 0.2 -4.6 0.2 2.4 0.2 -1.4 0.2 0.6 0.2 3.4 0.3 -4.4 0.2 1.1 0.2 4.4 0.2 -0.9 0.2 -3.2 0.2 0.1 0.3 0.3 0.2 -0.3 0.2 1.8 0.2 -0.8 0.2 -2.9 0.2 5.9 0.3 0.5 0.2 -6.4 0.2 1.2 0.2 -1.8 0.2 1.4 0.2 -0.5 0.3 1.2 0.2 2.7 0.2 -0.6 0.2 -3.1 0.2 1.2 0.2 -1 0.3 -1.2 0.2 2.6 0.2 -3.5 0.2 4.2 0.2 -0.7 0.2 -1.2 0.3 -0.2 0.2 1.7 0.2 -1.9 0.2 4.1 0.2 -3.2 0.3 -1 0.2 1.3 0.2 0.3 0.2 -0.3 0.2 1.7 0.2 -4.6 0.3 2.8 0.2 0.6 0.2 -0.3 0.2 -0.7 0.2 1.6 0.2 1.2 0.3 -3.7 0.2 2.6 0.2 -0.3 0.2 2.3 0.2 -3.7 0.2 -0.7 0.3 0.4 0.2 0.3 0.2 3.7 0.2 -5.8 0.2 1.8 0.2 1.7 0.3 -2 0.2 0.8 0.2 -0.2 0.2 1.5 0.2 -1 0.2 0.7 0.3 -1.4 0.2 1.2 0.2 -0.9 0.2 0.6 0.2 -1.1 0.2 -0.3 0.3 1 0.2 -1.5 0.2 1.7 0.2 -4.7 0.2 2.8 0.3 0 0.2 4.3 0.2 -1.7 0.2 -0.7 0.2 -0.8 0.2 0.2 0.3 -0.2 0.2 2.6 0.2 -5 0.2 2.7 0.2 -0.5 0.2 0.9 0.3 0 0.2 0.2 0.2 -2.8 0.2 3.4 0.2 -1.5 0.2 -1.2 0.3 4.2 0.2 -0.7 0.2 0.3 0.2 -2.5 0.2 3.5 0.2 -2.1 0.3 -0.5 0.2 0.6 0.2 2.2 0.2 -5.6 0.2 4.1 0.2 -0.2 0.3 -2.9 0.2 2.7 0.2 0 0.2 0.6 0.2 -0.8 0.2 -1 0.3 -1.6 0.2 2.1 0.2 -0.5 0.2 3.5 0.2 -3.5 0.3 -1 0.2 -0.3 0.2 4.5 0.2 -1.3 0.2 1.3 0.2 -2.6 0.3 -2.2 0.2 4.6 0.2 -3.3 0.2 1.8 0.2 -2.8 0.2 2.7 0.3 2 0.2 -2 0.2 -0.5 0.2 0.4 0.2 0.6 0.2 -2.3 0.3 0.2 0.2 1.3 0.2 -1.6 0.2 0.5 0.2 -1.7 0.2 -0.8 0.3 -0.2 0.2 3.8 0.2 -1.8 0.2 1.4 0.2 -1.1 0.2 -0.2 0.3 1.1 0.2 0.1 0.2 -1.6 0.2 2 0.2 0.4 0.2 0.7 0.3 0.3 0.2 -3.3 0.2 -0.5 0.2 2.1 0.2 0.8 0.3 -3.5 0.2 2.8 0.2 0.6 0.2 -0.4 0.2 -1.8 0.2 1 0.3 -2.3 0.2 1 0.2 1.1 0.2 3.2 0.2 -1.4 0.2 -4 0.3 0.4 0.2 1 0.2 -0.1 0.2 0.9 0.2 0.3 0.2 1.6 0.3 -2.8 0.2 0.4 0.2 2.6 0.2 0.2 0.2 -2.6 0.2 1.7 0.3 -3.7 0.2 2.4 0.2 2 0.2 -1 0.2 0.4 0.2 0 0.3 -2.3 0.2 2.4 0.2 0.5 0.2 2 0.2 -4.7 0.2 0.5 0.3 3.9 0.2 -5.4 0.2 2.6 0.2 -3.6 0.2 2.7 0.3 1.2 0.2 -2.1 0.2 -0.7 0.2 3.8 0.2 -2.5 0.2 -0.5 0.3 1.5 0.2 1.2 0.2 -0.7 0.2 -2.7 0.2 0.1 0.2 1.1 0.3 -2.6 0.2 1.9 0.2 -0.5 0.2 0.4 0.2 0.7 0.2 0.5 0.3 -1.2 0.2 1.8 0.2 -0.6 0.2 4.2 0.2 -2.3 0.2 0.4 0.3 -5.3 0.2 6.3 0.2 -3.6 0.2 -1.2 0.2 2.1 0.2 -0.2 0.3 -0.7 0.2 3.6 0.2 -3.1 0.2 -2.2 0.2 0.7 0.2 1.3 0.3 0.1 0.2 -1.7 0.2 3 0.2 -1.8 0.2 -1.4 0.3 3.8 0.2 -1.7 0.2 -1.6 0.2 -2.1 0.2 5.2 0.2 -3.4 0.3 -1.4 0.2 1.9 0.2 1 0.2 0.1 0.2 2 0.2 -4.3 0.3 4.7 0.2 -2.2 0.2 0.6 0.2 -1.4 0.2 1.4 0.2 -2.9 0.3 5.1 0.2 0.4 0.2 -3.2 0.2 2.2 0.2 -3.4 0.2 0 0.3 -0.2 0.2 3.1 0.2 -0.6 0.2 -0.4 0.2 -1.1 0.2 0.3 0.3 -1.2 0.2 2 0.2 -4.1 0.2 2.8 0.2 -0.3 0.2 4.6 0.3 -2.3 0.2 -3.1 0.2 2.5 0.2 0 0.2 1 0.3 -1.6 0.2 -1.6 0.2 1.2 0.2 -1.9 0.2 3.4 0.2 -2.4 0.3 0.7 0.2 -0.1 0.2 2.7 0.2 -2.3 0.2 -0.5 0.2 3 0.3 -5.5 0.2 3 0.2 2.1 0.2 -4.1 0.2 3.8 0.2 -2.4 0.3 3.2 0.2 -4.5 0.2 1.2 0.2 0.8 0.2 1.2 0.2 0.5 0.3 -4.2 0.2 2.7 0.2 -2.3 0.2 3.6 0.2 -1.7 0.2 1.9 0.3 -2.6 0.2 4 0.2 -4.6 0.2 3.5 0.2 -2.8 0.2 0.4 0.3 0.4 0.2 -0.1 0.2 -2.9 0.2 4.6 0.2 -0.6 0.3 -3 0.2 0.8 0.2 -1.2 0.2 1.7 0.2 1.3 0.2 -0.7 0.3 -0.8 0.2 -0.5 0.2 0.8 0.2 1.7 0.2 -0.9 0.2 -3.1 0.3 4 0.2 -3.6 0.2 4.6 0.2 -0.8 0.2 1 0.2 -4.1 0.3 2.3 0.2 -0.4 0.2 -2.5 0.2 1.5 0.2 3 0.2 -0.6 0.3 1.1 0.2 -4.1 0.2 1.5 0.2 1.4 0.2 -1.5 0.2 -1.1 0.3 -0.5 0.2 -2.2 0.2 4.8 0.2 -2.6 0.2 -0.2 0.2 1.1 0.3 4.9 0.2 -2.1 0.2 -5.4 0.2 4.5 0.2 -1.7 0.3 1.7 0.2 -4.6 0.2 1.7 0.2 2.9 0.2 0.5 0.2 -3.1 0.3 -0.7 0.2 2.4 0.2 -1.9 0.2 1.1 0.2 0 0.2 -0.1 0.3 2.7 0.2 -1.1 0.2 -1.8 0.2 0.6 0.2 -2.5 0.2 4.7 0.3 -2.9 0.2 -3.4 0.2 3.1 0.2 -0.4 0.2 2 0.2 -0.1 0.3 -1.3 0.2 2.1 0.2 0.6 0.2 0.3 0.2 -0.1 0.2 -3.9 0.3 0.4 0.2 -0.4 0.2 1.4 0.2 -0.2 0.2 2.5 0.2 -1.7 0.3 -1.4 0.2 2.3 0.2 1.7 0.2 -3.7 0.2 2.8 0.3 -3.1 0.2 1.8 0.2 0.5 0.2 -0.1 0.2 -0.2 0.2 -1.8 0.3 0 0.2 -0.5 0.2 1 0.2 0.5 0.2 -0.9 0.2 1.6 0.3 0.6 0.2 -0.9 0.2 0.4 0.2 2.1 0.2 -0.8 0.2 -2.8 0.3 0.8 0.2 0.6 0.2 -1.1 0.2 -0.1 0.2 -1.4 0.2 0.8 0.3 1 0.2 -0.5 0.2 0.2 0.2 3.5 0.2 -5.9 0.2 4.6 0.3 -2.9 0.2 1.9 0.2 0.5 0.2 -3.3 0.2 3.4 0.2 -0.6 0.3 3.3 0.2 -5 0.2 1.8 0.2 0.6 0.2 -2.9 0.3 1.8 0.2 4 0.2 -5.3 0.2 2.8 0.2 -0.4 0.2 0 0.3 1.4 0.2 -1.7 0.2 -0.9 0.2 -1.6 0.2 -0.7 0.2 3.1 0.3 -3.9 0.2 3.2 0.2 -2.6 0.2 1.8 0.2 0.3 0.2 4 0.3 -5.8 0.2 4.5 0.2 -3.6 0.2 3.9 0.2 0.4 0.2 -0.6 0.3 -0.4 0.2 -0.4 0.2 -2.3 0.2 -0.4 0.2 0 0.2 -1 0.3 0.7 0.2 0.3 0.2 0.7 0.2 -2.1 0.2 2.2 0.2 3.2 0.3 -1.8 0.2 -3.5 0.2 2.5 0.2 0.5 0.2 -2.8 0.3 1.7 0.2 0 0.2 0.1 0.2 -2.4 0.2 1.9 0.2 0.3 0.3 -0.2 0.2 1.3 0.2 -0.6 0.2 -3.3 0.2 2.9 0.2 -2 0.3 3.1 0.2 -0.4 0.2 0.6 0.2 -1.3 0.2 -1.7 0.2 2.5 0.3 -0.2 0.2 1.8 0.2 -3.7 0.2 0.1 0.2 1 0.2 -1.6 0.3 0.8 0.2 1.4 0.2 2.4 0.2 -2.4 0.2 1.3 0.2 -2.2 0.3 -0.9 0.2 2.1 0.2 2.2 0.2 -4.6 0.2 0.5 0.2 -0.2 0.3 3.6 0.2 -1.4 0.2 -2.1 0.2 -0.3 0.2 0.3 0.2 4.8 0.3 -6.1 0.2 3.8 0.2 0 0.2 -2.4 0.2 2.1 0.3 0.1 0.2 -1.1 0.2 0.4 0.2 -0.2 0.2 0.7 0.2 1 0.3 -0.9 0.2 -0.3 0.2 0.1 0.2 -1.4 0.2 -2.1 0.2 4.9 0.3 -2.2 0.2 -0.4 0.2 2.4 0.2 -1 0.2 -0.2 0.2 -0.3 0.3 0.3 0.2 0.1 0.2 -2 0.2 3.6 0.2 -3.2 0.2 -0.4 0.3 0.4 0.2 3.2 0.2 0.1 0.2 -1.7 0.2 0.5 0.2 0.2 0.3 -3.4 0.2 3.5 0.2 -2.8 0.2 -0.9 0.2 -0.2 0.2 -0.9 0.3 1.5 0.2 1.4 0.2 2.7 0.2 -2 0.2 0.3 0.3 -3.4 0.2 1.5 0.2 1.2 0.2 2.2 0.2 -0.2 0.2 -1.4 0.3 -1 0.2 -1.1 0.2 0.8 0.2 0.6 0.2 -1.3 0.2 3.2 0.3 -0.7 0.2 0 0.2 -1.3 0.2 -0.6 0.2 1.4 0.2 2.2 0.3 -2.9 0.2 2.1 0.2 -2.7 0.2 4.4 0.2 -6.7 0.2 4.7 0.3 -4.4 0.2 1.7 0.2 -1.2 0.2 0.5 0.2 2.9 0.2 -0.1 0.3 0.3 0.2 0.4 0.2 -3.6 0.2 3.5 0.2 -0.9 0.2 2.4 0.3 -3.5 0.2 2.9 0.2 -6.3 0.2 4 0.2 0.2 0.3 -1 0.2 2 0.2 -0.6 0.2 -0.7 0.2 -0.3 0.2 -0.7 0.3 1 0.2 3.4 0.2 -2.8 0.2 0.7 0.2 -0.7 0.2 -0.9 0.3 0.5 0.2 -3.6 0.2 4 0.2 0.8 0.2 -1.4 0.2 -0.2 0.3 -2.1 0.2 3.4 0.2 -2.1 0.2 0.3 0.2 0.4 0.2 0.1 0.3 -0.2 0.2 2.4 0.2 -1 0.2 -1.4 0.2 -2.1 0.2 1 0.3 1 0.2 0 0.2 -0.1 0.2 -0.3 0.2 -0.6 0.2 3.9 0.3 -1.9 0.2 -4.2 0.2 2.3 0.2 1.7 0.2 0.6 0.3 -1.1 0.2 2.3 0.2 -1 0.2 -2.5 0.2 -0.1 0.2 0.9 0.3 0.2 0.2 0.7 0.2 1.6 0.2 -0.5 0.2 -0.6 0.2 -0.7 0.3 1.5 0.2 -0.1 0.2 -3.8 0.2 2.6 0.2 -1.9 0.2 1.5 0.3 1.3 0.2 -0.8 0.2 1.6 0.2 -3.6 0.2 0.1 0.2 0.1 0.3 0.9 0.2 1 0.2 0.6 0.2 -2.5 0.2 1.5 0.2 0.5 0.3 -0.1 0.2 -0.7 0.2 1 0.2 -1 0.2 -1.3 0.2 -0.2 0.3 2.6 0.2 -1.6 0.2 0.9 0.2 1.4 0.2 0.7 0.3 -3.4 0.2 -2.2 0.2 2.1 0.2 -1.3 0.2 -0.9 0.2 0.7 0.3 3.9 0.2 -1.9 0.2 1.1 0.2 2.2 0.2 -4.3 0.2 2.4 0.3 -3 0.2 2.6 0.2 -0.5 0.2 0.8 0.2 -0.7 0.2 -1.6 0.3 1.1 0.2 -0.1 0.2 0.8 0.2 -1.3 0.2 2.6 0.2 -2 0.3 -0.4 0.2 1.7 0.2 -3 0.2 1.9 0.2 2.4 0.2 -1.8 0.3 -1.4 0.2 0.8 0.2 3 0.2 -3.6 0.2 1.9 0.2 -1.2 0.3 3.7 0.2 -6.3 0.2 0 0.2 2.7 0.2 2.6 0.3 -3.2 0.2 -2.8 0.2 1.4 0.2 -1.9 0.2 6.3 0.2 -4.6 0.3 2.8 0.2 0 0.2 -1.8 0.2 0.9 0.2 2.1 0.2 1.6 0.3 -2.8 0.2 0.7 0.2 -5.3 0.2 5.4 0.2 -3.7 0.2 3.2 0.3 -3.3 0.2 1 0.2 -1.1 0.2 1.7 0.2 -0.8 0.2 1.9 0.3 1.4 0.2 -4.5 0.2 -0.5 0.2 2.2 0.2 -2.6 0.2 5.2 0.3 -1.5 0.2 0.9 0.2 -2 0.2 2.9 0.2 -2.3 0.2 -0.8 0.3 -1.3 0.2 2.1 0.2 -3.3 0.2 5.3 0.2 -2.5 0.3 -2.1 0.2 5.2 0.2 -2 0.2 -0.5 0.2 -1.9 0.2 0.8 0.3 3.1 0.2 -0.8 0.2 -0.4 0.2 -2.2 0.2 -0.9 0.2 2.5 0.3 1.7 0.2 0.6 0.2 -3.3 0.2 -0.9 0.2 2.7 0.2 1.2 0.3 -0.2 0.2 -1.9 0.2 3.2 0.2 -1.8 0.2 -1 0.2 2.9 0.3 -3.6 0.2 2.1 0.2 -3 0.2 4.9 0.2 -5.1 0.2 4.2 0.3 -2.7 0.2 -1 0.2 1.8 0.2 -1 0.2 0.4 0.2 0.3 0.3 -2.4 0.2 3.9 0.2 -3.1 0.2 -1.6 0.2 1.5 0.3 2.8 0.2 -2.1 0.2 -0.5 0.2 -0.2 0.2 4.5 0.2 0.3 0.3 -5.9 0.2 1.3 0.2 0.6 0.2 0.9 0.2 -1.8 0.2 -1 0.3 1.1 0.2 2.5 0.2 -1.6 0.2 -2.9 0.2 3.3 0.2 1.4 0.3 -3.2 0.2 2.6 0.2 -1 0.2 -2.8 0.2 1 0.2 3.5 0.3 -3.1 0.2 -0.4 0.2 -0.6 0.2 2.4 0.2 -0.2 0.2 -2.8 0.3 5.8 0.2 -1.2 0.2 -0.1 0.2 -2.8 0.2 0 0.2 1.1 0.3 -1.5 0.2 2.7 0.2 0.3 0.2 -0.8 0.2 2.7 0.3 -0.9 0.2 -2.6 0.2 0.7 0.2 0.9 0.2 -3 0.2 0.9 0.3 0.8 0.2 0 0.2 -1.7 0.2 -2.1 0.2 5.3 0.2 -1.2 0.3 0.7 0.2 -1.6 0.2 2.6 0.2 -1.6 0.2 -3 0.2 3.1 0.3 1.3 0.2 -2.5 0.2 -0.4 0.2 2.2 0.2 -3.2 0.2 2 0.3 -2 0.2 0.9 0.2 1.3 0.2 0.6 0.2 -1.9 0.2 2.7 0.3 0.9 0.2 -5.2 0.2 4.9 0.2 -1.2 0.2 -0.1 0.2 -0.6 0.3 2.1 0.2 -0.6 0.2 -2.7 0.2 0.6 0.2 3.6 0.3 -4.5 0.2 0.4 0.2 1.3 0.2 1.9 0.2 -4.8 0.2 -1.6 0.3 5.1 0.2 2.3 0.2 -6.9 0.2 3.4 0.2 -0.6 0.2 0.1 0.3 2.2 0.2 -0.8 0.2 0.2 0.2 -1.3 0.2 1.2 0.2 -3 0.3 2.5 0.2 -2.4 0.2 4.3 0.2 -2.2 0.2 -0.3 0.2 1.8 0.3 -2.2 0.2 1 0.2 -3 0.2 0.7 0.2 1.8 0.2 1.1 0.3 -0.9 0.2 -2.2 0.2 1.7 0.2 0.9 0.2 0.4 0.2 2.4 0.3 -4.8 0.2 2.7 0.2 -1.2 0.2 -0.4 0.2 1.8 0.3 -0.7 0.2 -1 0.2 -2 0.2 2.7 0.2 0.1 0.2 -0.2 0.3 0.6 0.2 -2.2 0.2 3.4 0.2 -1.7 0.2 -0.2 0.2 -1.4 0.3 0.6 0.2 1.9 0.2 -0.4 0.2 1.3 0.2 -1.7 0.2 0 0.3 2.2 0.2 -2.8 0.2 -3.5 0.2 3.3 0.2 1.3 0.2 0.2 0.3 -3.1 0.2 2.2 0.2 1 0.2 1.5 0.2 -4.1 0.2 5.4 0.3 -4.4 0.2 1.9 0.2 -3.2 0.2 2.1 0.2 0.7 0.2 -2.9 0.3 4.2 0.2 -3.6 0.2 0.1 0.2 5.2 0.2 -2.2 0.3 -0.1 0.2 -0.8 0.2 -1 0.2 0.6 0.2 -1.4 0.2 1.8 0.3 1.7 0.2 1.5 0.2 -2.1 0.2 -0.6 0.2 0.2 0.2 -2.4 0.3 1.1 0.2 2.6 0.2 -1.4 0.2 -0.6 0.2 -4.8 0.2 2.9 0.3 1.7 0.2 -1.3 0.2 -1 0.2 3.6 0.2 -4.8 0.2 4.4 0.3 -2.8 0.2 -1.6 0.2 2.7 0.2 -1 0.2 2.8 0.2 -3.9 0.3 0.7 0.2 -1.9 0.2 1.7 0.2 2.7 0.2 0.4 0.2 0.1 0.3 -0.2 0.2 -3.4 0.2 4.9 0.2 -0.4 0.2 -0.7 0.3 1.1 0.2 -0.9 0.2 -3.3 0.2 2.4 0.2 -1.1 0.2 0.8 0.3 -1.3 0.2 -1 0.2 0.9 0.2 0.6 0.2 1.5 0.2 0.9 0.3 -2.6 0.2 -0.4 0.2 -0.6 0.2 1.1 0.2 1.7 0.2 0 0.3 -2.3 0.2 1.8 0.2 0.8 0.2 0.8 0.2 -0.9 0.2 -2.7 0.3 0.3 0.2 -1.7 0.2 1.7 0.2 0.3 0.2 -1.3 0.2 -0.2 0.3 2.4 0.2 4.3 0.2 -4.3 0.2 1 0.2 -3.4 0.2 1.7 0.3 1.6 0.2 1.2 0.2 -3.2 0.2 -1 0.2 4.4 0.3 -3.1 0.2 1.8 0.2 -1.6 0.2 -3.2 0.2 5.9 0.2 -3.2 0.3 -2.1 0.2 3.1 0.2 2 0.2 2.4 0.2 -3 0.2 -2 0.3 2.2 0.2 -4 0.2 6.3 0.2 -1.6 0.2 -3.1 0.2 0.7 0.3 -1 0.2 0.4 0.2 2 0.2 -0.5 0.2 -3.2 0.2 2 0.3 -1.6 0.2 1.4 0.2 -1.5 0.2 1.2 0.2 1.5 0.2 1.4 0.3 -3.9 0.2 2.6 0.2 2.1 0.2 -5.1 0.2 1.7 0.2 0.2 0.3 2.4 0.2 -3.3 0.2 1.4 0.2 2 0.2 -1.1 0.3 0.9 0.2 -4.6 0.2 3.4 0.2 -1.5 0.2 -1.4 0.2 -1.3 0.3 4.3 0.2 0.9 0.2 -3.4 0.2 0.2 0.2 -2.9 0.2 4.8 0.3 -3.4 0.2 0.9 0.2 1.6 0.2 5.4 0.2 -5.3 0.2 0.7 0.3 3 0.2 -4.9 0.2 2.7 0.2 0.4 0.2 -1.3 0.2 -2.4 0.3 -1.3 0.2 1.5 0.2 0.9 0.2 0.4 0.2 3.2 0.2 -1 0.3 -1.5 0.2 -0.2 0.2 1.1 0.2 -4 0.2 0.6 0.2 3.5 0.3 -3.1 0.2 1.5 0.2 -3.9 0.2 2.2 0.2 0.5 0.3 0.4 0.2 -0.7 0.2 1.6 0.2 -3.1 0.2 3.3 0.2 2.6 0.3 -2.6 0.2 -1.4 0.2 3.8 0.2 0.3 0.2 -2.3 0.2 -2.6 0.3 0.9 0.2 5.9 0.2 -5.8 0.2 1.9 0.2 0.6 0.2 -1.4 0.3 -4 0.2 6.3 0.2 -1.8 0.2 3.3 0.2 -4.7 0.2 0.4 0.3 0.1 0.2 -0.3 0.2 2.9 0.2 -1.9 0.2 0.2 0.2 1.2 0.3 -2.9 0.2 0.2 0.2 2.8 0.2 -1.8 0.2 -0.7 0.2 0.4 0.3 -0.6 0.2 1 0.2 0.5 0.2 1.8 0.2 -0.8 0.3 -1.6 0.2 0 0.2 2.3 0.2 -1.8 0.2 -1.2 0.2 -1.4 0.3 1.3 0.2 1 0.2 -1.5 0.2 4.1 0.2 -3.1 0.2 1.8 0.3 -4.4 0.2 5 0.2 -3.1 0.2 -2.2 0.2 4.1 0.2 0.4 0.3 -1.1 0.2 0.5 0.2 1.1 0.2 -0.5 0.2 -2.4 0.2 0.2 0.3 2.7 0.2 0.2 0.2 -2.1 0.2 -0.4 0.2 0.5 0.2 -0.1 0.3 -3.1 0.2 1.4 0.2 0.7 0.2 2.2 0.2 -3.9 0.2 3.1 0.3 -0.7 0.2 4.7 0.2 -5.8 0.2 4.4 0.2 -1.8 0.3 -2.9 0.2 2.3 0.2 0.9 0.2 -2.6 0.2 -0.5 0.2 1.3 0.3 -0.8 0.2 3 0.2 -2 0.2 1 0.2 2.6 0.2 -3.8 0.3 1.3 0.2 -0.2 0.2 -0.7 0.2 0.5 0.2 -1.8 0.2 2.3 0.3 -1.9 0.2 1.9 0.2 -1.7 0.2 0.8 0.2 -1.4 0.2 -2.7 0.3 4 0.2 -1.1 0.2 2.7 0.2 -0.8 0.2 -1.3 0.2 -1.5 0.3 3.9 0.2 -1.5 0.2 -2.5 0.2 5.1 0.2 -3.8 0.2 1.2 0.3 -3.5 0.2 3.5 0.2 1.3 0.2 -4.1 0.2 -0.2 0.3 1.8 0.2 -2.4 0.2 3.8 0.2 -0.9 0.2 1.5 0.2 0.3 0.3 -2 0.2 1 0.2 -3.5 0.2 4.2 0.2 -1.5 0.2 4 0.3 -4 0.2 1.2 0.2 0.1 0.2 -1.3 0.2 0.8 0.2 1.4 0.3 -3 0.2 1 0.2 1.2 0.2 -3.6 0.2 2.6 0.2 -1.5 0.3 0 0.2 2 0.2 -1.1 0.2 0.8 0.2 1.2 0.2 -0.8 0.3 -3.6 0.2 2.8 0.2 -2.7 0.2 1.5 0.2 3.8 0.2 -2.2 0.3 -1.5 0.2 1.1 0.2 -0.6 0.2 0.2 0.2 1.7 0.3 -2.8 0.2 -1.6 0.2 3.9 0.2 -0.2 0.2 -0.9 0.2 -1.1 0.3 1.9 0.2 -2.2 0.2 2.3 0.2 0.5 0.2 2.2 0.2 -4 0.3 -0.8 0.2 2.9 0.2 -1.5 0.2 1.4 0.2 0.2 0.2 -4.1 0.3 0.9 0.2 5.1 0.2 -4.7 0.2 0.9 0.2 -2.6 0.2 2.5 0.3 0.2 0.2 1.8 0.2 -1.1 0.2 0.2 0.2 2.1 0.2 -3.9 0.3 2.2 0.2 -1.1 0.2 -0.8 0.2 4.2 0.2 -2.4 0.2 0.7 0.3 -0.3 0.2 1.1 0.2 -2.2 0.2 2.5 0.2 -1.3 0.3 0 0.2 0 0.2 -0.6 0.2 -0.3 0.2 -0.6 0.2 -2.9 0.3 4.5 0.2 -0.8 0.2 0.8 0.2 -4.1 0.2 6 0.2 -1.1 0.3 -3.3 0.2 0.8 0.2 3 0.2 -4.3 0.2 3.6 0.2 -0.1 0.3 -3.9 0.2 0 0.2 0.7 0.2 1.1 0.2 -0.9 0.2 2.6 0.3 -4.6 0.2 6.2 0.2 -4 0.2 -1.2 0.2 3.9 0.2 -1.1 0.3 -1.2 0.2 -2.4 0.2 1.3 0.2 -0.3 0.2 2.1 0.2 -1 0.3 -0.1 0.2 -1.6 0.2 4.8 0.2 -2.5 0.2 0.4 0.3 0.6 0.2 -3.9 0.2 4.4 0.2 -2.2 0.2 0.6 0.2 -0.7 0.3 2.3 0.2 0.8 0.2 -5.6 0.2 1.7 0.2 2.1 0.2 1 0.3 -1.5 0.2 0.3 0.2 0.6 0.2 -2 0.2 0.8 0.2 0.8 0.3 -0.7 0.2 1.5 0.2 -2.1 0.2 0.5 0.2 3.9 0.2 -4.5 0.3 1.9 0.2 -0.5 0.2 -1.4 0.2 1.1 0.2 -0.7 0.2 3 0.3 -4.2 0.2 2.3 0.2 -2.4 0.2 1.7 0.2 -0.1 0.2 -1.6 0.3 0.6 0.2 1.3 0.2 -0.8 0.2 -2.6 0.2 3.3 0.3 0.6 0.2 -1.7 0.2 3.3 0.2 -2.7 0.2 0.9 0.2 -0.9 0.3 4.4 0.2 -5.5 0.2 1.3 0.2 1.7 0.2 -2.9 0.2 2.4 0.3 1.5 0.2 -0.2 0.2 -1.6 0.2 0.3 0.2 -0.6 0.2 0.8 0.3 -1.7 0.2 -0.4 0.2 2.8 0.2 -3.6 0.2 3.5 0.2 -2.8 0.3 -0.2 0.2 1.6 0.2 0.7 0.2 0.9 0.2 -5.1 0.2 5.9 0.3 -2.3 0.2 -0.1 0.2 -2 0.2 0.6 0.2 1.6 0.2 0.8 0.3 -4.7 0.2 3.9 0.2 1 0.2 -4.1 0.2 3.2 0.3 1.5 0.2 -2.9 0.2 1.6 0.2 3.1 0.2 -3.1 0.2 -1.2 0.3 3.2 0.2 -2.3 0.2 -2.3 0.2 2.7 0.2 1.2 0.2 -0.4 0.3 -2.8 0.2 2.2 0.2 -1.6 0.2 0.9 0.2 1.2 0.2 -2.9 0.3 -1.5 0.2 4.8 0.2 -2.3 0.2 -0.1 0.2 0.1 0.2 0.2 0.3 -2.5 0.2 -1.6 0.2 3.8 0.2 0.6 0.2 -1.7 0.2 2.7 0.3 0 0.2 -2.2 0.2 -0.7 0.2 1.2 0.2 -0.4 0.2 4.6 0.3 -2.1 0.2 -1.3 0.2 -1.5 0.2 3.1 0.2 -2.6 0.3 0.8 0.2 -0.9 0.2 1.3 0.2 -2.2 0.2 2.9 0.2 -3.7 0.3 3.3 0.2 -1.6 0.2 2.8 0.2 -0.8 0.2 -1.7 0.2 4.3 0.3 -3.9 0.2 0.1 0.2 -5.5 0.2 5.6 0.2 -3.1 0.2 3.1 0.3 0.8 0.2 -3 0.2 1.2 0.2 -2 0.2 4.8 0.2 0.5 0.3 -4.3 0.2 -0.4 0.2 0.2 0.2 2.1 0.2 -2.1 0.2 1.9 0.3 1 0.2 -0.8 0.2 2.8 0.2 -4.4 0.2 0 0.2 2.8 0.3 1.2 0.2 -3.2 0.2 -1.4 0.2 5.9 0.2 -3.4 0.3 0.6 0.2 -3.5 0.2 -0.2 0.2 4.9 0.2 -1.1 0.2 2 0.3 -3.1 0.2 -0.5 0.2 -1.5 0.2 5.3 0.2 -0.2 0.2 -3.5 0.3 0.1 0.2 1.6 0.2 -1.1 0.2 -0.9 0.2 1.1 0.2 -3.1 0.3 -0.2 0.2 2.2 0.2 1.1 0.2 1.8 0.2 -1.5 0.2 0.2 0.3 4.5 0.2 -5 0.2 -0.8 0.2 0.7 0.2 2.6 0.2 -0.1 0.3 -3.4 0.2 -0.6 0.2 2.9 0.2 1.1 0.2 -1.4 0.2 -1.3 0.3 -3.2 0.2 1.9 0.2 0.7 0.2 1.7 0.2 -0.9 0.3 1.7 0.2 -3.3 0.2 1.2 0.2 1.9 0.2 -1.8 0.2 -2.8 0.3 4.1 0.2 0.7 0.2 -1.3 0.2 -0.5 0.2 -0.7 0.2 0.8 0.3 -1.5 0.2 1.3 0.2 -0.6 0.2 -2.4 0.2 5.1 0.2 -0.3 0.3 -2.1 0.2 2 0.2 -0.6 0.2 -5.3 0.2 5.9 0.2 -0.2 0.3 -2.4 0.2 0.8 0.2 3.1 0.2 -3.5 0.2 -1.9 0.2 2.7 0.3 -1.1 0.2 1 0.2 1.5 0.2 -0.1 0.2 -2.7 0.2 0.4 0.3 3.6 0.2 -4.4 0.2 1 0.2 -0.4 0.2 -0.7 0.3 4.6 0.2 -2.2 0.2 0.5 0.2 0.2 0.2 -1.2 0.2 -1 0.3 1.2 0.2 -3.9 0.2 5.3 0.2 -6.7 0.2 4.5 0.2 -2.9 0.3 2.4 0.2 2.2 0.2 -1.1 0.2 0.7 0.2 -2.2 0.2 0.8 0.3 2.5 0.2 -6.1 0.2 2.3 0.2 4.6 0.2 -1.4 0.2 -0.7 0.3 -1 0.2 0 0.2 1 0.2 -3.7 0.2 5.5 0.2 -3.4 0.3 0.6 0.2 -1.9 0.2 2.9 0.2 -0.6 0.2 -3.5 0.2 2.9 0.3 0.5 0.2 0.3 0.2 0.3 0.2 1.7 0.2 0 0.3 -1.4 0.2 -0.9 0.2 -1.4 0.2 2.1 0.2 0 0.2 -0.7 0.3 1 0.2 -0.9 0.2 -2 0.2 3.3 0.2 0.8 0.2 -1.2 0.3 -1 0.2 1.8 0.2 -3 0.2 -2.3 0.2 1.7 0.2 -0.6 0.3 -0.3 0.2 1.2 0.2 1.2 0.2 -0.1 0.2 2.9 0.2 -0.4 0.3 -1 0.2 0.7 0.2 -0.6 0.2 -2 0.2 0.9 0.2 0.4 0.3 -3.9 0.2 4.2 0.2 -0.6 0.2 -1.9 0.2 2.1 0.2 -2.4 0.3 3.3 0.2 -3.8 0.2 1.8 0.2 3.6 0.2 -2.7 0.3 -1.2 0.2 1.6 0.2 -1.4 0.2 1.5 0.2 -1.7 0.2 1.3 0.3 -2.3 0.2 1 0.2 -0.9 0.2 0.2 0.2 2.3 0.2 -0.3 0.3 -1.1 0.2 -1.4 0.2 1.1 0.2 3.1 0.2 -4.3 0.2 1.5 0.3 -1.6 0.2 3.8 0.2 -0.7 0.2 0.2 0.2 1 0.2 -4.5 0.3 2.8 0.2 1 0.2 0.9 0.2 -1.1 0.2 -2.4 0.2 -0.9 0.3 1 0.2 1.8 0.2 -0.9 0.2 3.3 0.2 -0.6 0.2 -2.1 0.3 -0.8 0.2 0.8 0.2 -0.6 0.2 1.3 0.2 -0.4 0.3 -0.7 0.2 0.8 0.2 0.2 0.2 -0.4 0.2 -3.2 0.2 4.4 0.3 -5.3 0.2 5.1 0.2 -3 0.2 -0.5 0.2 -0.4 0.2 3 0.3 4 0.2 -3 0.2 -2 0.2 -3.6 0.2 4.5 0.2 -1.2 0.3 -0.1 0.2 -2.3 0.2 1.8 0.2 -1.6 0.2 3.9 0.2 1.6 0.3 -2.6 0.2 1.5 0.2 -2.8 0.2 1.3 0.2 -1.7 0.2 3.4 0.3 -0.8 0.2 -0.2 0.2 -2.7 0.2 2.4 0.2 -0.3 0.2 -2.7 0.3 3.6 0.2 -0.3 0.2 -3.5 0.2 6.7 0.2 -5.9 0.3 2.5 0.2 -0.2 0.2 -0.4 0.2 -0.3 0.2 0.5 0.2 -2.6 0.3 6.1 0.2 0.3 0.2 -4.2 0.2 2.8 0.2 -1.9 0.2 0.2 0.3 -0.4 0.2 -1.2 0.2 5 0.2 -2.4 0.2 -4.3 0.2 3.5 0.3 0.2 0.2 -5.6 0.2 4 0.2 2.2 0.2 -2.6 0.2 -0.1 0.3 3 0.2 -3.3 0.2 1.9 0.2 2.8 0.2 -4.7 0.2 0.1 0.3 0.4 0.2 0.1 0.2 1.8 0.2 -0.3 0.2 0.9 0.2 -3.4 0.3 0.8 0.2 -2.2 0.2 2.4 0.2 1.6 0.2 0.3 0.3 0.5 0.2 -0.1 0.2 -6.5 0.2 8.3 0.2 -1.4 0.2 0.8 0.3 -4.4 0.2 1.3 0.2 0.7 0.2 -1.9 0.2 2.2 0.2 -1.4 0.3 -2.2 0.2 3 0.2 0.2 0.2 -1.2 0.2 -0.5 0.2 0 0.3 1.8 0.2 -1.1 0.2 0.5 0.2 -1.6 0.2 2.3 0.2 -0.1 0.3 1.3 0.2 -0.9 0.2 0.3 0.2 -1.7 0.2 -1.6 0.2 2.9 0.3 -4.2 0.2 3.8 0.2 -2.5 0.2 1.1 0.2 2 0.2 -0.8 0.3 2.5 0.2 -3.5 0.2 -2.4 0.2 2.7 0.2 -2.6 0.3 3.1 0.2 0.4 0.2 -0.6 0.2 0.9 0.2 -1.3 0.2 -2.6 0.3 3 0.2 1 0.2 -0.9 0.2 -1.5 0.2 1.8 0.2 2.8 0.3 -1.4 0.2 -4.3 0.2 2.8 0.2 -2.3 0.2 2.2 0.2 1.2 0.3 -1.6 0.2 -1.3 0.2 2.2 0.2 1.8 0.2 -1.7 0.2 0.6 0.3 -3.1 0.2 3.5 0.2 0.2 0.2 0.7 0.2 -2.4 0.2 0.8 0.3 -0.2 0.2 -1.3 0.2 1 0.2 -4.5 0.2 1.2 0.2 4 0.3 -4.3 0.2 3 0.2 -0.5 0.2 2.4 0.2 -2.6 0.3 -1 0.2 0.7 0.2 0.5 0.2 -1.1 0.2 0.6 0.2 3.7 0.3 -2.3 0.2 -1.1 0.2 1.9 0.2 -4.7 0.2 2.7 0.2 0.9 0.3 -0.4 0.2 -0.5 0.2 1.5 0.2 0.5 0.2 1.8 0.2 -4.6 0.3 1.3 0.2 2.6 0.2 -3.9 0.2 1.6 0.2 0.9 0.2 0.7 0.3 -4.8 0.2 1.5 0.2 0.8 0.2 0 0.2 1 0.2 0 0.3 -2.8 0.2 3.6 0.2 0.2 0.2 -2.8 0.2 4.8 0.2 -2.2 0.3 0.4 0.2 -1.1 0.2 2.2 0.2 -1.6 0.2 0 0.3 -1 0.2 -1 0.2 -1.1 0.2 1.9 0.2 1.2 0.2 0.4 0.3 -0.5 0.2 -4.3 0.2 1 0.2 0.6 0.2 0.8 0.2 2.9 0.3 -3.7 0.2 2.2 0.2 1.4 0.2 0.1 0.2 -2.2 0.2 1.6 0.3 -4 0.2 0.6 0.2 0.9 0.2 0.5 0.2 -0.6 0.2 4.9 0.3 -1.1 0.2 -2.5 0.2 0.8 0.2 3 0.2 -4.2 0.2 1.4 0.3 0.9 0.2 -3.2 0.2 -0.5 0.2 3.2 0.2 -1.1 0.2 -0.6 0.3 1 0.2 -0.8 0.2 2.4"/>
<path stroke="#c848c0" d="M78.5 1205.6l0.2 -1.1 0.2 0.1 0.3 -1.7 0.2 1.6 0.2 -0.5 0.2 -0.7 0.2 -0.6 0.2 -0.1 0.3 -1.2 0.2 0.4 0.2 -0.9 0.2 0.7 0.2 -1.6 0.2 0.1 0.3 1 0.2 -2.5 0.2 -0.3 0.2 0.9 0.2 -1.4 0.2 -1.3 0.3 0.6 0.2 -1.7 0.2 0.6 0.2 -1.8 0.2 0.2 0.2 1.6 0.3 -2.8 0.2 -0.5 0.2 -1.4 0.2 -0.1 0.2 -2.2 0.2 -0.3 0.3 -0.8 0.2 -1 0.2 -1.2 0.2 -0.9 0.2 -2.5 0.2 -0.9 0.3 -2.3 0.2 -1.9 0.2 -4.1 0.2 -2.7 0.2 -1 0.3 -2.8 0.2 -1.9 0.2 -2.6 0.2 -4.2 0.2 -4.1 0.2 -0.8 0.3 -4.2 0.2 -1.5 0.2 -5.8 0.2 -3.8 0.2 -1.7 0.2 -3.6 0.3 -4.6 0.2 -2.1 0.2 -2 0.2 -4.4 0.2 -1.6 0.2 -4.7 0.3 -2.6 0.2 -3.5 0.2 -2.2 0.2 -3 0.2 -2.2 0.2 -3.5 0.3 -2.3 0.2 -2.7 0.2 -5.4 0.2 0.5 0.2 -4.8 0.2 -2.6 0.3 -3.3 0.2 -3.6 0.2 -3.1 0.2 -3.9 0.2 -1.1 0.2 -5.2 0.3 -3.2 0.2 -4.9 0.2 -2.7 0.2 -3.6 0.2 -6.9 0.3 -5.7 0.2 -6.5 0.2 -7.6 0.2 -9.3 0.2 -7.6 0.2 -10.6 0.3 -9.4 0.2 -8.9 0.2 -10.4 0.2 -16.2 0.2 -13.1 0.2 -15.1 0.3 -16.8 0.2 -14.8 0.2 -14.1 0.2 -13 0.2 -14.7 0.2 -12.8 0.3 -13.8 0.2 -10.7 0.2 -10.2 0.2 -4.8 0.2 -5.7 0.2 -9.2 0.3 -3.4 0.2 -4.9 0.2 -6.9 0.2 -4.5 0.2 -3.8 0.2 -1.8 0.3 -4.4 0.2 -1 0.2 -2 0.2 -5.9 0.2 -3.6 0.2 -0.8 0.3 -3.8 0.2 -0.8 0.2 -4.5 0.2 2.9 0.2 -2.3 0.3 -1.5 0.2 -2.6 0.2 -1.7 0.2 1.6 0.2 0.2 0.2 0.4 0.3 -0.2 0.2 -5.3 0.2 2.7 0.2 -4.2 0.2 1.8 0.2 -2.3 0.3 -0.5 0.2 -0.3 0.2 -0.9 0.2 2 0.2 -2.1 0.2 1.4 0.3 0.7 0.2 -1.6 0.2 -1.3 0.2 1.6 0.2 -3.6 0.2 3.9 0.3 0.2 0.2 -1 0.2 -3.4 0.2 2.1 0.2 -1.3 0.2 -0.3 0.3 3.2 0.2 -2.3 0.2 -2 0.2 0 0.2 1.4 0.2 -1.1 0.3 0.4 0.2 -1 0.2 4.1 0.2 -1.1 0.2 -4.2 0.3 2.1 0.2 1.9 0.2 -2.8 0.2 0.2 0.2 2 0.2 -2 0.3 0.5 0.2 -1.9 0.2 1.4 0.2 -0.6 0.2 -1.2 0.2 0.9 0.3 1.4 0.2 0.9 0.2 -0.6 0.2 -0.2 0.2 -1.2 0.2 0.2 0.3 0.1 0.2 0.5 0.2 -3.6 0.2 2.4 0.2 2.1 0.2 -2.6 0.3 -1.6 0.2 1.6 0.2 -0.8 0.2 2.3 0.2 -3.2 0.2 0.2 0.3 -0.9 0.2 1.2 0.2 -3.1 0.2 1.8 0.2 -0.3 0.2 -0.2 0.3 4.1 0.2 -3.2 0.2 -0.4 0.2 -0.1 0.2 2.3 0.3 1 0.2 -0.6 0.2 1.2 0.2 -2.9 0.2 1.9 0.2 -1.5 0.3 0.1 0.2 0.4 0.2 1 0.2 -0.1 0.2 -3.5 0.2 4.8 0.3 -3.1 0.2 2.1 0.2 -0.4 0.2 -0.9 0.2 -4 0.2 2.9 0.3 -0.5 0.2 -0.2 0.2 -0.4 0.2 1.1 0.2 -2 0.2 2.1 0.3 1.4 0.2 -0.8 0.2 0 0.2 -2.9 0.2 5.6 0.2 -1.5 0.3 -1.2 0.2 -0.1 0.2 0.5 0.2 1.2 0.2 -1.5 0.2 -0.5 0.3 2.7 0.2 -1.9 0.2 -0.4 0.2 0 0.2 -2.9 0.3 5.1 0.2 -3 0.2 0.1 0.2 3.1 0.2 -4 0.2 3.5 0.3 -2.3 0.2 1.8 0.2 -0.7 0.2 -1.8 0.2 -0.8 0.2 1.6 0.3 -0.2 0.2 0.7 0.2 -2 0.2 0.8 0.2 4.8 0.2 -7 0.3 4.5 0.2 1.6 0.2 -1.3 0.2 -1.2 0.2 0.3 0.2 1.8 0.3 -3.5 0.2 2 0.2 -1.2 0.2 -2.9 0.2 2.6 0.2 4.3 0.3 -1.8 0.2 -1 0.2 -1.7 0.2 -1.2 0.2 3.2 0.2 -0.7 0.3 -1 0.2 -0.7 0.2 -0.7 0.2 -0.1 0.2 3.6 0.3 -2.8 0.2 2.7 0.2 -1.7 0.2 -1.2 0.2 0.2 0.2 1.1 0.3 1.4 0.2 -3 0.2 0.6 0.2 4.6 0.2 -5.9 0.2 0.5 0.3 4.9 0.2 -5.6 0.2 1.1 0.2 0.5 0.2 2.7 0.2 -0.6 0.3 -1.7 0.2 -1 0.2 0.6 0.2 -2.1 0.2 3.6 0.2 1.8 0.3 -0.9 0.2 -2.8 0.2 -0.1 0.2 -0.7 0.2 0.8 0.2 -0.5 0.3 1.1 0.2 -0.7 0.2 -0.6 0.2 0.5 0.2 2.3 0.2 0.8 0.3 -1.7 0.2 -4.5 0.2 3.9 0.2 2.1 0.2 -0.2 0.3 -0.1 0.2 -2.9 0.2 -0.3 0.2 4.2 0.2 -1.1 0.2 -0.1 0.3 3.1 0.2 -3.9 0.2 0.1 0.2 -0.8 0.2 2 0.2 -0.7 0.3 -1.4 0.2 1 0.2 -2.4 0.2 0 0.2 2 0.2 -0.4 0.3 0.5 0.2 -4.2 0.2 5.1 0.2 1.2 0.2 0.9 0.2 -0.5 0.3 -2.8 0.2 0.5 0.2 0.1 0.2 4.8 0.2 -7.7 0.2 1.6 0.3 4.4 0.2 -4 0.2 2.2 0.2 -6 0.2 3.8 0.2 1.8 0.3 1.2 0.2 -4.7 0.2 3.6 0.2 -0.3 0.2 -1.2 0.3 0.5 0.2 2.1 0.2 -3.9 0.2 2.1 0.2 -3 0.2 2.3 0.3 -1.3 0.2 -1.4 0.2 1.6 0.2 1.5 0.2 1.9 0.2 -2.1 0.3 2.3 0.2 -1.7 0.2 0 0.2 -0.8 0.2 -1.8 0.2 0.4 0.3 0.1 0.2 1.3 0.2 -0.2 0.2 2 0.2 -4.3 0.2 3 0.3 -1.4 0.2 0.2 0.2 3.1 0.2 -3.8 0.2 2 0.2 -2 0.3 -1.5 0.2 3.4 0.2 -1.3 0.2 1.6 0.2 -1.4 0.2 0.2 0.3 0.9 0.2 -0.8 0.2 -0.9 0.2 0.4 0.2 -0.6 0.3 0.6 0.2 1.3 0.2 1.6 0.2 -3 0.2 0.5 0.2 -1.6 0.3 2.1 0.2 -1 0.2 0.9 0.2 1.2 0.2 -0.3 0.2 4.8 0.3 -6.1 0.2 2 0.2 -2.6 0.2 -0.7 0.2 2.7 0.2 -0.2 0.3 -1.2 0.2 -0.1 0.2 -1.2 0.2 3.3 0.2 -1.5 0.2 -3.3 0.3 2.9 0.2 -2.9 0.2 2.3 0.2 2 0.2 -2.5 0.2 -0.2 0.3 2.9 0.2 -5.3 0.2 1.6 0.2 0.2 0.2 4.7 0.2 -1.1 0.3 0.1 0.2 -1.2 0.2 -1.6 0.2 -0.8 0.2 0.2 0.3 2.8 0.2 -4.4 0.2 4.3 0.2 0.2 0.2 -0.9 0.2 -3 0.3 7.3 0.2 -6.8 0.2 3.1 0.2 0.4 0.2 3.3 0.2 -4.2 0.3 0.8 0.2 -0.6 0.2 1.3 0.2 -1.5 0.2 1.8 0.2 -2.3 0.3 -1.8 0.2 -1.9 0.2 4.7 0.2 -3.6 0.2 1.6 0.2 -1.6 0.3 4.9 0.2 0.6 0.2 -1.8 0.2 -1.7 0.2 -0.6 0.2 5.6 0.3 -4.8 0.2 -2.4 0.2 3.5 0.2 -2.4 0.2 3.4 0.2 -2.3 0.3 2.1 0.2 -0.7 0.2 2.2 0.2 -4.8 0.2 -1.8 0.3 4.7 0.2 -1.4 0.2 1.3 0.2 -0.5 0.2 -0.8 0.2 0.1 0.3 0.3 0.2 -0.4 0.2 -0.9 0.2 -2.7 0.2 2.7 0.2 0.2 0.3 2.2 0.2 0 0.2 -1.3 0.2 0.2 0.2 -0.4 0.2 1.5 0.3 -1.1 0.2 0.5 0.2 -0.8 0.2 0.3 0.2 -1.1 0.2 -0.1 0.3 1.8 0.2 -2.5 0.2 1 0.2 -1.9 0.2 6.5 0.2 -2.8 0.3 0 0.2 -3.8 0.2 2 0.2 -0.4 0.2 0.8 0.2 1 0.3 -0.2 0.2 -0.6 0.2 3.6 0.2 -2.6 0.2 0.5 0.3 -1.2 0.2 0.6 0.2 1.4 0.2 -0.8 0.2 1.2 0.2 -1.4 0.3 -2.7 0.2 2.7 0.2 -3.8 0.2 5.4 0.2 -4.3 0.2 2.5 0.3 -2.5 0.2 3.2 0.2 -2.6 0.2 -1.9 0.2 4.2 0.2 -2.7 0.3 -0.6 0.2 4.4 0.2 -2.7 0.2 0.5 0.2 1.7 0.2 -3 0.3 0.1 0.2 0.4 0.2 1.8 0.2 -1.1 0.2 0.1 0.2 -0.7 0.3 -1.1 0.2 2.4 0.2 0.3 0.2 -3.6 0.2 1.4 0.2 3.3 0.3 -4.2 0.2 -0.5 0.2 -0.1 0.2 1.1 0.2 2.6 0.3 -0.4 0.2 -1.6 0.2 -0.2 0.2 2 0.2 -1.8 0.2 0.2 0.3 2.9 0.2 -1.6 0.2 -4.5 0.2 5.5 0.2 -1.9 0.2 1.9 0.3 -1.2 0.2 -0.5 0.2 1.5 0.2 -2.7 0.2 -1.2 0.2 1.3 0.3 4.4 0.2 -3.1 0.2 0.5 0.2 -0.7 0.2 -1.9 0.2 4 0.3 -3.3 0.2 2.2 0.2 -1.9 0.2 0.7 0.2 0 0.2 -1.3 0.3 -0.9 0.2 4.8 0.2 -2.6 0.2 4.3 0.2 -3.2 0.2 -3.1 0.3 4.2 0.2 -1 0.2 0.3 0.2 -0.4 0.2 -1.8 0.3 0 0.2 2.3 0.2 0.6 0.2 -1.7 0.2 -1.5 0.2 0.6 0.3 -1.4 0.2 1 0.2 1.3 0.2 -1.1 0.2 2.6 0.2 -4 0.3 3 0.2 0.2 0.2 -0.3 0.2 -1.7 0.2 1.7 0.2 2.4 0.3 -6.1 0.2 3.7 0.2 2.4 0.2 0.3 0.2 -3 0.2 2.6 0.3 -1.7 0.2 1.6 0.2 -2.1 0.2 -0.9 0.2 3.1 0.2 -5.6 0.3 4.3 0.2 -2 0.2 -2.5 0.2 1.7 0.2 -0.2 0.2 4 0.3 0.2 0.2 -2.8 0.2 -0.4 0.2 -1.1 0.2 0.7 0.3 0.7 0.2 0.5 0.2 0.2 0.2 -0.5 0.2 2.2 0.2 -1.4 0.3 -1.1 0.2 -0.7 0.2 1.2 0.2 -1.6 0.2 -0.1 0.2 0 0.3 0.9 0.2 1.2 0.2 -2.5 0.2 0.6 0.2 1.8 0.2 -2 0.3 -0.4 0.2 1.6 0.2 0 0.2 2.4 0.2 -1.4 0.2 -1.5 0.3 -0.1 0.2 2.5 0.2 -4.5 0.2 2.8 0.2 0.1 0.2 1.6 0.3 -2.5 0.2 2.6 0.2 -2.9 0.2 2 0.2 -1.8 0.2 3.6 0.3 -3 0.2 -1.2 0.2 1.4 0.2 -1.1 0.2 1.6 0.3 -3.3 0.2 3 0.2 1.7 0.2 1.6 0.2 -6.1 0.2 4 0.3 -3 0.2 3.6 0.2 -0.4 0.2 -4.1 0.2 4.2 0.2 -2.6 0.3 3 0.2 0.2 0.2 -1.9 0.2 0.7 0.2 0.7 0.2 -2.4 0.3 3.2 0.2 -3.8 0.2 1 0.2 3 0.2 -3.6 0.2 0.5 0.3 -3.3 0.2 2.3 0.2 0.2 0.2 -1.5 0.2 5.9 0.2 -1 0.3 -0.4 0.2 0.4 0.2 -3.3 0.2 0.5 0.2 -3.6 0.2 6 0.3 -0.3 0.2 -2.6 0.2 0.6 0.2 -0.1 0.2 1.6 0.3 -2.3 0.2 0.7 0.2 1.2 0.2 -2.1 0.2 4.4 0.2 -4.3 0.3 -1.7 0.2 4.1 0.2 -4.8 0.2 2.2 0.2 2.3 0.2 -2.8 0.3 4.1 0.2 -0.1 0.2 -1.2 0.2 -1.6 0.2 2.2 0.2 0.1 0.3 0.1 0.2 -4.6 0.2 1.8 0.2 3.7 0.2 -0.3 0.2 -2.6 0.3 -1.9 0.2 2.7 0.2 -3.1 0.2 1.4 0.2 2.9 0.2 -0.2 0.3 -2.5 0.2 -0.1 0.2 2 0.2 -0.7 0.2 1.9 0.2 -3.2 0.3 -0.6 0.2 1.7 0.2 -1.3 0.2 -0.7 0.2 3.1 0.3 -3.5 0.2 3.4 0.2 -2.5 0.2 1.1 0.2 0.3 0.2 -0.6 0.3 -2.5 0.2 3.6 0.2 -1.5 0.2 -1.3 0.2 0.2 0.2 1.5 0.3 1.2 0.2 -1.8 0.2 1.2 0.2 0.7 0.2 -2.3 0.2 -0.9 0.3 1.5 0.2 1.3 0.2 0.7 0.2 -2.7 0.2 0.7 0.2 0.2 0.3 1.2 0.2 0.3 0.2 1.8 0.2 -3.6 0.2 2.1 0.2 1.7 0.3 -1.2 0.2 1 0.2 0 0.2 -4.1 0.2 2 0.2 1 0.3 -0.3 0.2 1.1 0.2 -0.1 0.2 -2.6 0.2 1.3 0.3 -0.2 0.2 2.8 0.2 -1.5 0.2 -3.6 0.2 2.4 0.2 -1.5 0.3 2 0.2 -2.8 0.2 0.4 0.2 -0.3 0.2 1.1 0.2 1.8 0.3 -0.7 0.2 -0.5 0.2 0.1 0.2 0.8 0.2 0.3 0.2 -0.8 0.3 0.2 0.2 -2.3 0.2 1.3 0.2 -3.4 0.2 2.5 0.2 2.6 0.3 -1.1 0.2 -1.7 0.2 -2 0.2 4.4 0.2 -0.8 0.2 -0.7 0.3 0.1 0.2 2.5 0.2 -3.1 0.2 0.5 0.2 -2.2 0.2 3 0.3 -3.3 0.2 1.8 0.2 0.1 0.2 1 0.2 1.9 0.3 1.7 0.2 -2.7 0.2 2.7 0.2 -3.7 0.2 2.2 0.2 0.8 0.3 -5.3 0.2 0.1 0.2 -0.4 0.2 3.6 0.2 0.2 0.2 -1.1 0.3 -0.4 0.2 -1.5 0.2 2.1 0.2 0.6 0.2 -0.6 0.2 2.3 0.3 -3.4 0.2 1.6 0.2 -3.9 0.2 4.1 0.2 -1.2 0.2 1.5 0.3 -2.8 0.2 -1.7 0.2 -0.9 0.2 5 0.2 -3.3 0.2 0.8 0.3 -0.5 0.2 1.8 0.2 -0.3 0.2 0.2 0.2 2 0.2 -1.8 0.3 -2.6 0.2 5 0.2 -3.8 0.2 3.2 0.2 -1.8 0.3 -2.5 0.2 4.7 0.2 -4.4 0.2 5.5 0.2 -5.9 0.2 3.8 0.3 -7 0.2 6.5 0.2 1.4 0.2 -0.1 0.2 -1.7 0.2 1.2 0.3 -1.5 0.2 1.6 0.2 -3.4 0.2 -1.5 0.2 4.8 0.2 -2.8 0.3 1.4 0.2 -1.2 0.2 -0.4 0.2 1.5 0.2 0.7 0.2 3.5 0.3 -8 0.2 6.4 0.2 -4.5 0.2 2.7 0.2 -1.5 0.2 3 0.3 -3.3 0.2 2.3 0.2 0.1 0.2 -0.3 0.2 -1 0.2 1.8 0.3 -1.4 0.2 1.7 0.2 -3.8 0.2 3.5 0.2 -2.8 0.3 2.2 0.2 0.6 0.2 -0.5 0.2 -1.4 0.2 -0.6 0.2 -1 0.3 1.8 0.2 -1.3 0.2 2.8 0.2 2.3 0.2 -5.7 0.2 1.9 0.3 -0.8 0.2 3.9 0.2 -3.3 0.2 0 0.2 -1.8 0.2 3.7 0.3 -2.3 0.2 0.8 0.2 -0.5 0.2 -1.8 0.2 1.9 0.2 -0.9 0.3 0.6 0.2 0.4 0.2 0.2 0.2 0.3 0.2 -0.5 0.2 0 0.3 0 0.2 1.5 0.2 1.1 0.2 -1.4 0.2 1.8 0.2 -5.5 0.3 4.7 0.2 -1 0.2 -2 0.2 1.9 0.2 -0.9 0.3 -1.7 0.2 3.1 0.2 -4.2 0.2 4.4 0.2 -2.8 0.2 2.8 0.3 -0.4 0.2 1.8 0.2 -4.7 0.2 1 0.2 3.5 0.2 -5.4 0.3 4.3 0.2 -1 0.2 0.8 0.2 1.8 0.2 -7.4 0.2 5.8 0.3 0 0.2 -3.6 0.2 2.5 0.2 1.5 0.2 -3.7 0.2 -2.8 0.3 3.5 0.2 2.6 0.2 -0.1 0.2 -0.1 0.2 0.8 0.2 -0.6 0.3 -0.8 0.2 -0.4 0.2 -0.5 0.2 -3.1 0.2 5.9 0.2 -3.1 0.3 0.2 0.2 2.8 0.2 -5.7 0.2 1.4 0.2 5.1 0.3 -6.6 0.2 5.4 0.2 -3.1 0.2 -1.8 0.2 3.2 0.2 -2.1 0.3 3.9 0.2 -0.8 0.2 -0.1 0.2 -1.1 0.2 -3.3 0.2 0.1 0.3 5 0.2 0.7 0.2 -2.9 0.2 2 0.2 0.5 0.2 -1.9 0.3 -1.2 0.2 1.4 0.2 0 0.2 0.3 0.2 -2.1 0.2 -0.7 0.3 1.4 0.2 1.7 0.2 -1.6 0.2 1 0.2 1.7 0.2 -2.3 0.3 -0.4 0.2 -1 0.2 0.1 0.2 1.8 0.2 0.7 0.2 -1.9 0.3 -1.7 0.2 2 0.2 -0.3 0.2 2.5 0.2 0.6 0.3 -2.3 0.2 1.2 0.2 3 0.2 -4.7 0.2 -1.3 0.2 -1.6 0.3 4.5 0.2 0.2 0.2 -0.8 0.2 0.8 0.2 -3.6 0.2 1.3 0.3 2.8 0.2 -3.1 0.2 1.2 0.2 -0.4 0.2 3 0.2 1.6 0.3 -5 0.2 1.8 0.2 -1 0.2 -0.3 0.2 0.7 0.2 -3.3 0.3 1.8 0.2 5.1 0.2 -3.8 0.2 -1.2 0.2 0.4 0.2 0.2 0.3 1.6 0.2 -1.1 0.2 -0.1 0.2 -1.4 0.2 1.2 0.2 0.4 0.3 -0.7 0.2 1.2 0.2 -2.5 0.2 2.3 0.2 -3.7 0.3 3.9 0.2 -1.5 0.2 0.9 0.2 -2.1 0.2 0.5 0.2 2.8 0.3 -4.8 0.2 0.7 0.2 1.4 0.2 1.3 0.2 2.1 0.2 -3.8 0.3 2.2 0.2 -1.4 0.2 4.3 0.2 -2.8 0.2 -2.9 0.2 0.1 0.3 1.4 0.2 -1.1 0.2 3 0.2 -4.6 0.2 3.9 0.2 0.9 0.3 -0.6 0.2 -1.9 0.2 -0.5 0.2 3.6 0.2 -3.1 0.2 -0.8 0.3 -0.3 0.2 1.9 0.2 -0.7 0.2 3.3 0.2 -0.1 0.2 -5.8 0.3 3 0.2 0.7 0.2 -2.8 0.2 2.6 0.2 0.4 0.3 -1.8 0.2 -0.6 0.2 5.5 0.2 -0.1 0.2 -4.9 0.2 -0.2 0.3 4.1 0.2 -2.6 0.2 -2 0.2 0.6 0.2 1 0.2 -2.4 0.3 4.1 0.2 -1.5 0.2 -0.1 0.2 1.5 0.2 -0.2 0.2 -2.2 0.3 0.4 0.2 0.3 0.2 3.6 0.2 -5.5 0.2 1.8 0.2 0.3 0.3 0.3 0.2 -1.9 0.2 2.9 0.2 -0.7 0.2 0.8 0.2 -3.3 0.3 -0.2 0.2 3.1 0.2 -4.5 0.2 5.2 0.2 -1 0.2 -0.8 0.3 2 0.2 -1.2 0.2 1.5 0.2 -0.6 0.2 -1.5 0.3 -1.6 0.2 3.5 0.2 1.8 0.2 -1.4 0.2 0.7 0.2 -2.2 0.3 -1.5 0.2 -0.4 0.2 3.9 0.2 -5.8 0.2 5.5 0.2 -2 0.3 -0.3 0.2 1.8 0.2 -2.9 0.2 2.8 0.2 -1.2 0.2 1.4 0.3 -0.3 0.2 -1.3 0.2 0.8 0.2 -0.3 0.2 -1.2 0.2 2.7 0.3 -1.5 0.2 2.4 0.2 -4.1 0.2 1.5 0.2 -1.7 0.2 2 0.3 -0.5 0.2 0.3 0.2 0.5 0.2 0.5 0.2 -3.7 0.2 1.7 0.3 0.8 0.2 -0.7 0.2 0.6 0.2 -3.6 0.2 1.1 0.3 2.4 0.2 1.4 0.2 -4.4 0.2 5.6 0.2 -2.6 0.2 -1.1 0.3 -0.4 0.2 3.7 0.2 -2.1 0.2 1.1 0.2 -1.2 0.2 1.7 0.3 -2.1 0.2 1.4 0.2 -1.3 0.2 2.1 0.2 -0.7 0.2 0.7 0.3 -3.7 0.2 2.3 0.2 -1.1 0.2 2.5 0.2 -2.5 0.2 1.5 0.3 -1.6 0.2 1.6 0.2 3 0.2 -5.1 0.2 4.8 0.2 -4.4 0.3 0.7 0.2 -3 0.2 4.5 0.2 -4.6 0.2 1 0.2 1.3 0.3 -2 0.2 3.9 0.2 0.1 0.2 0.6 0.2 -2.1 0.3 1.9 0.2 -5.2 0.2 1.5 0.2 -0.2 0.2 3.3 0.2 0.9 0.3 0.7 0.2 -0.6 0.2 -3.6 0.2 2.3 0.2 -1.2 0.2 1.2 0.3 2 0.2 -4.8 0.2 3.3 0.2 -1.2 0.2 0.1 0.2 0.9 0.3 -1.7 0.2 2.7 0.2 -3.9 0.2 1.4 0.2 0.9 0.2 0 0.3 0.6 0.2 -1.7 0.2 -1.8 0.2 0.6 0.2 2.2 0.2 0.2 0.3 -2.9 0.2 1.2 0.2 -0.4 0.2 -0.4 0.2 1.6 0.2 -0.7 0.3 2.4 0.2 -0.2 0.2 -1.4 0.2 2.2 0.2 -0.4 0.3 -2.1 0.2 1.7 0.2 -0.3 0.2 -3.8 0.2 5 0.2 -3 0.3 -0.2 0.2 -0.4 0.2 -0.9 0.2 0.6 0.2 0.5 0.2 3.6 0.3 -0.8 0.2 -2.5 0.2 5 0.2 -5.5 0.2 0 0.2 -1.1 0.3 3.4 0.2 -2.5 0.2 4.6 0.2 -1.3 0.2 -1.3 0.2 -2.9 0.3 3.5 0.2 -1.4 0.2 -0.7 0.2 3.2 0.2 -0.9 0.2 2.3 0.3 -7.5 0.2 2.2 0.2 2.3 0.2 0.7 0.2 -1.4 0.2 -2.9 0.3 5.4 0.2 -0.8 0.2 1.6 0.2 -4.2 0.2 -0.2 0.3 2.5 0.2 0.7 0.2 -2.7 0.2 -1.5 0.2 0.9 0.2 1 0.3 0.5 0.2 -2.3 0.2 3.8 0.2 -1.9 0.2 -0.6 0.2 0 0.3 1.4 0.2 0.5 0.2 -1.8 0.2 0 0.2 1.6 0.2 -0.2 0.3 -0.7 0.2 -0.7 0.2 0.7 0.2 -0.4 0.2 2.3 0.2 -1.8 0.3 1.2 0.2 -2.6 0.2 -1.7 0.2 3.8 0.2 -4.4 0.2 4.7 0.3 -1 0.2 0.7 0.2 -0.3 0.2 -0.9 0.2 -0.9 0.2 0.7 0.3 0.8 0.2 -2.2 0.2 1.4 0.2 0.1 0.2 0 0.3 -2.1 0.2 2.5 0.2 0.6 0.2 -0.3 0.2 -1.3 0.2 -1.3 0.3 -0.1 0.2 5.9 0.2 -4.5 0.2 1.2 0.2 -0.7 0.2 -0.5 0.3 4.2 0.2 -3.4 0.2 1.7 0.2 -4.9 0.2 4.1 0.2 0.3 0.3 0.5 0.2 -1 0.2 -2.7 0.2 2 0.2 -1.2 0.2 1.6 0.3 -2 0.2 3.9 0.2 -3.4 0.2 1.7 0.2 -4 0.2 4.6 0.3 -2.4 0.2 3.9 0.2 -2.2 0.2 0.3 0.2 1.3 0.2 0.4 0.3 -1.2 0.2 0.6 0.2 0.6 0.2 -4.2 0.2 3.6 0.3 1.3 0.2 -1.6 0.2 -2.8 0.2 4.3 0.2 -3.6 0.2 5.3 0.3 -4 0.2 0.6 0.2 -1.2 0.2 -1.1 0.2 0.8 0.2 4.1 0.3 -3.9 0.2 1.5 0.2 -0.7 0.2 1 0.2 -0.4 0.2 -2.7 0.3 0.4 0.2 1.7 0.2 2.1 0.2 -1.1 0.2 -1.3 0.2 0.8 0.3 -2.6 0.2 2.6 0.2 0.7 0.2 -2.4 0.2 1 0.2 3.1 0.3 -2.6 0.2 -1.2 0.2 -1.4 0.2 5.6 0.2 -3.7 0.2 0.8 0.3 -0.3 0.2 1.5 0.2 -2.7 0.2 0.5 0.2 2.4 0.3 -1.1 0.2 -4.8 0.2 6.1 0.2 0.5 0.2 -2.1 0.2 -2.4 0.3 1.2 0.2 1.5 0.2 -1.9 0.2 1.3 0.2 -1 0.2 -1.8 0.3 4.3 0.2 -2.1 0.2 2.4 0.2 0.7 0.2 -1.1 0.2 -3.3 0.3 -2.4 0.2 0.6 0.2 3.9 0.2 -2.4 0.2 1.2 0.2 -2.4 0.3 2.4 0.2 0.6 0.2 -1 0.2 -1.3 0.2 3.3 0.2 -2.1 0.3 2.6 0.2 -4.7 0.2 4.5 0.2 -1.3 0.2 -1.7 0.2 -0.1 0.3 2.2 0.2 -0.6 0.2 2 0.2 3.6 0.2 -1.9 0.2 -3.5 0.3 -0.9 0.2 4.8 0.2 -2.7 0.2 -0.4 0.2 2.7 0.3 -3.1 0.2 -0.8 0.2 -0.7 0.2 1 0.2 0.9 0.2 -3 0.3 3.1 0.2 1 0.2 -1.6 0.2 0.7 0.2 -1.9 0.2 1.2 0.3 -3.6 0.2 1.5 0.2 2.3 0.2 -0.1 0.2 0.6 0.2 -1.9 0.3 0.8 0.2 -1.1 0.2 1.8 0.2 -1 0.2 0 0.2 2.1 0.3 -5.4 0.2 4 0.2 -0.4 0.2 -0.3 0.2 2.4 0.2 -4.3 0.3 2.9 0.2 -2.1 0.2 -0.7 0.2 2.2 0.2 -1.9 0.2 0.6 0.3 2.4 0.2 -2.8 0.2 2.4 0.2 -2.2 0.2 2.7 0.3 -1.5 0.2 1.8 0.2 -2.8 0.2 0.2 0.2 1.2 0.2 1.8 0.3 1.8 0.2 -6 0.2 2.7 0.2 1.9 0.2 -2.3 0.2 0.1 0.3 -0.8 0.2 4.3 0.2 -3.2 0.2 -1.6 0.2 -0.9 0.2 1.3 0.3 0.8 0.2 -1.3 0.2 1.1 0.2 3.3 0.2 -3.5 0.2 2.4 0.3 -5.6 0.2 2.9 0.2 -1.5 0.2 -0.3 0.2 3.5 0.2 -0.1 0.3 -2.7 0.2 1.1 0.2 1.9 0.2 0 0.2 -2.7 0.2 -1.7 0.3 2.6 0.2 1 0.2 -0.3 0.2 2.7 0.2 -3.6 0.3 -0.7 0.2 3.6 0.2 -2.8 0.2 -0.3 0.2 -0.4 0.2 1.1 0.3 0.9 0.2 -2.4 0.2 3.1 0.2 -3.3 0.2 2 0.2 -0.8 0.3 -0.4 0.2 1.5 0.2 -2.5 0.2 3.9 0.2 -2.7 0.2 2.6 0.3 -4 0.2 2.9 0.2 -2.2 0.2 4.1 0.2 -5.1 0.2 5.4 0.3 0.5 0.2 -0.1 0.2 -4.1 0.2 0.7 0.2 1 0.2 0.9 0.3 -1.9 0.2 -1.7 0.2 2 0.2 2.3 0.2 -4.9 0.2 1.5 0.3 -0.1 0.2 2.5 0.2 0.3 0.2 -2.2 0.2 2.3 0.3 -3.8 0.2 2.5 0.2 -3.6 0.2 1.5 0.2 1.9 0.2 -2 0.3 -0.7 0.2 5.3 0.2 -4.6 0.2 0.7 0.2 4.9 0.2 -2.9 0.3 -0.9 0.2 -2.3 0.2 2.2 0.2 0.9 0.2 2 0.2 -1.9 0.3 -1.1 0.2 1.6 0.2 -0.3 0.2 -2.2 0.2 0.4 0.2 -0.2 0.3 0.8 0.2 -1.7 0.2 3.9 0.2 0.7 0.2 -7.3 0.2 2.9 0.3 3.6 0.2 1.4 0.2 -7.1 0.2 4.3 0.2 -1.2 0.2 -5 0.3 6.7 0.2 2.2 0.2 -5 0.2 2.9 0.2 -6.2 0.3 6.1 0.2 -0.6 0.2 0 0.2 -0.6 0.2 0.6 0.2 0.6 0.3 -1.5 0.2 2.5 0.2 0.3 0.2 -2.1 0.2 0.4 0.2 -2.7 0.3 -0.4 0.2 -0.9 0.2 -1.2 0.2 6 0.2 -1 0.2 -2.2 0.3 -0.2 0.2 -1.5 0.2 3.8 0.2 0.8 0.2 -3.4 0.2 0.5 0.3 3.1 0.2 -1.7 0.2 1.5 0.2 -2.8 0.2 0.9 0.2 0.7 0.3 1.6 0.2 0.1 0.2 -2.6 0.2 3.6 0.2 -0.7 0.2 -3.5 0.3 -0.4 0.2 1 0.2 2 0.2 1 0.2 -2.6 0.3 0.9 0.2 0.6 0.2 -2.3 0.2 0.1 0.2 5.2 0.2 -9.6 0.3 4.9 0.2 0.8 0.2 -0.1 0.2 -2.6 0.2 1.3 0.2 1.3 0.3 0.3 0.2 -1.7 0.2 -2.6 0.2 2.4 0.2 -0.7 0.2 1.3 0.3 -1 0.2 0.5 0.2 -1.3 0.2 0.2 0.2 4 0.2 0.2 0.3 -2.3 0.2 2.9 0.2 -3.2 0.2 1.5 0.2 0.9 0.2 1.2 0.3 -0.9 0.2 0.2 0.2 -6 0.2 2.6 0.2 -1.2 0.2 2.1 0.3 -0.1 0.2 0.7 0.2 -1.8 0.2 1.2 0.2 0.8 0.3 1 0.2 1.3 0.2 -0.2 0.2 -4.1 0.2 2.8 0.2 -3.3 0.3 5.4 0.2 -3.9 0.2 -1.7 0.2 5.4 0.2 -0.5 0.2 -2.9 0.3 -0.4 0.2 -0.1 0.2 1.9 0.2 -2.2 0.2 -0.3 0.2 5.7 0.3 -2.3 0.2 -1.4 0.2 0.7 0.2 -0.3 0.2 -1.5 0.2 3.5 0.3 -2.7 0.2 -3.3 0.2 2 0.2 1.2 0.2 0.1 0.2 -2.4 0.3 0.7 0.2 -0.1 0.2 3.1 0.2 -0.9 0.2 -0.1 0.2 0.2 0.3 -1.1 0.2 -0.3 0.2 -1.1 0.2 2.6 0.2 1.2 0.3 -3 0.2 1.6 0.2 0.3 0.2 0.7 0.2 0.9 0.2 -2.1 0.3 1.7 0.2 -1.3 0.2 -1.1 0.2 -2.4 0.2 3 0.2 0.5 0.3 -1.6 0.2 -1.7 0.2 3.3 0.2 -1.4 0.2 -1 0.2 3.3 0.3 0.5 0.2 -3.1 0.2 2.9 0.2 1.5 0.2 -2.1 0.2 -2.4 0.3 0.2 0.2 2.7 0.2 -3.8 0.2 2.7 0.2 -1.7 0.2 2.8 0.3 -3.3 0.2 -2.5 0.2 5 0.2 1 0.2 -1.7 0.2 -1 0.3 -1.3 0.2 2 0.2 -0.7 0.2 0.6 0.2 1.9 0.3 -4.2 0.2 2.3 0.2 -3.4 0.2 4.8 0.2 -0.5 0.2 -2 0.3 -0.5 0.2 -0.9 0.2 -0.1 0.2 0.7 0.2 4.3 0.2 -7 0.3 3.7 0.2 2.1 0.2 -1.9 0.2 2.4 0.2 -4.2 0.2 1.6 0.3 -0.2 0.2 1.3 0.2 -2.2 0.2 0.8 0.2 2.2 0.2 -1.1 0.3 -0.9 0.2 3 0.2 -4.4 0.2 3.1 0.2 -1.6 0.2 -0.1 0.3 3.2 0.2 -2.8 0.2 3 0.2 -3.2 0.2 1.8 0.2 -1.9 0.3 2.2 0.2 0.9 0.2 -3.2 0.2 4.5 0.2 -2.4 0.3 -0.8 0.2 -1.7 0.2 0 0.2 1.2 0.2 1.4 0.2 0.4 0.3 0.7 0.2 -2.7 0.2 4.4 0.2 -2.7 0.2 -2.8 0.2 0.2 0.3 -1.3 0.2 0.8 0.2 2.8 0.2 -1.6 0.2 5.6 0.2 -4.5 0.3 -1.2 0.2 2.1 0.2 -1.6 0.2 -1.6 0.2 2.7 0.2 -2.6 0.3 3 0.2 -3.5 0.2 1.3 0.2 3.3 0.2 -1.8 0.2 -1.5 0.3 3.4 0.2 -2 0.2 -5 0.2 4.2 0.2 -3.1 0.2 5.8 0.3 0.4 0.2 -2.9 0.2 1 0.2 -2.9 0.2 6.2 0.3 -3.7 0.2 -1.1 0.2 -0.7 0.2 0.5 0.2 2 0.2 -1.6 0.3 0.9 0.2 0.3 0.2 -1.4 0.2 1.1 0.2 1 0.2 -0.7 0.3 -1.4 0.2 -1.6 0.2 1.3 0.2 3.3 0.2 -1.1 0.2 -5 0.3 3.7 0.2 -1.3 0.2 0.9 0.2 2.8 0.2 -2 0.2 1 0.3 -2.4 0.2 0.4 0.2 3.3 0.2 -2.8 0.2 -0.1 0.2 0 0.3 -1.4 0.2 0.4 0.2 -1.7 0.2 5.9 0.2 -4.6 0.2 -1.7 0.3 4 0.2 -1.7 0.2 1.3 0.2 2.5 0.2 -5 0.3 3.5 0.2 -1.5 0.2 0.5 0.2 0.1 0.2 1 0.2 1.5 0.3 -3.9 0.2 0.9 0.2 -2.4 0.2 3.2 0.2 -2.9 0.2 2.7 0.3 3.8 0.2 -4.3 0.2 -1 0.2 0.7 0.2 -2.4 0.2 1.9 0.3 1.8 0.2 2 0.2 -0.7 0.2 -3.2 0.2 3.2 0.2 -1.9 0.3 -1.8 0.2 -0.7 0.2 -0.1 0.2 3.1 0.2 -1.9 0.2 -1 0.3 2.5 0.2 0.4 0.2 0 0.2 -0.6 0.2 0.9 0.2 -5.8 0.3 4.9 0.2 -1.4 0.2 1.7 0.2 -2 0.2 -3.8 0.3 4.2 0.2 -3.1 0.2 3.3 0.2 -0.4 0.2 -0.3 0.2 -1.4 0.3 3.7 0.2 0.2 0.2 -1.9 0.2 -1 0.2 2.3 0.2 -1 0.3 -0.5 0.2 -0.6 0.2 1 0.2 4.2 0.2 -4.4 0.2 -1 0.3 3.3 0.2 -3.5 0.2 2.2 0.2 -0.4 0.2 2.2 0.2 -5.9 0.3 -1.2 0.2 4.6 0.2 3.1 0.2 -0.7 0.2 -1.2 0.2 -0.6 0.3 0.4 0.2 -2.2 0.2 2.6 0.2 -1.2 0.2 -0.6 0.2 -0.3 0.3 2.7 0.2 -3.5 0.2 4.4 0.2 -3.2 0.2 2.8 0.3 -1.5 0.2 -1.5 0.2 1.3 0.2 -3.3 0.2 4.8 0.2 1 0.3 -0.6 0.2 -4.3 0.2 3.7 0.2 -4.6 0.2 3.6 0.2 2.2 0.3 -1 0.2 -2.3 0.2 1.6 0.2 1.2 0.2 -3 0.2 -0.9 0.3 2.9 0.2 -0.4 0.2 -2.7 0.2 1.2 0.2 1 0.2 -0.7 0.3 -2.6 0.2 1 0.2 1 0.2 4 0.2 -3 0.2 1.3 0.3 -0.7 0.2 -3.3 0.2 2.2 0.2 1.8 0.2 -3.1 0.2 5.3 0.3 -6.8 0.2 3.1 0.2 -1.2 0.2 0.9 0.2 -2.3 0.3 3.8 0.2 -0.4 0.2 2.4 0.2 0.1 0.2 -4.1 0.2 2.6 0.3 -3.4 0.2 4 0.2 -1.7 0.2 3.5 0.2 -4.8 0.2 2.5 0.3 -1.7 0.2 -2.1 0.2 0.7 0.2 -1.2 0.2 1.1 0.2 0.9 0.3 2.5 0.2 -1.3 0.2 -2.1 0.2 2.4 0.2 -1.2 0.2 1.4 0.3 -4 0.2 2.5 0.2 1.4 0.2 -3.9 0.2 3.4 0.2 -1.9 0.3 -3.2 0.2 1.9 0.2 3.7 0.2 0.9 0.2 -2.2 0.2 0 0.3 0.7 0.2 -1.8 0.2 0.6 0.2 0.4 0.2 2.8 0.3 -0.3 0.2 -4 0.2 3.4 0.2 -6.6 0.2 6 0.2 -1.5 0.3 -1.2 0.2 -1.4 0.2 1.5 0.2 0.2 0.2 4.4 0.2 -1.3 0.3 -2.2 0.2 1.7 0.2 -3.2 0.2 2.6 0.2 -0.5 0.2 -1.2 0.3 -1 0.2 3.4 0.2 -0.6 0.2 3.1 0.2 -2.4 0.2 -2.2 0.3 0.1 0.2 -1.4 0.2 3.1 0.2 -1.7 0.2 4.7 0.2 -2.9 0.3 -3.6 0.2 6.3 0.2 -1.8 0.2 -1.5 0.2 1.3 0.2 0.9 0.3 -3.3 0.2 1.3 0.2 -3 0.2 1.9 0.2 0.2 0.3 0.9 0.2 -1.9 0.2 2.2 0.2 -0.7 0.2 -1.4 0.2 1.6 0.3 -3.7 0.2 5.7 0.2 -2.2 0.2 -3.6 0.2 0.6 0.2 1.8 0.3 -1.6 0.2 3.9 0.2 -1.1 0.2 3.2 0.2 -3 0.2 -1 0.3 -1 0.2 3.5 0.2 -4.4 0.2 1.5 0.2 0.5 0.2 2.3 0.3 -2.1 0.2 1.7 0.2 -2.2 0.2 -1.6 0.2 2.4 0.2 1.9 0.3 -2.2 0.2 0.4 0.2 -1.8 0.2 0.9 0.2 -2.2 0.2 6.8 0.3 -3.5 0.2 0.5 0.2 -0.7 0.2 3.3 0.2 -5.1 0.3 2 0.2 1.6 0.2 -2.3 0.2 -1.3 0.2 1.3 0.2 -0.2 0.3 1.3 0.2 -4.5 0.2 5.4 0.2 -2.3 0.2 1.7 0.2 -0.4 0.3 -2.7 0.2 2 0.2 -1.4 0.2 2.2 0.2 -1 0.2 -1.9 0.3 3.8 0.2 1.6 0.2 -3.6 0.2 0.5 0.2 -2.4 0.2 1.9 0.3 3.2 0.2 -2.5 0.2 2.8 0.2 -2.7 0.2 0.9 0.2 -1.4 0.3 1.9 0.2 -3.5 0.2 0.7 0.2 1.8 0.2 -1 0.2 -1.4 0.3 3.4 0.2 0.5 0.2 -5.6 0.2 5.3 0.2 -0.2 0.3 0.3 0.2 -0.8 0.2 -3.3 0.2 -0.9 0.2 0.7 0.2 0.6 0.3 2.1 0.2 -2.3 0.2 1.9 0.2 -1.1 0.2 1.9 0.2 -0.3 0.3 -2.6 0.2 1.8 0.2 -0.8 0.2 0.8 0.2 1.3 0.2 -4 0.3 2.4 0.2 1 0.2 -2.4 0.2 -0.8 0.2 1.5 0.2 3.5 0.3 -3.2 0.2 0.9 0.2 0.9 0.2 -0.4 0.2 -1.1 0.2 -0.2 0.3 1.5 0.2 -1.2 0.2 3.4 0.2 -0.6 0.2 -3.9 0.2 -0.9 0.3 3.4 0.2 -0.4 0.2 -0.8 0.2 0.4 0.2 0.3 0.3 0.4 0.2 -0.8 0.2 -1.4 0.2 2.2 0.2 -0.9 0.2 -0.5 0.3 0.2 0.2 1.4 0.2 -2.9 0.2 3.7 0.2 -1 0.2 -1.7 0.3 0.4 0.2 0.4 0.2 0.8 0.2 -1.8 0.2 -0.6 0.2 -3.3 0.3 6.9 0.2 -1.1 0.2 -3.2 0.2 1.4 0.2 0.2 0.2 -1.2 0.3 -0.4 0.2 2.1 0.2 0 0.2 2.4 0.2 -3.6 0.2 -0.3 0.3 0.4 0.2 2.8 0.2 1.3 0.2 -4.2 0.2 2.5 0.2 0 0.3 -4.2 0.2 2.9 0.2 0.8 0.2 -2.6 0.2 2 0.3 -2.1 0.2 -1.6 0.2 3.8 0.2 1.8 0.2 -2.5 0.2 -2.3 0.3 -0.7 0.2 0.8 0.2 1 0.2 -0.1 0.2 3 0.2 2.4 0.3 -4.1 0.2 1.4 0.2 -0.5 0.2 1.2 0.2 -3.2 0.2 4.2 0.3 -1.3 0.2 -3.5 0.2 2.8 0.2 -0.2 0.2 -1.3 0.2 1.2 0.3 -1.8 0.2 -0.6 0.2 1.3 0.2 -0.5 0.2 1.2 0.2 0.5 0.3 1.4 0.2 -4.6 0.2 1.3 0.2 4.2 0.2 -3.7 0.2 0.5 0.3 -1.8 0.2 1 0.2 0.7 0.2 0.8 0.2 0.7 0.3 -3 0.2 1.1 0.2 -0.4 0.2 0.6 0.2 -0.3 0.2 1.7 0.3 0.4 0.2 -0.8 0.2 -0.7 0.2 0 0.2 0.9 0.2 -0.5 0.3 -2.8 0.2 6.6 0.2 -1.6 0.2 -3.8 0.2 4.2 0.2 -5.2 0.3 0.1 0.2 3.8 0.2 -0.8 0.2 -1 0.2 1.7 0.2 -2.9 0.3 0.9 0.2 4 0.2 -0.8 0.2 -4.3 0.2 3.7 0.2 -2 0.3 0.5 0.2 -0.5 0.2 1.2 0.2 -1.8 0.2 -2 0.2 2.7 0.3 -0.4 0.2 0.3 0.2 -0.2 0.2 0.2 0.2 -1.3 0.3 2.6 0.2 1.5 0.2 -5.4 0.2 2.8 0.2 -0.9 0.2 -0.2 0.3 -0.8 0.2 4.5 0.2 -1.3 0.2 -1.6 0.2 -0.2 0.2 1.3 0.3 -2.2 0.2 3.7 0.2 0.1 0.2 -0.8 0.2 -2.1 0.2 -4.1 0.3 5.1 0.2 0 0.2 1.7 0.2 -4.9 0.2 3.7 0.2 -1.5 0.3 -2.1 0.2 4.5 0.2 0 0.2 -2.8 0.2 0.4 0.2 1.3 0.3 -2.2 0.2 2.4 0.2 0.2 0.2 0.9 0.2 0.1 0.2 -0.8 0.3 -2.9 0.2 1.3 0.2 0.9 0.2 0.2 0.2 1.5 0.3 -2.4 0.2 -0.4 0.2 -1.4 0.2 3.9 0.2 -4.6 0.2 2.3 0.3 0 0.2 0.2 0.2 3 0.2 -4.1 0.2 0.4 0.2 2.3 0.3 0.6 0.2 -2.7 0.2 1.2 0.2 2.1 0.2 -1.9 0.2 -0.6 0.3 2.3 0.2 -2.9 0.2 -1.5 0.2 2.7 0.2 -0.9 0.2 1.4 0.3 0.3 0.2 -3.5 0.2 3.6 0.2 -4.6 0.2 3.8 0.2 -0.1 0.3 2.1 0.2 -1.7 0.2 -2.3 0.2 1.1 0.2 -0.6 0.2 -1.3 0.3 2.7 0.2 -1.3 0.2 -3.8 0.2 5.5 0.2 -3.2 0.3 4.4 0.2 -2.7 0.2 -1.6 0.2 4.3 0.2 -1.7 0.2 2.3 0.3 -3.3 0.2 1.9 0.2 -2.3 0.2 -1.4 0.2 2.8 0.2 0.8 0.3 -2.6 0.2 4.7 0.2 -2.9 0.2 0.9 0.2 1.8 0.2 -4.8 0.3 2.1 0.2 0.6 0.2 -0.8 0.2 1.1 0.2 0.7 0.2 -1.9 0.3 -0.2 0.2 -0.4 0.2 0.2 0.2 1.2 0.2 -4 0.2 2 0.3 -0.6 0.2 4.2 0.2 -1.8 0.2 0 0.2 -2.6 0.2 2.5 0.3 0.6 0.2 -0.7 0.2 1.6 0.2 -1 0.2 -1.4 0.3 -1.6 0.2 4.5 0.2 -7.5 0.2 4.7 0.2 -1.1 0.2 2.6 0.3 -1.5 0.2 -0.3 0.2 -0.7 0.2 1.7 0.2 0.7 0.2 -0.9 0.3 -1.4 0.2 -3.5 0.2 6 0.2 -0.1 0.2 0.6 0.2 -0.3 0.3 -3.8 0.2 2.4 0.2 -0.7 0.2 -2.8 0.2 1.6 0.2 0 0.3 1.2 0.2 -0.5 0.2 0.3 0.2 -1.2 0.2 -0.9 0.2 2.3 0.3 -0.1 0.2 -0.7 0.2 0 0.2 -1.4 0.2 -0.1 0.2 2.3 0.3 0.2 0.2 1.1 0.2 -0.5 0.2 -2.3 0.2 0.1 0.3 5.8 0.2 -4.5 0.2 1.1 0.2 -1.4 0.2 -1.3 0.2 3.2 0.3 0.9 0.2 -2.6 0.2 0.4 0.2 -2 0.2 2.7 0.2 0.8 0.3 -0.8 0.2 1.2 0.2 -1.5 0.2 -1.5 0.2 1.9 0.2 2.5 0.3 -1.7 0.2 -3.2 0.2 -0.6 0.2 0 0.2 2.2 0.2 1.7 0.3 -1.9 0.2 -1.4 0.2 0.9 0.2 2 0.2 -2.4 0.2 -0.3 0.3 5.3 0.2 -2.1 0.2 -3.5 0.2 0.6 0.2 0.5 0.2 -0.8 0.3 1.6 0.2 0.3 0.2 -1.9 0.2 3.7 0.2 -1 0.3 -5.2 0.2 4.1 0.2 -2.4 0.2 0.2 0.2 0.2 0.2 0.9 0.3 5.2 0.2 -6.4 0.2 1.1 0.2 -0.8 0.2 -0.3 0.2 -2.8 0.3 6.4 0.2 -2.3 0.2 -4.1 0.2 5.7 0.2 -2.9 0.2 0.6 0.3 0.9 0.2 3.4 0.2 -2.9 0.2 1.1 0.2 0.3 0.2 -0.1 0.3 -0.3 0.2 -1.6 0.2 3.2 0.2 -2.3 0.2 0.1 0.2 1.7 0.3 -1.2 0.2 -0.6 0.2 0.9 0.2 1.9 0.2 -3.2 0.2 0.7 0.3 -0.7 0.2 3.3 0.2 -5 0.2 3.9 0.2 -2.6 0.3 1.2 0.2 1.9 0.2 -1.6 0.2 -3.8 0.2 1.1 0.2 -0.3 0.3 1.6 0.2 -0.3 0.2 3.5 0.2 -5.1 0.2 0.2 0.2 2.5 0.3 -0.4 0.2 0.9 0.2 -1.9 0.2 -0.5 0.2 -1.7 0.2 2.5 0.3 0.3 0.2 -0.9 0.2 1.6 0.2 -0.3 0.2 -0.5 0.2 -2.2 0.3 0.1 0.2 1.9 0.2 -1.5 0.2 1.4 0.2 1.5 0.2 1.2 0.3 -2.9 0.2 0.7 0.2 0.1 0.2 0.8 0.2 -1.3 0.2 2.4 0.3 -2.8 0.2 1.4 0.2 -0.3 0.2 -0.3 0.2 4.3 0.3 -4.2 0.2 -4 0.2 6.4 0.2 -4 0.2 3 0.2 -3.1 0.3 3 0.2 -0.2 0.2 1.1 0.2 -3.9 0.2 1.2 0.2 4.9 0.3 -3.9 0.2 0.5 0.2 0.5 0.2 -2.5 0.2 1.8 0.2 -0.9 0.3 0 0.2 -0.4 0.2 0.8 0.2 -3.5 0.2 6.7 0.2 -0.5 0.3 -0.6 0.2 -1.8 0.2 -2.9 0.2 1.7 0.2 0.1 0.2 -0.9 0.3 -0.1 0.2 2.8 0.2 -1.2 0.2 0.4 0.2 -0.8 0.2 0 0.3 0.4 0.2 -1.1 0.2 4.8 0.2 -8.3 0.2 2.7 0.3 3.7 0.2 0.9 0.2 -5.3 0.2 1.4 0.2 1.2 0.2 0.5 0.3 -0.3 0.2 1.9 0.2 0.6 0.2 0.1 0.2 -1.1 0.2 0.7 0.3 -3.5 0.2 2 0.2 -1.9 0.2 2.5 0.2 2.2 0.2 -2.6 0.3 -1.4 0.2 2.8 0.2 0 0.2 -2.8 0.2 -0.4 0.2 2.2 0.3 -1.3 0.2 -0.2 0.2 -1.2 0.2 3.7 0.2 -3.5 0.2 0.1 0.3 -0.6 0.2 -0.4 0.2 3.4 0.2 -2.3 0.2 1.1 0.2 -2.8 0.3 3.2 0.2 1.3 0.2 -1.3 0.2 1.4 0.2 -2.6 0.3 2.4 0.2 -1.3 0.2 -1.6 0.2 2.1 0.2 0 0.2 0.3 0.3 -1.6 0.2 3.2 0.2 -5.3 0.2 3.2 0.2 0.8 0.2 -4.6 0.3 3.5 0.2 -2.1 0.2 0.1 0.2 1.8 0.2 1.3 0.2 -1.2 0.3 0.8 0.2 -2.5 0.2 2.7 0.2 -0.4 0.2 -0.6 0.2 1.4 0.3 -5 0.2 5 0.2 -0.6 0.2 -2.4 0.2 -1.7 0.2 5.1 0.3 -3.1 0.2 1.7 0.2 -1.6 0.2 -1 0.2 1.7 0.2 -1 0.3 2.9 0.2 -1.1 0.2 -2.5 0.2 0.4 0.2 -1 0.3 1 0.2 1 0.2 -0.5 0.2 3.2 0.2 -2.1 0.2 0.7 0.3 -3.8 0.2 5.4 0.2 -1.3 0.2 0 0.2 0.6 0.2 -0.1 0.3 -0.3 0.2 -1.3 0.2 -1.2 0.2 0.9 0.2 1.2 0.2 0.2 0.3 -0.1 0.2 -3.1 0.2 -0.8 0.2 4.9 0.2 -0.6 0.2 0.4 0.3 -1.2 0.2 0.4 0.2 -4.4 0.2 -1.1 0.2 3.2 0.2 2.8 0.3 -5.3 0.2 6.3 0.2 -4.2 0.2 2.3 0.2 -1.2 0.2 1.1 0.3 -1.4 0.2 -2 0.2 4.7 0.2 -0.1 0.2 -0.6 0.3 0.1 0.2 -5.6 0.2 3 0.2 1 0.2 -1.5 0.2 4.7 0.3 -3.8 0.2 5 0.2 -4.3 0.2 1.3 0.2 -0.4 0.2 1.8 0.3 -5.1 0.2 3 0.2 -4.2 0.2 5.9 0.2 -0.7 0.2 -4.8 0.3 3.8 0.2 -1.1 0.2 2.5 0.2 -0.7 0.2 -1.2 0.2 1.5 0.3 -1.8 0.2 -1.6 0.2 2.8 0.2 -0.6 0.2 -1.5 0.2 0.2 0.3 1.8 0.2 -2.5 0.2 0.2 0.2 4.3 0.2 -1.9 0.2 -1.8 0.3 3.1 0.2 -0.8 0.2 -0.9 0.2 0.6 0.2 -1 0.3 -3.6 0.2 3.4 0.2 0.7 0.2 1.2 0.2 -4 0.2 0.6 0.3 3.4 0.2 -1.8 0.2 2.6 0.2 -7.1 0.2 5.1 0.2 -1.4 0.3 2.4 0.2 -1.6 0.2 0.6 0.2 -2.9 0.2 0.5 0.2 1.3 0.3 -0.4 0.2 -1.2 0.2 4.7 0.2 -3.5 0.2 0.8 0.2 0.9 0.3 -0.5 0.2 0.9 0.2 -0.8 0.2 -1.5 0.2 1.6 0.2 1.9 0.3 -2.1 0.2 -1.1 0.2 1.1 0.2 3.5 0.2 -1 0.2 -4.5 0.3 1.8 0.2 0.4 0.2 1.3 0.2 -2.5 0.2 -1.2 0.3 2.3 0.2 -0.5 0.2 -0.9 0.2 0.3 0.2 0.4 0.2 -1.7 0.3 5.1 0.2 -1.7 0.2 0.1 0.2 1.5 0.2 -2.7 0.2 -2.1 0.3 3.9 0.2 -2.4 0.2 -0.8 0.2 3.9 0.2 -2 0.2 0.9 0.3 -3.6 0.2 2.4 0.2 -1 0.2 -1.1 0.2 -1.4 0.2 3.5 0.3 -0.1 0.2 0.6 0.2 0.3 0.2 -0.2 0.2 2.3 0.2 -0.6 0.3 -1.4 0.2 -2.9 0.2 2.9 0.2 1.6 0.2 -2.6 0.2 -1.2 0.3 1.3 0.2 2.5 0.2 -1.2"/>
</g>
<path d="M78.5 1206.6h8M78.5 1156.0h5M78.5 1105.3h8M78.5 1054.7h5M78.5 1004.0h8M78.5 953.4h5M78.5 902.8h8M78.5 852.1h5M78.5 801.5h8M78.5 750.8h5M78.5 700.2h8M78.5 1215.0v-7M132.8 1215.0v-4M187.0 1215.0v-7M241.2 1215.0v-4M295.5 1215.0v-7M349.8 1215.0v-4M404.0 1215.0v-7M458.2 1215.0v-4M512.5 1215.0v-7M566.8 1215.0v-4M621.0 1215.0v-7M675.2 1215.0v-4M729.5 1215.0v-7" stroke="#555" stroke-width="1.6" fill="none"/>
<rect x="78.5" y="675.0" width="650.5" height="540.0" fill="none" stroke="#555" stroke-width="2"/>
<g font-family='"Liberation Sans", sans-serif' fill="#1a1a1a">
<text x="67.5" y="1212.1" font-size="19.5" font-weight="bold" text-anchor="end">0,0</text>
<text x="67.5" y="1110.8" font-size="19.5" font-weight="bold" text-anchor="end">0,2</text>
<text x="67.5" y="1009.5" font-size="19.5" font-weight="bold" text-anchor="end">0,4</text>
<text x="67.5" y="908.3" font-size="19.5" font-weight="bold" text-anchor="end">0,6</text>
<text x="67.5" y="807.0" font-size="19.5" font-weight="bold" text-anchor="end">0,8</text>
<text x="67.5" y="705.7" font-size="19.5" font-weight="bold" text-anchor="end">1,0</text>
<text x="78.5" y="1243.5" font-size="19.5" font-weight="bold" text-anchor="middle">0</text>
<text x="187.0" y="1243.5" font-size="19.5" font-weight="bold" text-anchor="middle">1</text>
<text x="295.5" y="1243.5" font-size="19.5" font-weight="bold" text-anchor="middle">2</text>
<text x="404.0" y="1243.5" font-size="19.5" font-weight="bold" text-anchor="middle">3</text>
<text x="512.5" y="1243.5" font-size="19.5" font-weight="bold" text-anchor="middle">4</text>
<text x="621.0" y="1243.5" font-size="19.5" font-weight="bold" text-anchor="middle">5</text>
<text x="729.5" y="1243.5" font-size="19.5" font-weight="bold" text-anchor="middle">6</text>
<text x="403.5" y="1272.0" font-size="24.0" font-weight="bold" text-anchor="middle">Time (sec.)</text>
<text transform="translate(29.4,961.6) rotate(-90)" font-size="26.5" font-weight="bold" text-anchor="middle">Normalized Intensity</text>
<text transform="translate(628.8,778.7) scale(1.18,1)" font-size="31" text-anchor="middle" stroke="#1a1a1a" stroke-width="0.3">(b)</text>
</g>
<rect x="530.3" y="928.8" width="187.7" height="268.0" fill="#fff" stroke="#bbb" stroke-width="1.3"/>
<g font-family='"Liberation Sans", sans-serif' fill="#1a1a1a" font-weight="bold">
<text x="544.2" y="963.5" font-size="20">Un-doped Y<tspan font-size="10" dx="1.7" dy="8">2</tspan><tspan dx="2" dy="-8">O</tspan><tspan font-size="10" dx="1.2" dy="8">3</tspan></text>
<text x="544.2" y="996.3" font-size="20"><tspan font-weight="normal">&#955;</tspan><tspan font-size="10.5" dx="0.5" dy="9" letter-spacing="0.4">exc</tspan><tspan dx="2.4" dy="-9">= 803.5 nm</tspan></text>
<text x="544.2" y="1031" font-size="20">T = 300 K</text>
<path d="M543.8 1054.2h46" stroke="#555" stroke-width="2"/>
<text x="597" y="1060.7" font-size="22">0.61 Watts</text>
<path d="M543.8 1083.9h46" stroke="#e8505a" stroke-width="2"/>
<text x="597" y="1090.4" font-size="22">1.07 Watts</text>
<path d="M543.8 1113.6h46" stroke="#88cc55" stroke-width="2"/>
<text x="597" y="1120.1" font-size="22">1.52 Watts</text>
<path d="M543.8 1143.3h46" stroke="#5a5ab8" stroke-width="2"/>
<text x="597" y="1149.8" font-size="22">1.96 Watts</text>
<path d="M543.8 1173.0h46" stroke="#d060c8" stroke-width="2"/>
<text x="597" y="1179.5" font-size="22">2.38 Watts</text>
</g>
</svg>
</body></html>
